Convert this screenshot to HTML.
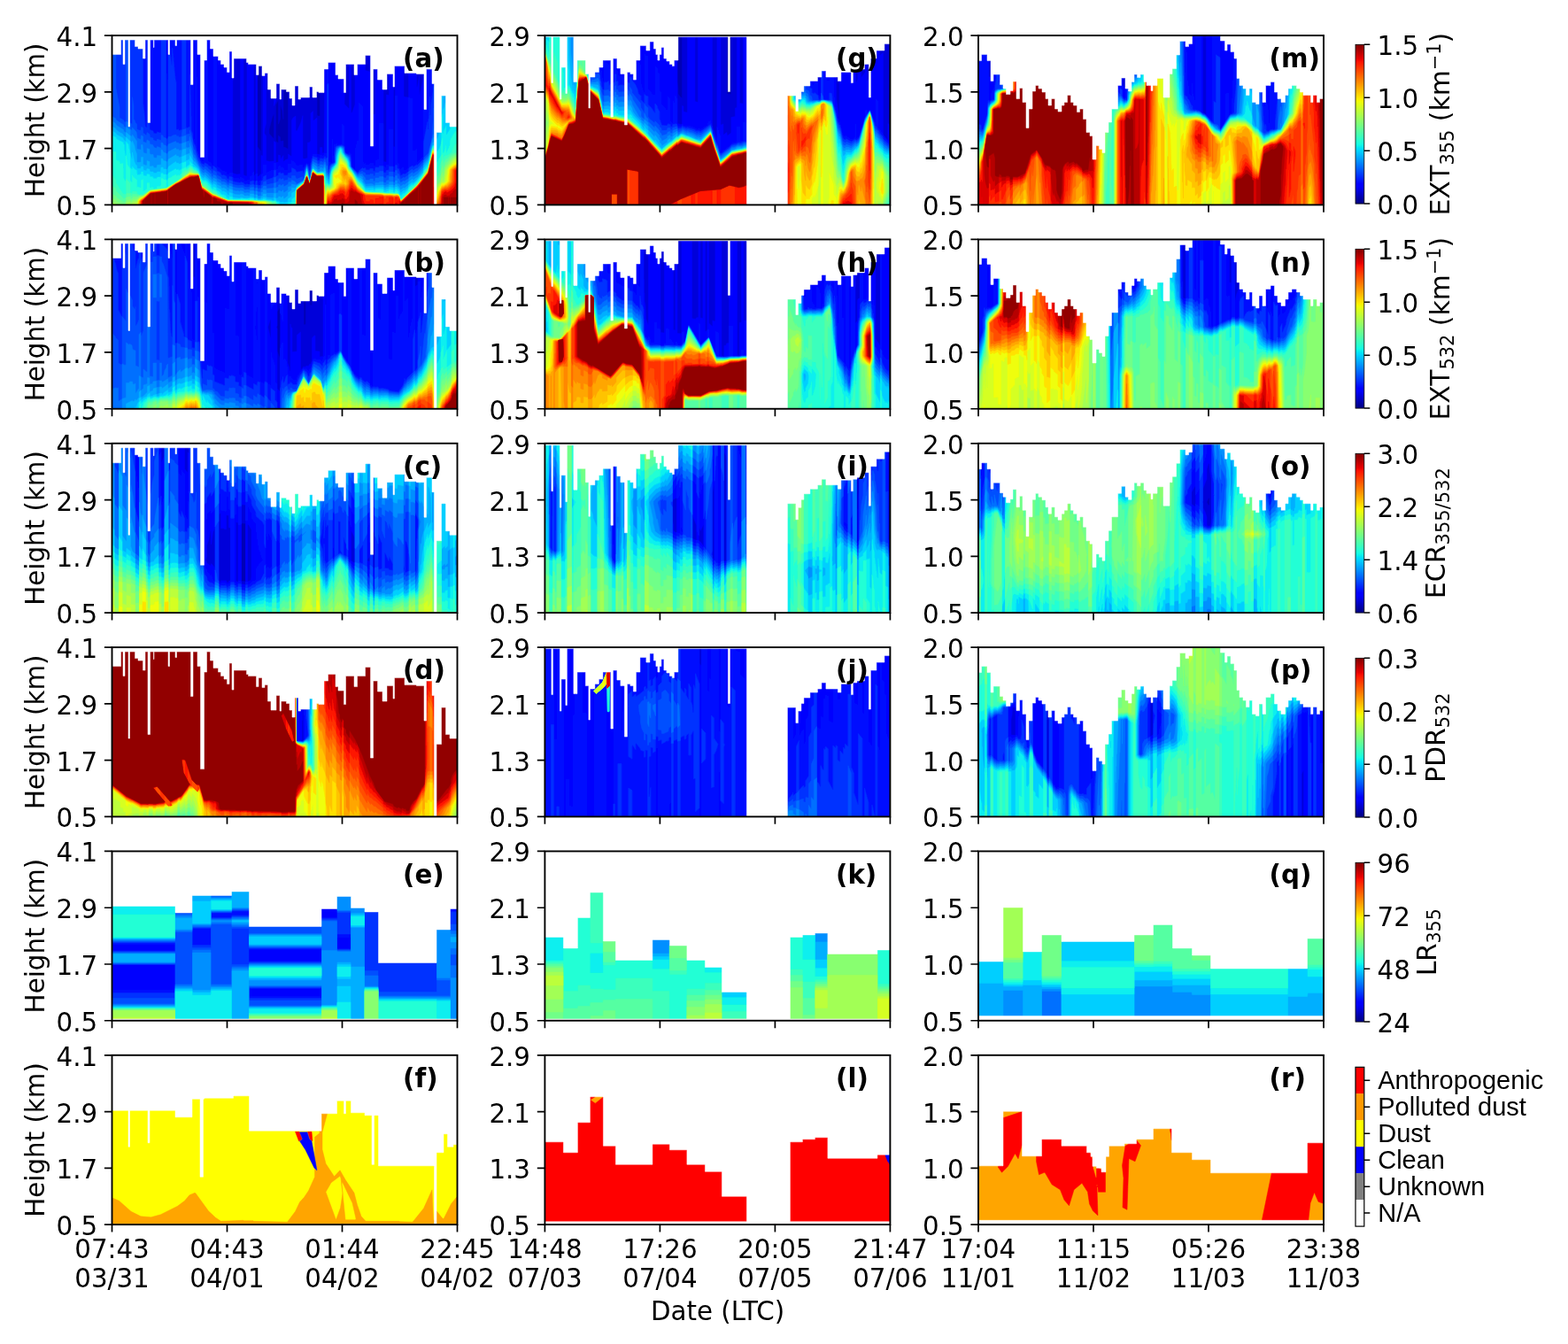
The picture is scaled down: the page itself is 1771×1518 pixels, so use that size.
<!DOCTYPE html><html><head><meta charset="utf-8"><style>
html,body{margin:0;padding:0;background:#fff;}
svg{display:block;}
text{font-family:"DejaVu Sans","Liberation Sans",sans-serif;fill:#000;}
.p path{stroke-width:1;stroke-linejoin:miter}
</style></head><body>
<svg width="1771" height="1518" viewBox="0 0 1771 1518">
<defs><filter id="bl" x="-2%" y="-2%" width="104%" height="104%"><feGaussianBlur stdDeviation="1.3"/></filter><clipPath id="cp"><rect x="0" y="0" width="780" height="382"/></clipPath>
<linearGradient id="jet" x1="0" y1="1" x2="0" y2="0"><stop offset="0.000" stop-color="#000080"/><stop offset="0.110" stop-color="#0000ff"/><stop offset="0.125" stop-color="#0000ff"/><stop offset="0.340" stop-color="#00dbff"/><stop offset="0.350" stop-color="#00e5f7"/><stop offset="0.375" stop-color="#15ffe2"/><stop offset="0.640" stop-color="#efff08"/><stop offset="0.650" stop-color="#f7f600"/><stop offset="0.660" stop-color="#ffec00"/><stop offset="0.890" stop-color="#ff1300"/><stop offset="0.910" stop-color="#e80000"/><stop offset="1.000" stop-color="#800000"/></linearGradient></defs>
<rect width="1771" height="1518" fill="#fff"/>
<g class="p">
<g transform="translate(126.50 40.10) scale(0.5)" clip-path="url(#cp)"><g filter="url(#bl)">
<path fill="#0000b6" stroke="#0000b6" d="M0 0v382h779v-382z"/>
<path fill="#0000da" stroke="#0000da" d="M365 178l1 1v53l-1 1l-10 -11v-10l7 -27zM466 113l6 8l-2 5v55l-1 1h-4l-2 -2v-64zM397 103l2 2l4 12l-5 7v131l-2 1l-2 -2l-7 -2v-14l-5 1l-2 -1v-8l-4 -4v15l-2 1l-4 -4v-81l5 -10l1 1v52l4 -11v-30l1 -1l4 12l2 19v-75zM336 52l1 1v207l-1 1l-8 -10v-183zM0 0v382h779v-382z"/>
<path fill="#0000fe" stroke="#0000fe" d="M366 137v22l4 -10v-8zM695 71l9 9v14l-9 40l-1 -1v-41l-4 24l-1 1l-1 -1v-29l3 -4zM594 66l1 1v111l-7 1l-1 -1v-104zM289 33l1 1v279l-8 1l-10 -3l1 -261zM0 0v382h779v-382h-83l-7 53l-7 11l-12 13v62l-1 1l-8 -1l-2 -2v-137h-19v251l-1 1l-4 -1l1 -165l-10 -11v59l-1 1l-5 -1v151l-1 1l-6 -1v-165l3 -3v-16l-3 -8l-3 -3v-6l7 -16l-3 -19l21 -49h-52v81l-1 1l-10 -3v-14l-21 -20v41l-2 2v68l-6 17l-2 2l-1 -1v-145l-4 -7v142l-1 1l-10 -10l1 -56l-3 -6l-4 -4v-3l-3 -6v-19l10 -60l-1 -1h-114l1 31l4 11l21 33l10 8l12 13l6 11l2 8l13 14l-1 135l-2 2l-2 -1v-12h-5v15l-1 1l-6 -1v-82l-7 6l-2 -1v-20l-5 5v62l-3 4h-4v35l-7 2l-4 -1v-97l-4 15l-9 20l-3 -1v-33l-6 4l-3 6v80l-1 1l-7 -5v11l-6 2l-4 4l-1 -1v-13l-6 9l-1 -9l-4 -1v16l-5 1l-1 -1v-44l-4 -3v45l-10 1l-8 -2v-56l-4 -6l1 -11l3 -11v-122l-4 4l-1 7l-2 2v181l-1 1l-3 -1v41l-5 6l-3 1l-1 -1v-250l9 -18l15 -50l-4 2l-23 39v271l-4 6l-1 -1v-268l-15 12v256l-2 1l-6 -3v-294l11 -21z"/>
<path fill="#0010ff" stroke="#0010ff" d="M0 0v382h779v-382h-83l-7 54l7 18l8 8v193l-15 14l-1 -1v-31l-1 4l-6 3l-2 -1v-118l-9 -2v159l-9 6l-2 -1v-7l-6 3l-2 3l-1 -1l-3 -14l-3 -1v-151h-4v159l-1 1l-4 -1v-83l-9 -1v80l-6 1l-1 5l-6 -1v-97l-1 -1h-8v82l-9 1v12l-1 1l-4 -1v-5h-7l-1 3h-9l-1 -4l-3 3l-3 -9v-122l-8 -8v88l-1 1l-2 -4l-6 24v41l-1 1l-7 -7l-1 -28l-4 -3l-1 2l-6 -1l-2 -2v-10l-2 -4v-44l-6 -7v47l-10 2l-1 -5l-1 3l-4 1l-1 3l-1 -4v32l-1 1l-2 -16l-1 -30v54l-1 1l-7 -2v-286h-78v18l1 7l2 2l58 34l14 12v193l-1 1l-4 -1l-4 7l-2 -2h-5l-1 5l-6 -1v-6l-9 -1l-5 16l-1 10l-2 1l-3 -5l-3 -1l-3 2l-4 8l-2 -1v-5l-15 1l-1 -4l-9 -8v8l-1 1l-7 -1v12l-3 3l-7 -1l-1 -6h-6l-1 -3l-4 1v5l-5 2l-1 -1v-14h-4v15l-17 7l-1 -1v-17h-6l-1 1v19l-4 4v11l-6 3l-3 -1v-18l-3 4v12l-2 2l-3 -1v-21l-3 6v3l-5 3v6l-2 2l-9 1l-3 -1l-1 -4l-7 -2v2l-2 1l-5 -2l-3 1l-7 -2l-1 -10l-7 -1v5l-2 1l-4 -3v-3l-7 -4l-3 1l-4 -6l-9 -6v-254l-7 7v245l-1 1l-2 -1l-3 -5l-6 -3v-285h-13v34l2 2l2 8v5l-3 4v218l4 4l-1 10l-4 -1l-3 -3l-2 -5l1 -1l-3 -3l-5 -15l-1 -257h-4v234l-1 1l-1 -1l-1 -118l-1 -5l-3 -3v-108h-51v42l-2 2v60l-1 1l-4 -29v-76z"/>
<path fill="#0030ff" stroke="#0030ff" d="M0 0v382h779v-295l-22 5l-18 6l-8 4l-5 5l-1 20l-4 27l-1 25l-1 1l-1 -1v-41l-2 49l-1 1v23l-1 1l-1 -1v-16l-9 46v38l-15 15l-1 -2l-8 6l-1 -4l-8 5l-1 8l-6 5l-4 2l-1 -2l-7 5l-4 -15l-4 -2v-7h-4v15l-1 1l-4 -1v-12h-9v8l-6 1l-1 5h-5l-1 -1v-14h-9l-1 3h-8l-1 9l-4 -1v-5h-7l-1 3h-9l-1 -5l-4 2l-2 -2l-8 7l-1 3l-3 1l-14 -14v-15l-2 -10l-2 -2l-1 1l-8 -4l-2 -7v-8l-5 -3l-13 2l-2 2l-2 17v18l-9 4l-3 5v5l-1 1l-1 -1v-188l-1 -5l-2 3v168l-1 1l-4 -7l-4 7l-2 -2h-5l-1 5h-5l-1 -7l-6 -1l-3 -2l-5 19v8l-2 7l-2 -3l-1 -7l-4 -6l-5 11l-1 8l-2 2l-1 -6l-14 3l-3 -6l-8 -4v9l-2 2l-6 1l-1 5h-9l-1 -5l-6 1l-1 -3l-4 2v5l-5 2l-1 -1v-13l-4 1v14l-4 3l-12 4l-2 -1v-9l-6 3l-1 8l-4 2l-1 9l-3 1l-5 -1v-10l-3 1l-1 9l-4 -1v-9l-8 2v5l-2 2l-5 -1l-3 1l-4 -1l-1 -3l-6 -2l-2 2l-16 -3l-1 -10l-7 -1l-1 6l-4 -2l-2 -5l-6 -3l-2 1l-3 -1l-2 -5l-8 -4l-1 -6l-7 -5l-1 9l-4 -4v-3l-5 -2l-3 -4l-6 -3l-2 4l-6 -3l-8 -16l-7 -27l-1 1l-4 -12v-12l-3 -9l-3 -126v118l-6 3l-3 -1v-208h-9v212l-2 2l-5 1l-1 -3l-3 1l-2 -1v-105l-2 -8l-7 -71v39l-1 1l-4 -28v-9h-2v11l-2 2v188l-4 2l-1 -1v-233h-11v219l-3 1l-6 -2l-1 4l-7 -1l-1 -5l-8 -3v-17l-2 -2v-194h-4v207l-1 1l-3 -3l-2 -28l-3 -23v-102l2 -2v-21l-9 -14v-15z"/>
<path fill="#0050ff" stroke="#0050ff" d="M0 23v359h779v-295l-30 29h-22v47l-1 1v23l-3 30v14l-3 15l-3 7l-2 13l-10 10l-1 9l-15 16l-1 -1l-7 5l-3 -3l-8 6v7l-10 7l-1 -2l-7 5l-4 -12l-4 -2v-6h-4v15l-1 1l-4 -1v-12h-9v8l-6 1l-1 5l-6 -1v-14h-9l-1 3h-8l-1 8l-4 -1v-4h-7l-1 2h-9l-1 -5l-5 -1l-1 -3l-7 3l-4 4l-15 -16l-3 -23l-12 -9l-1 -12l-4 -3h-7l-5 2l-2 3l-2 17v15l-3 3l-4 1l-4 5l-3 15l-2 -3l-2 -32v17l-1 1l-4 -15l-4 8l-2 -2h-5l-1 5h-5l-1 -7l-9 -4l-4 16l-3 24l-2 -5l-1 -11l-4 -10l-4 12l-3 19l-2 -1v-4l-13 5l-3 -2l-1 -5h-8v5l-2 1l-6 -2l-1 6h-5l-4 2l-1 -6l-6 3l-1 -3l-3 1l-1 5l-5 3l-1 -1v-11l-4 1v11l-2 2l-15 3l-1 -8l-6 2l-1 6l-4 2v6l-8 1l-1 -8h-3v5l-4 2l-1 -8l-8 1l-1 4l-7 1l-5 -1l-2 -3l-4 -1l-7 1l-12 -2l-2 -2v-6l-7 -2l-1 6l-4 -2l-1 -3l-4 -3l-7 -1l-2 -4l-8 -4l-2 -2v-5l-7 -4l-1 8l-4 -4v-3l-7 -5v-2l-7 -4l-2 4l-4 -2l-10 -15l-7 -24l-1 1l-4 -11v-12l-6 -22v8l-8 2l-1 -1v-12l-8 2l-2 16l-6 1l-1 -3l-4 1l-1 -4l-9 2l-1 2l-8 1v19l-4 3l-1 -1v-18l-6 -2l-1 -4l-4 -1v11l-1 1l-8 -3l-1 5l-6 -2l-2 -2v-3l-7 -2l-1 -7l-6 -4l-1 7l-8 -6v-11l-2 -2h-2l-1 8l-7 -2l-2 -2v-11l-3 -3l-2 -6l-2 -1v-32l-3 -19v60l-1 1l-4 -3v-197h-9v195l-1 1l-3 -1l-2 -4l-9 -5v-24l-8 -43v-87z"/>
<path fill="#0070ff" stroke="#0070ff" d="M779 87l-38 37l-4 8v78l-10 1v11l-2 3l-10 46l-11 12l-1 9l-14 16l-1 -1l-8 6l-1 -4l-9 6v8l-10 7l-1 -2l-7 5l-4 -9l-4 -1v-6h-4v14l-1 1l-4 -1v-12h-9v8l-6 1l-1 5l-6 -1v-13h-9l-1 3h-8l-1 8l-4 -1v-5h-7l-1 3h-9l-1 -5l-6 -7v-2h-8l-3 3l-6 -8l-4 -3l-6 -9l-3 -20l-10 -8l-3 -13l-4 -4l-1 1l-3 -1l-7 4l-3 18v13l-3 5l-5 2l-4 8l-3 15l-3 -3l-1 -5v-14v12l-1 1l-1 -1v-7l-3 -13l-4 8l-2 -2h-5l-1 4h-5l-1 -6l-8 -4l-1 -2l-5 26v10l-2 6l-2 -3l-1 -14l-4 -13l-3 10l-3 20l-16 10l-5 -6l-7 -3l-1 5l-6 -1l-1 5l-10 6l-1 -6l-6 4l-1 -3l-4 1v4l-5 2l-1 -1v-10l-4 1v9l-3 2l-14 1l-1 -6h-5l-2 1v4l-4 1l-1 8l-8 -1v-9l-3 1l-1 7l-4 -1v-8l-8 1l-1 5l-5 -1l-5 1l-3 -1l-1 -3l-3 -1l-7 1l-12 -2l-3 -2v-5l-7 -2v3l-3 1l-3 -2l-1 -3l-7 -3l-2 1l-3 -2v-2l-9 -4l-2 -6l-6 -2l-1 6l-4 -4v-3l-14 -12l-2 3l-3 -1l-8 -10l-10 -24l-2 -1l-2 -5l-1 -15l-5 -14l-1 -7l-1 10l-7 2l-1 -1v-13l-9 3v14l-1 1l-6 1l-1 -3l-4 1l-2 -4l-17 7v19l-4 3l-1 -1v-18l-6 -2l-1 -4l-4 -1v11l-1 1l-8 -3l-1 4l-6 -2l-3 -6l-5 -1l-2 -2v-5l-6 -3l-1 7l-8 -3v-12l-4 -2l-1 9l-8 -3l-2 -14l-9 -10l-1 7l-4 -4v-12h-2l-1 -3h-3l-3 -2v13l-1 1l-5 -3v-3l-17 -11v-3l-9 -5v199h779z"/>
<path fill="#008fff" stroke="#008fff" d="M779 87l-38 37l-4 8v79l-6 7v11l-4 1l-2 3l-10 43l-11 13v7l-13 17l-11 7l-2 -3l-7 5l-1 8l-10 8l-1 -2l-7 5l-3 -5l-5 -2v-6h-4v10l-1 1l-4 -1v-7h-9v5l-6 1l-1 2l-6 -1v-7h-9l-1 2h-8l-1 5h-3l-1 -2l-5 -1l-12 1l-7 -13v-3l-5 -3l-6 1l-14 -17l-3 -5l-1 -11l-4 -10l-8 -7l-2 -4l-1 -8l-3 -3l-4 -1l-5 4l-2 5l-2 13v12l-11 14l-5 22l-1 -3l-2 -1l-1 -8v3l-1 1l-1 -1l-3 -21l-4 9l-2 -2h-5l-1 4h-5l-1 -6l-9 -7l-2 7l-2 19l-3 10l-2 -2l-5 -26l-6 29l-18 11l-10 -2l-1 5l-7 1v7l-9 6l-2 -1v-5l-5 4l-2 -2h-4v4l-5 1l-1 -1v-10h-4v10l-1 1h-16l-1 -7h-7v5l-4 1v7l-7 1l-2 -2v-9h-3v7l-4 1l-1 -9h-8l-1 5l-5 -1l-6 1l-3 -2v-2l-7 -1l-1 2l-5 -2l-3 1l-7 -2l-2 -2v-6l-7 -2l-1 5l-4 -2l-2 -4l-6 -2l-3 1l-3 -2v-2l-9 -4l-1 -5l-7 -3l-1 5l-4 -3v-2l-8 -9l-6 -4l-2 3l-5 -3l-16 -31l-2 -1l-2 -4l-1 -11l-6 -16v-3v8l-2 2l-3 1l-4 -1v-12l-9 3v14l-1 1l-6 1l-1 -3l-4 1l-2 -4l-17 9v20l-4 3l-1 -1v-19l-6 -2l-2 -5l-3 -1v13l-1 1l-8 -1l-1 6l-7 -1l-1 -7h-5l-3 -2v-10l-6 -2v11l-1 1l-7 -2l-2 -18h-3v10l-1 1l-7 -1l-2 -2v-16l-10 -15l-1 5l-4 -4v-12l-9 -6v12l-1 1l-5 -4v-3l-15 -9l-4 -6l-7 -4v188h779z"/>
<path fill="#00afff" stroke="#00afff" d="M779 87l-38 37l-4 8v79l-6 7v21l-6 3l-10 39l-11 13v8l-15 20l-1 -1l-8 7l-1 -4l-9 7v7l-10 8l-1 -2l-7 5l-4 -7l-4 -2v-3h-4l-1 7l-4 -1v-5h-9l-1 4h-5l-1 2h-5l-1 -6l-18 1l-1 3h-3l-1 -2l-17 1l-1 -3l-6 -7v-4l-5 -5l-6 -1l-15 -20l-3 -6l-1 -10l-3 -7l-8 -8l-5 -14l-4 -3l-4 3l-4 11l-2 21l-3 5l-6 5l-5 17v6l-2 7l-3 -5l-1 -7v3l-1 1l-1 -1l-3 -20h-1l-3 9l-2 -2h-5l-1 3h-5l-1 -6l-3 -1l-6 -6l-6 30l-1 1l-2 -2l-5 -25l-2 14l-4 14l-15 10l-5 7l-8 -1v6l-8 5v7l-9 7l-2 -1v-5l-6 4l-1 -3h-4v3l-4 1l-2 -2v-9h-4l-1 10l-14 -1l-3 -2v-6h-7v5l-4 1l-1 4h-7l-1 -8h-3v6l-4 1l-1 -9h-8l-1 5l-5 -1l-6 1l-4 -4l-5 -1l-2 2l-11 -1l-6 -3v-7l-7 -2l-1 6l-4 -2l-2 -4l-7 -3l-1 2l-4 -3v-2l-9 -4l-1 -5l-7 -3l-1 5l-4 -4v-2l-14 -13l-2 3l-7 -6l-6 -15l-8 -12l-1 1l-4 -6v-8l-6 -15v8l-2 2l-6 2l-1 -1v-12l-8 2l-2 16l-6 2l-1 -4l-1 1l-4 -1v-3l-18 11v20l-4 3l-1 -1v-18l-6 -1l-1 -4l-4 -1v14l-9 1l-1 6h-7l-1 -4l-7 1l-1 -1v-10l-6 -2v10l-2 1l-7 -3v-16h-4v11l-8 1l-2 -2v-17l-4 -11l-1 -7l-5 -12l-1 5l-4 -5v-11l-9 -8v10l-1 1l-5 -4l-2 -4l-5 -2l-9 -6l-2 -4l-8 -4v176h779z"/>
<path fill="#00cfff" stroke="#00cfff" d="M779 152h-26l-2 10l-3 6l-1 -1v-49l-8 9l-2 5v79l3 3v7l-5 13l-4 -1v14l-6 1l-5 21l-2 2l-3 15l-11 14l-1 9l-17 20l-5 4l-3 -1l-8 6v5l-9 8l-2 -1l-7 6l-4 -9l-3 -1l-1 -3h-4l-1 6h-3l-1 -5l-9 -1l-1 4h-5l-1 2h-5l-1 -6l-18 1l-1 3h-3l-1 -3l-17 1l-10 -16l-10 -8l-8 -11l-9 -15v-5l-4 -11l-7 -8l-4 -7l-2 -7l-3 -3l-3 3l-5 18l-1 13l-2 4l-7 7l-3 8l-5 27l-4 -9v-4v4l-1 1l-1 -1l-3 -19l-2 3h-17l-9 -8l-6 27l-2 -2l-5 -24l-1 9l-5 18l-17 13l-2 9l-9 5v8l-8 5l-1 7l-9 2l-1 -2l-6 1l-5 -4l-1 1l-4 -1l-1 -5l-4 -1v5l-2 1l-5 -2l-10 -1l-1 -3l-6 -1l-2 3l-3 -1l-1 3h-5l-3 -2v-2l-7 2l-1 -3l-8 -1l-1 2l-13 1l-4 -2h-4l-1 2l-15 -2l-2 -2v-7l-7 -2v5l-1 1l-3 -1l-3 -5l-6 -3l-2 1l-2 -1l-2 -4l-7 -3l-3 -3l-1 -4l-6 -3l-1 5l-11 -14l-8 -6l-1 3l-4 -2l-3 -3l-6 -17l-13 -12v-7l-6 -11l-1 9l-7 3l-1 -1v-12l-9 4v13l-2 2l-5 2l-1 -3l-4 1l-2 -4l-17 12v16l-3 2l-2 -1v-12h-6l-1 -4h-4l-1 10h-8l-1 3h-7l-1 -3h-6l-2 -2v-4l-6 -1l-1 5l-7 -2l-1 -8h-4l-1 5h-8l-1 -7l-3 -3l-3 -7l-4 -20v14l-1 1l-1 -1l-3 -13v-26l-9 -9l-1 10l-5 -5l-1 -3l-15 -8l-2 -4l-8 -4v166h779z"/>
<path fill="#08efef" stroke="#08efef" d="M387 381l-1 1h-3h4zM0 226v156h380l-4 -6l-1 1l-4 -2l-1 -2l-5 1l-16 -1l-3 -3h-5l-1 2l-11 1l-1 -3l-2 -1l-2 3h-2l-2 -4h-8l-8 2l-2 -1l-29 1l-1 -5l-7 -1v4l-2 1l-4 -3l-2 -4l-6 -3l-1 1l-3 -1l-3 -5l-8 -5v-3l-2 -2l-5 -2l-1 5l-4 -5l-1 -4l-8 -9l-5 -3l-2 2l-4 -2l-3 -3l-6 -18l-7 -7h-3l-3 -3v-4l-6 -7v7l-8 6l-1 -1v-11l-9 3v14l-7 3l-1 -3l-4 2l-2 -3l-17 10v14l-2 2l-3 -1v-12h-6l-1 -3h-4l-1 9h-8l-1 3h-7l-2 -4h-6l-1 -5l-6 -1l-1 5l-7 -2l-1 -8h-4v4l-2 2l-7 1l-1 -10l-5 -3l-5 -6l-1 7l-4 -5v-31l-4 -21l-5 -6v32l-1 1l-2 -9l-1 -17l-2 -2v-3l-16 -8l-1 -4zM779 187l-3 6l-12 13v5l-8 13l-1 -1v-19l-6 12v4l-1 1l-1 -1v-43l-2 7h-8v27l7 7v25l-4 11l-5 9l-1 -2l-4 -1v-10l-5 -1l-10 42l-10 13l-1 6l-13 17l-11 10l-2 -1l-8 7v4l-10 10l-1 -1l-7 6l-3 -5l-1 -5l-3 -1l-1 -3h-4l-1 7l-4 -2v-4l-9 -1l-1 4h-5l-1 2h-5l-1 -6l-7 -1l-11 1l-1 3h-3l-1 -2l-8 1l-9 -1l-7 -11v-2l-12 -11l-19 -30l-2 -11l-3 -6l-5 -5v-2l-5 -6l-1 -5l-3 -4l-5 11l-4 23l-10 14l-3 11l-2 19l-2 2l-3 -2l-1 -7v4l-1 1l-1 -1l-3 -19l-4 -2h-13l-10 -9l-7 28l-2 -2l-5 -22l-6 25l-10 7l-7 8l-2 8v11l-9 6v5l-2 2l-6 1l-2 4h-3h386z"/>
<path fill="#21ffd5" stroke="#21ffd5" d="M0 262v120h377l-9 -8l-5 1l-1 -1l-33 -1l-1 -1l-7 1l-1 -2l-8 -1l-1 2l-20 -2l-2 1h-16l-1 -1l-9 1l-25 -15l-2 -4l-7 -4l-2 2l-13 -17l-4 -3l-3 1l-4 -2l-8 -21l-11 -7l-2 -4l-6 -4v2l-7 6l-2 -1v-2l-9 4v8l-7 7l-1 -2l-4 3l-1 -4l-9 4l-1 2l-8 3v18l-4 3l-1 -1v-17h-5l-2 -3h-4v16l-3 2h-6l-1 6l-7 1l-1 -5l-7 1l-1 -1v-10h-6v14l-8 5l-1 -1v-26l-4 2v16l-1 1l-9 -2v-16l-7 -5l-3 -6v16l-1 1l-4 -4v-27l-6 -9l-3 -21v58l-1 1l-5 -8l-1 -33l-7 1l-1 -7h-4l-4 -2v-18zM779 218l-2 2l-1 -4l-12 20v10l-8 19l-1 -1v-16l-4 14l-3 4l-1 -1v-33l-3 10v29l-4 5l-5 11l-5 -1v-34l-5 -1l-11 45l-9 11l-1 5l-14 19l-10 9l-1 -1l-9 8v4l-18 18l-3 -6v-3l-5 -5v-2h-4l-1 4h-3l-1 -3l-9 -1l-1 3h-11l-1 -3l-2 -1l-17 2l-21 -1l-8 -15l-11 -11l-12 -21l-8 -11l-2 -11l-12 -17l-4 -9l-4 9l-2 17l-2 6l-11 16l-3 15l-1 14l-3 3l-4 -3v-2l-1 3l-1 -1l-3 -15l-4 -10l-13 1l-10 -9l-7 28l-3 -5l-4 -18l-6 24l-16 13l-3 14v17l-2 2l-7 1v3l-3 1h376z"/>
<path fill="#3bffbc" stroke="#3bffbc" d="M0 313v69h372l-2 -2v-4l-3 -1l-4 1l-16 -3l-17 1l-18 -2l-1 1l-38 -1l-1 -1l-9 1l-25 -14l-2 -3l-7 -4l-1 2l-11 -10v-2l-7 -7l-2 1l-5 -3l-5 -11l-3 -11l-8 -6l-1 1l-3 -2l-1 -3l-5 -3l-9 9l-1 -3l-9 7v7l-7 9l-1 -1l-4 5l-16 9l-6 5l-38 5l-17 11h-2l-1 -2l-1 2h-3l-6 -4v-3l-10 -1v3l-4 1l-1 -1v-21l-9 -10v34l-5 1l-4 -4l-14 -22v-6zM779 244l-2 3l-1 -3l-9 20l-11 8l-2 -2l-6 8l-1 -10l-3 3v15l-5 10l-3 12l-2 2l-4 -1v-54h-3l-2 -2l-11 45l-10 13v3l-12 17l-22 20l-1 6l-17 16l-4 -14l-4 -2h-13l-1 -1l-5 1l-12 -2h-22l-19 -2l-5 -6l-2 -6l-6 -8l-5 -4l-11 -20l-9 -12l-2 -10l-3 -6l-4 -4v-2l-8 -10l-1 -4l-4 11l-2 16l-13 21l-2 11v11l-2 6l-3 3l-4 -4l-1 2l-3 -3l-5 -24h-14l-10 -8l-5 26l-2 1l-6 -21l-2 11l-4 11l-16 15l-3 17v18l-3 1h367z"/>
<path fill="#55ffa2" stroke="#55ffa2" d="M0 339v43h370v-3l-3 -2l-2 1l-8 -3l-9 -1l-75 -1l-1 -1l-8 1l-17 -8l-18 -11l-1 2l-19 -18l-1 1l-7 -7l-6 -21l-7 -4l-5 -1l-1 -3l-6 -3v2l-8 8l-1 -3l-8 8l-1 6l-35 24l-36 4l-18 12h-11l-1 1l-1 -3h-10v2l-4 2l-1 -6h-8l-1 9l-5 3l-18 -18v-5zM779 265l-6 1l-8 4l-9 10l-1 -2l-7 13l-1 -10l-3 5v16l-8 16l-5 1l-1 -1v-61h-3l-2 -2l-10 43l-11 15l-1 5l-12 17l-39 38l-5 -15l-74 -4l-7 -7l-5 -9l-8 -9l-10 -19l-9 -12l-5 -15l-4 -4v-2l-4 -4l-5 -9l-3 8l-3 18l-12 19l-3 27l-5 5l-4 -3l-1 3l-3 -3l-2 -5l-3 -22l-13 1l-10 -9l-6 27l-2 1l-6 -20l-1 7l-5 14l-16 14l-2 8l-1 28h364z"/>
<path fill="#6fff88" stroke="#6fff88" d="M0 358v24h368l-2 -3l-1 3l-5 -5l-14 -3l-10 1l-16 -2h-57l-23 -10l-5 -4l-8 -2l-18 -16l-1 1l-7 -8l-6 -22l-7 -3h-4l-2 -3l-5 -2l-9 10l-1 -2l-10 11l-34 22l-37 5l-17 12l-9 1l-3 3l-1 -2l-9 1l-1 3l-4 2l-1 -6l-9 2v8l-5 3l-9 -5l-1 -2l-6 -3l-2 -4zM779 269l-6 1l-8 5l-9 13l-1 -2l-7 18l-1 -10l-3 7v13l-7 12l-3 3h-3l-1 -1v-69h-3l-2 -3l-11 46l-10 13v3l-14 19l-38 36l-4 -13l-2 -2l-32 -1l-17 -2l-5 1l-20 -2l-17 -20l-11 -21l-10 -13l-5 -15l-4 -4v-2l-5 -5l-1 -3l-2 -1l-1 -3l-6 26l-9 12l-3 7l-1 23l-3 5l-4 3l-1 -2l-3 -1l-1 3l-3 -1l-2 -2l-3 -28h-15l-8 -8l-6 27l-1 1l-3 -4l-4 -14l-6 19l-16 14l-2 9l-1 26h364z"/>
<path fill="#88ff6f" stroke="#88ff6f" d="M0 368v14h361l-3 -4l-10 -3l-88 -3l-34 -15l-17 -14l-1 1l-4 -3l-3 -4l-6 -24l-12 -2l-1 -2l-6 -2l-4 5l-11 7l-6 6l-32 21l-36 4l-16 12l-8 2l-8 6l-8 1l-3 4l-3 -1v-3l-8 2l-1 6l-4 3l-8 -2l-10 -5l-1 -3zM779 272l-9 4l-6 6l-8 12l-1 -1l-3 6l-3 16l-1 1l-1 -1v-7l-3 6l-1 13l-9 10h-3l-1 -1v-76h-3l-2 -2l-10 44l-24 34l-39 38l-4 -14l-5 -2l-7 1l-1 -1h-18l-9 -2l-35 -1l-18 -19l-13 -25l-8 -9l-5 -15l-12 -14l-1 -4l-6 27l-9 11l-2 5l-1 19l-2 9l-6 5l-1 -2l-3 -1l-1 4h-4l-4 -33l-2 -1l-11 1l-10 -8l-6 26l-1 1l-2 -1l-5 -15l-6 17l-16 14l-2 11v23l-1 1h364z"/>
<path fill="#a2ff55" stroke="#a2ff55" d="M0 377v5h9l-1 -2zM32 379v3h325l-2 -4l-9 -3l-68 -1l-1 -1h-15l-35 -15l-18 -14l-3 -1l-5 -6l-6 -24l-11 -1l-8 -3l-23 18l-30 19l-37 5l-15 12l-9 3l-6 8l-9 2l-4 4l-2 -1v-3zM779 276l-6 2l-9 9v2l-6 6l-2 4l-1 -1l-2 5l-4 24l-1 1l-1 -1v-8l-3 6v6l-6 5l-3 7l-4 1l-1 -1v-81h-3l-2 -3l-11 46l-25 34l-37 35l-5 -15l-67 -3l-9 -2l-17 -18l-12 -24l-10 -12l-3 -11l-12 -13l-1 -3l-6 26l-8 8l-3 8v20l-2 7l-5 4h-2l-1 -2h-3v3l-5 4l-4 -38h-15l-8 -8l-6 26l-1 1l-2 -1l-5 -15l-6 17l-16 14l-2 12v23h363z"/>
<path fill="#bcff3b" stroke="#bcff3b" d="M41 381l-4 1h4zM46 381v1h308l-6 -6l-7 -1l-7 1l-14 -2h-47l-1 -1h-10l-13 -5l-14 -7l-7 -2l-24 -17l-3 -4l-6 -24l-19 -4l-21 16l-33 21h-8l-6 2l-15 1l-8 2l-13 11l-9 4l-4 4l-3 7zM779 279l-6 3l-12 13l-4 8l-2 1l-4 26l-2 2l-2 -1l-3 1v2l-7 8l-2 8l-4 1l-1 -1v-87h-3l-2 -3l-10 44l-25 34l-38 36l-4 -13l-4 -2l-7 1l-10 -2l-8 1l-9 -2l-37 -1l-19 -19l-12 -24l-8 -8l-4 -8l-1 -6l-13 -14l-5 23l-9 9l-2 6v23l-2 5l-7 5l-4 -2l-1 4l-2 1l-3 6l-1 -1l-3 -42l-2 -1l-11 1l-10 -8l-6 26l-1 1l-2 -2l-5 -15l-5 16l-17 15l-2 14v21h64l1 -5l1 5h297z"/>
<path fill="#d5ff21" stroke="#d5ff21" d="M56 382h294l-3 -5l-4 -1h-14l-11 -2h-55l-22 -9l-7 -4l-7 -2l-25 -19l-7 -26l-12 -1l-6 -2l-54 36l-37 5l-14 12l-10 5l-3 4l-1 6zM477 314h-15l-8 -7l-7 26l-3 -4l-4 -13l-6 18l-16 14l-2 14v20h64v-35l-1 -1zM779 283l-7 4l-12 13l-2 4l-1 12l-2 1l-2 14l-4 3l-2 -1l-3 2v2l-4 4l-3 6l-2 8l-4 1l-1 -1v-91h-3l-2 -3l-11 45l-23 31l-39 37l-5 -14l-33 -1l-31 -3l-1 1l-11 -2l-18 -18l-12 -24l-8 -8l-5 -13l-12 -12l-3 19l-3 6l-8 7l-1 3v28l-8 6l-3 1l-1 -2h-2l-5 11v23h297z"/>
<path fill="#effe08" stroke="#effe08" d="M58 382h290l-1 -4l-14 -1l-5 -2l-65 -1l-23 -9l-7 -4l-5 -1l-26 -19l-7 -27h-10l-6 -2h-3l-52 35l-24 4h-8l-7 2l-12 11l-7 3l-6 6zM477 315l-2 -1l-11 1l-10 -8l-7 26l-2 -1l-5 -15l-6 17l-16 14l-2 16v18h63l1 -32l-1 -1zM779 286l-15 11l-4 7l-3 26l-9 7l-1 -2l-3 2v3l-6 9l-3 11l-4 1l-1 -1v-95h-3l-2 -3l-11 45l-25 33l-37 35l-4 -13l-4 -2l-5 1l-10 -2l-4 1l-12 -2l-38 -1l-6 -3l-15 -14l-14 -25v-2l-7 -6l-5 -12l-3 -2v-2l-9 -7l-2 17l-3 6l-10 10l1 17l2 9l-3 3l-11 6l-1 -2l-3 1v5l-3 5v21h296z"/>
<path fill="#ffe100" stroke="#ffe100" d="M59 382h286l-2 -4l-6 -1l-3 1l-14 -3l-58 -1l-35 -14l-25 -19l-7 -26l-19 -2l-53 35l-37 5l-12 11l-13 9zM477 315h-15l-6 -6l-3 -1v4l-6 21l-2 -1l-5 -15l-6 17l-16 14l-2 34h63v-27l1 -2l-1 -1zM779 289l-10 6l-5 5l-2 4l-3 27l-11 8l-1 -2l-3 3v3l-6 10l-3 12l-4 1l-1 -1v-99h-3l-2 -3l-10 43l-25 33l-38 36l-5 -14l-33 -1l-9 -2h-19l-15 -2l-17 -15l-12 -22l-8 -8l-6 -14h-2l-1 -3l-6 -3l-1 3l-2 -3v8l-4 14l-3 3l-1 -1l-3 2h-3l5 6l2 -4l8 8l1 3l-9 5l-1 -1l-2 9l-4 4l-12 7l-1 -3l-2 1l-3 12v18h295z"/>
<path fill="#ffc300" stroke="#ffc300" d="M341 380v2h1l-1 -1zM525 332l1 -1l3 4l-3 1zM60 382h279l-2 -4l-1 3l-2 -3l-14 -3l-58 -1l-24 -9l-2 -2l-8 -2l-26 -19l-7 -27h-12l-1 -1h-6l-7 5h-2l-9 6l-1 2l-21 12l-12 9l-24 4h-9l-6 2l-9 9l-13 9l-2 3zM477 315h-15l-8 -7l-7 26l-3 -4l-4 -13l-5 16l-17 15l-1 34h62v-45l-1 -1zM779 292l-7 3l-8 8l-2 26l-6 7l-8 5l-1 -1l-2 1l-5 11l-5 18l-4 1l-1 -1v-103h-3l-2 -3l-11 44l-23 30l-39 37l-4 -12l-2 -2l-7 1l-7 -2h-18l-18 -2l-5 1l-1 -1h-13l-7 -2l-17 -15l-11 -20l-8 -7l-6 -14l-2 1l-1 -3h-6v3l-3 4v7l3 7v7l2 5l-3 3l-5 2l-5 6v2l-6 5l-5 2l-6 5l-2 -1v-2l-2 2l-3 27h295z"/>
<path fill="#ffa600" stroke="#ffa600" d="M61 382h271l-4 -5l-3 -1l-3 1l-6 -2l-55 -1l-34 -13l-25 -19l-7 -27h-19l-44 27l-9 7l-37 5l-24 21zM477 316h-13l-4 -2l-6 -6l-7 26l-3 -4l-4 -12l-6 17l-16 14l-1 33h62v-43l-1 -1zM779 293l-7 4l-6 6l-2 14v13l-8 9l-1 -1l-7 5l-1 -1l-3 3v3l-3 5l-3 13l-4 9l-4 -1v-105h-3l-2 -4l-11 44l-26 33l-36 34l-4 -13l-5 -2l-4 1l-25 -1l-8 -2l-13 1l-22 -3l-17 -13l-14 -23l-7 -1l-2 -11l-3 -6l-2 1l-1 -3l-6 4v9l6 13l1 -6l4 6l1 9l-3 3h-2l-1 -3l-9 1l-4 4l-1 3l-9 7l-5 2l-7 6l-1 -3l-3 4l-1 22h294z"/>
<path fill="#ff8800" stroke="#ff8800" d="M62 382h267l-1 -4l-2 -1l-2 1l-4 -2l-57 -1l-32 -13h-3l-26 -19l-7 -28l-19 1l-16 9l-6 5l-9 4l-21 15l-24 4h-8l-7 2l-12 12l-7 4l-3 4zM477 316h-15l-8 -7l-7 25l-2 -1l-5 -15l-6 17l-16 14l-1 33h61l1 -41l-1 -1zM525 305l-3 2v4l3 7l1 -6l2 4l1 -1v-8l-1 -1l-2 1zM779 295l-11 8l-2 27l-2 4l-7 7h-3l-9 5l-8 29l-3 3l-4 -1v-107h-3l-2 -4l-10 42l-25 32l-38 36l-4 -12l-4 -2l-8 1l-1 -1h-21l-5 -2l-36 -1l-16 -11l-4 -4l-10 -17l-3 -3h-4l-2 5v6l-6 8l-4 -4l-8 1l-7 8l-12 7l-6 6l-2 -1v-2l-3 6v18h293z"/>
<path fill="#ff6b00" stroke="#ff6b00" d="M64 375v7h264v-4h-7l-4 -2l-54 -1l-33 -12l-28 -20l-7 -27l-20 1l-22 14l-9 4l-21 15l-27 4h-8l-18 16l-4 2zM477 316l-13 1l-10 -8l-7 26l-2 -2l-5 -15l-6 17l-16 14l-1 33h61zM779 297l-9 6l-2 27l-2 4l-8 9l-2 1l-1 -1l-9 4l-2 3v6l-4 11l-1 7l-5 7l-4 -1v-109h-3l-2 -4l-11 43l-23 29l-39 37l-4 -11l-4 -2l-8 1l-8 -2l-14 1l-3 -2l-38 -1l-18 -12l-14 -21h-3l-2 2v7l-8 11l-3 -2v-2l-3 -1l-6 1l-7 7l-12 7l-7 7l-1 -3l-3 9v12h293z"/>
<path fill="#ff4d00" stroke="#ff4d00" d="M325 379v3h1zM65 375v7h258l-2 -4l-8 -2l-2 1l-1 -1l-48 -1l-28 -11l-6 -1l-26 -19l-7 -28l-19 1l-3 3l-6 2l-15 10l-9 4l-19 14l-37 5zM477 317h-14l-8 -7h-2l-6 25l-3 -4l-4 -12l-6 17l-16 13l-1 33h61zM779 298l-6 4l-2 3v17l-1 9l-6 10l-5 4l-9 2l-2 2l-1 -1l-3 5v8l-2 4l-1 9l-2 5l-3 3h43zM726 269l-1 -1l-11 43l-26 32l-35 33l-2 -1l-3 -9l-4 -2l-8 1l-6 -2l-16 1l-1 -2l-40 -1l-16 -10l-4 -4l-3 -6l-3 -2l-5 -9l-2 -1l-2 2l-3 11l-6 8h-2l-2 -4l-9 -1l-5 6l-14 8l-7 9l-1 -4l-2 6l-1 12h244v-73l-4 -1z"/>
<path fill="#ff3000" stroke="#ff3000" d="M66 374v8h254v-4l-5 -1l-44 -1l-1 -1l-7 1l-26 -9l-2 -2l-6 -2l-1 1l-12 -10l-14 -9l-7 -28l-19 1l-7 5l-6 2l-12 8l-9 4l-19 14l-27 4h-8l-17 16zM477 317h-15l-8 -7l-7 25l-2 -1l-5 -15l-6 17l-16 14v32h60zM779 300l-6 5v22l-3 10l-9 10l-5 2l-1 -1l-5 1l-4 3l-2 6l-1 16l-4 8h40zM726 270l-1 -2l-10 42l-25 31l-38 36l-4 -10l-4 -2h-4v3l-4 1l-1 -4l-3 -1l-7 1l-5 -1l-1 5h-5l-1 -6l-40 -1l-17 -10l-6 -8l-4 -3l-4 -8l-1 1l-1 -1l-4 9v3l-8 10l-4 -6l-8 -1l-7 7l-12 6v3l-7 8l-1 -5l-3 15h244v-38l-4 -1z"/>
<path fill="#fe1200" stroke="#fe1200" d="M626 366v11l-6 1v4h15v-15zM487 382h126v-17h-9l-1 3h-8v11l-1 1l-4 -1v-7l-7 -1l-1 4h-9l-3 -14l-15 -8l-6 -7l-1 1l-6 -8l-1 1l-1 -1l-12 24l-3 -2v-8l-4 -2l-3 1l-2 -1l-6 7l-9 2l-4 6l-1 5l-6 5l-1 -5zM66 382h254l-2 -4l-6 -1l-2 1l-1 -1l-48 -1l-32 -12l-1 1l-26 -20l-7 -28l-19 2l-30 17h-2l-20 15l-37 5l-20 18zM477 318l-2 -1l-11 1l-10 -8l-7 25l-2 -1l-5 -15l-6 17l-16 14v32h59zM779 301l-4 5v24l-2 7l-10 12l-5 2l-3 -1l-4 1l-3 3l-1 -1l-3 11v13l-2 5h37zM725 269l-10 41l-13 18l-22 23l-28 26l-3 -7l-2 3h-2l-1 -7h-4v16h90v-17l-4 -1v-93z"/>
<path fill="#da0000" stroke="#da0000" d="M626 381v1h9v-1zM604 381v1h9v-1zM640 378v4h4v-4zM571 382l-5 -12v-10l-11 -5l-6 -6l-1 2l-6 -6h-2l-4 6v7l-2 6l-5 7l-4 -2v-7l-6 -6l-1 4l-2 -3l-3 4l-11 1l-5 10v3l-7 5l-1 -6l-1 8zM314 378l-48 -1l-1 -1l-2 1l-25 -8l-8 -4l-2 1l-26 -20l-7 -29l-8 2h-8l-12 5l-22 12l-22 16l-37 5l-18 17l-1 8h249zM477 318h-15l-6 -6l-3 -1l-6 25l-2 -2l-5 -15l-6 17l-16 14v32h59zM779 303l-1 1v22l-3 14l-2 4l-6 6l-11 6l-1 -3l-4 1l-2 2v3l-1 1l-1 -2l-2 8l-1 16h35zM725 270l-10 41l-26 33l-15 12l-22 22l-2 -4l-1 8h81v-3l-4 -1z"/>
<path fill="#b60000" stroke="#b60000" d="M312 381v1zM489 378v3l-1 1h1zM125 351l-4 2h-8l-6 2l-20 2l-18 17v8h56zM566 382l-2 -4l-4 -19l-10 -6l-3 1l-5 -4l-1 1l-1 -1l-2 4l-2 20l-4 4l-6 1l-1 -8l-5 -3l-2 4l-3 -1l-5 2l-2 -1v-3l-6 2l-2 5l-3 2v3l-2 1zM779 335l-1 12l-1 1l-1 -1l-6 6v2l-6 4l-1 3l-7 1l-1 -3l-5 1l-2 4l-1 -1l-2 18h34zM127 349v33h183l-2 -4l-47 -1l-31 -11l-2 1l-5 -5l-21 -15l-7 -29l-9 2h-8l-34 17zM477 318h-15l-8 -7l-7 25l-3 -4l-4 -12l-6 17l-16 13v32h59zM725 271l-11 42l-21 28l-23 20v2l-18 16l-1 -2v5h75l-1 -1z"/>
<path fill="#920000" stroke="#920000" d="M489 382zM502 381l-1 1h7v-1zM558 380v2zM519 379v3h6v-2zM251 379v3h8v-3zM265 378v4h7v-4zM660 373l-7 6v3h7zM72 372l-2 2v8h2zM549 371v11h6l-1 -6zM765 366v16h14v-16zM761 366v16h2v-16zM750 366v16h9v-16zM88 357l-14 13v12h14zM96 356l-6 1v25h6zM125 351l-8 3l-19 2v26h27zM691 344l-6 7l-11 8l-12 12v11h29zM696 337l-3 4v41h3zM247 382l-2 -6l-8 -1l-1 -6l-7 -2v13l-4 1l-1 -1v-13l-3 -5l-12 -9v12l-1 1l-1 -1l-2 -15l-3 -2l-7 -30l-12 3l-1 -1l-6 1l-33 17l-16 11v33zM477 318h-15l-8 -7l-7 25l-2 -1l-5 -15l-6 17l-16 14v31h59zM724 275l-9 37l-17 23v47h26z"/>
<path fill="#ffffff" stroke="#ffffff" d="M0 0v43h20v-32l1 -1h3l1 1v54h4v-54l1 -1h6l1 1v195h3v-195l1 -1h10l1 1v14h6l1 1v4h10l1 1v21h5v-41l1 -1h4l1 1v186h5v-186l1 -1h6l1 1v16h1v-16l1 -1h30l1 1v32h3v-32l1 -1h11l1 1v12h3v-12l1 -1h30l1 1v100h5v-100l1 -1h8l1 1v32h6l1 1v231h8v-218l1 -1h5v-45l1 -1h6l1 1v19h6l1 1v16h10l1 1v8h5l1 1v8h6l1 1v6h6l1 1v10h5v-46l1 -1h4l1 1v59h4v-43l1 -1h27l1 1v8h3l1 1v3h17l1 1v23h5v-19l1 -1h6l1 1v21h6v-5l1 -1h5l1 1v36h6l1 1v19h12v-32l1 -1h6l1 1v34h3v-21l1 -1h10l1 1v4h6l1 1v14h5l1 1v15h6v-43l1 -1h6l1 1v29h5v-3l1 -1h19v-23l1 -1h5l1 1v23h9v-12l1 -1h3l1 2h12v-52l1 -1h8v-14l1 -1h15l1 1v27h5l1 1v8h12l1 1v30h4v-63l1 -1h17l1 1v23h7v-23l1 -1h17v-19l1 -1h10l1 1v204h6v-173l1 -1h8l1 1v23h10l1 1v21h10v-34l1 -1h12l1 1v28h3v-46l1 -1h21l1 1v15h26l1 2h16l1 1v79h5v-90l1 -1h11l1 1v32h4l1 1v272h5v-162l1 -1h10v-82l1 -1h8l1 1v60h8l1 1v8h16v-206z"/>
</g></g>
<g transform="translate(126.50 270.44) scale(0.5)" clip-path="url(#cp)"><g filter="url(#bl)">
<path fill="#0000b6" stroke="#0000b6" d="M0 0v382h779v-382z"/>
<path fill="#0000da" stroke="#0000da" d="M379 154l1 1v112l-1 1l-6 -16v-89zM434 126l4 4v61l-3 2l-2 -1v-65zM448 83l4 4v61l-1 1l-4 -1v-64zM0 0v382h779v-382z"/>
<path fill="#0000fe" stroke="#0000fe" d="M358 180l1 1v40l-1 1l-6 -24zM483 69l1 1v77l-1 1l-1 -1v-77zM688 51l8 19l-5 13v19l-6 4l-1 -1v-48zM413 35l24 39l10 8l12 13l6 11l2 8l10 11v139l-7 1l-1 -1v-11l-10 -1v-35l-3 1l-4 5v52l-4 8l-1 -2l-3 5h-6l-1 3l-4 -2l-6 8l-1 -1v-85l-8 7v37l-10 1l-1 -1v-53l-3 -1l-1 -8v105l-1 1l-1 -1l-1 -7l-4 -11v-154l5 -7v-4l-4 -9l-16 17l-1 221l-1 1l-6 -6v-135l-2 -4l2 -4v-107l31 -35l7 -16zM0 0v382h779v-382h-591v84l-1 1l-7 -1v-84z"/>
<path fill="#0010ff" stroke="#0010ff" d="M204 270l1 1l-1 9l-1 -1zM328 147l1 1v84l-1 1l-5 -32l2 -36zM366 137l-7 6v14l7 -13zM386 116l-5 5v22l-1 1v23l2 2l4 17zM607 93l1 1v86l-2 1l-5 -3v-79zM328 87l1 1v10l-1 1l-1 -1v-10zM688 51l8 20l9 9l3 5v12l-4 1l-6 39l-1 -1v-47v4l-2 2h-4v101l-6 21l-1 -1v-126h-4v84l-5 19l-5 36l-1 -1v-94l-7 6l-1 -1v-55l19 -20zM319 48l1 1v263l-2 1l-15 -7v-245l7 -7l5 -2zM203 32l4 6l1 11l7 6v88l-1 1l-4 -3h-5v90l-6 1l-1 -1v-26l-1 -1v-73l-4 -1v-88zM292 28l1 1v277l-3 1l-4 -2v-86l-8 -3v-172zM145 20l2 2v104l-1 1l-4 -11v-93zM248 11l3 1l-3 19l4 8l4 16l3 5v4l4 6v9l2 2v76l-2 1l-8 -3v145l-1 1l-13 -5l-10 -6v-77l-4 -3v-186l8 -7zM250 11l1 -1l1 1l-1 1zM533 15v261l-1 1l-13 -20v-168l-6 7v156l-8 5l-2 -1v-135l-9 4v135l-7 3v5l-4 5l-1 -1v-124l-1 115l-4 5l-1 8l-8 -5h-7l-2 -2h-3l-4 8l-1 9l-3 6l-1 -1l-1 5l-2 2l-3 -4l-3 -2l-1 2l-4 -4l-6 10l-1 -1l-8 13v3l-2 2h-8l-1 -3l-3 -1l-1 -5l-1 4l-6 -9l-1 -26l-4 -7l-4 2l-1 -1v-37l-2 -1l-4 14v135h399v-382h-121v160l-7 13l-3 8l-1 -1v-51l-5 -2v84l-1 1l-7 -2v62l-1 1l-9 -3v-198l-7 -7l-2 -16l-10 6l-16 16l-1 2v174l2 2v81l-1 1l-4 -1l-3 -3v-327h-8v210l-1 6l-1 1l-7 -1v-159l-5 -5v259l-1 1l-8 -4l-11 -17v-263zM0 0v382h375l-2 -4v-52l-5 -4v-37l-7 -20l-2 -10v74l-1 1l-7 -5v-202l10 -10v-8l5 -11l38 -42l8 -17l-1 -13l-1 -1l-51 44l-16 17v6l2 2v235l-2 1l-9 -5v-261l-6 10l-4 -1v-29l24 -40h-160v226l-1 1h-4l-3 -2v-105l-2 -5v-4l2 -3l-4 -1l-6 -21v-86h-5v32l-1 1l-9 -23v-10h-18v43l-1 1l-5 -19l-3 -1v-24z"/>
<path fill="#0030ff" stroke="#0030ff" d="M779 0h-66v124l-1 5l-4 1v32l-4 1l-5 47l-1 1l-1 -1v-45v6l-6 15v103l-6 8l-1 -1v-92l-4 21v75l-12 12l-6 10l-1 -8v5l-3 10l-11 16l-20 -3l-3 -3l-13 -3l-7 1l-4 -4l-4 1l-6 -1l-1 2h-3l-4 -3v-6l-7 -6l-2 3l-8 -5l-1 -5l-4 -1v3l-2 1l-9 -7l-9 -16v-3l-11 -15l-10 -17v-87l-3 -3l-3 1v85l-8 7l-2 -2l-9 6v2l-7 6v6l-4 5l-1 -1v-11l-3 6l-2 1l-1 8l-8 -8h-3l-9 -4l-4 9v7l-3 10l-2 1l-1 6l-2 2l-5 -11l-1 -1l-1 1l-4 -5l-5 10l-2 1l-8 17v4l-2 2h-8l-1 -3h-2l-2 -3l-1 5l-2 -1l-3 2l-1 -1v-20l-2 1l-4 13l-3 3l-1 -1v-13v5l-3 6l-1 11l-2 6v44h399zM0 22v360h373v-14l-5 -6v-19l-9 -7v28l-1 1l-7 -6v-35l-6 -3v36l-1 1l-10 -8v-27l-5 -2l-1 9l-8 -4v12l-1 1l-16 -9v-28l-5 -2v11l-1 1l-4 -1v21l-1 1l-6 -3v-7l-6 -1l-2 -2v-10l-8 -3l-1 2l-4 -1l-1 7l-9 -2v16l-1 1l-23 -9v-14l-4 -2v-17l-6 -3l-1 2l-5 -4v13l-2 1l-8 -4v20l-1 1l-1 -1l-3 -39l4 -4v-15l-6 -1l-1 -22l-4 -1v-92h-5v106l-3 1l-5 -2v-14l-10 -4v-174l-5 -15v182l-1 1l-2 -2v-4l-8 -28v-40l-7 -23v111l-2 1l-3 -2v-210l2 -2v-21h-7v220l-1 1l-2 -3l-2 -15l-2 -44l-1 -1l-1 -71l-2 -6v-38l2 -2v-14l-3 -1l-1 -4l-11 -12v-10h-5v36l-1 1l-7 -1v-36h-7v10l-1 1h-8l-1 -1v-10h-3v10l-4 3h-12l2 6l7 9v11l-4 1l-3 6l-1 -1v-23l-4 6v13l-3 7l-4 17l-1 -1v-39l-1 3l-2 -1l-4 -12v-15h-14v34l-1 1l-1 -5l-3 -1v-29h-4v174l-1 1l-8 -16v-82l-4 -10l-2 -12l-4 -11v-18z"/>
<path fill="#0050ff" stroke="#0050ff" d="M359 369v13h9l-1 -4zM101 139l7 1v132l-1 1l-7 -1v-132zM80 23v32l-9 20v131l-4 10l-1 1l-1 -1v-169l-4 12v122l-4 10l-3 4l-1 -1v-42v4l-2 2l-5 -8v-13l-5 -10l-3 -1v-5l-3 -1l-3 -8v71l-1 1l-8 -10v108l-2 1l-7 -4v-52l-6 -5v-2l-8 -9v171h351v-25l-6 -5v27l-1 1l-10 -8v-20l-5 -4l-1 10l-8 -6v10l-1 1l-8 -4l-2 -3l-6 -2v-24l-5 -1v7l-1 1l-4 -1v21l-1 1l-6 -2v-7l-8 -2v-11l-4 -1l-5 1l-4 -1l-1 8l-9 -1v12l-1 1l-8 -1l-8 -10l-6 -2l-1 -4l-4 -2v-17l-5 -2l-4 1l-3 -2v13l-1 1l-9 -4v13l-1 1l-2 -8v-15l-5 -51v-12l-4 -3v-18l-1 -1h-4v32l-1 1l-7 -2v-14l-10 -1v-25l-5 -2v22l-1 1l-9 -1l-1 -6l-7 -3v34l-3 2l-2 -1v-125l-3 -7l-2 -33v160l-9 4l-2 -1l-1 -182l-9 -29l-4 -7v-10h-4v37l-7 1l-1 -1v-37h-7v11l-1 1h-8l-1 -1v-27zM779 0h-62v105l-4 14v59l-2 7l-3 28l-1 1l-1 -2l-7 70l-1 1l-1 -1v-41v8l-6 27v19l-6 7l-1 -5l-4 5l-1 5l-9 10l-1 -1l-7 11l-1 -1l-4 9l-9 12l-22 -2l-2 -3l-9 -2l-1 1l-6 -2l-2 2l-4 -1l-1 -3l-5 1l-6 -1l-1 2h-4l-3 -3v-5l-8 -5v2l-2 1l-7 -6l-1 -5l-4 -2l-1 5l-10 -9l-9 -16l-1 -5l-6 -10l-3 -2l-10 -17l-2 -7l-3 -3l-2 2v3l-9 8l-1 -1l-9 9v2l-7 8v6l-4 7l-1 -1v-11l-3 6l-2 1l-1 7l-8 -11l-12 -6l-4 10v7l-7 23l-2 -1l-3 -12l-2 -4l-1 1l-4 -8l-9 18l-6 17v4l-2 3h-8l-1 -3l-4 -1l-1 5l-5 -1l-1 -7h-3l-3 3l-3 8l-1 -7l-3 16l-2 30h398z"/>
<path fill="#0070ff" stroke="#0070ff" d="M345 377v5h5zM779 86l-22 5l-18 6l-8 4l-6 6l-2 25l-2 1l-8 39v60l-4 25v8l-11 24l-1 -2l-6 8v6l-6 7l-1 -5l-4 4v4l-10 11l-1 -1l-21 29l-23 -2l-1 -3l-16 -2l-1 2l-5 -1l-1 -3l-5 1l-6 -1v2l-2 1l-6 -3v-5l-8 -4l-1 4l-8 -7v-5l-5 -3l-1 4l-8 -7l-9 -15l-4 -11l-4 -7l-3 -2l-12 -21v-4l-3 -5l-8 12l-4 4l-1 -1l-8 10l-8 16v6l-4 7l-1 -1v-11l-2 5l-3 2l-1 7l-5 -11l-15 -10l-4 11l-2 16l-4 9l-2 1l-3 -4l-3 -12l-1 1l-4 -9l-5 14l-2 1l-8 26l-2 2h-10l-1 1l-2 -1l-1 2l-4 1l-2 -1v-5l-3 2l-4 10l-1 12l-1 1l-1 -1v-7l-2 24h395zM108 79v51h4v-51zM93 79v52h7v-52zM80 67v231l-2 1l-7 -6v18l-1 1l-5 -2v-100l-4 5v72l-1 1l-7 -3v-34l-4 -1l-3 -3l-1 -8l-5 -3l-1 2l-7 -5v50l-3 1l-6 -3v79l-7 5l-2 -1v-29l-2 1l-4 -1l-8 3v44h334v-8l-5 -3l-1 5l-8 -5l-1 7l-12 -7h-3l-1 -1v-16h-5v5l-5 1v9l-5 1l-3 -5h-4l-3 -2v-4l-6 -1l-3 1l-4 -1l-1 3l-9 -2l-1 6l-7 -1l-16 -16v-3h-2l-2 -4l-12 -1l-11 2l-4 -16l-3 -51l-4 -3v-19l-5 -2v32l-1 1l-3 -2l-3 1l-1 -1v-13l-9 2l-1 -1v-25h-5v23l-8 3l-3 -1v-4l-7 2v34l-4 5l-1 -1v-66l-5 -2v69l-9 5l-2 -1v-30l-3 4v4l-4 7l-2 9l-4 4l-1 -1v-29h-4v39l-7 1l-1 -1v-39h-7v30l-1 1l-7 -1v-113l-2 -2v-127z"/>
<path fill="#008fff" stroke="#008fff" d="M303 370l-5 -1l-1 4l-4 -1v10h10zM291 382l-4 -1l-1 -4l-6 -1l-2 -2v-4l-13 -2l-1 3l-9 -2l-1 6l-6 -1l-4 -2l-13 -14v-6l-4 -3l-1 -3l-7 -2l-5 1l-9 -1l-1 1l-2 -4l-4 -22l-1 -23l-4 -4v-19l-5 -3v32l-1 1l-3 -3l-3 2l-1 -1v-13l-8 4l-2 -1v-24l-5 2v23l-10 8l-1 -6l-7 7v15l-4 3l-1 -1v-41l-5 4v38l-10 5l-1 -9l-13 8l-1 -4h-4v13l-3 2h-4l-1 -1v-13l-7 1l-1 5l-6 1l-1 -1v-13l-5 -1v13l-2 2l-7 2v7l-5 5l-1 -1v-30l-4 -2v28l-7 11l-1 -1v-21l-2 2h-4l-1 -6h-6l-1 3h-7v33l-9 3v22zM779 86l-35 34h-17v17l-1 1l-3 36l-2 2l-8 49v37l-15 32l-1 -2l-1 3l-5 5v6l-6 7l-1 -5l-2 2l-4 9l-8 9l-1 -1l-7 9l-1 -1l-5 9l-8 8h-13l-1 -1l-3 1l-6 -1l-1 -3l-8 -1l-14 1l-1 -3l-5 1l-6 -1l-1 3h-3l-4 -2v-5l-8 -3v3l-2 1l-7 -8v-4l-5 -5l-1 4l-10 -10l-9 -17v-4l-17 -27l-7 -16l-3 3v3l-8 12l-4 2l-5 8l-13 33l-1 -9l-3 6l-2 1l-1 5l-5 -13l-15 -12l-4 12v6l-6 13l-2 1l-8 -13l-3 -9l-5 16l-2 2l-1 5l-7 15l-2 2l-9 1l-1 3l-3 1v2l-6 4l-1 -5l-2 2l-3 10l-2 20h390z"/>
<path fill="#00afff" stroke="#00afff" d="M298 382h1zM255 379v3h23l-8 -3l-1 1l-4 -1l-1 3zM245 382l-14 -12v-6l-4 -5l-1 -8l-11 -4l-1 2l-9 -3l-1 2l-1 -1l-5 -20l-1 -14l-4 -3v-17l-5 -4v26l-1 1l-7 -1v-8l-8 4l-2 -1v-20l-5 2v19l-10 5l-1 -2l-6 2l-2 13l-3 1l-1 -1v-19l-5 2v18l-10 7l-1 -10l-13 10l-1 -4h-3l-1 1v13l-7 3l-1 -1v-14l-7 2v4l-7 3l-1 -1v-13l-5 2v13l-10 10l-3 1l-2 -1v-14l-4 4v12l-7 8l-1 -4l-2 4l-4 1l-1 -2l-14 7v11zM779 86l-38 37l-4 8v60l-10 1l-1 12l-3 12l-2 3l-4 33l-4 8v8l-7 13l-3 9l-5 9l-1 -1l-5 6l-1 8l-6 7l-1 -1v-4l-4 4v4l-10 11l-1 -1l-7 9l-1 -1l-3 3v2l-10 10h-12l-1 -1l-5 1l-5 -1l-1 -2l-3 -1l-19 1l-1 -3l-11 1l-1 2h-6l-1 -6l-8 -1l-1 4l-7 -8l-1 -6l-5 -5l-1 4l-10 -12l-9 -17v-4l-21 -36v-4l-3 -5l-3 4l-1 5l-8 13l-1 -1l-9 17v3l-7 13l-1 7l-3 4l-1 -3l-4 8l-1 -1v4l-1 1l-7 -18l-13 -12l-4 13l-7 14l-2 -1l-10 -18l-2 7l-13 28l-11 4l-1 5l-3 2v2l-4 4l-2 6l-1 -8l-4 24h387z"/>
<path fill="#00cfff" stroke="#00cfff" d="M396 374l-1 8h1zM232 382l-1 -6l-4 -4v-7l-9 -13l-2 -1l-3 1l-7 -3l-2 2l-6 -16l-1 -11l-4 -3v-10l-5 -3v18l-1 1l-7 -1v-7l-9 3l-1 -1v-11l-5 2v10l-2 2l-8 3l-2 -2l-6 3v11l-4 2l-1 -1v-19l-5 2v18l-3 3l-7 2l-1 -6l-10 7l-3 4l-1 -4l-4 1l-1 6l-6 1l-1 -5l-7 2l-2 2h-5l-1 -7l-5 4l-1 4l-8 3l-5 5l-1 -6l-4 2v7l-3 4l-4 12l-1 -1v-3l-1 4zM779 139h-29l-1 1l-1 -1v-23l-9 10l-2 5v80l4 4v6l-6 17l-4 1l-1 4h-5l-3 2l-9 21v8l-8 15l-7 16l-1 -2l-6 8v6l-6 7l-1 -5l-4 5v3l-10 12l-1 -1l-7 7l-1 -1l-3 3v2l-10 9l-16 1l-7 -1l-1 -3l-7 -1l-3 1l-6 -1l-1 2h-5l-1 -3l-11 1l-1 2h-6l-1 -5h-8l-1 3l-8 -9v-5l-5 -6l-1 4l-7 -8l-6 -10l-11 -26l-6 -8l-10 -19v-4l-3 -6l-3 5v5l-8 17l-1 1l-1 -2l-9 18v3l-7 13l-1 6l-3 2l-1 -3l-3 14l-1 1l-3 -4l-4 -15l-15 -14l-12 24l-11 -18l-15 33l-2 2l-6 1l-3 3l-1 8l-3 3l-2 5l-3 17h381z"/>
<path fill="#08efef" stroke="#08efef" d="M227 377l-8 -7l-4 -7v5l-1 1l-9 -17v10l-1 1l-1 -1v-7l-6 -15v-5l-4 -3v-10l-5 -3v18l-1 1l-7 -1v-7l-9 3l-1 -1v-11l-5 2v10l-10 5l-1 -2l-6 2l-2 8l-3 1l-1 -1v-14l-5 3v12l-10 6l-1 -5l-6 5l-12 1l-1 3h-6l-1 -2h-6l-2 2l-6 1l-1 -3l-5 1l-2 4l-5 2l-7 8l-1 -6l-4 4l-1 14h167zM779 187l-3 6l-9 10v33l-10 13l-1 -1v-52l-3 3l-4 16l-1 -1v-44l-3 9h-8v32l6 6v45l-4 10l-5 9l-4 -1v-27h-3l-4 -3l-10 22v8l-15 30l-1 -1l-6 7v6l-6 7l-1 -5l-4 5v4l-8 9l-13 8l-11 12l-18 1l-5 -1l-1 -3l-9 -1l-1 1l-6 -1l-1 2h-5l-1 -3l-11 1l-1 2h-6l-1 -5h-8v2l-2 1l-7 -9v-4l-5 -6l-1 4l-12 -16l-7 -13v-7l-7 -13l-1 3l-7 -13l-2 -1l-4 -7v-11l-3 -6l-3 5v12l-9 17l-1 -3l-9 18v3l-7 12v5l-3 3l-2 -2v-3l-4 12l-2 -1l-5 -18l-15 -14l-11 23l-3 -2l-9 -15l-15 32l-8 4l-3 5l-1 9l-3 4v9l-2 4v4h378z"/>
<path fill="#21ffd5" stroke="#21ffd5" d="M215 379v3h4zM213 382l-8 -9v7l-1 1l-1 -1v-12l-2 -13l-4 -11l-4 -1v-10l-5 -3v14l-1 1l-2 -1l-4 1l-1 -4l-9 3l-1 -1v-11l-5 2l-1 10l-16 1l-1 4l-4 2l-1 -8l-5 2v7l-9 4l-2 -2h-3l-10 3l-4 -1l-2 3l-6 1l-1 -2h-5l-6 3h-3l-1 -3l-5 2l-1 4l-8 5v4l-5 9l-1 -1v-10l-4 11zM773 196l-6 7v77l-10 8l-1 -1v-35l-7 18l-1 -1v-29l-5 15v39l-6 11l-2 11l-4 1l-1 -1v-53h-3l-4 -6l-10 21l-1 10l-14 27l-1 -1l-4 5l-3 8l-5 5l-1 -3l-4 5v2l-10 10l-3 1l-5 5l-1 -1l-13 15l-20 1l-3 -1l-1 -3l-22 1l-1 -3l-11 1l-1 3l-6 -1l-1 -4h-8l-2 2l-7 -9v-4l-5 -6l-1 4l-10 -12l-9 -15v-7l-7 -12l-1 3l-7 -12l-4 -4l-2 -4v-15l-3 -5l-3 6v15l-9 16l-1 -3l-8 15l-1 5l-7 12l-1 7l-1 1l-2 -1l-1 -7l-3 6v3l-1 1l-2 -2l-5 -18l-15 -14h-1l-10 23l-2 -1l-10 -16l-15 32l-2 2l-5 1l-3 5l-5 30h376v-147l-5 4l-1 -1z"/>
<path fill="#3bffbc" stroke="#3bffbc" d="M201 361l-4 -14h-3l-1 -3l-5 -3l-1 6h-6l-1 -2l-9 1l-1 -3l-5 1l-1 3l-16 2l-1 4l-3 2l-2 -1v-6l-5 1v7l-10 3l-1 -2l-11 2l-3 -1l-4 1l-1 3l-6 1l-1 -2h-4l-9 4l-3 -3l-4 2v3l-4 3l-5 9v3h132zM773 246l-6 8v34l-10 10l-1 -9l-7 6l-1 -7l-5 4v20l-6 19l-1 12l-2 6l-4 -1v-75l-4 -1l-3 -8l-10 20v7l-15 28l-1 -1l-6 7v4l-6 6l-1 -3l-4 6l-10 10l-9 6l-13 17l-6 -1l-9 2l-8 -1l-1 -4h-16l-1 2h-4l-2 -4h-4l-1 2l-6 -1v3l-2 1l-5 -1l-1 -5h-8l-2 2l-7 -8v-4l-5 -7l-1 5l-8 -11l-1 1l-10 -15v-7l-7 -12l-1 3l-7 -11l-1 2l-5 -7v-17l-3 -5l-3 6v16l-9 17l-1 -1v-5l-9 18v4l-7 10v6l-2 2l-2 -1l-1 -11l-4 7l-2 -2l-5 -19l-15 -14l-12 24l-11 -17l-15 31l-6 3l-3 5l-4 30h374v-108l-4 3l-2 -1z"/>
<path fill="#55ffa2" stroke="#55ffa2" d="M202 376l-5 -26h-2l-2 -4l-5 -1l-1 5l-7 -2l-9 1l-1 -3l-5 1l-1 3l-16 3l-1 4l-4 3l-1 -8l-5 2l-1 7l-9 1l-1 -2l-17 1l-2 3l-5 2l-2 -1v-2l-12 5l-4 -2l-4 3v5l-5 8h127zM779 280l-5 4l-1 -5l-6 4v13l-10 12l-1 -9l-7 8l-1 -6l-5 8v21l-9 32l-4 -1v-77l-4 -1l-3 -13l-10 20v7l-13 23l-9 8v4l-6 6l-1 -3l-10 12l-16 13l-10 16l-7 1h-16l-1 -4l-3 -1h-13l-1 2h-5l-1 -4h-4l-1 2h-6l-1 3h-3l-4 -3v-4l-8 -1l-1 2l-8 -8v-3l-5 -6l-1 5l-19 -20v-10l-7 -11l-1 8l-7 -9l-1 2l-5 -6v-24l-3 -5l-3 6v23l-7 13l-2 2l-1 -1v-5l-9 15l-1 5l-6 7v5l-2 2l-2 -2l-1 -15l-2 1l-2 4l-2 -2l-5 -19l-15 -14l-11 23l-3 -2l-9 -14l-15 31l-6 3l-2 4l-4 30h373z"/>
<path fill="#6fff88" stroke="#6fff88" d="M201 374l-4 -21h-2l-2 -4l-5 -1l-1 4l-2 -1l-4 1l-1 -2l-9 2l-1 -3h-4l-2 4l-16 4l-1 4l-4 3l-1 -8l-5 2l-1 7h-9l-1 -2h-12l-1 1l-2 -1l-3 1v3l-7 5l-1 -1v-5l-7 2v3l-6 4l-2 -1v-5l-5 7v6h121zM779 286l-5 5l-1 -5l-6 5v13l-10 14l-1 -9l-7 11l-1 -6l-5 12v18l-6 14l-3 15l-4 -1v-76l-4 -1l-1 -10l-2 -7h-1l-9 18v6l-15 24l-1 -1l-6 7v3l-5 5l-2 -2l-14 15l-1 -1l-11 10v2l-5 6l-5 10l-23 1l-1 -3l-16 -1l-1 2h-5l-1 -3l-11 1l-1 4l-4 -1l-3 -3v-5l-7 -2l-2 2l-8 -7v-3l-5 -5l-1 5l-8 -6l-1 1l-10 -10v-10l-7 -8l-1 8l-7 -8l-1 3l-5 -5v-27l-3 -4l-3 6v26l-9 12l-1 -7l-9 13v2l-7 7v3l-2 2l-2 -1l-1 -17l-1 -2l-3 4l-1 -1l-6 -21l-15 -14h-1l-10 23l-2 -1l-10 -15l-15 30l-7 7l-3 30h371z"/>
<path fill="#88ff6f" stroke="#88ff6f" d="M608 382h16l-8 -1zM597 381v1h4v-1zM85 377l-3 5h3zM197 357l-4 -3v-2l-5 -2l-1 4l-3 -1l-3 1l-1 -2l-9 2l-1 -3l-4 1l-2 4l-9 3l-1 -1l-7 3v4l-4 4l-1 -8l-5 1l-1 9l-9 1l-1 -6l-13 1l-1 -2l-4 3v9l-3 3l-4 2l-1 -1v-8l-7 4v3l-4 2h112zM409 382h174l-1 -5l-2 -2l-5 -2l-2 2l-8 -6v-3l-5 -4v4l-2 1l-7 -5l-2 1l-8 -6l-1 -9l-7 -7l-1 7l-7 -5l-1 2l-5 -4v-24l-3 -4l-3 6v22l-9 10l-1 -6l-9 9v2l-7 6v3l-2 2l-2 -2l-1 -5v-13l-1 -3l-2 -1l-1 2l-3 -5l-4 -17l-15 -14l-12 23l-11 -16l-15 30l-6 5zM779 291l-5 6l-1 -5l-6 7v13l-10 15l-1 -1v-7l-7 14l-1 -1v-5l-5 16v7l-5 11l-4 18l-4 -1v-71l-4 -1l-1 -12l-2 -9h-1l-9 16l-1 8l-14 21l-1 -1l-6 6v3l-5 5l-2 -2l-9 10l-17 14v2l-9 15h130z"/>
<path fill="#a2ff55" stroke="#a2ff55" d="M197 360l-4 -3l-1 -3l-4 -1l-1 4l-7 -2l-9 2l-1 -3l-4 1l-2 4l-17 6v6l-4 3l-1 -9l-2 2h-3l-1 10l-9 2l-1 -6l-13 5l-1 -3l-4 3v4h92zM410 382h172l-2 -3l-5 -3l-3 1l-5 -2l-2 -2v-3l-5 -3v4l-2 1l-7 -4l-1 2l-8 -4l-2 -2v-7l-7 -5l-1 6l-6 -3l-2 2l-5 -3v-21l-3 -3l-3 4v20l-9 7l-1 -5l-9 6v2l-3 3l-4 2l-1 4h-2l-2 -6l-1 -19l-2 -3l-1 1l-2 -2l-5 -20l-13 -12h-3l-3 4v3l-7 13l-3 -2l-9 -13l-15 29l-5 5zM779 297l-5 7l-1 -5l-6 8v13l-10 17l-1 -1v-7l-7 15l-1 -1v-3v2l-4 5l-1 8l-3 6l-5 21h44zM722 292l-9 15v6l-15 20l-1 -1l-6 6v3l-6 5l-1 -2l-3 2l-3 5l-17 13l-10 18h79v-64l-4 -1l-1 -14z"/>
<path fill="#bcff3b" stroke="#bcff3b" d="M126 381l-3 1h3zM197 363l-4 -3l-1 -3l-4 -2l-1 4l-3 -1l-3 1l-1 -2l-9 3l-1 -3l-5 1l-1 4l-9 4l-1 -1l-7 6v5l-4 3l-1 -1v-7l-5 2v9h62zM411 382h168l-4 -3l-3 1l-6 -2l-1 -4l-5 -2l-1 5l-8 -3l-1 2l-8 -2l-2 -2v-7l-7 -3l-1 7l-7 -3l-1 3l-5 -2v-21l-3 -2l-3 3v20l-9 5l-1 -6l-8 4l-2 4l-5 1l-1 4l-2 1l-3 -6v-13l-2 -12l-4 -4l-5 -20l-5 -5l-9 -5l-4 3l-2 6l-4 4l-2 5l-3 -2l-4 -7l-1 2l-4 -5l-5 9l-2 1l-8 16l-4 4zM779 303l-5 7l-1 -4l-5 7l-1 14l-10 14l-1 -2l-1 3l-6 5l-1 -1l-3 4l-9 32h43zM723 300h-2l-8 12v6l-14 18l-8 5v3l-6 5l-1 -2l-2 1l-6 7l-7 4l-9 9l-7 14h77v-53l-4 -1v-9z"/>
<path fill="#d5ff21" stroke="#d5ff21" d="M574 382h1zM142 376l-5 3v3h5zM489 382h82h-5l-1 -4l-5 -2l-1 6l-7 -2l-2 2h-9l-1 -8l-7 -2l-1 7l-7 -1l-1 3h-4l-1 -1v-21l-2 -1l-4 2v19l-2 2l-7 1l-1 -6l-9 3l-1 3zM197 366l-4 -3v-3l-4 -2l-2 4l-3 -2l-1 1l-5 -1l-5 2l-5 -2l-3 1l-1 4l-13 7l-4 4l-1 6h53zM471 326l-13 -7h-3l-3 4v3l-7 8l-6 -5l-3 1l-3 -4l-4 6l-3 2l-11 17l-3 31h70l-2 -29l-5 -9zM779 309l-5 8l-1 -4l-6 10v6l-10 15l-1 -1l-11 11l-2 4v7l-3 7l-2 10h41zM722 307l-8 9l-1 7l-15 17l-1 -1l-6 5v3l-6 5l-2 -2l-5 6l-7 5h-2l-10 11l-4 10h75v-43l-4 -1l-1 -18z"/>
<path fill="#effe08" stroke="#effe08" d="M533 382h7zM560 381v1h5zM142 381l-1 1h1zM513 373v9h6v-10zM197 372l-4 -5v-4l-5 -3l-1 4l-2 -1l-4 1l-1 -2l-8 3l-2 -1v-2l-5 2v4l-8 6l-5 2l-5 6h51zM471 330l-16 -8l-4 9l-7 7l-6 -5l-1 2l-2 -1l-2 -3l-6 7l-1 -1l-11 16l-1 29h68l-3 -19v-9l-4 -8zM722 314l-9 9v5l-15 16l-1 -1l-6 4v3l-6 5l-1 -3l-7 7l-7 4l-10 10l-4 9h74v-32l-4 -1l-1 -20zM779 311l-5 8l-1 -1l-6 9v4l-10 15l-1 -1l-2 4l-7 6l-4 8v7l-4 12h40z"/>
<path fill="#ffe100" stroke="#ffe100" d="M197 377l-4 -6v-5l-5 -3l-1 5l-3 -3l-3 1l-1 -2l-9 5l-1 -4l-4 2l-1 5l-14 10h46zM471 333l-15 -8l-4 5v7l-2 2l-3 -1l-2 3h-2l-5 -3l-1 9l-4 -1v-9l-7 4l-10 11l-1 30h66l-2 -8l-2 -24v3l-1 1l-1 -1v-5zM722 320l-9 8v6l-15 13l-1 -1l-6 4v3l-5 4l-2 -2l-2 1l-3 4l-10 6l-9 10l-2 6h72v-17l-4 -1v-16zM779 313l-5 8l-1 -1l-6 9v5l-10 15l-1 -1l-7 10l-1 -1l-5 11l-2 14h38z"/>
<path fill="#ffc300" stroke="#ffc300" d="M193 376v-5l-5 -6l-1 7l-3 -4l-3 2l-2 -2l-8 5l-1 -4l-5 3v4l-7 6h38zM477 364v12l-1 1l-1 -1l-6 -26h-7l-3 -2v-3h-4l-3 2v15l-4 4l-1 -9l-2 1l-7 -1v10l-2 1l-3 -3v-9l-6 3l-1 -8l-8 2l-2 29h63zM722 327l-9 7l-1 6l-6 3l-8 7l-1 -1l-5 3l-1 4l-6 4l-2 -2l-5 5l-9 5l-8 10l-1 4h70v-3l-4 -1l-1 -32zM779 315l-4 7l-3 2l-4 6l-1 6l-10 16l-1 -1l-6 9l-3 2l-4 10l-1 10h37z"/>
<path fill="#ffa600" stroke="#ffa600" d="M438 379v3h2zM433 375l-6 4l-1 -8l-8 6l-1 5h16zM194 382l-1 -6l-5 -6l-1 5l-3 -3l-3 2l-1 -3l-9 6l-1 -4l-5 4v4l-2 1zM456 367l-4 4v11h15l-8 -9v-4zM722 334h-2l-7 5v5l-2 2l-6 2l-6 5l-2 -1l-6 4l-1 4l-5 3l-1 -3l-5 5l-10 5l-3 3l-3 8l-2 1h65l-1 -25zM779 317l-4 7l-3 2l-4 6l-1 6l-10 16l-1 -1l-5 9l-3 2l-5 12v6h36z"/>
<path fill="#ff8800" stroke="#ff8800" d="M188 374l-1 5l-3 -3l-3 2l-1 -3l-8 6l-2 -1v-3l-5 5h28zM722 341h-3l-6 3v5l-2 2l-5 1l-8 5l-1 -2l-5 3l-4 6l-3 1l-2 -2l-5 5l-9 4l-5 10h61l-1 -30zM779 319l-12 17v5l-10 16l-1 -1l-6 11l-2 1l-4 8l-1 6h36z"/>
<path fill="#ff6b00" stroke="#ff6b00" d="M170 381l-1 1h1zM175 382h11l-2 -3l-2 2l-2 -2zM188 378v4h3zM722 348l-2 -1l-6 2l-1 5l-2 2l-4 1l-1 -1l-8 4l-1 -2l-4 2l-2 4l-6 4l-1 -3l-2 1l-3 4l-10 4l-3 8h58zM779 321l-12 18v4l-9 16l-3 1l-5 10l-2 1l-4 11h35z"/>
<path fill="#ff4d00" stroke="#ff4d00" d="M188 382zM721 355l-1 -1l-7 1v11l-1 1l-4 -2l-2 -4l-7 2l-2 -2l-6 3v4l-5 5l-2 -1v-4l-4 2v2l-4 4l-7 3l-1 3h55v-16zM779 323l-11 16l-1 6l-10 17l-1 -1l-6 12l-2 1l-2 4v4h33z"/>
<path fill="#ff3000" stroke="#ff3000" d="M713 367v15h9l-1 -8zM711 382l-5 -5v-2l-9 -5v-6l-6 4v10l-5 4l-2 -1v-8l-4 3v4l-4 2zM779 325l-12 18l-1 7l-9 15l-1 -1l-8 13l-1 5h32z"/>
<path fill="#fe1200" stroke="#fe1200" d="M684 381l-1 1h-1h2zM697 374l-6 4v4h6zM779 327l-3 6l-3 2l-6 11v5l-10 17l-1 -1l-4 6l-3 9h30z"/>
<path fill="#da0000" stroke="#da0000" d="M779 329l-5 10l-1 -2l-6 11v8l-10 14l-1 -1l-5 9v4h28z"/>
<path fill="#b60000" stroke="#b60000" d="M779 337l-5 8l-1 -3l-6 10v8l-8 11l-4 2l-3 5v4h27z"/>
<path fill="#920000" stroke="#920000" d="M779 344l-5 7l-1 -4l-4 6l-3 10l-12 14v5h25z"/>
<path fill="#ffffff" stroke="#ffffff" d="M0 0v42h20v-32l1 -1h3l1 1v54h4v-54l1 -1h6l1 1v196h3v-196l1 -1h10l1 1v15h6l1 1v3h10l1 1v21h5v-41l1 -1h4l1 1v187h5v-187l1 -1h6l1 1v17h1v-17l1 -1h30l1 1v32h3v-32l1 -1h11l1 1v12h3v-12l1 -1h30l1 1v101h5v-101l1 -1h8l1 1v32h6l1 1v231h8v-218l1 -1h5v-45l1 -1h6l1 1v19h6l1 1v17h10l1 1v7h5l1 1v8h6l1 1v6h6l1 1v10h5v-45l1 -1h4l1 1v58h4v-43l1 -1h27l1 1v8h3l1 1v3h17l1 1v24h5v-19l1 -1h6l1 1v21h6v-6l1 -1h5l1 1v37h6l1 1v19h12v-33l1 -1h6l1 1v35h3v-21l1 -1h10l1 1v3h6l1 1v15h5l1 1v14h6v-43l1 -1h6l1 1v30h5v-4l1 -1h19v-23l1 -1h5l1 1v23h9v-12l1 -1h3l1 2h12v-52l1 -1h8v-14l1 -1h15l1 1v28h5l1 1v7h12l1 1v30h4v-63l1 -1h17l1 1v24h7v-24l1 -1h17v-19l1 -1h10l1 1v205h6v-174l1 -1h8l1 1v24h10l1 1v21h10v-35l1 -1h12l1 1v28h3v-45l1 -1h21l1 1v14h26l1 2h16l1 1v79h5v-90l1 -1h11l1 1v32h4l1 1v273h5v-162l1 -1h10v-83l1 -1h8l1 1v61h8l1 1v8h16v-206z"/>
</g></g>
<g transform="translate(126.50 500.78) scale(0.5)" clip-path="url(#cp)"><g filter="url(#bl)">
<path fill="#0000b6" stroke="#0000b6" d="M0 0v382h779v-382z"/>
<path fill="#0000da" stroke="#0000da" d="M293 180l9 1v130l-1 1l-9 -1v-130zM0 0v382h779v-382z"/>
<path fill="#0000fe" stroke="#0000fe" d="M582 255l1 1v10l-3 1l-3 -2v-2zM541 198l8 16v56l-1 1l-8 -6v-66zM593 196l1 1v86l-1 1l-4 -4v-30l-2 -2v-45l4 -1zM232 192l1 1v87l-1 1l-7 -9h-1l-1 5l-9 -7l-1 -4l-3 -1l4 -9v-25l5 -15l3 -18l1 -1l1 1v30l4 -28zM307 183l2 1l6 11v106l-1 8l-6 3l-2 -1v-127zM281 178l4 1v133l-1 1l-4 -2v-132zM245 157l1 1v34h7l1 2h4v-31l1 -1l5 1v27l4 1v119l-4 1l-1 4l-4 -1l-1 -4h-12l-1 5l-4 -3v-150zM293 138l9 1v179l-1 1l-9 -1v-179zM0 0v382h779v-382h-604v22l-1 1l-3 -3v44l-1 1l-6 -7v-58h-45v27l-7 16l-1 -1v-42z"/>
<path fill="#0010ff" stroke="#0010ff" d="M499 231l4 12v11l-3 3l-2 -1v-24zM372 214l8 12v47l-7 7l-2 -1v-64zM354 201l8 21v55l-8 7l-1 -6l-5 5l-1 -1v-77l1 -1l1 1l4 15v-18zM582 178l1 1v106l-1 1l-6 -5v-89zM593 161l1 1v146l-1 1l-4 -6v-53l-2 -2v-85zM541 152l8 12v115l-1 1l-8 -8v-6l-7 -5v-87l1 -1l3 4l3 12v-36zM232 149l1 1v161l-1 1l-4 -3l-4 -12v4l-1 1l-3 -6l-6 -7v-5l-4 -3l-1 -5l-5 -5v-94l5 -1l5 -6v-9l9 -11l1 1v8zM245 111l1 1v39h7l1 2h4v-32l1 -1h3l2 2v27l4 1v166l-1 1l-3 -1l-1 4h-4l-1 -4h-12l-1 4l-4 -2v-200zM293 109l7 1l2 2v62h4v-32l1 -1l3 5l1 5l4 7v10l10 14v15l2 5l3 26l3 15l2 1l2 10l4 10l-9 9l-6 11l-1 25l-9 4l-3 4l-5 2l-2 -1v-5h-4v12l-1 1h-7l-2 -2v-12h-7l-1 7h-3l-1 -4l-4 -1v-152l4 -1v-23l1 -1l4 1v45h7v-73zM64 16l3 5l-5 7v81l-1 1l-9 -56v-28l10 -10zM0 0v382h779v-382h-604v135l-1 1l-3 -6v42l-1 1l-6 -13v-91l-7 -8v11l-1 1l-7 -8v-65h-30v116l-7 25l-1 -1v-121l-5 13l-1 -1v-31z"/>
<path fill="#0030ff" stroke="#0030ff" d="M659 277l2 5l-1 6l-2 -1zM617 247l8 18l1 -10l9 18v13l-1 1l-8 -1l-1 -3l-9 -1v-34zM566 230l1 1v40l-2 1l-7 -3v-27zM404 221l1 -1l1 2l-1 1zM663 219l3 5l5 19v45l-7 4l-2 -1v-71zM524 213l3 11l3 5v25l-1 1l-6 -3v-38zM602 206l8 20v56l-2 2l-5 1l-2 -1v-77zM86 197l1 1l-1 3l-1 -1zM512 176l4 1v62l1 5l3 4l-1 2l-3 -2l-4 2l-1 -1v-72zM478 173l1 1v40l3 -40l1 -1l1 1v15l1 -5l4 2v81l-6 5l-3 -9l-1 -36v37l-1 1l-3 -27l-6 -17l4 -15l3 -27zM372 172l5 5l3 11v102l-8 7l-1 -1v-123zM685 157l8 17v9l-3 19v13l-1 1l-2 71l-2 3l-1 -1v-131zM581 155l2 1v148l-1 1l-6 -7v-139zM502 155l1 1v103l-4 4l-1 -1v-105zM588 143l6 1v186l-1 1l-4 -5v-76l-2 -2v-104zM541 117l8 13v157l-1 1l-8 -10v-6l-7 -6v-127l1 -1l6 9v-29zM232 105l1 1v212l-2 1l-7 -5l-1 2l-8 -7l-1 -7l-5 -7l-2 -8v-13l-3 -3v-135l1 -1l6 1l2 -2l1 -11l9 -13l1 1v8zM252 46l2 2l2 9l-10 10v35l6 3l2 3l4 1v-32l1 -1l4 1l1 31l4 2v59h8v-46l4 -1v-18l1 -1l4 2v37h7v-60l2 -1l8 5v46h4v-17l1 -1l2 2l6 12l1 11l9 16l1 10l14 12l4 8v41l3 10v-66l2 -1l4 3v-2l2 -1l7 5v124l-8 10l-1 -5l-5 7l-1 -1v-35l-3 3v16l-8 16l-10 5l-2 4l-7 2l-4 4l-5 2l-2 -1v-5h-4v12l-1 1l-9 -2v-13h-7v6l-4 1l-1 -4l-4 -1v-6h-8v8l-1 1l-3 -1l-1 4h-4l-1 -4l-2 -1l-3 1l-7 -1l-1 5l-4 -2v-259l3 -6v-6zM64 16l3 5l-5 7v149l-1 1l-2 -4l-7 -30v-118l10 -10zM0 0v382h779v-382h-604v192l-1 1l-3 -2l-1 10l-6 -3v-28l-7 -16v11l-1 1l-7 -13v-153h-17v57l-4 8l-1 -1l1 -64h-9v186l-7 11l-1 -1v-77l-4 21l-1 1l-1 -1v-140z"/>
<path fill="#0050ff" stroke="#0050ff" d="M405 207l8 5v47l-3 9l-5 9l-1 -1v-68zM84 195l3 3v30l-1 1l-6 -13v-17zM669 154l2 2v142l-8 4l-1 -5l-3 2l-1 -1v-127l4 -1v-15zM685 127l8 10v126l-1 1l-1 23l-6 13l-1 -1v-171zM588 124l6 1v85l1 -1l6 18v-63l1 -1l8 5v29l6 17v-39l1 -1l4 5l4 13v-10l1 -1l9 22v96l-1 1h-8l-1 -2l-8 1l-1 -10l-6 1v12l-8 5l-1 -1v-27l-6 2l-1 -1v55l-1 1l-4 -3v-53l-6 -5v48l-1 1l-6 -10v-35l-9 -5v10l-1 1l-8 -5v-98l3 -6l4 -4l2 1v49l9 -18v-69l4 -2l3 1v89h4v-98zM541 82l8 13v201l-1 1l-8 -12l-1 -8l-6 -6v-14l-3 -1l-1 4l-6 -6l-7 -4l-7 3l-6 5v6l-4 4l-1 -8l-9 8v8l-6 8l-4 -14v6l-1 1l-2 -4l-5 -30l-2 -4v-52l8 -36l1 -1l1 1v16l4 -15l1 5l4 -2l1 1v17h9v-43l4 -3l1 1v31l8 -3v-13l4 -3l5 7v5l3 5l1 -9l6 9v79l3 5v-137l1 -1l6 9v-29zM6 29l10 10v30l-1 1l-10 -21v-19zM0 0v382h779v-382h-575v34l-8 8l3 51l10 1l2 5l3 -5v-10l9 -16l1 1v7l8 -17l1 1v128l8 -13v-119l11 -10l2 2l6 19l8 4v57h8v-39l1 -1l3 1v-17l1 -1l4 4v34l7 2v-83l1 -1l1 1v26l8 7v46l4 1v-17l1 -1l4 5l4 8l1 11l9 17v8l8 13l11 11v9l3 2v-20l1 -1l5 5l1 -4l8 7v38l9 22v-59l1 -1l2 1l6 7v136l-8 9l-1 -1v-35l-9 7v30l-8 5l-1 -2l-5 2l-1 -1v-17l-3 5l-1 8l-18 7l-1 3l-9 3l-1 3l-6 2l-2 -1v-5h-4v11l-1 1l-9 -1v-13l-7 -1v7l-1 1l-3 -1l-1 -3l-4 -2v-6h-8v8l-1 1l-3 -1l-1 4h-4l-1 -5h-12v3l-4 1l-1 -1v-19l-3 -2l-2 -14l-3 -9v39l-4 1l-3 -2l-3 1l-4 -1l-5 -4v-3l-4 -4l-3 -11v-28l-3 -3v-34l-6 -1v-10l-4 -27l-4 -9v-80l-1 17l-2 5l-3 2l-2 -11l-7 -14v107l-1 1l-3 -1v9l-4 1l-3 -2v-23l-6 -3l-3 3l-6 -4v-147l-8 -7v-3l-9 -6v97l-4 11l-1 -1l1 -141h-9v218l-7 10l-1 -1v-37l-5 7l-1 -1v-184l-9 27v30l-5 20l-3 24l-4 1v22l-4 1l-4 -32v-105h-12v16l3 5l-5 7v194l-1 1l-9 -26v-133l-6 -34l-4 -15v-15z"/>
<path fill="#0070ff" stroke="#0070ff" d="M202 273l1 1l-1 9l-2 -4v-4zM405 195l8 6v18l8 -6v-3l8 -7l1 1v14l-8 7l-1 -7l-8 7v64l-8 5l-1 -1v-97zM84 195l3 3v58l-1 1l-6 -10v-48zM453 194l9 6v26l-1 1l-9 -5v-27zM210 53l1 8l1 -6zM541 31l10 14v42l-2 2v147l1 2l8 -12v-76l8 -6l1 1v23l9 -7v-49l1 -1l6 1v55h4v-61l1 -1l6 1v58l7 4v-24l1 -1l8 3v14l6 4v-13l1 -1l8 5l1 -5l9 7v61l4 9l5 6v-20l1 -1l8 7l5 9v-88l4 -1v-14l6 -1l3 2v121l3 15v9v-109l4 -1l5 1l1 2v-66l2 -1l7 4v192l-8 16l-1 -1v-18l-1 2l-8 3l-1 -7l-3 1v19l-8 5l-1 -5l-2 1l-2 -1v-16l-12 6l-2 -1v-2l-5 3l-4 -1v15l-9 3l-1 -2h-2l-6 3l-1 -10l-6 3v12l-8 8l-1 -1v-26h-1l-5 5l-1 -1v34l-1 1l-4 -3v-36l-6 -7v35l-1 1l-6 -6v-30l-9 -8v10l-1 1l-8 -7v-19l-9 -3v35l-1 1l-8 -14v-6l-7 -9v-14l-3 -2l-1 4l-9 -9l-5 -3l-12 11v5l-4 6l-1 -8l-9 11v9l-6 9l-4 -13v6l-1 1l-1 -1l-8 -32v-97l7 -25v-6l1 -1l2 2v16l4 -14l1 6l4 -4l1 1v17l9 -4v-43l4 -5l1 1v31l8 -8v-14l4 -5l5 8v5l3 5h3l1 -2l3 1v38l3 5v-96l1 -1l6 11v-46zM247 32l-14 13v100l8 -10v-79l11 -10l-1 -6zM6 29l10 10v110l-1 1l-10 -14v-106zM0 0v382h779v-382h-511v89l5 1l1 4h2v-39l1 -1l3 3v-14l4 -4l1 1v38l7 5v-55l9 -15l1 1v68l4 2v-17l1 -1l7 9l1 10l10 20v12l4 9l15 20v9l3 3v-19l1 -1l5 5l1 -3l8 8v21l9 5v-23l1 -1l2 1l6 8v46l4 5v6l6 3v-6l1 -1l3 2l1 -4l6 4v52l-6 9l-1 -5l-3 5l-1 -1v-7l-6 8v4l-4 4v36l-6 5l-3 -1v-27l-9 9v19l-8 4l-1 -2l-5 2l-1 -1v-10l-3 2l-1 4l-17 6l-3 4l-8 2l-1 3l-7 1l-1 -5h-4v11l-1 1h-5l-4 -2v-13h-7v6l-4 1l-1 -4l-4 -1v-7h-8v8l-1 1l-3 -1l-1 4h-4l-1 -5l-12 -1v4l-3 1l-2 -2v-18l-8 -4v19l-1 1l-6 -1l-9 1l-7 -5l-3 -11v-33l-3 -8v-4l-5 1l-4 -9l-1 -21l-4 -19v-18l-6 -14l-9 -5v54l-1 1l-3 -1v10l-2 1l-5 -2v-22l-7 -2l-1 3l-7 -2v-90l-8 -12v-5l-9 -12v82l-4 5l-1 -1l1 -194h-9v251l-7 8l-1 -1v-37l-5 7l-1 -1v-104l-8 44l-1 15l-9 12h-7l-4 -9v-185h-12v16l5 7v46l-1 1l-1 -1l-5 -41v227l-1 1l-9 -8v-99l-2 -6l-3 -26l-5 -26v-57l-1 -2l-3 -1v-9h-2l-3 -5v-17v75l-1 1l-5 -9v-7l-4 -1v-59z"/>
<path fill="#008fff" stroke="#008fff" d="M405 182l8 8v19l8 -8v-3l8 -9l1 1v16l8 -7l1 1l-9 9v40l-8 11l-1 -7l-8 15v31l-8 5l-1 -1v-120zM698 174l1 1l-1 5l-1 -1zM453 171l9 3v68l-1 1l-9 -2v-22l-4 -3v-20l1 -1l3 2v-25zM247 32l-14 13v56l8 -18v-27l11 -10l-1 -6zM6 29l10 10v179l-1 1l-10 -14v-175zM534 18l5 10l12 17v42l-2 2v90l1 3l8 -11v-52l6 -2l3 1v23l9 -3v-49l1 -1l6 2v56h4v-71l6 -7l1 1v77l7 2v-24l1 -1l8 1v13l6 2v-13l1 -1l8 2v-3l3 -1l7 3v37l4 4h5l1 -9h13v-49l1 -1l3 1v-15l2 -1l7 3v59h3v-22l3 -1l5 1l2 2v-75l4 -6l2 2l6 16l-3 8v86l4 11l-4 19v106l-8 17l-1 -1v-19l-2 3l-7 3l-1 -7l-3 1v19l-5 4l-3 1l-1 -5l-2 2l-2 -1v-16l-13 7l-2 -3l-4 3h-4v14l-8 5l-2 -2l-8 6l-1 -10l-6 5l-1 9l-8 -1v-12l-6 8l-1 -1v14l-1 1l-4 -3v-19l-6 -10v22l-1 1l-6 -5v-21l-9 -11v10l-1 1l-8 -9v-19l-6 -3l-3 -3v38l-1 1l-8 -17v-8l-7 -10v-14l-3 -3l-1 4l-14 -14l-12 13v6l-4 6l-1 -1v-7l-9 15v9l-3 8l-2 2l-2 -1l-3 -12v3l-1 1l-5 -9l-4 -16v-138l1 -7l2 -3l-4 -6l1 -1h11l3 -7l1 7l4 -5l1 1v16l9 -7v-44l4 -6l1 1v30l7 -10l9 -1l-1 -5l1 -1h10l1 1v38l3 5v-110zM0 0v382h779v-382h-511v51l2 2h3l1 6h2v-12l14 -15l1 1v21l1 1v-27l9 -15l1 1v43l5 1l13 -9l1 1v17l4 6v12l4 1l-1 5l7 17l4 16l5 6v9l3 3v-18l1 -1l5 6l1 -2l4 4h7l1 6l-4 4v15l9 6v-19l-3 -3l4 -1l8 6v30l4 7v8l6 9l1 -6l3 4l1 -3l6 6v89l-6 4l-1 -2l-3 2l-1 -5l-6 4v3l-4 4v29l-7 5l-2 -1v-19h-1l-5 5l-3 1v13l-8 4l-1 -2l-5 1l-1 -10l-3 1l-1 5l-17 5l-3 4l-8 2l-1 3l-7 1l-1 -5l-4 -1v12l-1 1l-9 -2v-13l-7 -1v6l-4 1l-1 -4l-4 -1v-7h-8v8l-1 1l-3 -1l-1 4h-4l-1 -5l-4 -1l-1 1l-7 -1v3l-4 1l-1 -1v-18l-8 -3v17l-1 1l-6 -1l-7 1l-10 -4l-2 -4v-31l-4 -15v11l-1 1l-1 -1l-1 -6l-9 -24l-1 -27l-4 -17l-3 -7l-8 -3v54l-4 1l-1 4l-6 -1v-15l-7 -1l-1 4l-7 -1v-63l-17 -13v44l-4 5l-1 -1v-165l-8 22v185l-5 3l-3 -1v-20l-5 6l-1 -1v-64l-9 12v6l-9 11v48l-2 1l-5 -5v-41l-4 -8v-107l-7 -55l3 -7h-3v119l-1 1l-4 -12l-2 -23v132l-2 1l-8 -7v-56l-2 -4l-8 -35v-54l-4 -2v-8l-3 -1l-2 -5v57l-1 1l-9 -13v-139z"/>
<path fill="#00afff" stroke="#00afff" d="M763 239l1 1v57l-5 1l-1 -1v-18l-5 1l-1 5h-7l-1 -6l8 -8l1 5l5 -5v-27zM365 138l-2 2v4l8 7v-8zM724 109l1 1v67l-2 4l-1 -1v-69zM347 79l-4 5l1 39l3 4zM684 62l-13 15v48l3 1v-22l2 -1l8 3zM233 45v6zM779 0h-83l-7 55l7 17l-3 8v48l4 7l1 -7l5 9l1 5l4 1v22l-3 3v28l-5 19l-1 12l-1 1l-1 -2l-3 41l-1 1v45l-8 15l-1 -1v-19l-2 3l-6 3l-2 -1v-6l-3 2v19l-8 6l-1 -5l-3 2l-1 -1v-16l-12 7l-3 -2l-4 3h-3l-1 1v14l-7 5l-3 -1l-8 1l-1 -3h-6l-1 3h-7l-1 -6h-7v13l-1 1l-4 -2v-15l-6 -5v14l-1 1l-6 -5v-14l-5 -4l-4 -6l-1 7l-8 -8v-19l-9 -8v41l-1 1l-8 -15v-14l-7 -13v-14l-3 -3l-1 3l-13 -15l-5 3l-8 11v6l-4 7l-1 -1v-6l-9 18v9l-2 6l-4 4l-4 -14v3l-1 1l-2 -6l-7 -13v-57l-6 -8h-1v38l-9 4l-1 -1v-22l-4 -2v-10l-8 -1l-1 4l-9 10v40l-5 8l-3 1l-2 -1l-7 4v16l-8 6l-1 -1v-49l-3 6v30l-6 5l-1 -2l-3 2l-1 -4l-6 5v3l-4 4v23l-6 5l-3 -1v-16l-9 3v13l-6 3l-3 -1l-5 1l-1 -10l-3 1v3l-2 2l-17 5l-1 3l-9 2l-1 3l-7 1l-1 -5l-4 -1v10l-1 1l-9 -1v-13h-7v6l-1 1l-3 -1l-1 -4l-4 -1l-1 -7h-7v8l-1 1l-3 -1l-1 4h-4l-1 -5l-11 -2h-1v5l-1 1l-4 -2v-18l-8 -2v15l-1 1l-17 -1l-4 -2l-4 -5l-1 -26l-3 -11v11l-1 1l-1 -1l-7 -27l-4 -9v-6l-7 -30l-8 -1v38l-4 1l-1 4h-5l-1 -8h-7l-7 2l-1 -1v-50l-7 -2l-2 -3l-8 -3v44l-4 5l-1 -1v-121l-8 31v109l-7 2l-1 -1v-11l-5 2l-1 -1v-49l-9 11v6l-9 10v30l-1 1l-6 -5v-19l-4 -7v-64l-6 -17l-1 -7v44l-1 1l-1 -1l-5 -18v88l-1 1l-9 -7v-20l-6 -6l-4 -12v-51l-4 -2v-7h-2l-3 -4v52l-1 1l-9 -13v-133l-7 -14v178l-2 1l-9 -6v-109l-5 -10v267h779v-106l-5 -1v-18l5 -5zM583 0v124h4v-49l6 -7l1 1v58l7 1v-25l6 -1v-8l2 -2l1 1v22h6v-13l-1 -1l1 -1h9l1 -5h10l1 1v19l-2 2v15l3 2l6 1l1 -9l13 1v-127zM503 0v74l1 -2h12v-9l12 -56l2 2v80l3 5v-75l1 -1l5 10l12 17v42l-2 2v55l3 1l6 -4v-52l2 -1l7 3v23h9v-114zM353 0l-15 51l-2 3v18l2 5h10l15 -14l48 -39l1 1l1 9l-10 22l-36 40l-5 11v7l3 5l1 8h6l4 4l5 2l-1 31l4 4v3l5 5l1 3l1 -4l3 4l1 -2l6 8v26l3 1v-40l1 -1l8 9v18l8 -8l1 -5l7 -9l1 1v15l6 -8l4 -3l8 3v-9l1 -1l3 1v-25l2 -2l7 -1l1 1v64l4 4l3 -9v-80l3 -4l-6 -8l-2 -8l-4 -8l-8 -9l1 -1h27l3 -2l1 8l4 -6l1 1v16l9 -11v-95z"/>
<path fill="#00cfff" stroke="#00cfff" d="M775 88l1 1l-35 35l-4 8v63l-10 1l-4 3l-1 -1v-87l9 -9l8 -4l18 -6zM674 74l-3 3v18l3 1zM412 35l-9 20l-5 49l-17 18l-1 31l4 4v3l6 7l1 -3l3 3l1 -1l6 7v24l3 3v-39l1 -1l8 9v19h1l6 -8l1 -5l8 -13l1 1v15l10 -15h8v-9l4 -1v-11l6 -6l4 4v47l4 1l3 -12v-49l3 -4l-6 -8l-2 -8l-6 -11l-11 -12l-11 -9zM779 0h-83l-7 55l7 17l-3 8v10l4 1v-15l1 -1l10 12v60l4 1l1 12v-62l1 -1l3 4l4 22l1 54l-8 14l-1 -1v-10l-8 21v29l-4 20l-2 23l-2 2l-1 13l-3 6v30l-3 6l-5 5l-1 -1v-16l-9 6l-1 -7l-3 2v17l-8 5l-1 -2l-2 1l-2 -1v-14l-13 8l-1 -3l-9 5v11l-1 1l-9 -1l-8 1l-1 -3h-6l-1 3h-7l-1 -6h-7v15l-1 1l-4 -3v-16l-6 -4v13l-1 1l-4 -1l-2 -2v-14l-9 -8l-1 7l-8 -8v-17l-9 -10v44l-1 1l-8 -13v-14l-7 -15v-21l-3 -4l-1 3l-6 -7v-2l-8 -8l-4 4l-8 13v6l-2 3l-1 6l-1 1l-1 -1v-8l-9 21v9l-3 7l-3 2l-4 -14v3l-1 1l-1 -1l-2 -9l-6 -11v-47l-2 -6l-5 -3v39l-9 7l-1 -1v-21l-2 1l-2 -1v-9l-6 2l-3 3v3l-9 13v20l-7 5l-2 -1l-8 6v16l-8 7l-1 -1v-33l-3 2v19l-6 5l-1 -2l-3 3l-1 -4l-6 6v2l-4 3v22l-8 4l-1 -1v-17l-9 3v13l-2 2l-6 1l-1 -2l-5 2l-1 -10h-2l-2 5l-18 5l-1 3l-9 2l-1 2l-7 1l-1 -5h-4l-1 10h-6l-3 -2v-11l-7 -1v6l-3 1l-2 -4l-4 -2v-6l-8 -1v8l-1 1l-3 -1l-1 5l-5 -2v-4l-12 -1l-1 6l-4 -3v-18l-1 -1h-7v14l-1 1l-7 -2l-2 1l-7 -1l-7 -4l-2 -4v-11l-4 -16v10l-1 1l-1 -1l-7 -28l-4 -10v-7l-6 -12l-1 -5h-8v24l-4 1l-1 4l-6 -1v-7h-7l-4 2l-4 -1v-30l-2 -1h-5l-1 -2l-9 -1v25l-2 2l-3 -1v-79l-8 12v84l-7 2l-1 -1v-11l-2 1l-4 -1v-28l-9 10l-1 4l-8 2v20l-1 1l-6 -5v-15l-4 -4v-47l-4 -8l-3 -11v45l-1 1l-6 -14v54l-1 1l-9 -6v-20l-10 -9v-8l-9 -7l-1 10l-9 -6v-88l-7 -11v110l-2 1l-9 -6v-51l-5 -8v194h779v-79l-5 -1v-81l5 -5v-28l-3 6l-12 13v32l6 -5l1 1v61l-7 1v27l-1 1l-5 -1v-18h-5l-1 5l-8 -1v-71l8 -8l1 6l5 -5v-38l9 -9l12 -6zM583 0v103h4v-28l6 -7l1 1v40l7 -1v-8l9 -9l1 -10l7 -13l19 19v14l7 1l1 -9l13 3v-96zM527 0l1 6l11 22l12 17v42l-2 2v20l1 2l8 -1v-57l1 -1l8 8v28l9 2v-90zM410 0l2 29l63 35l14 13v7l8 -13v-71z"/>
<path fill="#08efef" stroke="#08efef" d="M774 196l-3 4v37l3 -3zM779 334l-5 -2v-39l-3 1v29l-7 1v25l-4 1l-2 -2v-16l-5 1l-1 4l-6 1l-2 -1v-117l-8 -7l-4 4l-1 6l-1 1l-4 -1l-4 -6v-22l-8 20l-1 -1v-9l-6 19l-2 10v31l-2 6l-1 12l-3 10l-2 1l-4 10v29l-8 6l-1 -1v-11l-1 2l-8 5l-1 -7l-3 2v12l-8 5l-1 -2l-3 1l-1 -10l-13 9l-2 -2l-4 3h-3l-1 6l-6 2l-12 -1l-1 -3h-6l-1 3h-7l-1 -6l-7 -1v21l-1 1l-4 -3v-21l-6 -3v16l-1 1l-6 -4v-15l-9 -7l-1 7l-8 -6v-17l-9 -11v47l-1 1l-8 -12v-13l-7 -13v-32l-3 -5l-1 3l-7 -11l-7 -8l-12 19v14l-4 10l-1 -1v-14l-9 24v8l-6 9l-4 -13v4l-1 1l-1 -1l-2 -12l-6 -13v-36l-2 -8l-5 -1v36l-2 2l-7 2l-1 -1v-12l-3 4l-1 -1v-9l-8 9l-1 5l-2 2l-7 2v8l-8 6l-1 -1l-8 8v16l-6 4l-2 3l-1 -1v-33l-3 2v19l-6 5l-1 -2l-2 2l-3 -2l-9 9v23l-7 5l-2 -1v-20l-9 4v13l-2 2l-6 2l-1 -3l-5 1l-1 -1v-10l-3 1l-1 5l-18 4l-2 3l-8 1l-1 2h-7l-1 -4l-4 -1v10l-5 1l-5 -2v-11l-7 -1v6l-3 1l-2 -4l-4 -2v-6l-8 -1v8l-4 1l-1 4h-4l-1 -5l-3 -1h-9v4l-4 1l-1 -1v-21l-8 -1v15l-1 1l-8 -3l-4 1l-8 -3l-5 -6v-11l-4 -8v4l-1 1l-5 -10l-3 -15l-4 -10v-7l-7 -16l-8 1v20l-4 1v3l-4 2l-3 -1v-8l-7 1l-3 2l-5 -1v-21l-8 -1l-9 1v13l-4 2l-1 -1v-56l-8 11v61l-3 2l-5 -1v-11l-2 1l-4 -1v-20l-7 2l-5 4l-6 1v20l-1 1l-6 -4v-16l-4 -3v-23l-7 -15v24l-1 1l-6 -5v38l-2 1l-8 -6v-19l-10 -8v-8l-9 -6l-1 9l-9 -6v-31l-7 -11v54l-1 1l-10 -6v-28l-5 -3v153h779zM466 114l-8 11v11l4 4v21h4l3 -11v-23l3 -4zM614 51l-9 6l-11 11v22l16 -1l1 -8l6 -12zM551 46v32l7 1v-27zM412 35l-9 20l-5 49l-17 18v21l3 1v3l6 9l1 -3l3 4l1 -2l6 7v21l3 4v-47l3 -3l3 3l1 4v11l2 2v20l2 -1l6 -9v-4l8 -14l1 1v14l9 -18l2 -2l7 -1v-58l-12 -10z"/>
<path fill="#21ffd5" stroke="#21ffd5" d="M731 278l4 1l-1 10l-4 -1zM779 367l-5 -4v-42h-3v31l-1 1l-6 -3v25l-1 1l-5 -4v-16l-5 -1l-1 3l-8 -1v-62l-1 1l-8 -1v-22l9 -9v-44l-7 -7l-6 6v39l-1 1l-4 -1l-1 -13l-3 -9v-22l-8 24l-1 -1v-8l-8 37v22l-12 27v24l-8 5l-1 -10l-9 5l-1 -4l-3 2v9l-8 5l-1 -2l-3 1l-1 -8l-12 7l-2 -1l-5 3h-4l-1 7l-17 -1l-1 -3h-6l-1 3h-7l-1 -7h-7v25l-1 1l-4 -2v-26l-6 -3v21l-2 1l-5 -3v-19l-9 -6l-1 7l-8 -5v-16l-7 -7l-2 -4v50l-1 1l-8 -9v-15l-7 -12v-43l-3 -4v7l-1 1l-6 -16l-8 -11l-8 13l-4 13v19l-4 9l-1 -1v-17l-2 8l-7 15v8l-4 6l-2 1l-4 -11l-1 6l-2 -4l-3 -19l-4 -8v-26l-2 -9l-3 -1l-2 1v26l-9 3l-1 -5l-3 1l-1 -2h-2l-16 7v8l-8 8l-1 -1l-8 9v20l-8 7l-1 -1v-35l-3 2v17l-6 5l-1 -2l-3 3l-1 -4l-10 10v28l-6 4l-3 -1v-24l-9 3v16l-1 1l-7 1l-1 -3l-5 1l-1 -1v-11l-3 1l-1 5l-9 2l-1 -1l-7 1l-2 3h-6l-5 3h-6l-1 -5h-4v11l-6 1l-4 -2v-12l-7 -1v6l-4 1l-1 -4l-4 -1v-7l-8 -1v9l-1 1l-3 -1l-1 5l-5 -2v-4h-12v4l-3 1l-2 -2v-22l-8 -1v18l-1 1l-7 -3l-2 2l-7 -3l-8 -8l-1 -13l-4 -7v3l-1 1l-6 -11l-6 -18v-8l-6 -16h-9v20l-4 2l-1 4l-6 -1v-7h-4l-6 3l-5 -1v-21l-17 1v14l-4 1l-1 -1v-33l-3 3l-5 1v41l-7 3l-1 -10l-3 1l-3 -1v-20l-9 2l-2 3l-7 2v19l-2 1l-5 -4v-15l-4 -3v-19l-7 -5v10l-2 1l-5 -4v36l-1 1l-9 -6v-17l-10 -8v-8l-9 -5l-1 9l-9 -6v-21l-7 -5v38l-1 1l-4 -1l-6 -4v-27l-5 -3v139h779zM466 114l-8 11v9h7l7 -11zM412 35l-9 20l-5 49l-17 18v7l3 1v2l6 7l1 -6l3 4l1 -4l6 11v27l3 3v-34l3 -3l3 3l1 4v11l2 2v10l8 -12l1 -11l2 -6l5 -5l1 1v17l1 -2l3 -53l2 -14v-8z"/>
<path fill="#3bffbc" stroke="#3bffbc" d="M371 359l-9 3v18l-1 1h-7l-1 -3h-5l-1 -1v-12h-3l-1 5l-18 1l-1 3l-9 1l-1 2l-5 1l-3 -2v-5h-4v11h69zM771 350v31l-1 1l-6 -6v6h10v-30zM589 355l-6 -4v26l-1 1l-6 -3v-23l-9 -5v9l-1 1l-8 -6v-17l-9 -9v52l-2 1l-7 -7v-14l-7 -11v-46l-3 -8v14l-1 1l-6 -13v-8l-5 -10l-3 -10l-2 12l-1 1l-1 -3l-3 14l-5 14l-1 20l-3 5l-1 -1v-17l-3 9l-6 11v7l-6 7l-4 -9l-1 6l-3 -7l-4 -18v-6l-2 -4v-19l-2 -8l-2 -1l-3 3v15l-9 3l-1 -5l-3 1l-1 -2h-3l-6 2l-9 7v7l-8 9l-1 -1l-8 11v27l-8 6l-1 -1v-41l-3 3v19l-6 5l-1 -2l-3 2l-1 -4l-10 8v31h209zM0 256v126h292v-13l-7 -1v7l-1 1l-3 -1l-1 -4l-4 -1v-7h-8v8l-4 1l-1 4l-4 -1l-2 -5h-11v3l-4 1l-1 -1v-21l-5 -2h-3v19l-1 1l-8 -2l-2 2l-7 -2l-1 -3l-5 -3l-2 -5v-14l-4 -7l-1 4l-2 -2l-10 -22v-7l-6 -18h-9v20l-4 1l-1 3h-5l-1 -6l-8 1l-7 -1v-18l-17 2v11l-4 1l-1 -1v-29l-8 3v37l-7 2l-1 -8l-3 1l-3 -1v-18h-3l-6 2l-1 2l-8 2v18l-1 1l-6 -4v-14l-4 -3v-18l-7 -5v10l-2 1l-5 -4v34l-2 1l-8 -5v-16l-10 -6l-1 -9l-8 -4l-1 9l-9 -5v-22l-7 -4v37l-2 1l-7 -3l-2 -2v-26zM722 232l-7 25v4l-1 1l-1 -1v-8l-1 9l-7 27v10l-5 14l-7 13v19l-8 4l-1 -10l-8 4l-2 -1v-2l-3 2v9l-8 5l-2 -2l-2 2l-1 -8l-13 7l-2 -1l-5 3h-3l-1 6l-8 1l-1 -2l-8 1l-1 -4h-6l-1 6l-7 1l-1 -1v-10l-7 1v26h164v-3l-5 -3l-1 3l-8 -5v-52h-8l-1 -1v-11l-1 3l-4 -1v-26l-4 -1v-9l-4 -21zM737 213l-2 1v22v-5l9 -8v-3zM404 141l-3 3v16l3 4zM412 35l-9 20l-5 51l4 10l5 7l1 15l3 6v11l3 1l2 -3v-111z"/>
<path fill="#55ffa2" stroke="#55ffa2" d="M771 379v3h2v-1zM302 379v3h4v-3zM347 374h-3l-1 6h-18v2h22zM371 372l-9 1v9h9zM583 362v20h6v-17zM549 337v45h27v-19l-9 -5v9l-1 1l-8 -5v-19zM530 309v14l-1 1l-6 -12l-1 -10l-2 -5l-2 -1l-3 -9l-2 10l-1 1l-1 -1v-3l-1 6l-7 18v17l-4 8l-1 -1v-19l-5 11l-4 5v11l-6 8l-4 -13v10l-1 1l-1 -1l-6 -23l-2 -12v-27l-3 -4l-4 1v11l-2 2l-7 2l-1 -6l-3 1l-1 -2l-9 3l-9 8v8l-8 10l-1 -1l-2 3l-1 5l-5 10v28l-8 6l-1 -1v-47l-3 2v23l-6 5l-1 -3l-3 2l-1 -1v-4l-6 4v3l-4 3v18h160v-9l-7 -8v-49zM0 270v112h292v-7h-7v6l-4 1l-1 -4l-4 -2v-6l-2 -1h-6v8l-4 1l-1 4l-5 -2v-4l-12 -1v4l-4 1l-1 -1v-20l-8 -3v20l-1 1l-3 -1l-13 1l-2 -3l-4 -1l-3 -5v-20l-4 -7l-1 5l-4 -6l-8 -17v-5l-7 -18l-8 1v18l-4 1l-1 3h-5l-1 -7l-8 1l-7 -1v-15l-1 1h-16v8l-4 2l-1 -1v-25l-8 2v34l-1 1l-6 1l-1 -8l-3 1l-3 -1v-16l-9 2l-2 3l-7 1v16l-2 1l-5 -3v-13l-4 -2v-18l-7 -5v10l-2 1l-5 -4v33l-1 1l-9 -5v-16l-10 -6l-1 -7l-8 -4l-1 8l-9 -4v-20l-7 -4v36l-2 1l-9 -4v-26zM722 251l-7 28l-1 1l-1 -1v-5l-2 13l-6 13v12l-6 17l-1 1l-1 -1v2l-4 4v15l-8 5l-1 -1v-11l-8 5l-3 -3l-2 1v10l-8 6l-1 -3l-3 2l-1 -1v-7l-12 7l-2 -1l-4 3h-5l-1 8l-3 1l-8 -1l-6 2l-1 -5l-6 1l-1 6l-7 2l-1 -1v-11l-6 2l-1 -1v17h150v-35l-2 1l-7 -1v-11l-1 5l-4 -1v-38l-4 -1l-2 -22l-2 -7zM404 141l-1 1l1 9z"/>
<path fill="#6fff88" stroke="#6fff88" d="M285 382h6zM246 381v1h12zM268 375v7h8v-6zM601 373l-7 2v7h7zM583 372v10h6v-7zM233 364v18h8v-16zM549 349v33h27v-8l-5 -3l-4 -1l-1 9l-8 -4v-20zM404 342l-3 3v26l-6 4l-1 -3l-3 2l-1 -1v-4l-6 3v3l-4 3v4h24zM430 315v9l-8 21l-1 -2l-6 15l-2 2v22h120v-51l-3 -6v16l-1 1l-6 -12v-7l-8 -16l-3 9l-1 -1v-3l-1 5l-7 15v23l-4 7l-1 -1v-26l-9 17l-1 13l-4 3l-1 3l-4 -11v11l-1 1l-4 -11l-5 -22v-41l-2 -4l-5 1v11l-9 3l-1 -5l-3 1l-2 -2l-8 3zM0 282v100h210l-3 -3v-23l-4 -9v9l-1 1l-1 -1l-2 -9l-9 -17v-5l-7 -16l-8 1v17l-1 1l-3 -1v3l-2 1l-5 -2v-5l-5 -1l-9 1l-1 -1v-14h-17v8l-4 1l-1 -1v-20h-3l-5 2v29l-2 2l-5 1l-1 -8l-4 1l-2 -1v-14h-3l-8 4l-7 1v16l-1 1l-6 -4v-12l-4 -3v-16l-7 -4v10l-1 1l-6 -4v35l-9 1l-1 -1v-23l-10 -5v-7l-9 -3l-1 8l-9 -4v-19l-7 -4v36l-1 1l-7 -2l-3 -2v-26zM722 269l-7 25l-1 1l-1 -1v-3l-7 18l-1 19l-2 4l-10 9v21l-8 5l-1 -1v-18l-9 5l-2 -3l-2 1v15l-8 6l-1 -4l-3 2l-1 -1v-11l-13 8l-2 -1l-3 3l-5 1v7l-2 2l-5 1l-4 -1l-7 2l-1 -5l-6 2v5h134v-18h-8l-1 -5l-1 3l-4 -1v-30l-4 -1v-19l-4 -25z"/>
<path fill="#88ff6f" stroke="#88ff6f" d="M583 382zM567 381v1h3zM268 381v1h8zM479 375v7h3zM233 371v11h8v-10zM549 361v21h9v-15l-8 -4zM404 356l-3 2v24h3zM515 328l-3 9l-1 -7l-8 21v25l-4 5l-1 -1v-28l-9 14v11l-5 5h49v-33l-3 -6v20l-1 1l-6 -10l-1 -12zM466 298l-4 2v12l-9 4l-1 -7l-2 1l-2 -2l-8 2l-10 11v25l-8 18l-1 -3l-4 10l-4 5v6h63l-2 -3l-5 -18v-58zM0 295v87h207v-15l-4 -10v12l-1 1l-2 -3l-5 -14l-2 -12l-3 -4v-5l-6 -14h-9v17l-4 1v12l-1 1l-6 -1v-17l-8 1l-7 -2v-14l-17 -1v8l-4 2l-1 -1v-19l-8 2v31l-1 1l-6 1l-1 -10l-4 1l-2 -1v-14l-7 1l-3 3l-8 1v16l-2 1l-5 -3v-12l-4 -3v-14l-7 -5v9l-1 1l-6 -3v52l-9 1l-1 -1v-40l-10 -5v-6l-9 -3l-1 8l-7 -1l-2 -2v-19l-7 -3v49l-1 1l-10 -6v-36zM722 283l-8 24l-1 -1v-3l-8 26v9l-6 6l-6 3v29l-2 2l-6 2l-1 -1v-26l-9 7l-1 -6l-3 2v20l-8 6l-1 -5l-2 2l-2 -1v-13l-13 9l-1 -2l-4 3l-5 1v6h109l-7 -3l-2 -2v-4l-1 4l-4 -1v-12l-4 -1z"/>
<path fill="#a2ff55" stroke="#a2ff55" d="M421 380v1l-1 1h1zM233 377v5h8v-4zM658 374l-12 7l-3 -1l-5 2h20zM549 374v8h9v-3zM404 372l-3 2v8h3zM498 370l-9 10v2h9zM203 370v12h4v-4zM530 364v18h3v-14zM674 363l-3 3v16h13v-18l-9 7zM511 357l-8 15v10h23l-3 -3v-9l-3 -5l-1 1l-4 -8l-3 8l-1 -1zM62 316v66h139l-7 -15l-4 -15v-13l-6 -13h-9v40l-4 1v12l-6 1l-1 -1v-27h-7l-1 4l-7 -1v-32l-17 -1v7l-4 2l-1 -1v-18l-8 2v54l-7 2l-1 -1v-33l-4 2l-2 -1v-14l-9 2l-1 2l-8 2v18l-6 1l-1 -1v-17l-4 -2v-15l-7 -3l-1 9zM466 303l-4 1v37l-6 2l-4 -1v-28l-3 1l-1 -2l-8 2l-4 5l-6 18v29l-7 15h46v-74zM0 308v74h52v-43l-10 -1v-18l-3 -2l-6 -1v18l-1 1l-9 -5v-28l-7 -2v71l-1 1l-8 -1l-2 -2v-61zM722 297l-4 12l-3 20l-1 1l-1 -1v-8l-2 10l-6 9v7l-12 6v29h33l-2 -16v-15l-1 -1z"/>
<path fill="#bcff3b" stroke="#bcff3b" d="M671 376v6h13v-6l-8 6l-2 -1v-7zM175 333v49h18l-3 -8v-13l-3 -9l-2 -15l-2 -3zM0 325v57h5v-54zM119 320v62h30v-52l-17 -2v30l-4 1l-1 -1v-40zM69 318l-1 9l-6 -3v58h49v-20l-2 1l-4 -1v-32l-9 2l-1 2l-8 2v36l-6 1l-1 -1v-34l-4 -3v-14zM722 312l-1 15l-3 12l-4 7l-1 -6l-8 9v10l-6 6l-2 -2l-4 3v16h30zM16 312v70h36v-17l-10 -1v-18l-9 -3v21l-2 1l-8 -3v-48zM467 308l-5 1v60l-6 2l-4 -1v-32l-1 1l-3 -1v-12l-8 2l-1 8l-9 24v22h39v-59z"/>
<path fill="#d5ff21" stroke="#d5ff21" d="M33 371v11h9v-10zM0 365v17h5v-16zM175 359v23h14l-5 -17v-4l-2 -2zM722 354l-4 10l-4 5l-1 -1v-13l-8 8v16l-7 3l-1 -3l-3 1l-1 2h29zM448 353l-8 1l-2 10l-8 18h22v-16l-4 -1zM132 348v34h17v-32h-7l-1 -2zM105 337l-9 2l-3 3l-6 1v39h18zM16 335v47h7v-44zM463 326l-1 1v55h7v-38l-3 -18zM69 326v12l-7 1v43h18v-26l-4 -1v-26zM127 325l-8 2v55h8z"/>
<path fill="#effe08" stroke="#effe08" d="M713 382zM709 382zM132 381v1h10l-1 -1zM439 382h9v-2h-8zM16 368v14h7v-12zM105 357l-9 2v4l-2 2l-7 1v16h18zM462 355v27h7v-14l-3 -13zM69 334v30l-7 1v17h18l-4 -2v-43zM127 331l-8 3v48h8z"/>
<path fill="#ffe100" stroke="#ffe100" d="M127 358l-8 1v23h8zM69 358v24h7v-23z"/>
<path fill="#ffffff" stroke="#ffffff" d="M0 0v44h20v-33l1 -1h3l1 1v55h4v-55l1 -1h6l1 1v196h3v-196l1 -1h10l1 1v15h6l1 1v3h10l1 1v21h5v-41l1 -1h4l1 1v187h5v-187l1 -1h6l1 1v17h1v-17l1 -1h30l1 1v33h3v-33l1 -1h11l1 1v13h3v-13l1 -1h30l1 1v101h5v-101l1 -1h8l1 1v33h6l1 1v230h8v-217l1 -1h5v-46l1 -1h6l1 1v19h6l1 1v17h10l1 1v8h5l1 1v8h6l1 1v5h6l1 1v10h5v-45l1 -1h4l1 1v59h4v-44l1 -1h27l1 1v8h3l1 1v4h17l1 1v23h5v-19l1 -1h6l1 1v21h6v-5l1 -1h5l1 1v36h6l1 1v19h12v-32l1 -1h6l1 1v34h3v-21l1 -1h10l1 1v3h6l1 1v15h5l1 1v14h6v-43l1 -1h6l1 1v30h5v-3l1 -1h19v-24l1 -1h5l1 1v24h9v-13l1 -1h3l1 1v2h12v-52l1 -1h8v-15l1 -1h15l1 1v28h5l1 1v8h12l1 1v30h4v-63l1 -1h17l1 1v23h7v-23l1 -1h17v-19l1 -1h10l1 1v204h6v-173l1 -1h8l1 1v23h10l1 1v21h10v-34l1 -1h12l1 1v27h3v-45l1 -1h21l1 1v15h26l1 2h16l1 1v78h5v-89l1 -1h11l1 1v32h4l1 1v271h5v-161l1 -1h10v-83l1 -1h8l1 1v61h8l1 1v8h16v-207z"/>
</g></g>
<g transform="translate(126.50 731.12) scale(0.5)" clip-path="url(#cp)"><g filter="url(#bl)">
<path fill="#0000da" stroke="#0000da" d="M0 0v382h779v-382z"/>
<path fill="#0000fe" stroke="#0000fe" d="M431 130l1 1l1 79l-4 2l-1 -1l1 -2v-43l1 -1v-34zM0 0v382h779v-382z"/>
<path fill="#0010ff" stroke="#0010ff" d="M433 128l1 1l2 78l-4 5h-13l-1 -1v-36l3 -19v-12l2 -2l1 -5zM0 0v382h779v-382z"/>
<path fill="#0030ff" stroke="#0030ff" d="M419 47l18 27l-2 35l-1 1v17l5 5v24l4 32v12l-12 13l-14 -2l1 -163zM0 0v382h779v-382z"/>
<path fill="#0050ff" stroke="#0050ff" d="M418 45l19 29l-2 35l-1 1v17l9 9v50l2 12l-2 5l-12 11l-12 -1l-3 -2v-87l1 -1v-77zM0 0v382h779v-382z"/>
<path fill="#0070ff" stroke="#0070ff" d="M417 43l20 31l-2 35l-1 1v17l10 10l2 63l-3 5l-11 9l-14 -1l-2 -2v-167zM0 0v382h779v-382z"/>
<path fill="#008fff" stroke="#008fff" d="M417 43l20 31l-2 35l-1 1v17l12 12l1 61l-1 5l-4 4l-1 -1l-4 2l-6 5l-10 -1l-5 -2v-168zM0 0v382h779v-382z"/>
<path fill="#00afff" stroke="#00afff" d="M417 43l20 31l-2 35l-1 1v17l13 13v45l1 1l-1 20l-2 5l-6 -1l-8 6l-12 -2l-3 -2v-168zM0 0v382h779v-382z"/>
<path fill="#00cfff" stroke="#00cfff" d="M417 43l20 32l13 11v65l-1 1l-1 -1v36l1 -3l1 1v21l-1 1l-1 -1v-4v6l-3 8l-2 -4l-1 1l-5 -1l-5 4l-10 -1l-6 -3v-168zM0 0v382h779v-382z"/>
<path fill="#08efef" stroke="#08efef" d="M417 43l20 32l15 13v40l-1 1v25l-1 1l1 56l-1 8l-1 1l-1 -1v-7l-3 12l-2 -9l-1 1l-3 -3l-8 4l-12 -2l-3 -2v-169zM0 0v382h779v-382z"/>
<path fill="#21ffd5" stroke="#21ffd5" d="M417 43l20 32l10 8l12 13l7 14v4l-8 11v8l-6 1v21l-1 1l1 89l-1 1v16l-2 3l-1 -1v-40l-1 21l-2 8l-2 -18v-17l-3 -3h-5l-2 2h-6l-11 -4v-169zM0 0v382h779v-382z"/>
<path fill="#3bffbc" stroke="#3bffbc" d="M417 43l20 32l10 8l12 13l7 14v4l-8 11v11l-5 5l-1 48l1 1v18l2 10v59l-1 1l-2 -10l-9 -5v-42l-4 -5h-5l-2 2l-12 -2l-4 -3v-169zM0 0v382h779v-382z"/>
<path fill="#55ffa2" stroke="#55ffa2" d="M416 42l21 33l10 8l12 13l7 14v4l-8 11v11l-4 4v16l-1 1v33l2 14v75l-1 1l-2 -3v-4l-2 -4l-2 -1v-2l-4 1l-1 -1l-2 -46l-3 -3h-4l-4 2l-11 -3l-3 -2l-1 -3v-168zM0 0v382h147l1 -2l5 -1l1 3h16l3 -2l3 2h603v-382z"/>
<path fill="#6fff88" stroke="#6fff88" d="M416 42l21 33l10 8l12 13l7 14v4l-8 11v11l-3 3v18l-2 19l1 1l1 32l1 1l1 65l-3 6l-3 -4v-3l-3 -6l-3 -1l-2 2l-1 -1l-1 -46l-3 -4l-10 1l-10 -3l-3 -4v-169zM0 0v382h118l1 -2h4l1 2h23v-7l6 -3l1 8l11 -5l1 7l4 -2v-7l4 -3l6 12l1 -5l2 5h596v-382z"/>
<path fill="#88ff6f" stroke="#88ff6f" d="M416 42l21 33l10 8l12 13l7 14v4l-8 11v11l-2 2l-1 7v29l-1 2l1 1v18l3 20v60l-4 8l-7 -14l-2 -1l-3 4l-1 -1l-1 -49l-3 -3l-7 1l-11 -3l-3 -2l-1 -3v-169zM0 0v382h82l6 -3h4l1 3h5l1 -2h10l1 2h8v-6l4 -2l2 1v4l6 -1l1 4h8l1 -2l7 -2l1 -10l5 -2l1 8l11 -7l1 7l4 -3v-7l4 -3l3 3l3 9v-6l1 -1l6 16h591l1 -2v-380z"/>
<path fill="#a2ff55" stroke="#a2ff55" d="M416 42l21 33l10 8l12 13l7 14v4l-8 11v11l-2 9l-1 36l4 29v65l-5 10l-7 -15l-2 -1l-4 5l-1 -1l-1 -51l-2 -2l-6 1l-14 -5l-2 -3v-170zM0 0v382h70l7 -3l2 1v2h3v-6l3 -2h7l1 7l5 -1l1 -5l4 1l6 -1l1 4l8 -1v-7l3 -2l3 1v4l6 -1l1 5l16 -6v-9l2 -2l3 -1l2 1v7l11 -9l1 6l4 -3v-7l4 -4l6 10v-6l1 -1l5 9l5 19h584l4 -11v-371z"/>
<path fill="#bcff3b" stroke="#bcff3b" d="M462 240l1 1v33l-1 1l-1 -1v-33zM416 42l21 33l10 8l12 13l7 14v4l-8 11l-2 50l4 30l1 67l-2 8l-5 7l-8 -16h-2l-2 4l-2 -1l-1 -51l-2 -2h-8l-9 -3l-5 -5v-170zM0 0v382h44l1 -4l9 -3h7l1 5l7 -1l1 -4l3 -2h5l1 5l3 -1l1 -8l8 -1l2 1v7l5 -1v-3l4 -2l1 1l6 -1l1 4l8 -1v-7l3 -2l3 1v4l6 -1l1 4h4l4 -2l1 -2l7 -2v-9l6 -4l1 8l3 -1l8 -9l1 6l4 -4v-7l4 -4l5 5l1 3l1 -8l5 7l7 21l1 12h577l8 -21v-361z"/>
<path fill="#d5ff21" stroke="#d5ff21" d="M416 42l21 33l10 8l12 13l7 14v4l-8 11l1 19l-1 1v24l-1 1l4 30v23v-25l1 -1l1 1v23l1 1v61l-2 7l-1 -1v-13l-2 9l-5 3l-8 -16h-2l-3 5l-2 -1l-1 -53l-4 -2l-4 1l-11 -4l-4 -4v-171zM0 0v340l7 4l2 -1l10 7v11l7 3v7l5 2v9h5v-4l8 -4v-13l1 -1l15 5l3 6h7l1 -4l7 -1l1 6l3 -1l1 -6h9l1 6l5 -1l1 -4l8 -1l3 1v3l8 -1v-6l4 -2l2 1v2l6 -1l1 5l5 -1l5 -4l6 -2l1 -9l5 -2l1 6l4 -3l7 -9l1 6l4 -4v-8l4 -5l6 6l1 -8l7 8l6 14v23l2 7h230l1 -3h4l2 3h28l1 -8l5 1v7h301l3 -12l8 -19v-351z"/>
<path fill="#effe08" stroke="#effe08" d="M0 0v321l31 25v11l5 2l1 -6l6 3l2 -3l21 12l5 -1l11 1l1 -2h9l1 3h5l1 -2l10 -2l1 2l8 -1l2 -4l4 1l6 -1l1 3l16 -8v-3l6 -4l1 2l2 -1l9 -13l1 6l4 -5v-8l4 -5l6 4v-4l4 -1l6 2l4 5v21l4 15l1 17h217l2 -6v-13l8 -7v-7l5 -6l3 6v20l8 13h6v-10l3 -5l3 -12l1 1v26h6v-96l-2 4h-5l-3 -4l-3 -10l-3 -3l-5 6l-2 -2v-52l-3 -3l-4 1l-14 -6l-2 -3v-171l1 -1l21 33l10 8l12 13l7 14v4l-8 11v10l2 2l-1 37l2 20v-12l1 -1l1 1l1 23l1 1l2 162l3 14h2l1 -3l1 3h291l7 -25l7 -12v-345z"/>
<path fill="#ffe100" stroke="#ffe100" d="M455 292v36l6 5v-36zM0 0v320l33 27l10 5h3l19 11l17 1l1 -2h9l1 2h5l3 -2l6 -1l6 1l5 -1l1 -3l4 -1l1 1h10l12 -6l2 -4l4 -2l3 1l8 -11l3 -2l4 -8l5 -6l3 1l5 -1l5 1l5 5l1 -1l4 5l2 26v-14l1 -1l1 1l3 40h211v-19l2 -18l11 -18l4 -4l1 1v12l9 19v24l1 2h4v-50l2 -8v-8l2 -5l1 -19l-3 -5l-2 -8l-3 -4l-5 7l-2 -1l-1 -55l-2 -2h-6l-7 -3l-7 -5v-172l1 -1l21 33l10 8l12 13l7 14v4l-8 11v10l3 3l-1 31l1 10v-13l1 -1l1 1l2 32l1 1l1 98l5 13v4v-12l1 -1l4 9l6 38v34h234v-33l1 -1l6 1v33h40l1 -14l3 -9l11 -21v-338z"/>
<path fill="#ffc300" stroke="#ffc300" d="M461 161v2zM0 0v319l18 13l2 3l15 12l9 4l1 -1l20 12l6 -1l11 1l1 -2h9l1 3h5l1 -2l17 -1l5 -4l10 2l16 -8l1 -3l4 -2l2 1l2 -1l6 -9l6 -6l4 -8l3 -3l7 -1l4 1l7 7l2 -3l3 1l10 37v21h207l1 -2v-32l10 -18l7 -9l1 1l5 -3l4 8v25l2 2l3 -10v-34l3 -11v-9l-4 -13l-3 -2l-4 8l-3 -1l-1 -57l-6 -1l-13 -6l-3 -7v-170l1 -1l22 35l10 8l12 13l7 14v4l-8 11v10l5 5v17l4 36v57l5 20v-9l1 -1l1 1l2 9l7 17v65l2 8l2 22h4v-24l1 -1l5 14v-69l1 -1l9 7v74h12v-58l1 -1l4 18v41h168l5 -7l4 -10l1 1v16h4v-31l1 -1l5 1v-6l5 -1v-38l1 -1l6 1v36l2 5l1 35h33l5 -15v-9l5 -7l9 -19v-332z"/>
<path fill="#ffa600" stroke="#ffa600" d="M0 0v317l29 23l2 3l30 14l1 2l4 2l5 -1l11 1l1 -2h9l1 2h5l4 -2l1 1l6 -2l1 1l8 -1l1 -3h4l4 3l8 -1l1 -3l10 -5l3 -4l4 -2l1 2l2 -1l8 -12l3 -2l8 -13l3 1l6 -1l9 9l3 -6l2 2l9 31l1 9l5 10l1 10h1v-13l1 -1l6 7v7h193l1 -36l17 -27l9 -5l1 1v10l1 2l1 -1l1 -10l2 -3v-13l2 -7l-2 -13l-3 -4l-3 6l-3 3l-2 -1l-1 -58l-18 -7l-3 -3l-1 -4v-171l1 -1l22 35l10 8l12 13l7 14v4l-2 2v23l1 1v24l2 12v23l5 30v-8l1 -1l1 1l1 8l8 21v38l8 18v-17l1 -1l5 5v-22l1 -1l9 11v32l8 19v44l3 6h1v-91l1 -1l4 7v85h12v-14l1 -1l9 11v-10l1 -1l5 7v-16l1 -1l6 10v15h125l8 -14v-6l2 -6l7 -11l1 1v29l2 -9l2 -1v-34l5 -15l2 -11l4 -1l1 -7l6 1v6l2 3l1 38l4 1v36h22l5 -9l1 1l4 -15l2 -2v-4l14 -26v-327z"/>
<path fill="#ff8800" stroke="#ff8800" d="M0 0v316l15 11l18 16l10 5h3l14 7l5 4l17 1l1 -2h9l1 2h5l1 -2l18 -1l2 -3l3 -1l5 5l8 -1l-1 -2l1 -2l12 -6l1 -3l4 -2l3 1l20 -27l7 -1l11 11l4 -8l8 24l3 16l7 9v-4l1 -1l6 7v3l6 10h2l1 -6l5 6h178l2 -12v-26l15 -25l11 -10l1 4l3 -3l2 -5v-24l-4 -4l-3 8l-3 3l-2 -2l-1 -60l-16 -6l-4 -4l-1 -3v-172l1 -1l22 35l16 14l6 7l7 14l-1 23l1 1l1 46l5 10v-3l1 -1l1 1l5 22l4 10v32l8 20v-16l1 -1l5 8v-22l1 -1l9 16v28l8 7v8l4 3v-31l1 -1l4 8v42l5 20v21l7 13v-51l1 -1l9 24l1 -9l5 10v-14l1 -1l6 9v29l8 13h111l1 -2l1 1l6 -15l5 -7l8 -17l2 -2l1 5l3 -6l1 -14l7 -28l4 -1l1 -8h5l1 8l2 2l1 20l4 1v63h15l4 -5l8 -17l1 1l5 -7l1 -6l9 -18l5 -7v-323z"/>
<path fill="#ff6b00" stroke="#ff6b00" d="M196 316l1 -1l1 1l-1 1zM718 129l6 11v43l-1 1l-6 -7v-47zM0 0v314l30 24l2 3l12 6l1 -1l21 12l5 -1l27 1l7 -2l5 1l8 -2l1 -2l3 -1l5 6l8 -1l-2 -4l14 -7l1 -3l4 -2l2 1l2 -1l8 -12l6 -6l2 -5l4 -4l2 1l3 -1l12 12l4 -8l2 1l1 7l2 2l4 14l2 12l7 7l1 -4l6 7l1 5l7 3l1 -2l4 1l1 7l5 4h12l1 -5h4l1 4l7 1h25l7 -1l1 -2h5l1 3h109l2 -39l16 -27l10 -11l1 3l2 -2l3 -9v-13l-3 -6h-1l-3 9l-4 4l-2 -4l-1 -61h-3l-11 -5l-5 -4l-1 -3v-173l1 -1l22 35l16 14l6 7l6 11l1 23l1 1v32l5 8v-3l1 -1l9 20l1 33l6 10l2 7v-17l1 -1l5 12v-15l1 -1l9 14v28l8 10v9l4 4v-30l1 -1l4 7v36l5 9v7l6 11l1 6v-24l1 -1l9 18l1 -5l5 9v-10l1 -1l6 10v22l17 29v-10l1 -1l7 11l1 -4l7 6l3 -2l6 4l10 2l2 4h60l16 -24l12 -24l1 1v4l3 -5l1 -15l5 -18l1 -9l2 -4h3l1 -8l6 1v6l2 3l1 20l4 1v71h7l7 -7l5 -10l9 -8l5 -7l1 -6l5 -11l9 -15v-318z"/>
<path fill="#ff4d00" stroke="#ff4d00" d="M194 314l3 -1l1 3l-1 1zM0 0v313l31 26l18 8l17 10l5 -1l27 1l7 -2l13 -1l1 -2h3l5 6l8 -1l-2 -4l2 -3l11 -5l2 -3l4 -2l2 1l2 -1l8 -12l5 -5l4 -8l2 -2h5l13 13l5 -10l5 14l5 21l7 5l1 -4l6 6v5l3 4l4 2l2 -1l4 1l1 2h2l9 7h6v-5l5 -1l1 3l7 1v5h5l1 -4l6 1l1 -2h8l1 4h3l1 -5h6l1 -2h5l1 6h3l1 -2h6l1 5h5l1 -3h5l1 3h9l1 -3h7l1 2h4l1 -3h6l13 3h8l1 -2h3l1 3h14l1 -4h3l1 4l11 -1l2 -8l1 -32l26 -41l1 3l4 -9v-12l-2 -3h-1l-5 13l-2 2l-2 -2l-1 -65h-3l-13 -7l-4 -5v-174l1 -1l22 35l10 8l14 16l4 8l1 6l6 8l-1 4l-4 5v11l5 12v-4l1 -1l10 19v26l2 6l6 11l1 -10l5 9v-12l1 -1l9 15v20l8 13v9l4 6v-28l1 -1l4 7v35l5 9v7l7 14v-21l1 -1l9 18l1 -5l5 10v-10l1 -1l6 9v22l17 29l1 -8l7 11l1 -3l8 8l1 -2l6 6l10 6l3 3v3l5 1l2 3l7 2h45l2 -6l7 -8l9 -16l11 -23l1 1v4l4 -10v-11l7 -33l4 -1v-98l-4 -4l-1 -37l1 -1v-18l1 -1l3 6v-10l1 -1l6 11v14l2 6l1 30l-1 1v10l-2 2v90l2 2l1 20l4 1v80h3v-2l8 -11l20 -20l3 -5v-5l5 -12l9 -13v-314z"/>
<path fill="#ff3000" stroke="#ff3000" d="M100 314h2l8 9v13l-1 1l-11 -13v-8zM194 314v10l3 -6zM0 0v313l34 27l32 16l5 -1l27 1l20 -3l2 -2l-2 -3v-14l1 -1l12 14v11l4 -1l-3 -6l14 -7l7 -5l1 1l2 -1l19 -27l5 1v-13l1 -1l11 12l6 2l10 36l7 3l1 -2l4 1l7 14l3 2l1 -1l4 1l3 3l9 2h6l1 -2l11 1l1 4h5l1 -3h15l1 2h3l1 -2h12l1 2l10 -1l1 5h5l1 -4h5l1 3l9 1l1 -3l8 1l18 -1l12 2l6 -1l1 6h9l1 -2h4l1 -5h3l1 4h3l1 -2h7l2 -6l1 -32l14 -22l8 -16l4 -5l1 2l3 -7v-10l-2 -1l-2 8l-6 11l-2 -3l-1 -68l-16 -8l-3 -4v-175l1 -1l22 35l10 8l12 13l6 11l2 8l11 12v5l5 13v23l8 22l1 -10l5 9v-13l1 -1l9 17v20l8 13v7l4 7v-25l1 -1l4 6v32l5 9v7l7 14v-21l1 -1l9 19l1 -7l5 10v-13l1 -1l6 13v24l17 31l1 -7l5 10l2 2l1 -1l8 8l1 -1l19 17v5l6 3l2 4l5 1l2 2l7 1l1 3h18l1 -1l6 1l3 -2l2 2l5 -2l10 -15l20 -41l1 1v4l3 -6l1 -16l6 -30v-24l1 -1v-37l-1 -1v-31l-1 -1l1 -61l1 -1v-13l1 -1l3 6v-10l1 -1l6 11v14l2 5l1 47l10 1v29l-10 1v11l-1 1l1 72l4 1v83h3v-3l5 -7l21 -19l5 -9v-7l5 -11l9 -12v-309z"/>
<path fill="#fe1200" stroke="#fe1200" d="M437 301zM445 281l-7 18l4 -8l1 2l1 -1zM158 253l8 2v34l-1 1l-4 -7l-4 -26zM398 170l4 7v24l-1 1l-4 -8v-23zM779 87l-22 5l-18 6l-8 4l-7 7l2 8l1 39l10 1v54l-6 7v151h3v-3l7 -7l4 -2l15 -13l5 -12v-7l7 -13l7 -7zM0 0v312l15 11l17 15l24 11l9 6h17l1 -1l17 1l18 -3l1 -3l-27 -32l10 -3l30 35h3l12 -6l2 -3l7 -2l13 -17l3 -6l5 -4l-4 -4l-3 -6v-29l1 -1l10 28l11 12l6 1l10 36l7 2l1 -2l5 1l6 7l3 6l1 -5l5 10l8 3l14 -1l7 1l2 2l37 -1l1 1h10l1 2l6 -1l6 1l29 -1l13 2l12 -1l1 3h9l5 -1l1 -2h3l1 2l11 -1l2 -34l3 -8l4 -5l9 -17l2 -9l-1 -74l-12 -6l-6 -5v-176l1 -1l22 35l16 14l6 7l4 8h17l3 7v34l4 8l4 14v-11l1 -1l5 13v-16l1 -1l4 11l5 10v22l8 14v7l4 6v-24l1 -1l4 5v31l5 9v6l7 14v-23l1 -1l9 16l1 -8l5 10v-10l1 -1l6 15v24l17 38v-4l1 -1l7 14l1 -2l8 10l1 -1l19 19v3l7 5v3l6 2l4 4l5 1l2 4l17 2l1 -2l4 1l5 -1l1 2l3 -2h3l10 -16l20 -41l1 2l3 -6l6 -59l-1 -92l-3 -3v-14l4 -1v-27l1 -1l1 -26l1 -1l3 6v-99z"/>
<path fill="#da0000" stroke="#da0000" d="M445 282l-2 3v4zM393 160l14 28l5 23l-4 3l-2 -1l-14 -30v-22zM779 87l-22 5l-18 6l-8 4l-4 4v28l10 1v76l-6 7v143h3v-2l4 -4l21 -15l3 -11l3 -5v-7l9 -12l5 -10zM0 0v311l32 26l18 8l15 9l17 1l1 -2h9l1 2h5l4 -2l14 -1l3 -2l-27 -33l10 -3l30 35l15 -7l2 -3l4 -2l2 1l3 -3l14 -21l3 -3h2l-4 -4l-12 -24l-4 -29l4 -1l4 1l2 3l14 42l10 11l7 1l9 29l1 7l2 1l11 -1l2 3h3l4 3l1 -3l2 1l3 4v10l10 4l8 -1l12 2l16 -1l9 2l1 -2l2 1l10 -1l1 2l4 -1l7 2l11 -1l4 2l27 -1l1 1h23l1 2h14l1 -2l15 1l2 -36l3 -5v-4l8 -13v-2l5 -6l1 -4v-70l-1 -6l-11 -6l-1 2l-1 -3l-4 -3l-1 -60l-3 -3v-12l-3 -6l-1 -14l-5 -8l-4 -11l6 -49l9 -19l-1 -5l1 -6l60 36l11 9v43l2 4l3 15l3 8v-14l1 -1l1 1l4 17v-26l1 -1l1 1l3 21l5 13v23l8 16v7l4 7v-24l1 -1l4 5v30l5 8v6l7 11v-20l1 -1l9 13v-3l1 -1l5 9v-6l1 -1l6 14v20l17 45v-4l1 -1l7 16l1 -2l6 9l4 2l7 10l11 11v4l6 4l1 3l6 2l2 3l7 3l2 5l6 2h5l5 2l2 -3l10 3l6 -1l5 -8l2 -7l8 -12l15 -30l1 1l3 -6l3 -41l1 -1v-50l-1 -1l1 -56l-2 -2v-54l4 -1v-15l1 -1v-92z"/>
<path fill="#b60000" stroke="#b60000" d="M387 148l20 40l5 23l-4 3l-2 -1l-13 -27l-11 -31zM779 87l-38 37l-4 8v79l-6 7v135h3l24 -24l1 1l1 -5l5 -9v-6l3 -4l3 -14l8 -11zM499 0v68l2 4l3 15l3 1l-2 2l2 8v56l8 17v8l4 8v-25l1 -1l4 6v30l5 7v5l7 10v-15l1 -1l9 14v-3l1 -1l5 9v-5l1 -1l6 13v17l6 14l11 35v-8l1 -1l7 20v-4l1 -1l8 18v-3l1 -1l3 8l16 21v3l4 4h2l1 3l15 7l1 5l9 5l2 -1l7 3l1 -6l6 4h3l1 4h6l2 -3l1 -9l4 -8l3 -2l1 -3l6 -7l13 -27l1 1l3 -6l2 -35l1 -1l-1 -7v-182l-3 -5l-9 -9l-7 -18l7 -54zM0 0v310l12 9l21 18l32 16h13l1 1l4 -1l15 1l11 -3l1 1l7 -1l2 -2l-27 -32l10 -3l26 30l5 4l14 -7l1 -2l7 -2l15 -19l3 -6l3 -2l-3 -3l-12 -24l-4 -29l4 -1l4 1l2 3l14 42l9 10l8 2l10 34l7 2l1 -2h5l1 2l7 2l2 -2l4 1l6 18l7 2l17 -1l1 2l38 -1l3 2l8 -1l1 2l6 -1l15 1l1 -1l1 1l43 1l1 2h9l5 -1l1 -2h3l1 2l11 -1l1 -2v-30l2 -5v-5l2 -3v-5l8 -12l5 -5l1 -6l-1 -70l-4 12l-1 -1v-4l-7 16l-1 -1v-14l-2 -1v-16l-3 -5v-57l-3 -3v-12l-3 -6l-1 -14l-5 -8l-4 -11l6 -49l9 -19l-1 -5l1 -6l60 36l12 10v8l3 7l4 17v-19l1 -1l3 7l2 11v-101z"/>
<path fill="#920000" stroke="#920000" d="M387 148l20 40l5 23l-4 3l-2 -1l-13 -27l-11 -31zM779 87l-38 37l-4 8v79l-6 7v128h3l1 2l23 -30l1 1l6 -11v-8l3 -10l4 -7l7 -7zM503 0v66l1 3h12l1 1v9l-10 9v19l3 13l3 29l2 3v8l4 9l1 -9l4 6v14l5 7v6l7 11v-15l1 -1l13 21l16 36l17 46l8 15l5 15l20 27l19 6l2 5l8 4l2 -2l7 4l1 -3l5 3h4l1 4h6l3 -11l6 -9l7 -7l14 -28l1 1l3 -6l1 -9l1 -214l-3 -5l-9 -9l-7 -18l7 -54zM0 0v310l33 26l33 17h34l19 -4l-27 -32l10 -3l29 33h3l23 -12l18 -26l-14 -26l-4 -29l4 -1l4 1l2 3l14 42l9 10l8 1l10 34l1 1h17l13 4l3 3l1 11l2 3l34 1l1 1h29l8 2l5 -1l48 1l13 2l30 -1v-28l3 -21l4 -10l11 -10v-44l-6 14l-6 8l-1 -1v-14l-1 1l-1 -1v-17l-1 -1v-27l-2 -2v-60l-3 -3v-12l-3 -6l-1 -14l-5 -8l-4 -11l6 -49l9 -19l-2 -18v-18z"/>
<path fill="#ffffff" stroke="#ffffff" d="M0 0v43h20v-32l1 -1h3l1 1v54h4v-54l1 -1h6l1 1v195h3v-195l1 -1h10l1 1v14h6l1 1v4h10l1 1v21h5v-41l1 -1h4l1 1v186h5v-186l1 -1h6l1 1v16h1v-16l1 -1h30l1 1v32h3v-32l1 -1h11l1 1v12h3v-12l1 -1h30l1 1v100h5v-100l1 -1h8l1 1v32h6l1 1v231h8v-218l1 -1h5v-45l1 -1h6l1 1v19h6l1 1v16h10l1 1v8h5l1 1v8h6l1 1v6h6l1 1v10h5v-46l1 -1h4l1 1v59h4v-43l1 -1h27l1 1v8h3l1 1v3h17l1 1v23h5v-19l1 -1h6l1 1v21h6v-5l1 -1h5l1 1v36h6l1 1v19h12v-32l1 -1h6l1 1v34h3v-21l1 -1h10l1 1v4h6l1 1v14h5l1 1v15h6v-43l1 -1h6l1 1v29h5v-3l1 -1h19v-23l1 -1h5l1 1v23h9v-12l1 -1h3l1 2h12v-52l1 -1h8v-14l1 -1h15l1 1v27h5l1 1v8h12l1 1v30h4v-63l1 -1h17l1 1v23h7v-23l1 -1h17v-19l1 -1h10l1 1v204h6v-173l1 -1h8l1 1v23h10l1 1v21h10v-34l1 -1h12l1 1v28h3v-46l1 -1h21l1 1v15h26l1 2h16l1 1v78h5v-89l1 -1h11l1 1v32h4l1 1v272h5v-162l1 -1h10v-82l1 -1h8l1 1v60h8l1 1v8h16v-206z"/>
</g></g>
<g transform="translate(126.50 961.46) scale(0.5)" clip-path="url(#cp)"><g filter="url(#bl)">
<path fill="#0000fe" stroke="#0000fe" d="M0 0v382h779v-382z"/>
<path fill="#0010ff" stroke="#0010ff" d="M309 312l1 -1h163l1 1v14l-1 1h-163l-1 -1zM309 223l1 -1h163l1 1v24l-1 1h-163l-1 -1zM508 196l1 -1h30l1 1v23l-1 1h-30l-1 -1zM413 20l5 4l56 71l35 35v19l-1 1h-55l-28 -28l-7 -9l-20 -33zM0 0v210h142l1 1v12l-1 1h-142v33h142l1 1v55l-1 1h-142v68h779v-382z"/>
<path fill="#0030ff" stroke="#0030ff" d="M309 310l1 -1h163l1 1v21l-1 1h-163l-1 -1zM309 221l1 -1h163l1 1v28l-1 1h-163l-1 -1zM509 187h30l1 1v33l-1 1h-30l-1 -1v-33zM181 175l1 -1h41l1 1v36l-1 1h-41l-1 -1zM223 149l1 -10h46l1 -4h73l1 1l-9 9h-65l-1 5h-46zM413 20l5 4l56 71l35 35v21l-1 1h-53l-30 -30l-7 -9l-20 -33zM0 0v207h142l1 1v17l-1 1h-142v30h142l1 1v62l-1 1h-142v62h779v-245h-57l-41 -28l-4 -109z"/>
<path fill="#0050ff" stroke="#0050ff" d="M309 308l1 -1h163l1 1v28l-1 1h-163l-1 -1zM270 175l1 -1h38l1 1v43h163l1 1v32l-1 1h-163l-1 4h-38l-1 -1zM182 172h41l1 1v44l-1 1h-41l-1 -1v-44zM223 151v-12l1 -1h46l1 -5h75l1 1l-14 14h-62l-1 4h-46zM413 20l5 4l56 71l35 35v8h30l1 1v83l-1 1h-30l-1 -1v-67h-50l-33 -33l-17 -24l-10 -18zM0 0v205h142l1 1v20l-1 1h-142v28h142l1 1v75l-1 1h-142v50h779v-217h-27l-31 -29l-39 -26l-12 43l-2 14v19l66 66v65l-1 1h-131l-1 -1v-47h-30l-1 -1v-131l13 -14l8 -15l10 -29l8 -30l29 -50z"/>
<path fill="#0070ff" stroke="#0070ff" d="M309 306l1 -1h163l1 1v42l-1 1h-163l-1 -1zM0 229v24h142v-24zM142 140l20 -21l20 20v3l-1 1h-38zM0 0v203h142v-20l1 -1h38v-11l1 -1h41l1 -6h46l1 6h39l20 -20h-59l-1 4h-46l-1 -1v-16l1 -1h46l1 -5h78l49 -50l15 -61l5 4l56 71l35 35v5h30l1 1v88l-1 1h-30l-1 -1v-66h-46l12 12v15l-1 1h-163v30h163l1 1v36l-1 1h-163l-1 7h-38v39l-1 1h-46l-1 -1v-77h-41v77l-1 1h-38v43l-1 1h-142v37h779v-124h-14l-1 -1v-23l1 -1h14v-53h-14l-1 -3l-38 -37l-44 -30l-12 43l-2 14v19l66 66v39h30l1 1v34l-1 1h-162l-1 -1v-45h-30l-1 -1v-142l13 -14l8 -15l10 -29l8 -30l29 -50h-408l7 32l11 35l10 20l13 13l-1 2h-46l-1 -1v-101z"/>
<path fill="#008fff" stroke="#008fff" d="M309 304l1 -1h163l1 1v46l-1 1h-163l-1 -1zM0 231v21h142v-21zM310 188v26h163v-26zM142 140l20 -21l20 20v7l-1 1h-38zM0 0v201h142v-21l1 -1h38v-11l1 -1h41l1 -7h46l1 6h43l13 -13h-56l-1 3h-46l-1 -1v-19l1 -1h46l1 -6h80l47 -48l15 -61l5 4l56 71l35 35v3h30l1 1v92l-1 1h-30l-1 -3h-34v31l-1 1h-163l-1 9h-38v39l-1 1h-46l-1 -1v-75h-41v75l-1 1h-38v41l-1 1h-142v35h779v-96h-14l-1 -1v-65l1 -1h14v-32h-14l-1 -10l-30 -30l-13 -11l-39 -26l-12 43l-2 14v19l66 66v34h30l1 1v42l-1 1l-162 -1l-1 -1v-23h-30l-1 -1v-166l13 -14l8 -15l10 -29l8 -30l29 -50h-408l7 32l11 35l10 20l13 13l-1 5h-46l-1 -1v-104z"/>
<path fill="#00afff" stroke="#00afff" d="M764 333l-162 -1l-1 -1v-24h-30l-1 -1v-45h-30l-1 -10h-30v96l-1 1h-34l-1 4h-163l-1 -1v-59l1 -1h163v-33h-163v11l-1 1h-38v37l-1 1h-46l-1 6h-41l-1 -5h-38v39l-1 1h-142v33h764zM0 232v18h142v-18zM765 194v11h14v-11zM310 190v22h163v-22zM271 155v7h47l7 -7zM540 140v32h30v-32zM142 140l20 -21l20 20v11l-1 1h-38l-1 -1zM0 199h142v-22l1 -1h38v-10l1 -1h41v-30l1 -1h46l1 -7h82l35 -35l11 -13l14 -59l1 -20h-184l7 32l11 35l10 20l13 13l-1 7h-46l-1 -1v-106h-223z"/>
<path fill="#00cfff" stroke="#00cfff" d="M270 312h-46l-1 7h-41l-1 -7h-38v38l-1 1h-142v31h270zM571 308v74h193v-46h-30l-1 -2h-131l-1 -1v-25zM539 305h-30v43l-1 1h-34l-1 5h-163v28h229zM310 260v27h163v-27zM509 256v32h30v-32zM310 193v17h163v-17zM271 157v1h51l1 -1zM540 144v26h30v-26zM0 0v197h142v-57l20 -21l20 20v24h41v-30l1 -1h46v-22h-46l-1 3h-63l-3 -8l-18 -29l-12 -24l-12 -30l-7 -22z"/>
<path fill="#08efef" stroke="#08efef" d="M539 341h-30l-1 10h-34l-1 5h-163v26h229zM270 315h-46l-1 10h-41l-1 -9h-38v36l-1 1h-142v29h270zM571 309v73h193v-44h-30l-1 -2h-131l-1 -1v-26zM310 262v22h163v-22zM509 261v22h30v-22zM540 147v20h30v-20zM224 112v19h46v-19zM0 0v196h142v-56l19 -20v-3l-4 -12l-18 -29l-12 -24l-12 -30l-7 -22z"/>
<path fill="#21ffd5" stroke="#21ffd5" d="M0 354v28h142v-28zM539 377h-30l-1 -1v-24h-34v13l-1 1h-163v16h229zM571 311v71h162v-43h-131l-1 -1v-27zM310 264v17h163v-17zM0 143v51h142v-51z"/>
<path fill="#3bffbc" stroke="#3bffbc" d="M0 355v27h142v-27zM508 354h-34v13l-1 1h-163v14h198zM571 312v70h30v-70z"/>
<path fill="#55ffa2" stroke="#55ffa2" d="M0 356v26h142v-26zM508 355h-34v14l-1 1h-163v12h198zM571 314v68h30v-68z"/>
<path fill="#6fff88" stroke="#6fff88" d="M0 358v24h142v-24zM508 357h-34v14l-1 1h-163v10h198zM571 315v67h30v-67z"/>
<path fill="#88ff6f" stroke="#88ff6f" d="M508 359h-34v14l-1 1h-163v8h198zM0 359v23h142v-23zM571 317v65h30v-65z"/>
<path fill="#a2ff55" stroke="#a2ff55" d="M474 360v22h34v-22zM0 360v22h142v-22z"/>
<path fill="#bcff3b" stroke="#bcff3b" d="M474 375v7h34v-7zM0 375v7h142v-7z"/>
<path fill="#ffffff" stroke="#ffffff" d="M0 379v3h779v-3zM0 0v124h142l1 1v14h38v-38l1 -1h88v-8l1 -1h38l1 1v78h163v-39l1 -1h34v-27l1 -1h30l1 1v25h30l1 1v8h30l1 1v114h131v-74l1 -1h30v-46l1 -1h14v-130z"/>
</g></g>
<g transform="translate(126.50 1191.80) scale(0.5)" clip-path="url(#cp)"><g filter="url(#bl)">
<path fill="#ffff00" stroke="#ffff00" d="M0 0v382h779v-382z"/>
<path fill="#ffa500" stroke="#ffa500" d="M520 286l23 48l8 35l-1 3h-22l-1 -1l-8 -79zM515 273l2 5l4 34l-5 33l-10 27l-23 -63l12 -21zM779 320l-13 16l-17 34l-3 -2l-12 -15h-3v19l-1 1l-4 -1l-3 -68l-19 42l-25 31l-29 -1l-1 -1h-76l-10 -11l-9 -26l-7 -27l-20 -30l-12 -21l-13 14l-19 -29l-8 -32v-39l11 -41v-23l-14 -14l-59 -71l-13 57l12 21l15 21l42 42v10l-11 9v45l6 30l-1 1l-5 -4v18l-14 31l-10 15l-10 11l-10 21l-18 24l-76 -2l-1 -1h-21l-1 -1l-51 2l-12 -8l-16 -15l-29 -40l-2 -1l-12 5l-11 13l-16 12l-38 19l-22 6l-23 -2l-22 -11l-27 -24l-16 -7v60h779z"/>
<path fill="#ff0000" stroke="#ff0000" d="M442 173l5 17l6 4l-2 -21zM414 173l8 21l6 -3l1 -2l-6 -16z"/>
<path fill="#0000ff" stroke="#0000ff" d="M424 174l6 15l-2 3l-4 2l13 20l20 41l6 5l-12 -66l-5 -4l-5 -16z"/>
<path fill="#ffffff" stroke="#ffffff" d="M0 0v125h36l1 1v81h3v-81l1 -1h39l1 1v72h4v-72l1 -1h56l1 1v14h38v-40l1 -1h16l1 1v175h7v-175l2 -1l1 -2h65v-4l1 -1h34l1 1v78h163v-38l1 -1h34v-28l1 -1h14l1 1v28h4v-28l1 -1h10l1 1v26h30l1 1v5h15l1 1v110h5v-110l1 -1h8l1 1v113h125l1 1v131h5v-161l1 -1h15v-41l1 -1h7l1 1v28h13v-4l1 -1h7v-202z"/>
</g></g>
<g transform="translate(615.40 40.10) scale(0.5)" clip-path="url(#cp)"><g filter="url(#bl)">
<path fill="#0000b6" stroke="#0000b6" d="M0 0v382h779v-382z"/>
<path fill="#0000da" stroke="#0000da" d="M0 0v382h779v-382h-358v132l-1 1l-9 -1v-132h-101v140l-1 1l-3 -2l-5 -7v-13l-2 -15v-50l-14 -12l-1 -22l-5 -12l-6 -8z"/>
<path fill="#0000fe" stroke="#0000fe" d="M618 86l6 6v8l-4 2l-3 -1v-14zM659 83l7 9v99l-1 1l-2 -5v-10l-5 -35v-58zM728 56l4 4l3 6v32l-4 1l-3 4l-1 -1v-45zM0 0v382h779v-180l-4 -3v36l-1 1l-10 -12v-185l-7 6l-1 -1v-21l-10 -10l-10 -13h-61l49 52v31l-9 12l-1 -1v-26l-7 -8v39l-4 8l-1 -1v-29l-3 -3l-21 -46l-3 -16l-4 -12h-223v153l-1 1l-7 -1v-153h-6v163l-4 1v19l-9 2v35l-9 7l-1 -8l-7 5l-1 -1v-23l-4 2l-2 -1v-201h-8v232l-1 1l-10 -28v-205h-32v150l-1 1l-6 -2v-149h-17v173l-2 1l-7 -2v-12l-3 -1v41l-1 1l-10 -2v-145l-14 -12l-1 -22l-5 -12l-6 -8z"/>
<path fill="#0010ff" stroke="#0010ff" d="M594 70l18 11l12 11v48l-1 1l-6 -8v-28l-8 2v3l-3 2l-3 -1v-22l-10 -17zM592 70l1 -1l1 1l-1 1zM0 0v382h779v-138l-15 -15v-5l-12 -17v-60l-5 -3v54l-1 1l-12 -31l-6 10l-1 -10l-3 4v13l-14 44l-3 1l-2 3l-3 -1v-32l-1 29l-3 4l-6 2l-12 -8l-1 3l-6 -5l-7 -29l-1 2l-1 -1l-6 -21v-5l-2 -4l-2 -26l-2 -8v-56l-9 10v15l-1 1l-6 -1v-8l-7 1l-1 -1v-94h-68l-8 21l-9 16l-10 23l-16 24l-11 26l-3 14v71l-1 1l-54 1v40l-6 2l-2 -1v-32l-6 1v33l-5 3h-6l-5 6l-20 15l-1 -1v-36l-2 -1l-6 -20v36l-1 1l-10 -28v-10l-4 -12l-5 3l-1 7l-16 9l-6 -2l-2 2l-11 -5l-10 -3l-2 1l-6 -1l-5 -3l-1 3l-6 1l-4 -1v-61l-5 -7v16l-1 1l-4 -6v51l-1 1l-5 -6v-49l-6 -7v32l-1 1l-13 -15v-25l-4 -5v-38l-5 -4v-10l-5 -2v63l-2 1l-7 -3v-4l-7 -7v-74h-5l-3 -7v-29v119l-1 1l-7 -22v-41l-4 -8l-6 5h-18l3 3v18l-5 4h-3l-1 5h-7l-2 -3h-5l-4 -2v-10l-4 -2v-78h-3v77l-1 1l-12 -2l-1 -1v-10l-7 -3v-47l-3 -15v102l-2 2l-2 -1v-6l-2 -6v-11l-4 -4v-11l-13 -9v-42l10 -14z"/>
<path fill="#0030ff" stroke="#0030ff" d="M0 0v382h779v-134l-15 -14v-5l-8 -9l-1 -4l-3 -3l-4 -8l-3 -1l-1 -7l-10 -28l-10 16l-14 47l-6 5l-3 -2l-9 5l-11 -6l-3 2l-5 -4l-7 -30l-1 2l-2 -4l-5 -18v-6l-8 -24l-2 -21l-5 -1v15l-1 1h-12l-2 -2v-144h-68l-9 22l43 48l18 11l12 11v53l-6 1l-1 -10l-8 -7v2l-2 1l-4 -3v-9l-5 -1l-1 -7l-4 -4v7l-1 1l-1 -1v-9l-8 -8l-36 -47l-7 -7l-9 20l-11 15l-9 17l-7 22l-1 6v115l-1 1h-53l-6 3l-6 -1l-5 3l-10 2l-5 6l-18 14l-4 -2l-6 -20l-1 1l-10 -28v-5l-4 -12l-22 16l-5 -2l-4 1l-3 -1l-1 -2l-17 -5l-3 1l-9 -4l-1 3l-9 2l-1 -9l-2 -1l-8 1l-1 5h-4l-1 -5l-5 -1l-2 4l-12 -1l-5 -15v-16l-5 -8v-4l-5 -6v20l-1 1l-8 -12l-7 -7v-18l-5 -2l-3 -3v19l-1 1l-7 -8v-8l-6 -6l-2 -10l-5 -11l-7 -8l-1 -7h-4v12l-1 1l-3 -2h-4l-1 7l-12 -1l-5 2l-1 -1v-10l-3 1l-1 -1v-15h-3v17l-3 2h-3l-1 3h-3l-3 3l-1 -10l-6 4l-1 -2l-3 3v13l-2 2l-2 -2l-2 -7v-6l-4 -12v-22h-12l-5 -5l1 -7l3 -5v-43l10 -14z"/>
<path fill="#0050ff" stroke="#0050ff" d="M103 90l1 7l-3 1l-1 -5zM0 0v382h779v-130l-4 -4l-1 1l-10 -10v-4l-12 -16v-3l-7 -7l-2 -12l-9 -27l-10 16l-14 49l-7 6l-1 -3l-10 7l-11 -5l-2 3l-6 -4l-7 -30l-1 2l-1 -1l-1 -7l-4 -11l-2 -15l-9 -30l-19 -1l-1 -9l-4 -7v16l-1 1l-19 -1l-1 -8l-5 -4v-5l-2 -4l-7 -3v-18l-6 -6l-42 -54l-10 20l-14 20l-8 17l-6 23v117l-1 1h-48l-6 1l-1 2l-5 1l-6 -1l-4 3l-10 2l-5 6l-19 14l-3 -2l-6 -20l-1 1l-10 -28v-5l-4 -12l-21 17l-7 -2l-1 2l-13 -6l-10 -3l-1 2l-11 -5l-1 3h-3l-6 3l-1 -9h-5l-1 2h-4l-1 5l-4 1l-1 -5h-6l-1 5l-12 1l-1 -5l-4 -4v-3l-10 -10l-1 5l-12 -10l-3 -5v-19l-6 -6l-2 -4v19l-1 1l-7 -11l-1 -10l-19 -24v-5l-5 -8v10l-1 1l-4 -5h-3l-1 5l-17 1l-1 -6l-1 1l-3 -1v-9l-3 1l-1 10h-5l-1 2h-6l-1 -3l-10 1v11l-3 1l-3 -10v-6l-4 -11v-18l-3 -5l-6 3h-7l-3 -3l-2 -9l4 -8l1 -7l3 -5v-43l10 -14z"/>
<path fill="#0070ff" stroke="#0070ff" d="M0 0v382h779v-126l-15 -11v-5l-8 -9v-2l-7 -11l-4 -3l-1 -10l-10 -34l-10 17l-14 50l-6 6l-2 -2l-10 8l-11 -4l-2 3l-4 -1l-2 -2l-7 -31l-1 2l-3 -8l-4 -16v-7l-10 -37l-5 -2l-3 1l-10 -2h-6l-2 2l-5 -1l-13 1l-2 -2h-3l-5 -14l-5 -3v-4l-3 2l-2 -1v2l-4 4h-8l-12 -21l-10 -13l-19 -33l-2 1l-9 13l-9 17l-5 14l-3 14v120l-1 1h-50l-4 1l-1 2l-6 1l-5 -1l-7 4l-7 1l-5 6l-19 14l-3 -2l-6 -20l-1 1l-10 -28v-5l-4 -12l-9 9l-13 10l-5 -2l-4 1l-9 -5l-6 -1l-6 -3l-1 2l-10 -5l-2 3l-9 4l-1 -9l-10 4v4l-3 2l-3 -1v-3l-5 1l-2 5l-12 4l-1 -5l-4 -4v-3l-10 -11l-1 5l-15 -15v-6l-4 -3l-4 -9v12l-1 1l-5 -4l-2 -3v-9l-19 -29l-1 -5l-5 -7l-1 7l-4 -5h-3l-1 5l-8 -1l-9 2l-1 -5l-4 -1v-6h-3l-1 9h-5l-1 2h-6l-1 -3l-10 1v12l-2 1l-2 -2l-3 -20l-3 -8v-15l-4 -9l-10 5l-2 -1l-5 5l-3 -1v-11l5 -5v-6l-2 -6l4 -7l1 -7l3 -5v-43l10 -14z"/>
<path fill="#008fff" stroke="#008fff" d="M0 0v382h779v-123l-4 -3l-2 1l-9 -7v-5l-8 -9v-2l-4 -4l-2 -5l-5 -4l-3 -22l-8 -28l-10 19l-14 51l-7 7l-1 -2l-10 9l-8 -3l-1 1l-3 -1l-1 3h-4l-3 -6l-6 -27l-1 1l-3 -8l-4 -17l-1 -12l-9 -36l-20 -4l-8 3l-3 -1l-18 1l-3 -2l-3 -8l-4 -4v-4h-3l-6 4h-7l-13 -24l-10 -13l-19 -33l-2 1l-9 13l-9 17l-5 14l-3 14v123l-1 1h-51l-5 3h-11l-6 4l-7 1l-6 7l-18 14l-3 -3l-6 -20l-1 1l-1 -1l-13 -43l-21 19h-4l-3 -2l-1 2l-9 -5l-14 -5l-1 2l-10 -5l-2 3l-1 -1l-8 6l-1 -9l-10 6v4l-2 2l-3 1l-1 -4l-6 3v3l-2 2l-11 6l-1 -5l-4 -5v-3l-10 -11l-1 4l-15 -16v-6l-8 -7l-1 6l-7 -6v-3l-4 -3l-16 -28l-1 -6l-4 -5l-1 6l-4 -6h-3l-1 5l-6 1l-4 -1l-7 2l-1 -5l-4 -1v-6h-3l-1 9l-5 1l-1 2h-6l-1 -3l-10 2v7l-2 1l-2 -2l-6 -27v-15l-4 -11l-6 2h-7l-4 2l-3 -1v-14l5 -5v-6l-2 -6l4 -7l1 -7l3 -5v-43l10 -14z"/>
<path fill="#00afff" stroke="#00afff" d="M69 101l1 1v10l-1 1l-1 -1v-10zM0 0v382h779v-119l-4 -3l-1 2l-10 -7v-5l-8 -8l-5 -10l-6 -6v-7l-4 -22l-7 -25l-10 19l-14 53l-3 2v2l-4 4l-1 -2l-10 10l-6 -2l-3 1l-3 -1l-1 3h-4l-2 -2l-7 -31l-1 1l-1 -1l-5 -19l-1 -13l-10 -44l-3 -2l-14 -3h-7l-1 2l-4 1l-5 -1l-7 2l-13 -1l-5 -9l-1 -5l-6 1l-2 2h-5l1 6l-2 2h-4l-1 -4l4 -5l-1 -6l-12 -21l-10 -13l-19 -33l-2 1l-9 13l-9 17l-5 14l-3 14v125l-1 1h-47l-6 1l-4 3l-5 -1l-5 1l-6 4l-7 1l-6 7l-18 14l-1 -2l-1 1l-7 -21l-2 -1l-13 -43l-22 21l-5 -2l-2 1l-4 -1l-6 -4l-11 -4l-3 1l-10 -5l-4 1l-7 6l-1 -7l-10 8v4l-5 4l-1 -4l-6 4v4l-13 9l-1 -4l-4 -5v-3l-10 -13l-1 5l-15 -17v-7l-8 -8l-1 6l-7 -8v-3l-11 -11l-8 -11l-1 -6l-5 -8l-1 6l-4 -7h-3l-1 5l-17 1l-1 -4l-2 1l-2 -1v-6l-3 1l-1 7l-12 1l-1 -2l-10 1v5l-2 1l-2 -2l-2 -15l-4 -12v-12l-4 -13l-20 -2v-17l5 -5v-6l-2 -6l4 -7l1 -7l3 -5v-42l-12 8l-28 28l-1 2v34l-6 1l-6 -54v-34z"/>
<path fill="#00cfff" stroke="#00cfff" d="M0 0v382h779v-115l-3 -2l-2 1l-10 -6v-5l-4 -3l-8 -11v-2l-7 -7l-2 -22l-9 -37l-11 23l-13 51l-18 18l-12 -1v3l-6 7l-4 -18v-7l-2 -4l-2 -11l-1 2l-1 -1l-5 -20l-2 -20l-9 -41l-4 -3l-16 -4l-4 1l-1 2l-5 1l-4 -1l-9 3l-2 -1l-7 1l-5 -2l-2 -3v-5l-2 -2l-9 1l2 4l-7 4h-3l-1 -4h-3l-2 -3v-24l-4 -8l-10 -13l-19 -33l-2 1l-9 13l-9 17l-5 14l-3 14v128l-1 1h-49l-5 1l-2 2l-12 1l-2 2l-10 2l-18 16l-8 5l-9 -24l-13 -42l-22 22l-11 -3l-29 -12h-5l-7 6l-2 -2l-13 13h-2l-19 16l-5 -5v-2l-10 -13l-1 4l-15 -18v-7l-6 -6l-2 -4v6l-1 1l-6 -8l-1 -5l-17 -18l-8 -13l-1 4l-4 -6h-3l-1 5l-8 -1l-9 1l-1 -4l-4 -1v-4h-3l-1 6l-12 1l-1 -2h-10v5l-2 1l-2 -2l-2 -17l-8 -33l-5 -3l-5 -1l-1 -2l-9 -2v-20l5 -5v-6l-2 -6l4 -7l1 -7l3 -5v-42l-12 8l-29 30l1 65l-2 14l-2 -5l-2 -15v11l-1 1l-1 -1l-4 -28l-5 -51l-1 -44z"/>
<path fill="#08efef" stroke="#08efef" d="M0 7v375h779v-111l-3 -2l-3 1l-8 -4l-1 -6l-8 -7l-4 -8l-7 -7l-3 -31l-8 -33l-7 13l-4 11l-13 52l-7 9l-1 -2l-10 13l-8 -1l-4 3v4l-3 6l-3 13l-4 -20v-11l-4 -21v7l-1 1l-1 -1l-4 -20l-2 -24l-10 -51l-4 -3l-13 -4h-6l-3 3h-7l-11 4l-2 -1l-3 2l-9 -2l-2 -7l-3 -2h-5l-1 5l-9 2l-1 -4h-3l-3 -6v-25l-3 -6l-10 -13l-19 -33l-2 1l-9 13l-9 17l-5 14l-3 14v129l-1 1h-48l-9 3l-22 4l-24 21l-3 1l-9 -24l-13 -42l-22 22l-9 -2l-18 -8l-17 -5l-7 6l-3 -1l-10 10l-7 4l-17 15l-31 -32v-2l-8 -11l-1 4l-7 -8v-4l-20 -21v-2l-5 -5l-1 4l-4 -4h-3l-1 4l-17 -1l-1 -4l-4 -1v-4h-3l-1 5l-12 1l-1 -3h-10v2l-2 1l-2 -2l-2 -17l-4 -16v-6l-4 -12l-11 -6l-9 -3v-21l-3 -1v-11l6 -5l4 -8l1 -7l3 -5v-42l-12 8l-29 30v48l2 2v11l-3 31l-4 -14l-1 2l-10 -24v-30l-3 -13v-6l-9 -1v-59h-32v12l-1 1l-4 -4z"/>
<path fill="#21ffd5" stroke="#21ffd5" d="M0 16v366h779v-102l-4 -4l-1 4l-10 -9v-5l-12 -13v-2l-7 -6v-12l-3 -23l-8 -36l-10 22l-14 57l-7 10l-1 -2l-10 13h-7l-4 4l-7 37l-4 -21v-12l-4 -23v7l-1 1l-1 -1l-5 -28l-1 -27l-10 -54l-3 -3l-13 -5h-8l-3 3h-6l-16 6l-9 -1l-1 -3l-5 -5h-4l-1 4l-9 2l-1 -5h-3l-5 -5v-32l-11 -15l-19 -33l-2 1l-9 13l-9 17l-5 14l-3 14v130l-1 1h-49l-31 7l-17 16l-9 6l-9 -24l-13 -42l-22 23l-30 -12l-1 1l-11 -5l-3 1l-7 6l-1 -2l-13 12l-7 4l-15 13l-24 -24l-7 -9l-25 -25l-11 -9v-2l-5 -5l-1 4l-8 -4l-21 -3l-1 -3h-3l-1 2h-5l-17 -4l-3 1l-2 -2l-9 -49l-1 -2l-20 -9v-18l-3 -1l-1 -14l7 -6l4 -8l1 -7l3 -5v-42l-12 8l-29 30v48l3 3l-2 23v18l-2 11l-2 -4l-2 -11l-1 1l-10 -28l-5 1v2l-4 2l-2 -2l-1 -32l-2 -8v-11l2 -2v-64h-32v40l-1 1l-5 -18z"/>
<path fill="#3bffbc" stroke="#3bffbc" d="M0 26v356h777l2 -7v-82l-4 -7l-1 3l-9 -11l-1 -7l-12 -11l-1 -3l-6 -2v-16l-2 -19l-9 -45l-10 23l-14 58l-3 6l-4 4l-1 -1l-10 12h-4l-4 3l-4 8v7l-4 20v11l-2 5l-2 -5l-2 -14v-12l-4 -25v7l-1 1l-1 -1l-5 -30l-4 -56l-8 -39l-16 -8h-5l-3 3l-8 1l-10 5h-3l-2 2h-8l-12 -8l-1 5l-1 -1l-8 1l-1 -5h-3l-6 -7v-34l-10 -13l-19 -33l-2 1l-9 13l-9 17l-5 14l-3 14v131l-1 1h-51l-4 2l-23 4l-25 22l-3 1l-13 -36l-9 -31l-22 24l-28 -11h-3l-9 -4h-4l-8 6l-1 -2l-15 14h-2l-17 15h-2l-38 -41l-36 -31l-11 -3l-12 -1l-8 -3l-6 1l-1 -2h-8l-7 -2l-4 1l-2 -2l-9 -48l-2 -3l-14 -7l-5 -1v-18l-3 -1l-2 -10v-5l8 -7l4 -8l1 -7l3 -5v-42l-12 8l-23 23l-1 41l-5 1v13l3 3v14l-1 1l-1 33l-2 11l-4 -13l-2 -1l-9 -29l-5 1l-1 3l-4 1l-9 -3v-12l-3 -1l-3 -7v-40l-9 -24v12l-1 1l-3 -1v-19l-3 -1v-5l-3 -9v39l-1 1l-3 -6l-1 -8z"/>
<path fill="#55ffa2" stroke="#55ffa2" d="M0 35v347h772l2 -6l1 2l4 -19v-53l-4 -10l-1 2l-6 -11l-3 -3l-1 -7l-8 -8l-3 -1l-1 -3l-7 -1l-2 -41l-9 -47l-10 23l-14 62l-7 9l-1 -2l-10 11l-3 1l-5 5l-4 11l-3 32l-3 5l-5 -16l-3 -26v6l-1 1l-1 -1l-1 -12l-4 -19l-1 -24l-4 -30l-2 -32l-4 -20l-5 -5l-11 -5h-7l-3 3l-9 2l-13 7h-10l-2 -3l-6 -3h-2l-1 4l-9 -1l-1 -5h-3l-6 -7v-36l-10 -13l-19 -33l-2 1l-9 13l-9 17l-5 14l-3 14v131l-1 1h-47l-32 7l-23 21l-4 2l-11 -30l-11 -37l-22 24l-26 -10l-18 -5l-8 7l-1 -2l-12 11l-7 4l-16 14l-31 -32l-8 -10l-1 1l-14 -15l-21 -17l-5 -1l-1 -2h-9l-11 -2l-4 -2l-3 1l-5 -2l-20 -2l-6 -24l-5 -27l-20 -9v-17l-3 -1l-2 -9v-8l8 -7l4 -8l1 -7l3 -5v-42l-12 8l-22 22l-2 52l-5 1v3l4 4v5l-1 1v15l-2 17v16l-2 11l-4 -15l-2 -1l-9 -27h-5l-1 3l-5 1l-1 -2l-3 1l-4 -2v-12h-2l-2 -3l-3 -12l-8 -19l-4 -2v-13l-3 -1l-2 -6l-1 -12v10l-1 1z"/>
<path fill="#6fff88" stroke="#6fff88" d="M0 38v344h768l2 -4l3 -12l1 -1l1 1l4 -25v-22l-4 -13l-1 2l-3 -8l-7 -12v-6l-9 -7h-2l-1 -3l-6 2l-1 -1l-2 -47l-4 -27l-5 -22l-10 24l-13 62l-8 10l-1 -2l-17 17l-5 17l-2 23l-4 8l-3 -7l-5 -23l-1 2l-1 -1l-5 -27l-1 -23l-6 -48v-22l-5 -27l-8 -6l-8 -4h-4l-8 5l-8 2l-12 8l-1 -1l-7 1l-2 -3l-6 -1l-3 -2l-1 4l-9 -1l-1 -6h-3l-7 -9v-37l-9 -12l-19 -33l-2 1l-9 13l-9 17l-5 14l-3 14v132l-1 1h-49l-9 3h-6l-17 5l-13 13l-12 9l-7 -19v-3l-2 -2l-13 -43l-22 24l-42 -15l-3 1l-7 6l-1 -2l-14 13h-2l-19 16l-54 -56l-22 -18h-4l-1 -2l-15 -1l-8 -3l-3 1l-5 -2l-20 -2l-3 -6l-8 -42l-2 -3l-19 -10v-16l-3 -1l-3 -12v-5l2 -2h-5l-5 -6v-41v35l-1 1l-7 -8v-4l-3 42l-3 1l2 2v12l-1 1v15l-2 17v16l-2 10l-4 -15l-2 -2l-1 -5l-5 -10l-3 -11h-3l-1 3h-7l-8 -3v-11l-3 -1l-3 -7l-1 -7l-8 -19l-4 -2v-13l-3 -1l-3 -13l-1 3z"/>
<path fill="#88ff6f" stroke="#88ff6f" d="M0 39v343h764l4 -7l5 -20l2 -1l2 -31l-2 -7l-1 1l-5 -14l-5 -9v-7l-4 -3h-3l-1 -2h-3l-1 -2l-4 1l-2 3l-1 -1l-3 -62l-8 -44l-9 22l-8 46l-3 7l-3 16l-7 8l-2 -1l-15 14l-6 18l-1 16l-2 8l-4 7l-4 -9l-4 -16v3l-1 1l-1 -1l-5 -18l-1 -26l-6 -42v-21l-3 -26v-14l-2 -8l-15 -10h-6l-3 3l-13 5l-11 8h-9l-1 -2l-9 -3l-1 4l-4 -2h-5l-1 -6l-5 -1v-2l-3 -2l-3 -7v-37l-8 -11l-19 -33l-2 1l-9 13l-9 17l-5 14l-3 14v133l-1 1h-51l-4 2l-23 4l-23 21l-5 3l-15 -43l-7 -25l-22 25l-44 -15l-7 6h-3l-14 13l-3 1l-16 14h-2l-53 -56l-22 -18h-4l-1 -2l-15 -1l-7 -3h-7l-2 -2l-7 1l-6 -2h-7l-3 -6l-8 -42l-2 -3l-5 -2l-8 -6l-6 -2v-16l-3 -1l-4 -17h-2l-5 -5v-3l-8 -6v-4l-4 41l-3 60l-2 9l-15 -38l-3 -1l-1 3h-7l-8 -3v-11l-3 -1l-3 -7l-1 -7l-9 -20l-3 -1v-13l-3 -1l-3 -15l-1 3l-1 -1l-1 -7z"/>
<path fill="#a2ff55" stroke="#a2ff55" d="M0 40v132l3 15l5 10l-4 9l-4 21v155h764v-7l4 -8l4 -15v-33l-7 -17l-1 -9l-2 -3h-5l-1 -2l-3 1l-2 -2l-3 5l-1 15l-1 1l-1 -1v-28l-2 -16l-1 -36l-2 -18l-6 -31l-10 26v12l-2 12l-11 45l-8 7l-1 -2l-14 13l-5 14l-4 26l-5 10l-8 -21l-1 5l-6 -6l-1 -6v-18l-6 -42v-21l-4 -33l-2 -37l-13 -10l-6 -1l-5 4l-13 6l-10 9l-1 -1l-8 1l-1 -3h-5l-4 -2l-1 4l-4 -2h-5l-1 -7l-5 -1l-7 -14l-1 -39l-6 -8l-19 -33l-2 1l-9 13l-9 17l-5 14l-3 14v133l-1 1h-47l-10 3l-22 4l-27 24l-22 -68l-22 24l-38 -12l-3 -2h-3l-6 5l-4 1l-12 11l-4 2l-16 14l-3 1l-30 -33l-24 -24l-21 -17h-4l-1 -2h-8l-14 -4h-6l-3 -3l-2 2l-16 -3l-2 1l-3 -6l-9 -44l-20 -12v-15l-3 -1l-3 -13l-16 -18l-3 27l-4 71l-2 9l-6 -11v-3l-8 -21l-4 -1l-1 2l-7 2l-1 -2h-4l-3 -4v-9l-3 -1l-3 -6v-4l-9 -21l-4 -2v-14l-3 -1l-3 -18l-1 3l-1 -1l-2 -11z"/>
<path fill="#bcff3b" stroke="#bcff3b" d="M756 294l-3 2l-1 -2l-5 32v55l1 1h4l1 -7l3 3l1 -3l5 4l1 -1l1 -10l5 -13l-1 -41l-4 -9l-1 -9l-1 -1l-5 1zM0 40v98l4 31l6 19v19l-3 7l-3 14l-4 37v117h745l-1 -108l-2 -17l-1 -38l-7 -40l-9 23l-2 29l-12 47l-4 2l-2 3h-2l-1 -2l-12 10l-6 15l-4 25l-4 10l-2 2l-8 -15v4l-4 3l-2 6l-2 -5v-17l-6 -31v-27l-5 -41l-3 -59l-12 -9h-6l-4 4l-11 5l-7 9l-1 -1l-4 5l-3 -2h-6l-1 -2h-4l-4 -2l-2 4l-4 -2h-4l-2 -2v-5h-3l-2 -2v-2l-5 -5l-1 -5l-2 -1v-42l-6 -8l-19 -33l-2 1l-9 13l-9 17l-5 14l-3 14v134l-1 1h-50l-5 2l-23 4l-28 24l-14 -40l-8 -28l-22 25l-40 -14h-5l-7 6l-1 -1l-35 29l-37 -40l-18 -17l-22 -18l-17 -2l-9 -3h-8l-1 -4l-3 3l-14 -3l-3 1l-2 -2l-10 -48l-20 -13v-14l-3 -1l-3 -13l-16 -16l-3 28l-4 69l-2 9l-6 -9l-4 -15l-5 -11h-3l-1 2l-11 2l-4 -6v-6l-3 -1l-9 -24l-4 -8l-3 -1v-15l-3 -1l-3 -19l-1 2l-1 -1l-1 -8z"/>
<path fill="#d5ff21" stroke="#d5ff21" d="M758 301l-1 2l-1 -1l-2 20l-1 1l-1 -3l-2 19l2 17l1 -3l1 1l2 10l1 -1l3 6l3 3l1 -11l3 -7l-1 -29l-1 -1l-1 -20l-2 -3zM0 41v91l4 9l3 26l3 9v43l-4 16l-2 24l-4 11v112h617v-40l2 -6l3 -27v-14l1 -1l1 1v87h120l-1 -113l-2 -18l-1 -38l-6 -33l-8 20l-3 40l-7 29l-2 2l-3 12l-7 4l-2 -2l-9 5l-3 4l-5 13l-2 14l-6 21l-3 4l-5 -9l-3 -2v6l-3 4l-3 17l-2 -4v-15l-6 -20v-24l-5 -26l-1 -32l-1 -1v-29l-2 -18v-17v3l-1 1l-1 -1v-18l-4 -5l-6 -4l-6 1l-5 5l-6 2l-5 6l-2 5l-3 3l-1 -1l-4 5l-5 -3h-4l-1 -2l-8 -2l-2 4l-6 -2l-4 -5v-3h-3l-2 -2v-2l-4 -3l-2 -6l-2 -1l-1 -4v-42l-24 -40l-2 1l-9 13l-9 17l-5 14l-3 14v134l-1 1h-48l-28 6l-8 5l-22 20l-22 -68l-22 24l-44 -14l-8 7l-1 -1l-35 29l-39 -42l-38 -33l-55 -9l-2 -2l-10 -47l-15 -11l-5 -2v-15l-3 -1l-4 -14l-10 -7l-5 -6l-7 97l-2 9l-8 -13v-3l-7 -18h-3l-1 2l-11 1l-5 -8l1 -3l-3 -1l-10 -23l-5 -8l-1 -14l-3 -1l-3 -21l-1 1l-1 -1v-4z"/>
<path fill="#effe08" stroke="#effe08" d="M761 306l-3 24l-1 1l-1 -1l-1 15l4 13l4 7l2 -12l-1 -44zM575 294l2 2v26l-1 1l-1 22l-2 6l-2 -15l-1 -37l2 -4zM734 181l-7 17l-4 51l-12 41l-2 2l-1 -3l-5 1l-2 -2l-10 7l-5 13l-6 30l-4 8l-2 2l-5 -6h-3v7l-4 14l-1 17l-1 1l-2 -1v-13l-6 -9v-21l-9 -26v54l-2 9v8h101v-17l1 -1l-1 -100l-2 -19l-1 -37zM0 42v88l6 14l3 14l1 30l2 4l8 8l-1 1l-4 -1l-5 7v23l-2 7v6l-8 28v111h603v-13l5 -8l1 4l3 -6l5 -19v-65l3 -30v-19l3 -11l1 1v166h4v-180l2 -4l1 1l5 25l1 -1l1 1l1 -2l1 -36l-1 -1l-1 -27l-8 -6l-6 2v2l-4 2l-2 3l-1 -2l-2 2l-9 16l-2 2l-1 -1l-4 4h-3l-5 -5l-1 1l-1 -3l-9 -1l-1 4l-6 -2l-4 -4v-5h-3l-2 -4l-4 -3l-2 -5l-2 -1l-2 -8v-43l-23 -38l-2 1l-9 13l-9 17l-5 14l-3 14v135l-1 1h-51l-4 2l-24 4l-20 19l-7 5l-13 -37l-9 -31l-22 25l-22 -8l-22 -6l-6 5l-5 2l-12 11l-3 1l-16 14l-3 1l-36 -40l-40 -34l-24 -4l-5 -2l-1 1l-18 -4h-7l-3 -6l-9 -43l-17 -13l-3 -1v-14l-3 -1l-4 -15l-6 -2l-1 -2l-6 -3l-2 -3l-7 96l-2 8l-7 -9l-8 -23h-3l-1 2h-11l-5 -7l-1 -3l1 -1l-4 -4l-16 -32l2 -2v-4l-3 -1l-3 -24l-1 2l-1 -1v-5z"/>
<path fill="#ffe100" stroke="#ffe100" d="M648 372l-2 10h6v-8zM762 324l-3 24l3 10h1l1 -2v-21l-1 -1v-10zM734 181l-5 13l-5 46v13l-6 21l-2 13l-1 1l-1 -1l-4 14l-2 -1l-1 -3l-1 2l-4 -8l-10 5l-5 13l-3 18l-4 14l-6 10l-4 -4l-4 2v9l-2 6l-2 18h79v-36l1 -1l-1 -86l-1 -1l-2 -55zM0 43v84l10 26v24l5 12l14 15l1 -2l10 8l-1 2h-4l-2 -2h-3l-1 -3l-14 -2l-5 12v22l-10 33v110h570l-1 -35l-1 -1v-48l3 -6l4 -3h3l2 2v91h9v-11l2 -2h7v-3l5 -7v-15l5 -14l1 1l2 -8l6 -44v-52l6 -21l1 1v113l3 -113l1 -1v-10l2 -3l4 12l2 1l2 -13l-1 -1l-1 -35l-5 -4l-7 2l-6 13l-1 -1v-3l-10 16l-8 6h-5l-4 -4l-1 -4l-9 -1l-1 4l-8 -3l-5 -6l1 -1l-2 -1l-1 -5l-8 -8l-2 -6l-1 -49l-22 -37l-2 1l-9 13l-9 17l-5 14l-3 14v135l-1 1h-48l-28 6l-5 2l-25 23l-22 -68l-22 24l-40 -13h-5l-7 6l-1 -1l-35 29l-39 -42l-36 -31l-5 -1l-1 -2h-7l-15 -4h-7l-22 -4l-2 -2l-10 -46l-15 -12l-5 -2v-15l-3 -1l-3 -13l-16 -9l-7 94l-2 9l-6 -7l-9 -23l-2 -1l-14 1l-24 -47l2 -4l-3 -1l-3 -24l-1 1l-1 -1l-2 -15z"/>
<path fill="#ffc300" stroke="#ffc300" d="M734 182l-5 16v13l-2 7l-3 44l-8 38l-1 1l-1 -2l-3 10l-2 1l-2 -3l-1 3l-4 -8v-7l-6 1l-4 3l-4 10l-4 23l-4 13l-6 8l-4 -2l-4 5v12l-2 7v7h75l1 -4v-45l1 -1l-1 -79l-1 -1v-20l-1 -1v-24zM0 44v81l10 24v17l5 16l5 7l9 9l1 -2l8 8h3l8 -6l2 1l-13 18l-8 -3l-3 -3l-12 -2l-5 18v13l-10 34v108h564l2 -85l3 -7l8 -7l3 1v42l3 29l6 8v-24l1 -1l4 7l4 3l5 -13v-16l2 -5l2 -15l2 -1l5 -41l1 -22l2 -6v-14l6 -17l1 1v15l1 -7l3 -7l1 -12l1 -1l4 6l1 -1l-1 -36l-4 -3l-6 3v10l-6 9l-1 -1v-4l-8 12l-5 5l-1 -1l-6 5h-5l-2 -2l-1 -8l-9 -1v3l-2 1l-10 -4l-4 -5v-8l-6 -6l-1 1l-4 -12v-48l-22 -37l-2 1l-9 13l-9 17l-5 14l-3 14v136l-1 1h-51l-5 2l-23 4l-27 24l-13 -37l-9 -31l-22 24l-10 -2l-3 -2l-31 -9l-8 7l-1 -1l-35 29l-38 -42l-39 -33l-20 -3l-9 -3l-1 1l-23 -5l-1 1l-3 -3l-10 -45l-17 -14l-3 -1v-15l-3 -1l-4 -14h-4l-5 -3h-3l-3 -3l-8 101l-1 1l-6 -5l-4 -8l-5 -15l-2 -1l-2 1l-10 -1l-1 1l-2 -2l-11 -24l-12 -21l-4 -29l-1 1l-1 -1l-2 -16z"/>
<path fill="#ffa600" stroke="#ffa600" d="M53 194l2 -2l4 1l-4 2zM734 183l-4 13l-1 28l-2 6l-1 19l-2 10v21l-7 30l-2 3l-1 -2l-3 8l-2 1l-2 -2l-1 3l-4 -7v-11l-2 -5l-8 3l-4 12l-4 24l-4 8v3l-6 8h-4l-2 2l-2 8l-1 16h43v-7l2 -6l4 13l1 -7l2 7h21l1 -134l-1 -1v-23l-1 -1v-24zM0 45v78l10 22v11l5 20l14 16l1 -2l9 9l7 -1l7 -4l1 1l-16 27l-8 -3l-1 -3l-8 -2l-2 1l-4 -1l-5 28l-10 33v107h562l1 -21l1 -1v-66l2 -6l12 -11l2 1v8l4 3l2 25l3 14v-21l1 -1l3 12l5 10l2 -4l3 -12v-18l3 -13l1 -13l2 -4l1 -17l7 -30v-13l6 -15l1 1v15l4 -12l1 -11l1 -1l3 2l-1 -2v-26l-4 -1l-4 2v20l-6 6l-1 -5l-13 15l-1 -2l-9 7l-5 -2v-7l-2 -4l-2 -1h-5l-1 4l-13 -3l-2 -2v-6l-2 -7l-4 -5l-1 1l-4 -9l-1 -56l-21 -35l-2 1l-9 13l-9 17l-5 14l-3 14v136l-1 1h-49l-31 7l-26 24l-22 -68l-22 24l-44 -13l-6 5l-5 2l-12 11l-4 2l-15 13l-3 1l-38 -42l-38 -32l-18 -3l-8 -3h-7l-16 -4h-6l-2 -2l-10 -45l-15 -13l-5 -2v-15l-3 -1l-3 -13l-4 -2l-8 -1l-4 -2l-8 99l-2 1l-4 -2l-5 -9l-5 -15l-15 -1l-2 -2l-8 -18l-15 -27l-4 -27l-1 3l-1 -1l-1 -14z"/>
<path fill="#ff8800" stroke="#ff8800" d="M734 184l-3 10l-2 43l-2 4l-2 20l-1 41l-5 17l-4 7l-1 -3l-4 6l-3 -1l-1 3l-4 -4v-11l-4 -13l-3 -1l-3 2l-3 9v7l-4 19l-5 10v3l-6 6l-4 2l-4 15v7h38l1 -27l1 -1l1 1v5l1 -20l2 -4l4 16v-9l1 -1l1 1l8 32v7h13l1 -141l-1 -1l-1 -45zM630 154v13l-1 1l-1 -1v-12l-2 1l-2 5v36l4 -10v-8l2 -3zM619 188l-1 1l-1 -1v-5l-13 13l-1 -1l-10 8l-4 -1v-6l-3 -4l-1 -6h-5l-1 4l-6 -2l-8 3l-1 -1v-5l-3 -2l-2 -16l-1 -1v6l-1 1l-1 -1v-5l-3 -5l-1 -5l-1 -58l-18 -31l-3 -3l-10 14l-9 17l-5 14l-3 14v137l-1 1h-51l-5 2l-23 4l-27 24l-12 -34l-10 -34l-22 24l-10 -2l-30 -10h-5l-7 6l-1 -1l-35 29l-38 -42l-5 -3l-32 -28l-5 -1l-1 -2h-7l-18 -5l-1 1l-25 -5l-2 -2l-10 -44l-17 -15l-3 -1v-15l-3 -1l-3 -13l-16 -3l-8 98l-5 1l-1 2l-10 4l-16 30l-7 -2l-2 -3l-14 -2l-5 19v5l-10 33v106h559l5 -100l4 -4l5 -1l6 -7l1 9h3l5 5l1 10v-14l1 -1l1 1l4 20l3 8l1 -1l4 -19v-19l4 -27l2 -3l3 -19l5 -15v-13zM0 46v74l10 21v10l4 11l1 7l9 12l5 5l1 -1l5 4l4 5l2 1h5l4 -2l1 1l5 -4l5 -1v-5l-7 -18l-11 -1l-6 -3l-23 -45l-4 -24v3l-1 1l-1 -1l-2 -22z"/>
<path fill="#ff6b00" stroke="#ff6b00" d="M695 305l-3 1l-1 3l-1 15l-4 18l-6 13l-8 8l-2 4l-3 15h35v-53l-5 -11zM734 184l-2 8v18l-1 1l-2 39l-2 3l-3 70l-3 6l3 13v23l3 17v-10l1 -1l2 11h5v-20l2 -15v-112l-1 -1zM628 165l-4 8v16l4 -8zM617 190l-13 10l-1 -1l-13 12l-1 -7l-3 -2l-2 -5l-1 -8h-3l-1 4l-8 -1l-6 6l-1 -5l-2 5l-3 -6l-1 -11v16l-1 1l-1 -1l-2 -24l-3 -13v-11l-1 -1v-51l-17 -29l-3 -3l-10 14l-9 17l-5 14l-3 14v137l-1 1h-49l-31 7l-22 21l-4 2l-22 -67l-22 24l-39 -12h-6l-7 6l-1 -1l-35 29l-39 -43l-37 -31h-4l-1 -2l-15 -2l-8 -3h-6l-23 -5l-7 -26l-3 -17l-16 -16l-5 -2v-15l-3 -1l-4 -15l-1 1h-13l-1 -1l-8 97l-7 4l-8 2l-13 26l-2 7l-2 2l-8 -3l-2 -3l-7 -1l-6 -3l-4 14l-1 9l-10 33v105h555l1 -35l1 -1l1 1v29l3 -90l3 -7v-10l1 -1l2 3l5 2l7 -9l1 8l5 -1l4 3l1 -9l4 6l3 14l2 3l4 -23v-22l2 -12zM0 46v72l10 19v10l5 16l14 18l1 -1l9 10l6 2l5 -1l1 1l7 -4l2 -3l-6 -15l-3 -2l-2 1l-12 -4l-12 -26l-11 -19l-4 -22l-1 5l-2 -6l-3 -33z"/>
<path fill="#ff4d00" stroke="#ff4d00" d="M692 308v12l-3 20l-6 14l-9 11l-4 8l-2 9h33v-41l-5 -9zM609 200zM581 192h-1v19l-1 1l-1 -1v-15l-2 -1h-4l-5 5l-2 12l-1 -10v6l-2 7l-2 -1l-2 -10v114l2 -76l2 -5l1 1l1 23v-27l1 -1l1 1l2 30l4 4l7 -11l1 8l6 -4l3 1v-10l3 -1l4 4l2 10l1 -1l4 -28v-20l4 -14l-3 3l-1 -2l-3 2l-10 13l-1 -5l-3 -1l-3 -5l-2 -8zM734 185l-2 42l-2 15v21l-1 1v41l-1 1l-1 -1v-12v16l-3 20l3 25v-12l1 -1l1 1l5 34l1 -52l1 -1v-68l1 -1l-2 -20zM0 278v104h553l2 -71l1 -1v-91l-2 -5l-2 -14l-2 -41v21l-1 1h-46v80l-1 1h-47l-14 4l-1 -1l-13 4h-4l-21 20l-6 4l-16 -46l-6 -22l-22 24l-11 -2l-31 -10l-3 1l-7 6l-1 -1l-15 13l-3 1l-16 14h-2l-37 -42l-3 -1l-36 -31h-3l-1 -2h-7l-18 -5l-1 1l-15 -4l-10 -1l-2 -2l-9 -41l-8 -9l-10 -9l-3 -1v-15l-3 -1l-3 -13l-1 -1l-15 1l-8 96l-7 4l-8 2l-14 33l-3 4l-23 -12l-5 18v5zM0 47v69l10 17v9l5 14l6 10l7 9l3 1l7 10h4l2 -2l3 5l5 1l6 -5l-4 -11l-3 -1l-1 4l-2 -3v-3l-9 -2l-2 -2l-10 -22l-13 -23l-4 -19v5l-1 1l-1 -1l-4 -23l-1 -24z"/>
<path fill="#ff3000" stroke="#ff3000" d="M692 333v7l-2 8l-6 10l-4 4v3l-6 4l-4 13h28l-2 -33l-3 -7zM603 207l-4 3l-9 16l-1 -5l-4 2l-3 -3l-2 -6v-6v51l3 -5l6 -5v-11l6 -6l3 1v-5zM576 198h-4l-3 4v15l-1 1l5 45l3 -10zM734 195l-1 35l-2 15v87l3 16v-35l1 -1zM54 178l-3 3l-1 5l1 2l5 -2v-4zM0 279v103h150v-23l1 -1h12l1 1v23h21v-79l1 -1l6 2v78h107v-8l8 -5l3 1v12h241l1 -49l1 -1v-54l-1 -1v-25l-2 -15v10l-1 1h-46v14l-1 1h-49l-9 3l-10 1l-7 3h-4l-11 11l-16 13l-16 -46l-6 -22l-22 24l-11 -2l-3 -2l-30 -8l-8 7l-1 -1l-34 28h-2l-38 -43h-2l-35 -31h-4l-1 -2h-5l-18 -5h-5l-21 -5l-1 1l-3 -3l-9 -40l-16 -17l-5 -2v-16l-3 -1l-4 -14l-6 2l-1 -1l-7 2l-1 -1l-1 4l-7 92l-10 5l-5 1l-14 33l-3 4l-23 -12l-1 7l-4 11l-1 9zM0 48v66l10 15v9l5 12l14 22l1 -1l9 12l3 -3l2 -8l-5 -1l-2 -2l-24 -47l-3 -14v6l-1 1l-2 -4l-4 -21z"/>
<path fill="#fe1200" stroke="#fe1200" d="M692 358l-5 6l-7 5l-2 4l-4 1l-2 8h23zM589 229l-5 8l-3 2l-1 -1v14l9 -16zM734 220v13l-1 1l1 71zM573 201l-1 1v18l1 1zM54 182l-2 4l3 -1zM0 280v102h150v-23l1 -1h12l1 1v23h21v-79l1 -1l22 4l4 2v74h71l4 -3l2 1v2h10v-8l2 -2l28 -12l2 1v21h8v-25l5 -3l2 1v27h32v-32l2 -2l9 1v33h8v-35l20 -9l13 3v41h72v-26l1 -1h46l1 -5v-39l1 -4l-2 -20h-46l-1 -1v-22h-50l-29 7l-27 24l-15 -43l-7 -25l-22 24l-44 -12l-8 7l-2 -1l-13 12l-3 1l-17 15h-2l-38 -43l-3 -1l-35 -31h-3l-1 -2h-7l-18 -5l-1 1l-15 -4l-10 -1l-2 -2l-9 -40l-18 -19l-3 -1v-15l-3 -1l-4 -15l-13 4l-2 -1l-1 4l-7 92l-15 6l-14 33l-3 4l-10 -6l-13 -5l-5 17l-1 9zM0 49v62l10 14v9l9 15l1 4l9 14l3 2l5 9l2 1l3 -5l-3 -1l-5 -7l-11 -24l-9 -15l-4 -13l-1 7l-5 -11l-4 -31z"/>
<path fill="#da0000" stroke="#da0000" d="M692 378l-8 -4l-1 2l-3 -1l-1 4l-4 -1l-2 4h19zM10 119l1 12l8 12l9 18l3 2l2 5l6 8l-21 -39zM0 281v101h150v-23l1 -1h12l1 1v23h21v-79l1 -1l22 4l4 2v74h70l25 -13l44 -18l46 -4l20 -9l21 5l10 -2l7 -3h47v-74h-47l-32 8l-27 24l-14 -40l-8 -28l-22 24l-44 -12l-7 6h-3l-13 12l-3 1l-16 14l-3 1l-30 -35l-46 -41l-51 -10l-6 -3l-10 -42l-17 -16l-3 -1v-16l-3 -1l-4 -14l-6 3l-2 -1l-6 3l-1 -1l-1 4l-7 91l-16 7l-9 23l-7 13l-23 -11l-5 17l-1 9z"/>
<path fill="#b60000" stroke="#b60000" d="M680 382zM29 158zM28 156zM23 147zM22 145zM21 143zM20 141zM10 124v1l2 2l-2 -2zM0 282v100h150v-23l1 -1h12l1 1v23h21v-79l1 -1l22 4l4 2v74h70l25 -13l44 -18l46 -4l20 -9l21 5l10 -2l7 -3h47v-73h-49l-30 8l-11 11l-16 13l-7 -22l-3 -5l-12 -41l-22 24l-10 -2l-20 -7l-2 1l-10 -4l-10 8l-2 -2l-34 28l-39 -43l-4 -2l-34 -31h-3l-1 -2h-7l-18 -5l-26 -4l-2 -2l-9 -40l-17 -18l-4 -1v-16l-3 -1l-4 -15l-5 4h-3l-5 3l-2 -1l-1 4l-7 90l-7 4l-7 1l-2 2l-9 23l-7 13l-23 -11l-5 22z"/>
<path fill="#920000" stroke="#920000" d="M0 282v100h150v-23l1 -1h12l1 1v23h21v-79l1 -1l22 4l4 2v74h70l25 -13l44 -18l46 -4l20 -9l21 5l10 -2l7 -3h47v-72h-50l-4 1l-1 2l-11 1l-4 3l-9 2l-25 23l-1 -1l-1 1l-18 -52l-4 -16l-22 25l-44 -13l-8 7l-2 -1l-14 14l-1 -1l-4 3l-6 7l-9 7l-10 -13l-18 -18l-3 -6l-8 -8l-1 1l-37 -34h-3l-1 -2l-20 -3l-2 -2h-8l-10 -3l-10 -1l-3 -2l-9 -40l-18 -19l-3 -1v-15l-3 -1l-4 -15l-13 8h-2l-1 4l-7 88l-6 4l-9 1l-14 34l-3 4l-23 -11z"/>
<path fill="#ffffff" stroke="#ffffff" d="M0 0v3h14l1 1v103h3v-103l1 -1h14l1 1v140h3v-71l1 -1h8l1 1v58h3v-127l1 -1h13l1 1v101h8v-48l1 -1h17l1 1v30h6l1 1v76h3v-69l1 -1h10v-10l1 -1h8v-10l1 -1h8v-15l1 -1h16l1 1v127h5v-131l1 -1h7l1 1v21h7l1 1v12h8l1 1v114h6v-118l1 -1h5l1 1v3h6l1 1v12h6v-43l1 -1h8v-32l1 -1h12l1 1v10h8v-19l1 -1h7l1 1v15h4l1 1v12h3l1 1v12h4v-12l1 -1h3v-15l1 -1h4l1 1v24h5l1 1v5h6l1 1v6h5l1 1v3h4v-12l1 -1h8v-52l1 -1h111l1 1v123h4v-123l1 -1h36l1 1v378h92v-245l1 -1h17l1 1v34h5v-26l1 -1h6v-16l1 -1h5v-12l1 -1h13v-10l1 -1h16v-8l1 -1h8v-13l1 -1h8l1 1v13h26l1 1v8h7v-19l1 -1h21l1 1v23h4v-26l1 -1h8v-3l1 -1h16v-10l1 -1h8l1 1v74h4v-87l1 -1h12v-17l1 -1h17v-14l1 -1h11v-19z"/>
</g></g>
<g transform="translate(615.40 270.44) scale(0.5)" clip-path="url(#cp)"><g filter="url(#bl)">
<path fill="#0000da" stroke="#0000da" d="M0 0v382h779v-382z"/>
<path fill="#0000fe" stroke="#0000fe" d="M676 10l24 38l12 16v68l-5 3l-1 5v44l-4 5l-1 -1v-112l-4 -4l-12 -22l-10 -35zM674 10l1 -1l1 1l-1 1zM224 6l8 11l2 6v169l-1 1l-5 -14l-1 -30l-2 -10v-18l-1 -1v-30l-1 -1v-82zM0 0v382h779v-382h-42l21 23v216l-1 1l-10 -16v-175l-16 -15l-48 -34h-123l-7 18l-10 18l-10 23l-16 24l-11 26l-3 14v59l-1 1h-52l-1 -1v-182h-5v187l-4 1v74l-1 1l-5 -1v-262h-17l-1 234l-6 1v4l-5 1v23l-1 1l-5 -1v-263h-14v184l-2 1l-4 -2v12l-1 1l-8 -7v-189h-3v205l-4 3l-1 -1v-207h-5v177l-1 1l-5 -1v-177h-4v176l-5 1l-1 3l-7 -1l-2 -2v-177h-23v212l-1 1l-9 -1v-159l-4 -4v155l-1 1l-4 -1v-139l-4 -7l-2 -9l2 -7l-1 -2l-7 3l-8 8v159l-1 1l-8 -1v-170l-4 -3l-2 -16l13 -21z"/>
<path fill="#0010ff" stroke="#0010ff" d="M652 75l3 2l11 14v8l-3 3v87l-1 1l-2 -3v-59l-1 -1l-1 -24l-4 -8v23l-1 1l-3 -10l-4 -7v-20zM687 56l8 27v21l-3 3v172l-3 12l-2 2l-1 -1v-235zM0 0v382h779v-103l-4 -8l-1 5l-3 -6l-1 2l-9 -16v-229l-3 -3v235l-1 1l-10 -18v-15l-3 -4v-71l-2 -14v11l-1 1l-4 -9v-102l-52 -38l-9 -1l56 59l3 6v66l-7 1l-1 3l-5 1l-3 -1v-63l-7 -7v89l-2 6l-1 16l-2 8l-1 55l-4 10l-1 -1v-172l-4 -4l-12 -22l-5 -18v249l-1 1l-4 -5v-99l-4 -1v-177h-39v117l-3 18v17l-1 1l-1 -1v-8v9l-3 2l-2 -1v-33l-4 -12l-5 -2v47l-2 1l-2 -2l-1 -5l-5 -8v-52l-12 -22l-39 -46l-11 22l43 55l11 11v8l-6 3v10l-3 1l-1 -4l-5 -5l-9 -6l-10 -4l-4 -4l-24 -40l-3 -3l-10 14l-9 17l-5 14l-3 14v138l-1 1h-52l-1 -1v-11h-5v12l-1 1l-7 1l-9 -1l-1 1l-1 -1v-67h-9v68l-1 1h-15l-8 -2v-53h-5l-2 -3v48l-1 1l-14 -35v-19l-3 2v20l-15 14l-1 -1v-46l-4 -1v37l-1 1l-2 -2l-19 -33l-8 36l-1 1l-1 -1v-22l-6 4v27l-1 1h-8l-1 -7h-4v6l-4 1l-1 -6l-4 -1v-5l-6 -1v-24h-6v33l-4 1l-1 3h-7l-1 -1v-35l-9 -1v-15h-4v46l-9 1l-2 -12l-3 -2l-1 4l-6 -4l-2 -19v-17l-2 -13v-166l-3 -5h-51l11 19l6 14l16 9l13 12v54l-1 1l-6 -8v24l-1 1l-9 -12v-37l-11 -14l-7 13l4 11v18l-1 1l-9 -1l-13 -8v-33l-9 -1v16l-1 1h-3l-7 -6v-44l-5 -17l-2 -13z"/>
<path fill="#0030ff" stroke="#0030ff" d="M0 0v382h779v-76l-4 -10l-1 4l-3 -6l-1 1l-9 -18v-25l-3 -5v31l-1 1l-10 -19v-15l-3 -5v-55l-2 -9v-9v3l-1 1l-1 -1v-7l-3 -10v-16l-4 2l-5 -1l-1 3l-7 4l-1 -5l-4 3l-3 6v26l-2 4l-2 11l-1 48l-5 14l-1 -2l-8 25l-1 15l-3 11v6l-2 2l-1 -1v-11l-6 -11v5l-1 1l-4 -7v-5l-12 -15v-2l-1 3l-2 -3l-1 -67l-1 -1l-2 -51l-2 -17v18l-1 1l-1 -1l-3 -22l-3 -7v-10l-2 -4l-4 4l-1 -5l-2 2l-5 13v34l-4 5l-3 2l-8 -1l-6 2h-7l-1 -2l-5 1l-3 -4l-1 5l-8 1l-2 -12v-22l-8 -7l-15 -7l-4 -4l-26 -43l-2 1l-9 13l-9 17l-5 14l-3 14v139l-1 1h-60l-1 1h-25l-12 2l-17 -2l-17 -43l-18 18l-27 -45l-7 34l-10 12l-38 -1l-1 2h-7l-1 -2l-9 -1l-13 1l-3 -3l-1 -8l-1 -1l-1 2l-6 -6l-4 -11v-54l-2 -7l-4 -5l-2 -19v29l-1 1l-6 -8l-1 2l-9 -12v-21l-7 -2l-1 -6h-6v27l-1 1h-8l-14 -11v-5l-6 -5l-7 -1l-6 4l-1 -1v-25l-3 -3l-8 -2v7l-7 1l-1 -3l-2 -1v-13l-13 -12l1 -7l3 -5v-43l9 -13z"/>
<path fill="#0050ff" stroke="#0050ff" d="M0 0v382h779v-70l-3 -5l-7 -6l-8 -12v-16l-3 -6v19l-1 1l-10 -15v-10l-3 -5l-1 -74l-1 -5l-2 -1l-2 -6l-1 -24l-3 -4l-1 4l-5 -3v2l-8 8l-1 -4l-6 13l-1 19l-2 4l-1 8l-1 44l-4 9l-1 7l-1 1l-1 -1l-8 29l-4 40l-2 3l-1 -1v-13l-6 -16v5l-1 1l-4 -8v-6l-4 -8l-8 -11l-3 -2l-1 -20l-1 -1l-1 -51l-1 -1l-2 -35v8l-1 1l-1 -1l-2 -21l-4 -17v-11l-3 -6l-3 7l-1 -5l-5 17l-2 21l-6 7l-4 -1l-10 2l-17 -1l-9 2l-3 -4l-1 -34l-11 -8l-10 -4l-4 -4l-26 -43l-2 1l-9 13l-9 17l-5 14l-3 14v139l-1 1h-50l-1 1l-4 -1l-8 2l-5 -1l-8 1l-1 -1l-25 3l-13 -2l-17 -43l-18 18l-27 -45l-8 37l-9 10l-9 -1l-8 1l-11 -2h-6l-5 2h-7l-1 -2l-22 1l-4 -4l-1 -4l-1 1l-6 -8l-4 -11v-23l-2 -17l-3 -12l-3 -4l-1 7l-6 -8l-1 2l-9 -11l-1 -10l-13 -1v8l-9 1l-11 -7l-3 -3v-4l-6 -5h-7l-6 3l-1 -6l-9 5l-2 -2v5l-2 1l-6 -4v-3l-3 -3l-1 -14l-3 -14v-21l-8 -7v-3l4 -9v-43l9 -13z"/>
<path fill="#0070ff" stroke="#0070ff" d="M0 0v382h779v-65l-12 -12l-5 -7l-1 -11l-3 -4v11l-1 1l-10 -14v-8l-3 -4l-1 -80l-1 -7l-5 -7v-17l-3 -7l-1 3l-5 -4v2l-8 11l-1 -4l-4 11v4l-3 5l-3 30v29l-3 5l-3 14l-1 1l-1 -1l-9 40v14l-3 20l-2 2l-7 -27v4l-1 1l-4 -9v-7l-4 -9l-11 -16l-3 -24l-3 -67v4l-1 1l-1 -1l-1 -16l-5 -24v-12l-3 -9l-3 9l-1 -4l-4 22l-3 3v3l-6 6h-13l-1 1l-17 -1l-4 2h-5l-4 -5l-1 -6v-30l-10 -7l-10 -4l-4 -4l-26 -43l-2 1l-9 13l-9 17l-5 14l-3 14v140l-1 1h-58l-8 2l-15 -1l-6 2l-28 -1l-17 -44l-18 19l-27 -45l-7 35l-10 12l-8 1l-1 -2h-4l-1 2l-20 -2l-5 2h-7l-1 -2l-22 1l-8 -7l-8 -18v-5l-2 -4l-2 -25l-4 -14l-1 6l-6 -9l-1 3l-9 -12l-1 -10l-13 -1v8l-9 1l-13 -7l-1 -6l-5 -3h-8l-6 3l-1 -7l-9 5l-5 6l-4 2l-4 -1l-6 -44l-1 2l-1 -1l-1 -15l-5 -5l-2 -10l4 -7l1 -7l3 -5v-43l9 -13z"/>
<path fill="#008fff" stroke="#008fff" d="M0 0v382h779v-59l-4 -5l-1 1l-13 -15l-1 -11l-2 -2v11l-1 1l-10 -13v-8l-3 -4l-2 -92l-5 -9v-8l-3 -10l-1 3l-5 -6l-8 16l-1 -3l-1 5l-6 10v14l-2 11v28l-5 11l-2 11l-2 1l-9 46l-1 20l-2 10l-2 2l-7 -21l-1 3l-4 -10v-7l-4 -11l-8 -15l-3 -3l-5 -41l-1 -35l-1 2l-1 -1l-1 -21l-3 -20l-2 -5v-10l-2 -9l-1 -1l-2 10l-1 1l-1 -3l-2 8l-4 4l-4 8l-4 3l-12 -1l-9 2l-1 -2h-6l-3 2h-9l-5 -7v-18h-5l-2 -2l-3 -11l-7 -10l-3 -7l-10 -13l-19 -33l-2 1l-9 13l-9 17l-5 14l-3 14v140l-1 1h-47l-15 2h-24l-4 2l-24 -1l-7 -14l-11 -30l-18 20l-27 -46l-8 38l-9 10l-13 -1l-4 2l-1 -2l-3 1l-1 -1h-12l-5 2h-7l-1 -2l-22 1l-5 -5l-1 1l-6 -9l-4 -12v-4l-4 -9l-4 -26l-1 4l-6 -8l-1 2l-9 -12l-1 -10l-13 -1l-1 9h-9l-11 -5l-2 -2v-4l-5 -3l-9 1l-5 3l-1 -7l-10 5l-2 4l-6 3l-4 -1l-6 -30l-2 -1l-1 -12l-3 -12v-17l-2 -2l-2 -10l4 -7l1 -7l3 -5v-43l9 -13z"/>
<path fill="#00afff" stroke="#00afff" d="M0 0v382h779v-53l-4 -5l-1 1l-13 -14v-9l-3 -4v12l-1 1l-10 -12v-8l-3 -3l-2 -96l-2 -9l-5 -10l-1 -7l-1 3l-5 -6l-5 11l-3 3l-1 -1l-6 10l-1 22l-1 1v28l-6 13l-2 12l-3 6l-8 47v13l-3 13l-2 2l-7 -18l-1 3l-3 -5l-1 -12l-4 -13l-11 -21l-6 -48v-12l-2 -2l-2 -35l-6 -36l-1 -1v2l-10 10l-1 4l-6 7l-7 -1l-7 2h-8l-2 -2l-16 3l-7 -9v-15l-6 -6l-3 -11l-7 -10l-3 -7l-10 -13l-19 -33l-2 1l-9 13l-9 17l-5 14l-3 14v141l-1 1h-57l-6 2l-6 -1l-27 3l-7 -1l-6 1l-5 -1l-2 -2l-16 -42l-18 20l-27 -46l-7 36l-10 12l-5 1l-33 -1l-1 2h-7l-1 -2h-22l-5 -4h-2l-4 -5l-5 -14v-5l-7 -16l-1 -11l-1 4l-6 -9l-1 2l-8 -10l-2 -12h-13v8l-8 1l-14 -5l-1 -5l-6 -3l-13 4l-1 -6l-11 5l-2 4l-4 2l-2 -1l-2 1l-7 -34l-6 -17v-19l-2 -6l-1 -18h-2l-4 4v16l-1 1l-10 -20v-45l12 -12l11 -7l10 -14z"/>
<path fill="#00cfff" stroke="#00cfff" d="M587 302l2 2l1 5l-1 8l-3 5l-2 -16l1 -3zM0 0v182l2 12v10l-2 1v177h779v-43l-4 -8l-1 6l-3 -6l-1 3l-5 -11l-4 -4v-9l-3 -4v19l-1 1l-5 -13l-5 -5v-8l-3 -3l-3 -106l-4 -13l-3 -4l-1 2l-5 -7l-2 5l-6 6l-1 -1l-5 9l-2 10l-1 42l-6 12l-2 13l-2 2l-5 27l-1 17l-3 14v11l-3 10l-2 1l-7 -15l-1 5l-4 -7v-8l-4 -10l-2 -13l-9 -18l-6 -54l-2 -4l-4 -52l-4 -23l-1 -1l-5 4l-6 8l-1 4l-5 5h-13l-1 1l-17 -1l-7 2l-4 -1l-5 -6l-1 -20l-5 -5l-3 -11l-7 -10l-3 -7l-10 -13l-19 -33l-2 1l-9 13l-9 17l-5 14l-3 14v142l-1 1h-58l-9 2l-1 -1l-6 1l-6 -1l-18 3l-16 -1l-3 -4l-15 -41l-3 5l-5 4l-10 12l-27 -46l-8 39l-9 10l-13 -1l-1 2l-24 -1l-1 2h-7l-1 -2l-9 -1l-13 1l-5 -5l-1 1l-5 -4l-5 -14v-5l-8 -21l-2 -1l-4 -7l-10 -12l-1 -4l-14 -1l-1 2h-6l-15 -4l-5 -3h-9l-6 5l-1 -3h-2l-8 4l-3 4l-4 2h-4l-7 -39l-2 -3l-1 -9l-3 -6l-3 -19l-4 -2v-7h-2v16l-2 1l-4 -2l-5 -7v-14l-6 -13l-1 10l-6 -14l-5 -1v-21l1 -2l29 -29l11 -7l10 -14h-77v11l-12 2l-2 -1v-12h-9v68l-1 1l-3 -1v-5h-2l-5 -7l-1 -56z"/>
<path fill="#08efef" stroke="#08efef" d="M586 292l9 9l1 7l-1 17l-6 11v6l-3 3l-4 -25v-16zM0 0v143l2 9l2 34l1 -1l1 1v13l1 1v9l-1 1l-6 -3v175h779v-12l-4 -6v6l-1 1l-3 -5l-1 4l-9 -17v-35l-3 -4v53l-1 1l-10 -21v-38l-3 -3l-2 -16l-1 -90l-1 -1v-11l-3 -6v-3l-3 -3l-2 1l-4 -2l-10 8l-3 6l-3 18v32l-7 15l-2 10v15l-1 1l-1 -1v-9l-4 40l-3 19l-2 5v10l-5 9l-1 -5l-6 -8l-1 5l-4 -5v-7l-4 -7v-4l-6 -19l-1 -11l-4 -8l-6 -49l-2 -3l-6 -72l-3 -11l-4 3l-7 9v3l-7 7l-3 -1l-10 1l-17 -1l-7 2l-5 -1l-4 -4v-5l-2 -4v-16l-4 -4l-1 -7l-12 -21l-10 -13l-19 -33l-2 1l-9 13l-9 17l-5 14l-3 14v142l-1 1h-50l-1 1l-2 -1l-10 2h-21l-4 2h-26l-5 -9l-13 -36l-18 21l-27 -46l-7 37l-10 12l-4 1l-9 -1l-2 2l-19 -2l-5 2h-7l-1 -2l-22 1l-4 -5l-8 -4l-4 -12v-5l-7 -19l-14 -19l-5 -9l-19 1l-16 -3l-6 -3h-8l-16 13l-6 7l-6 1l-6 -38l-4 -14v-10l-3 -3l-2 -12l-7 -2l-1 4h-8l-2 -2v-3l-3 -1l-3 -4v5l-1 1l-5 -4l-2 -6l-4 -4v-22l-6 -1v-77h-3v79l-1 1l-3 -5l-5 -3v-72h-8v63l-4 4h-6l-3 10l-1 -1v-18l-4 18l-5 -5l-1 1l-3 -1v-6l-4 -1l-8 -14v-38l-1 -1v-11z"/>
<path fill="#21ffd5" stroke="#21ffd5" d="M758 340v42h3v-35zM586 283l9 7v5l8 8v-10l1 -1l7 9l2 5l-2 26l-5 18l-2 3l-1 -1v-31l-3 12l-5 9v14l-6 5v6l-3 2l-3 -8l-2 -13l-1 -30l-1 -1l1 -16zM735 178l-5 -1l-4 1l-6 7l-1 -1l-4 11l-3 21v26l-6 12l-1 46l-1 1l-1 25l-1 1l-1 -1v-46l-2 34l-3 18l-4 12v21l-5 8l-1 -1v-12l-6 -7v25l-4 3l-1 -1v-29l-3 -4l-1 -10l-6 -10l-2 -8v6l-1 1l-1 -1l-3 -21l-1 -34l-3 -28v140h93v-28l-3 -6l-2 -55l-2 -5l2 -10l-1 -69l-1 -1l-1 -21l-2 -7zM0 38v103l8 20l2 45l1 1l-1 7l-10 -5v173h640l2 -4l4 -2v-44l4 -11v-10l1 -1v-83l-3 -24v-18l-4 -32l-1 -2l-11 12v3l-7 7l-9 -1l-12 2l-1 -2h-8l-1 2h-10l-4 -2l-1 -6l-4 -9l-1 -18l-2 -4v-4l-12 -21l-10 -13l-19 -33l-2 1l-9 13l-9 17l-5 14l-3 14v143l-1 1h-58l-14 2h-14l-10 2h-18l-5 -9l-13 -36l-18 21l-27 -46l-7 37l-10 13l-9 -1l-5 2l-20 -1l-5 2h-7l-1 -2l-22 1l-5 -6l-7 -5l-11 -34l-17 -24l-2 -5l-18 1l-17 -2l-2 -2h-12l-28 24l-3 -12l-3 -25l-4 -15v-16l-3 -3l-2 -9l-7 -1l-1 5l-8 2l-2 -1v-2h-6v5l-5 6l-5 -8v-5l-8 -15l-1 -105h-2v105l-1 1l-3 -6l-4 3l-1 -1v-102h-8v83l-5 8h-2l-1 -3h-2l-13 -14l-1 1l-3 -1v-6l-4 -2l-12 -21z"/>
<path fill="#3bffbc" stroke="#3bffbc" d="M758 381v1zM686 381l-1 1h-1h2zM603 369l-3 3l-5 2v8h8zM701 319v7l-3 12l-2 18l-4 12v14h9zM735 179h-8l-9 10l-5 26l-1 30l-5 10v17l1 9l2 4v10l-1 1v83l1 3h33l-1 -75l-2 -2v-14l-1 -1l3 -25l-1 -47l-1 -1l-1 -28zM0 46v93l13 34l1 8v35l-1 1l-13 -6v171h579v-90l2 -8l5 -10h2l1 3h5l1 6l8 4v-10l1 -1l7 1l2 2v9l5 8l2 7l2 58v-56l1 -1l1 1l1 25l1 5l1 -2v-98l1 -1l1 1l1 25l2 7v104l7 -14v-37l4 -2l3 -9v-140l-3 -16l-10 11l-3 7l-4 4h-13l-9 13l-1 -1v-13l-8 1v2l-6 5v13l-3 2l-5 -20l-2 -2v-4l-5 -7l-2 -33l-12 -21l-10 -13l-19 -33l-2 1l-9 13l-9 17l-5 14l-3 14v143l-1 1h-55l-8 2h-19l-17 3l-4 -1l-2 1l-8 -1l-1 1l-5 -9l-13 -36l-18 21l-19 -29l-8 -17v5l-8 35l-9 10l-5 1l-8 -1l-1 2l-24 -1l-1 2h-7l-1 -2h-22l-5 -6l-7 -5l-4 -8v-5l-8 -22l-2 -1l-16 -26l-33 -1l-3 -2l-13 1l-4 4l-6 3l-18 17l-10 -50v-21l-4 -3l-1 -6l-1 -1l-6 1v3l-6 2v2l-4 4l-1 -3l-2 1l-4 5v6l-6 5h-3l-9 -16v-37l-3 -6v43l-1 1l-4 -7l-1 -7l-3 -4v-32h-2v4l-3 1l-3 4l-1 7l-6 -3l-1 -4h-2l-13 -15l-1 1l-3 -1v-6h-2l-3 -3z"/>
<path fill="#55ffa2" stroke="#55ffa2" d="M734 180h-6l-6 6l-4 7l-4 21v24l-6 22l1 12l3 9v101h26v-21l1 -1l-1 -75l3 -16v-27l-1 -1l-1 -47l-2 -11zM643 155l-11 13v84l3 11l4 7v-72l2 -2l2 5v-9l2 -4v-10l1 -1zM0 48v90l16 43v37l-1 1l-15 -6v169h362v-21l4 -2l1 1v22h3v-23l4 -2l5 1v24h20v-28l12 -2l5 1v29h18v-29l1 -1l5 1v29h132l3 -14l1 1v13h2l-1 -78l2 -8v-19l3 -7l4 -5h2l1 2l5 -1l1 5h8v-53l-8 -1v29l-1 1l-5 -5v12l-1 1l-3 -4l-1 -30l-3 -15l-2 -3v-28l-3 -2l-1 2l-2 -5l-4 -3v-10l-4 -1l-4 -12v-32l-11 -15l-19 -33l-2 1l-9 13l-9 17l-5 14l-3 14v143l-1 1h-47l-62 6l-7 -2l-16 -44l-6 9l-12 13l-20 -28l-1 -4l-6 -9l-2 13l-6 22l-10 11l-8 -1l-5 2l-20 -1l-5 2h-7l-1 -2l-22 1l-2 -4l-10 -8l-4 -8l-7 -23l-14 -21l-5 -10l-45 -2l-1 2l-5 1l-4 4l-1 -1l-18 18l-3 1l-10 -46v-27l-5 -4l-1 -3h-3l-1 2l-8 1v9l-4 4l-1 -2l-11 12l-12 2l-1 -1v-30l-3 -6v39l-2 1l-3 -4l-1 -18l-3 -9v-17h-2l-1 -4h-2l-3 -3l-1 3l-4 -5l-3 -1v-3h-2l-13 -15l-1 1l-3 -1v-7l-4 -1z"/>
<path fill="#6fff88" stroke="#6fff88" d="M33 187l3 2l-2 2v5l-4 2l-1 -10zM734 181l-6 1l-5 5l-2 6l-2 1l-4 19v25l-3 8v5l-2 3v13l2 6v10l2 3v57l1 1v19l2 19h2v-18l1 -1l2 19h15v-68l1 -1l-1 -28l3 -11v-59l-1 -1l-1 -24l-1 -5zM643 157l-8 9l3 18h1v-15l1 -1l3 2l1 -2zM0 50v86l12 31l3 12l6 6l-1 1v34l-4 1l-16 -6v167h316v-20l1 -1l7 3l22 -1l1 1v18h4v-18l9 -3l5 -3l2 1l3 -1l1 -2l7 -1l9 1l13 -4l9 -1l7 1v30h9v-29l1 -1l13 -1l5 2l6 -1l5 1h47l1 -5h46l2 -4l1 1v25l9 -19v-5l5 -9l1 1v6l4 -7l2 -7l1 -32l2 -1v-6l3 -10v-20l2 -10v-21l1 -2l-3 -11v-15l-3 -4l-1 2l-6 -5l-2 -5v3l-1 1l-5 -10v-5l-8 -21l-1 -7v23l-1 1l-1 -2l-1 7h-46v87l-1 1h-57l-8 2l-3 -1l-1 1h-15l-5 2l-9 1h-17l-4 -8l-13 -37l-4 7l-14 15l-4 -7l-4 -3l-19 -26l-7 28l-10 13l-6 1l-7 -1l-1 2l-20 -1l-5 2h-7l-1 -2l-22 1l-3 -6l-9 -7l-4 -8l-8 -24l-19 -30l-8 -1l-5 1l-27 -1l-3 1l-1 -1l-4 2l-6 6l-1 -1l-16 16l-5 3l-10 -48v-28l-6 -5l-12 1v11l-4 4l-1 -1l-12 13l-5 1l-5 3l-2 -1v-11l-3 -5v22l-4 4l-3 -27l-2 -6v-18l-3 -1v-7h-2l-3 -3l-1 2l-4 -5h-2l-1 -5h-2l-13 -15l-4 -1v-6l-4 -2z"/>
<path fill="#88ff6f" stroke="#88ff6f" d="M734 182l-6 1l-2 2l-7 14l-4 21l1 17l-5 18l1 22l7 9v25v-26l1 -1l2 2l2 42l4 30v24h8v-12l1 -1v-87l3 -13v-41l-1 -1v-21l-2 -20zM0 51v83l14 37l2 9l6 4l19 4l2 2v6l-6 9l-3 8v6l-3 4l-2 -1v-3l-2 3l-7 -1l-7 1l-9 -4h-4v164h198l1 -6h8l1 4l6 2h101v-18l2 -4l8 3l8 -1l18 1l11 -4l4 -3l3 1l2 -2l13 -2l8 1l2 -2h5l4 -2l2 1l2 -1l9 1l23 -1l5 2l58 -1v-47l1 -1h46v-8l2 -4l1 1v25l9 -15v-6l5 -7l1 1v6l5 -8l2 -17l1 -1l1 1v3v-3l3 -6v-51l-3 -6l-1 1l-2 -3l-6 -1l-1 2l-10 -3l-4 -4v21l-2 7v8l-1 1h-46v30l-1 1h-50l-26 3l-3 -1l-21 4l-3 -1l-11 1l-5 -8l-13 -37l-5 9l-13 12l-27 -31l-7 24l-10 13l-3 1l-6 -1l-7 3l-2 -1h-20l-1 2h-7l-1 -2h-22l-3 -6l-9 -7l-7 -15l-5 -16l-15 -23l-2 -6l-5 -2l-21 -1l-8 2l-3 -1l-6 1l-3 -3l-1 4h-2l-7 7l-1 -1l-13 13l-8 6l-10 -49v-30l-6 -5l-12 1v13l-11 9v2l-5 6l-7 3l-5 5l-1 -9l-3 1v16l-2 5v13l-2 4l-4 1l-1 -8l3 -3l1 -13l-4 -28v-20l-3 -1v-9h-2l-3 -5l-1 2l-4 -6l-3 -1v-4h-2l-4 -4v-2l-9 -10l-1 1l-3 -1v-7l-4 -1z"/>
<path fill="#a2ff55" stroke="#a2ff55" d="M552 260v5l1 -2zM572 213l-4 1l-2 3l-4 2l-1 -1l-6 8l1 26l4 3l2 -3l4 1l1 4l6 -1l2 -6l1 2l2 -10l1 -15l-3 -10l-1 1zM733 183l-4 1l-4 4l-7 19l-2 11l1 19l-5 15v18l3 8l4 4l1 -1l7 5l1 47l3 14l3 7v17l1 -30l1 -1v-26l1 -1l-1 -27l3 -14l1 -13l-1 -1v-46l-1 -1l-1 -23l-2 -4zM0 220v162h193l5 -7v-10l1 -1l8 1l1 4l6 1l1 12h100v-20l2 -3l6 2l28 1l15 -7l2 1l5 -3l8 -1l9 1l3 -2h6l1 -2h14l1 -1l1 2l23 -1l5 2l58 -1v-81h-58l-9 2l-1 -1l-17 1l-12 3l-17 1l-5 -8l-13 -36l-3 6l-15 14l-27 -26l-8 21l-9 12l-6 1l-7 -1l-1 2l-20 -1l-5 2h-7l-1 -2l-22 1l-4 -8l-8 -6l-9 -19l-2 -8l-14 -23l-5 -11l-24 -2l-10 3l-2 -1l-7 1l-5 2l-6 6l-5 2l-16 16h-2l-2 -6l-5 -33l-3 -10v-32l-6 -5l-12 1v15l-11 10l-3 6l-4 4l-3 1l-7 8l-1 -8l-3 3v24l-3 6l-5 5l-1 -8h-2l-6 5v10l-5 12l-4 5l-6 -2h-10l-1 1l-13 -4zM0 53v80l11 28l5 17l4 4l22 5l1 2h4l4 2l2 -22l-2 -12v-24l-3 -4v-10h-2l-3 -5l-1 1l-3 -5l-4 -2v-5h-2l-4 -4v-2l-9 -10l-1 1l-3 -1v-7l-4 -2z"/>
<path fill="#bcff3b" stroke="#bcff3b" d="M573 221l-5 2l-3 5l2 9l5 5l2 -9l2 -1v-6l-2 -1zM733 184l-5 2l-2 3l-5 16l-2 2l-2 11v23l-5 14v8l5 14l10 6l2 3l2 22l3 13v19l1 -54l2 -4v-6l2 -7v-51l-2 -14v-14l-2 -5zM0 241v141h180l1 -2l1 2h5l6 -13l5 -5v-10l1 -1h8l1 5l6 1l2 23h99v-22l2 -3l7 3l27 1l14 -7l2 1l3 -1l1 -2l6 -1l9 1l14 -4h12l3 -1l1 2l23 -1l7 2l4 -1h52v-80h-55l-8 2h-17l-19 4l-15 1l-5 -8l-13 -34l-3 3v2l-15 13l-5 -6l-1 1l-21 -17l-8 17l-9 12l-3 1l-6 -1l-7 3l-2 -1l-5 1l-11 -1l-5 2h-7l-1 -2l-22 1l-4 -9l-9 -8l-10 -21l-1 -5l-14 -23l-3 -8l-2 -2l-23 -2l-11 4l-3 -1l-7 2l-10 8l-1 -1l-18 18l-3 1l-10 -51v-33l-6 -5l-12 1v17l-7 6l-8 13l-11 10l-2 4l-1 -7l-3 5v17l-3 7l-5 6l-1 -7l-4 4l-4 7l-1 8l-8 8l-5 -1l-10 1l-5 -1l-1 1l-9 -3zM0 54v77l14 37l2 9l5 4l13 4h8l1 2h6l2 -1v-44l-3 -10v-7l-3 -1l-2 -6l-1 2l-4 -8l-3 -1v-5h-2l-3 -3l-1 -3l-9 -11l-1 1l-3 -1v-7l-4 -2z"/>
<path fill="#d5ff21" stroke="#d5ff21" d="M734 185l-6 3l-9 24l-1 29l-4 12v13l5 10l1 -1l3 4l10 7l1 23v-23l3 -6v-7l2 -8l-1 -55l-1 -1v-15l-1 -6zM0 273v109h171l4 -5l6 -14l1 1v13l8 -16l8 -9v-10l1 -1l8 1l1 5h5l2 3v15l3 17h96v-18l3 -8l8 3l21 -1l1 2h4l1 -2l10 -3l4 -3l3 1l5 -3l9 -1l9 1l2 -2l21 -2l2 2l22 -1l9 2l2 -1h52v-79h-48l-12 2l-26 1l-14 4l-3 -1l-1 1h-11l-16 -35l-1 -5l-7 9l-1 -1l-10 9l-3 -4l-5 -2l-18 -13l-3 2l-5 11l-11 14l-6 1l-5 -1l-2 2h-24l-1 2h-7l-1 -2l-9 -1l-13 1l-4 -6l-1 -5l-4 -2l-5 -6l-10 -23l-10 -16l-7 -16l-4 -2l-11 -2h-9l-10 4l-11 2l-11 9l-1 -1l-16 16l-5 3l-10 -52v-35l-6 -5l-12 1v19l-9 9l-6 11l-9 8l-4 8l-1 -1v-5l-3 11v8l-3 7l-5 5l-1 -4l-4 8l-13 15l-4 -1l-19 1l-5 30l-1 1l-1 -1v-3zM0 56v73l10 26l6 20l6 5l12 4l9 1l5 -1l3 -3v-30l-3 -15l-2 -4l2 -2l-3 -1l-2 -6l-1 1l-4 -8l-3 -1v-6h-2l-3 -3l-1 -3l-9 -11l-1 1l-3 -1v-8l-4 -1z"/>
<path fill="#effe08" stroke="#effe08" d="M734 186l-6 4l-6 16l-1 7l-2 3v24l-4 14v10l4 9l1 -1l8 9l5 2l1 2l3 -8l1 -9v-52l-1 -1l-1 -24zM0 292v90h161v-9l14 -16l6 -11l1 1v14l8 -13l8 -7v-10l1 -1l8 1l1 4l5 1l2 3v15l4 28h95v-20l1 -5l2 -2l8 3l8 -1l18 1l14 -7l3 1l3 -3l9 -1l9 1l14 -4l2 1l10 -1l5 2l20 -1l9 2l1 -1h52v-77h-57l-6 2h-18l-21 5l-1 -1l-12 1l-15 -31l-2 -7l-3 2l-1 4l-3 2l-1 -1l-10 8l-5 -5l-1 1l-21 -13l-17 25l-5 1l-4 -1l-6 3l-3 -1l-3 1l-13 -1l-5 2h-7l-1 -2l-22 1l-6 -12l-8 -8l-27 -55l-15 -4h-10l-11 5l-1 -1l-8 3l-11 9h-2l-13 13l-7 5l-10 -53v-36l-6 -5l-12 1v21l-7 7l-5 9l-10 10l-6 13l-1 -1v-3v3l-3 6v6l-3 5l-23 23h-14l-3 2l-3 -1v20l-8 42l-1 1l-1 -1v-3v3zM0 58v70l13 34l3 12l5 4l12 5l8 -1l4 1l4 -3l2 -4v-5l-1 -1l-1 -23l-6 -20l-1 1l-4 -9l-3 -1v-6l-4 -2l-4 -7l-7 -8l-4 -1v-7l-4 -2z"/>
<path fill="#ffe100" stroke="#ffe100" d="M734 187l-5 4l-6 15l-3 12l1 19l-5 18l1 10l2 5l1 -1l3 5l11 9l3 -8l1 -10l-1 -62zM0 295v87h141v-6l2 -2l5 -2l3 -3l1 5l9 -11v-10l20 -24l1 1v14l9 -11l7 -4v-10l1 -1l7 1l2 2v3l5 1l2 3v15l6 39h93v-22l1 -5l2 -2l6 3l28 1l15 -7l1 1l3 -1l2 -2l8 -1l5 1l23 -4h7l8 2l3 -1l76 1v-76h-50l-11 2l-25 1l-2 2h-5l-5 2l-17 1l-11 -21l-6 -15l-3 2l-2 4l-2 1l-1 -1l-10 7l-4 -4h-3l-19 -10l-6 5l-9 14l-6 4l-5 1l-4 -1l-5 3l-1 -1h-16l-5 2h-7l-1 -2l-22 1l-4 -5l-3 -9l-8 -9l-26 -53l-3 -2l-18 -3l-22 8l-7 4l-25 22l-3 1l-10 -52v-38l-6 -5l-12 1v23l-23 28l-5 11l-1 -1l-3 6v5l-2 4l-6 6l-1 -1l-17 19l-10 -1l-6 2l-1 16l-3 13l-1 32l-8 6l-1 -1zM0 59v67l9 23l7 23l4 4l13 6l11 -1l5 -5v-10l-1 -1v-15l-5 -19l-1 1l-4 -9l-3 -1v-7l-4 -2l-11 -16l-1 1l-3 -1v-8l-4 -2z"/>
<path fill="#ffc300" stroke="#ffc300" d="M734 188l-6 7l-7 23v26l-3 8l1 15l1 -1l8 11l6 4l3 -9v-64zM0 298v84h119l3 -4v-4l7 -6l1 1v4l11 -7v-14l1 -1h6l3 -3l1 5l9 -11l1 -11l15 -17l4 -2l1 1v15l9 -8l7 -3l1 -10l8 1l1 5l5 1l2 3v14l5 29l2 22h91v-18l3 -11l8 3h28l23 -9l8 -1l3 1l23 -4l15 2l15 -1l7 2l4 -1l2 1h50v-75h-58l-6 2h-17l-18 5l-16 1l-17 -34l-3 1l-1 4l-3 1l-1 -1l-10 6l-5 -4l-2 1l-14 -7l-7 -1l-9 9l-7 10l-6 2l-4 -1l-5 3l-3 -1l-1 1h-19l-1 2h-7l-1 -2l-9 -1l-13 1l-7 -9l-1 -7l-7 -7l-27 -55l-9 -1l-5 -2h-9l-21 10l-11 9l-1 -1l-21 18l-10 -52v-40l-6 -5l-12 1v25l-21 25l-7 14l-1 -1l-3 11l-3 5l-5 4l-1 -1l-16 18l-2 1l-10 -1l-4 2l-2 54l-3 8v5l-8 3zM0 61v63l12 32l4 15l4 4l13 6h5l3 -2l2 1l4 -4l-1 -30l-3 -10l-2 -1l-3 -9l-3 -1v-7l-4 -2l-9 -14l-6 -3v-8l-4 -1z"/>
<path fill="#ffa600" stroke="#ffa600" d="M734 189v2l-6 7l-6 19v27l-1 7l-2 2v10l2 1l2 5l5 6l6 4l3 -10v-57zM0 302v80h30v-89l4 -4l2 1l2 92h13v-58l1 -1l4 22l4 3v34h3v-13l8 -5v-7l4 -2l6 2v11l1 1h5v-13l1 -1l9 1l1 1v25h9v-24l5 -8l1 1v7l6 -14l3 -2v-3l3 -2l5 1v5l11 -1v-13l1 -1l7 2l2 -3l1 6l9 -11v-10l15 -17l6 1v15l11 -5h5v-10l1 -1l3 1l12 15l7 44l2 24l1 -9l2 12h11l2 -8l2 8h72v-21l3 -9l10 4l7 -1l18 1l15 -7h3l2 -2l18 -1l21 -4l13 2l16 -1l5 2h58v-74h-51l-1 1l-1 -1l-9 2l-23 1l-3 2l-12 3l-15 1l-15 -26l-2 -6l-3 1l-1 3l-2 1l-2 -1l-9 5l-5 -3l-2 1l-13 -4l-2 -2l-7 -1l-10 9l-7 9l-7 2l-4 -1l-5 3l-1 -1l-3 1l-13 -1l-5 2h-7l-1 -2l-22 1l-7 -8l-1 -9l-7 -7l-3 -8l-19 -35l-4 -11l-15 -4h-9l-20 10l-18 13l-13 12l-3 1l-4 -16l-6 -36v-41l-6 -5l-12 1v28l-16 17l-12 22l-1 -1l-3 6l-2 17l-1 57l-1 1l-1 -1l-1 -9l-1 -54l-1 1l-1 -1l-16 17l-15 2v40l-1 1l-1 26l-4 4l-1 4zM0 63v60l8 20l8 26l5 5l12 6h4l5 -3l1 1l3 -3l-1 -25l-2 -10l-1 1l-4 -11l-3 -1v-8l-4 -2l-11 -17l-1 1l-3 -1v-8l-4 -2z"/>
<path fill="#ff8800" stroke="#ff8800" d="M14 308v74zM0 305v77h8v-74l-5 -3zM51 211l-15 16l-6 2h-7l-2 5l-1 148h2v-81l11 -13l3 -1l7 1v78l3 16h5zM734 193l-6 8l-5 16v28l-2 9l1 11l6 8l6 5l3 -11v-51zM60 201v181h3v-65l1 -1l7 10l1 -6l4 4h3l2 2v11l6 2v-13l1 -1l10 3v32h7l2 -3v-28l5 -10l1 7l7 -21l2 1l1 -3l5 2l2 2v6l11 5l1 -7l7 4l26 -30h5l2 2v7l7 1l9 -1l1 -3l15 19l5 19l4 35v-9l1 -1l1 1l2 27h4l1 -2v-11l1 -1l1 1v13l1 -13l4 -7l5 7l2 13h66l1 -24l3 -7l8 4h28l22 -9l18 -1l8 -3h10l1 -1l11 2l16 -1l6 2h58v-73h-47l-1 1h-10l-6 2h-16l-21 6l-14 1l-11 -19l-6 -7v-4h-2l-2 5l-4 -2l-9 4l-6 -3l-3 1l-11 -2l-2 -2h-8l-5 2l-10 13l-7 2l-3 -1l-3 1l-1 2l-4 -1l-1 1h-15l-5 2h-7l-1 -2l-22 1l-7 -6l-2 -7v-6l-7 -8v-2l-20 -37l-5 -13l-3 -2l-20 -3l-12 8l-11 5l-1 2l-8 6l-5 2l-18 15l-10 -49v-46l-6 -5l-12 1v32l-17 16l-11 21l-1 -1zM0 64v57l17 48l17 11l10 -5l-1 -30l-2 -1v-6l-2 -1l-1 -4l-3 -1v-8l-3 -1l-12 -18l-2 1l-2 -2v-8l-4 -2z"/>
<path fill="#ff6b00" stroke="#ff6b00" d="M0 308v74zM51 212l-15 15l-5 1l-1 2l-1 -1l-6 1v27l-1 1l-1 30l3 5l3 -1l6 -6l9 -2l1 3l1 -1l7 1zM734 196l-6 8l-4 12v29l-1 1v18l5 7l6 5l3 -12l-1 -53zM60 202v128l3 4v-52l1 -1l5 3l2 4l1 -4l4 8l5 2v12l6 3v-13l1 -1l10 5v31l6 2l3 -5v-28l3 -5l10 2l20 13l9 4l26 -30h5l2 2l14 2l6 5l13 18l8 38l1 -1l3 9l1 11l5 -15l1 1v7l1 -4l4 -4l5 5l4 7v16l1 1h63v-20l1 -7l3 -5l9 5l8 -1l18 1l20 -9l12 -2l3 1l25 -5l10 2l15 -1l13 3l1 -1l3 1h49v-72h-54l-8 2l-22 1l-17 6l-2 -1l-5 2l-2 -1l-5 1l-6 -9l-11 -9v-7l-3 -1v9l-2 1l-3 -2v-5l-4 -2l-5 2l-6 -2l-8 4l-6 1l-1 -3l-7 2l-2 -2l-1 1l-3 -4h-2l-9 12l-5 2h-7l-4 3l-2 -1l-20 1l-1 1l-17 -2l-14 1l-6 -3l-2 -5l-1 -13l-6 -6l-8 -17l-2 -1l-15 -34l-2 -2l-18 -3l-5 1l-11 8l-10 5l-1 2l-8 6l-5 2l-10 9l-8 5l-10 -46v-50l-6 -5l-12 1v36l-11 8l-2 3l-3 1l-12 23l-1 -1zM0 66v53l14 38l2 9l6 6l12 7l7 -4l1 -8l-1 -29l-6 -2v-9l-3 -1l-10 -16l-4 -3l-2 -3v-5l-4 -2z"/>
<path fill="#ff4d00" stroke="#ff4d00" d="M49 215l-12 12l-6 1l-1 2l-5 1v25l-1 1v30l1 1h3l14 -8l2 2l3 -3l3 -7l1 -7l-1 -1zM734 199l-6 8l-4 12l1 5l-1 39l4 6l6 5l2 -7v-52zM92 127v39l-4 4l-1 -1l-11 8l-10 20l-5 5l-1 67l1 10l2 5v-14l1 -1l2 6l4 4h7l9 6l2 -1l8 4l2 2v13l6 2l3 -6v-5l2 -1l11 3l20 13l9 4l27 -31l5 1l1 2l16 3l17 22l8 35l1 -2l3 7l1 -15l4 -17l1 -1l1 1v22l3 -15l2 -3l6 11l3 10v16l2 3l2 9l2 2v9h58v-25l1 -5l3 -3l8 5h28l20 -9l16 -1l5 -2h6l4 -2l9 -1l9 2l5 -1l13 1l7 2h56v-71h-47l-1 1h-10l-5 2h-12l-1 1l-3 -1l-7 1l-1 2l-10 2l-3 2l-3 -1l-4 2l-3 -1l-5 1l-6 -6l-10 -3l-2 -8h-2l-1 10l-4 -2v-4l-9 -1l-2 -2v-8l-3 -1l-1 1v10l-9 3h-5l-1 -3l-11 1l-6 -6v-4l-6 8l-1 7l-9 -4l-4 1l-1 2l-8 1l-12 -1l-5 2h-7l-1 -2l-23 1l-4 -2l-1 2l-4 -6l-1 -17l-5 -5l-8 -16l-2 -1l-16 -37l-14 -3h-9l-20 13l-12 10h-2l-18 15h-2l-10 -43v-54l-6 -5zM0 67v51l17 48l4 4l13 8l5 -3v-3l3 -5l-1 -29l-3 1l-3 -1v-8l-3 -1l-12 -19l-1 1l-3 -4v-6h-2l-3 -4z"/>
<path fill="#ff3000" stroke="#ff3000" d="M234 276v21l4 -8l8 2l2 2v22l3 6l1 8v-15l1 -1l1 1l4 32l1 36h2v-106h-13l-1 1zM270 277v76l-5 8v21h46l1 -29l3 -5l10 6l8 -1l18 1l20 -9l10 -2h10l4 -2l17 -3l8 2l6 -1l1 1h12l5 2h58v-69h-51l-1 1l-1 -1l-11 3l-4 -1l-1 1h-12l-19 7l-15 2l-2 -3l-2 1l-3 -2l-9 1l-1 -6h-3l-1 6l-9 -2l-1 2h-4l-1 -1v-11l-4 1v10l-1 1h-13l-1 -3h-9l-1 2l-4 -1l-2 1l-1 -8l-6 1v15l-9 10l-1 -1v-20l-3 -5l-1 1v29l-4 5l-1 -1v-32zM46 218l-8 9l-7 1l-1 3h-3l-1 53l2 1l3 -2h3l8 -7l1 2l5 -10l-1 -2v-45zM734 202l-1 3l-5 5l-3 9l1 45l8 8l2 -7v-46zM63 200v61l-1 1l1 8zM92 127v43l-17 10l-9 18v69l5 8l9 3l1 2l6 3l2 -1l8 4l2 4l6 3h2l1 -2l10 3l30 18l6 -5l22 -26l5 1l1 2l15 2l17 21l9 34l1 -2l1 1v-17l2 -16l-1 -56l-13 -19l-16 -38l-22 -4l-21 14l-27 22l-7 4l-10 -40v-59l-6 -5zM4 107l-2 11l2 10zM14 103v19l-1 1l-4 -2l-2 2l-2 7l8 21l3 12l4 5l9 6h2l3 3l4 -2l4 -8l-1 -29l-3 1l-3 -1v-5l-3 -1l-11 -18l-4 -3l-2 -4l1 -4z"/>
<path fill="#fe1200" stroke="#fe1200" d="M502 274h-56l-10 3l-2 -1l-18 2l-1 2l-22 6l-1 -1l-12 1l-9 -2l-1 -2h-3l-1 2l-15 -2l-37 2l-5 5v7l-9 12l-1 -1v-5l-3 3l-1 11l-4 7l-1 -1v-8l-2 4l-7 7l-1 -6l-6 9v24l-4 4v25l-1 1h42v-25l1 -8l2 -3l4 4l6 3h29l18 -9l13 -2l2 1l27 -6l7 2h19l5 2l10 1h48zM44 221l-6 6l-7 1v3l-2 1l-1 50l6 -1l3 -2l5 -7l1 2l2 -4l-1 -3zM734 206l-6 6l-2 6l1 45l7 8l1 -4zM92 127v47l-3 2l-2 -1l-10 5l-9 16v69l2 4l3 3l7 3l2 3l4 2l2 -1l9 5l2 4l6 3l5 -1l8 3l30 18l5 -4l22 -27l6 1l2 2l14 2l17 21l9 31v-41l1 -1l-1 -47l-11 -15l-15 -38l-7 -2h-6l-1 -2h-9l-10 8l-9 5l-31 26l-4 2l-10 -39v-62l-6 -5zM20 115v25l-3 2l-3 -2v16l3 7l5 5l12 8l4 -1l4 -8l-1 -29l-5 1l-1 -3l-3 -1z"/>
<path fill="#da0000" stroke="#da0000" d="M502 274h-50l-13 3l-19 1l-20 8l-2 -1l-10 3l-17 -2l-1 -2h-3l-1 2l-15 -2l-34 1l-2 1l-6 10v8l-6 8l-3 6l-1 -1v-5l-4 7v13l-4 12l-1 -1v-11l-4 19l-4 3l-2 -1l-6 5l-3 24h39l1 -32l2 -6l3 2l1 3l8 4h27l21 -10l15 -1l9 -2l3 -2h6l7 -2l6 2h13l1 1l5 -1l10 3l2 -1l1 1h51zM41 226l-10 2v51l7 -2l4 -13zM734 209l-6 6l-1 3l1 45l6 6l1 -4zM29 137l-2 8l-4 4l-3 1v15l14 10l1 -1l3 1l4 -8l-1 -29l-9 2l1 24l-3 4l-1 -1zM92 127v50l-3 2l-2 -1l-8 4h-3l-6 12v70l1 2l16 12l1 -1l8 4l3 5l6 3l4 -1l10 4l29 18l5 -4l22 -27l6 1l2 2l14 2l3 2l14 19l9 28v-84l-7 -8l-1 -3l-1 1l-2 -3l-15 -40l-22 -5l-23 16l-32 27l-10 -37v-66l-6 -5z"/>
<path fill="#b60000" stroke="#b60000" d="M502 274l-55 1l-10 3l-19 1l-18 8l-2 -1l-14 4l-11 -2l-3 -2l-7 2l-1 -1h-10l-1 -2h-4l-1 2h-13l-1 -1l-15 1l-8 16v8l-5 8l-4 11l-1 -1v-6l-4 11v15l-4 7l-1 -6l-2 5l-7 6l-1 -1l-5 11l-1 11h36v-28l1 -10l2 -4l4 8l7 4h29l18 -9l19 -2l3 -2h5l3 -2h6l6 -2l6 2h12l1 1l5 -1l9 3h56zM41 226l-10 2l1 47l2 3l2 -2l2 1l4 -13zM734 212l-6 6v22l1 1l1 22l4 4l1 -4zM41 138l-9 2l1 33l4 2l5 -8zM92 127v53l-2 2l-4 -1l-6 3h-4l-3 7v73l1 2l12 9h3l7 4l2 4l7 4l4 -1l14 7l16 11l10 5l26 -31h3l6 3l13 2l3 2l14 19l6 20l1 -57l-2 -19l-3 -6l-3 -1l-16 -44l-19 -5l-5 1l-21 15l-32 28l-10 -35v-70l-6 -5z"/>
<path fill="#920000" stroke="#920000" d="M502 275h-51l-20 4l-15 1l-2 2l-19 7l-11 2l-13 -3h-19l-1 -1l-34 2l-3 5l-5 19l-6 13l-2 16l-1 1l-1 -1v-3v4l-4 10v6l-4 4l-1 -2l-5 4l-2 3l-1 6l-1 1l-1 -1l-1 8h31v-40l2 -6l3 4l2 8l8 4h27l18 -9l16 -2l25 -6l19 1l23 4h49zM41 226l-10 2l1 47l5 2l2 -2l3 -11zM734 215l-4 4l2 44l2 2zM41 138l-9 2l1 33l4 2l5 -8zM92 127v56l-16 3l-2 5v72l1 2l12 8l9 4l2 4l8 4l2 -1l40 24l28 -31l8 3l13 2l18 23l2 9l1 -3l-1 -58l-2 -9l-1 1l-17 -47l-9 -3l-14 -2l-24 18l-30 27l-10 -34v-73l-6 -5z"/>
<path fill="#ffffff" stroke="#ffffff" d="M0 0v3h14l1 1v102h3v-102l1 -1h14l1 1v140h3v-72l1 -1h8l1 1v59h3v-127l1 -1h13l1 1v100h8v-48l1 -1h17l1 1v30h6l1 1v77h3v-70l1 -1h10v-10l1 -1h8v-10l1 -1h8v-15l1 -1h16l1 1v127h5v-131l1 -1h7l1 1v21h7l1 1v12h8l1 1v114h6v-118l1 -1h5l1 1v3h6l1 1v13h6v-44l1 -1h8v-32l1 -1h12l1 1v10h8v-18l1 -1h7l1 1v14h4l1 1v12h3l1 1v12h4v-12l1 -1h3v-14l1 -1h4l1 1v23h5l1 1v6h6l1 1v5h5l1 1v4h4v-13l1 -1h8v-51l1 -1h111l1 1v122h4v-122l1 -1h36l1 1v378h92v-246l1 -1h17l1 1v34h5v-25l1 -1h6v-17l1 -1h5v-12l1 -1h13v-10l1 -1h16v-8l1 -1h8v-12l1 -1h8l1 1v12h26l1 1v8h7v-19l1 -1h21l1 1v23h4v-25l1 -1h8v-4l1 -1h16v-10l1 -1h8l1 1v74h4v-87l1 -1h12v-17l1 -1h17v-14l1 -1h11v-18z"/>
</g></g>
<g transform="translate(615.40 500.78) scale(0.5)" clip-path="url(#cp)"><g filter="url(#bl)">
<path fill="#0000da" stroke="#0000da" d="M0 0v382h779v-382z"/>
<path fill="#0000fe" stroke="#0000fe" d="M358 184l1 1v46l-1 1l-6 -9l-4 -2v-30l1 -1l3 7zM334 163l9 23v32l-1 1l-9 -4v-51zM158 157l1 1v31l-1 1l-2 -12l1 -20zM297 123l1 1v77l-1 1l-4 -2l-3 -4v-12l-2 -9v-47zM382 95l1 1v166l-1 1l-4 -5v-146zM405 19l4 9l2 12v225l-6 2l-1 -1v-246zM679 17l31 47v44l-2 14v25l-1 1v71l-2 3l-1 -1v-141l-5 -5l-16 -35l-5 -20zM0 0v382h779v-163l-4 -1v-218z"/>
<path fill="#0010ff" stroke="#0010ff" d="M308 188l4 10l-1 3l-5 -3zM675 176l10 8v10l-1 1l-10 -12zM17 109l1 1v54l-1 1l-1 -1v-54zM297 93l1 1v31l3 -2l3 -6l1 1v85l-2 1l-5 -3v7l-2 1l-8 -4v-96l4 -5zM334 85l6 4l3 10v98l5 12v-102l1 -1l3 8l3 -18l2 -3l2 1v144l-1 1l-5 -8l-5 -3v-8l-5 -2l-1 8l-9 -4v-136zM679 17l31 47v154l-5 11l-1 -1v-148l-5 -5l-16 -35l-5 -20zM382 16l1 1v253l-1 1l-4 -6v-216zM0 0v382h779v-152l-4 -2v-228h-214l-4 7l-4 12l-21 40h-77l-2 -3v-56h-8v36l-1 1l-5 -15l-3 -15v-7h-25v269l-5 3l-2 -1v-271h-6v268l-7 4l-1 -1v-271h-229v260l-1 5l-2 2l-3 -3l-1 -10l-1 -58l-2 -14v-126l-9 -15l-6 -18l-5 -23z"/>
<path fill="#0030ff" stroke="#0030ff" d="M695 159l1 1v49l-1 1l-5 -6v-34l3 -4zM14 105l4 2v135l-1 1l-4 -7v-119l-1 -1zM23 98l2 7v90l-1 1v47l-1 1l-1 -1v-144zM297 74l1 1v18l1 -5l5 -9l1 1v19l1 -11l2 -2l4 2v119l-3 1l-4 -2l-1 6l-6 -3v7l-2 1l-8 -5v-123zM334 67l9 6v37l5 14v-49l1 -1l3 2l6 -5l1 1v98l3 -17l1 -1l1 1v86l-1 1l-4 -6v11l-1 1l-5 -8l-5 -3v-8l-5 -2l-1 8l-7 -2l-2 -2v-161zM758 25l5 5v8l-4 4l-2 -3v-13zM679 17l31 47v163l-5 9l-1 -1v-155l-5 -5l-14 -32v160l-1 1l-10 -12v-88l6 -17v-62l-2 -5zM390 0h-7v85l2 -34l1 -1v-17l2 -6l2 2zM0 0v382h779v-143l-4 -2v-129l-3 2l-3 -1v-109h-34l18 20v42l-1 1l-1 -1l-2 -10l-10 -10v28l-2 3l-3 -1l-1 -8l-5 -6v10l-1 1l-1 -1v-12l-55 -56h-110l-28 60l-16 24l-11 26l-3 14v58l-1 1h-47l-1 1l-1 -1v-183h-8v203l-6 16l-4 17l-1 -1v-235h-23v274l-5 3l-2 -1v-276h-6v274l-6 4l-2 -1v-7l-3 1l-4 -6v12l-1 1l-4 -5v-19l-2 -3l2 -8v-243h-217v269l-3 3l-7 -11v-205l-9 -15l-6 -18l-5 -23z"/>
<path fill="#0050ff" stroke="#0050ff" d="M660 183l1 1l-1 9l-1 -1zM267 125l1 4l2 -1l5 1v25l-1 1l-6 -7v14l-1 1l-4 -5l-2 -8v-21zM14 74l3 1v27h2l1 -9l1 -1l1 1v4v-20l1 -1l4 17v150l-4 4l-1 -3l-1 1l-3 -4v-133v138l-1 1l-7 -13l-1 -124zM691 73l4 11v22l1 1v109l-1 1l-5 -6v-137zM297 52l1 1v21l6 -12l1 1v10l3 -5l4 3v60l6 20v-45l1 -1l1 1l2 10l3 7v22l5 13v55l-1 1l-4 -2l-1 1l-5 -1l-1 -4l-6 -2v9l-2 1l-5 -2l-1 5l-6 -2l-1 8l-9 -5v-76l-4 -7v-5l4 -1v-58l2 -5l-1 -2l4 -1l3 -6zM398 0v53l5 18l1 13v-84zM0 0v382h779v-134l-4 -3v-19l-6 -1v-225h-34l9 11l19 19v192l-1 1h-3l-2 -2l-1 -5v-35l-1 -1l-2 -68v26l-1 1l-1 -1l-1 -25l-3 -24l-2 -6v-12l-4 -10l-2 1v33l-1 3l-3 1l-1 -2h-3l-3 12l-1 1l-1 -1v-34l-7 16v26l-4 21l-2 35l-1 1l-2 62l-5 6l-1 -1v-161l-5 -5l-14 -32v168l-1 1l-10 -11v-11l-5 -6v-59l5 -6v-114l-3 -5h-110l-30 64l-11 15l-9 17l-7 22l-1 6v132l-1 1h-48l-1 -1v-256h-8v260l-10 5l-1 -1v-98l-5 11l-3 16l-1 1l-1 -1v-193h-7v125l2 2v136l-8 4v12l-5 3l-2 -1v-15l-6 1v13l-6 5l-2 -1v-7l-3 2l-4 -6v12l-1 1l-4 -6v-19l-14 -21l-1 7l-4 -6v11l-1 1l-5 -8l-5 -3v-8l-5 -2l-1 8l-7 -2l-2 -2v-185l2 -1l8 6v19l5 3v-20l1 -1l3 1l6 -9l1 1v40l4 -4l1 1v84l5 -33l3 -34l6 -20v-84h-217v274l-3 2l-7 -9v-211l-9 -15l-6 -18l-5 -23z"/>
<path fill="#0070ff" stroke="#0070ff" d="M165 166l1 1v12l-1 1l-1 -1v-12zM37 144l1 1l-1 5l-1 -1zM660 117l1 1v95l-1 1l-4 -9v-32l1 -1v-18l1 -1v-17zM14 43l3 1v35h2v-5l2 -4l1 5v-21l1 -1l1 1l3 14v179l-4 3l-1 -3l-1 1l-3 -5l-1 7l-3 -3l-5 -10v-168zM0 0v382h779v-126l-4 -3v-19l-6 -2v-9l-6 -1v6l-1 1l-3 -1l-2 -2l-2 -8l-2 -19l-1 2l-1 -1l-2 -44l-4 -35v-15l-4 -21l-1 -1l-1 3v33l-1 4l-3 1v5l-4 1l-3 19l-1 1l-1 -1v-32l-7 42l-1 39l-8 23v22l-5 5l-1 -1v-168l-5 -5l-14 -32v70l5 -28v-11l1 -1l4 11l1 140l-1 1l-5 -6v-12l-5 -6v18l-1 1l-10 -10v-11l-5 -5v-11l-2 -2l1 -29l1 -1v-48l-4 -4l-1 -9l-12 -14l4 -76h-95l-8 19l-10 18l-12 27l-11 15l-9 17l-7 22l-1 6v137l-1 1h-48l-1 -1v-253l-1 -8h-7v265l-8 4l-3 -1v-5l-7 3l-3 -1v-85l-5 45v43l-8 3v13l-5 3l-2 -1v-15l-6 2v14l-7 5l-1 -8l-3 2l-4 -6v13l-1 1l-4 -6v-19l-14 -22l-1 7l-4 -6v11l-1 1l-5 -8l-5 -3v-8l-5 -2l-1 8l-9 -3v-29l-3 -1l-1 7l-2 -1l-3 1l-4 -1l-2 -2v-3l-6 -1v9l-1 1l-6 -2l-1 5l-6 -3v7l-2 1l-8 -4v-24l-10 -4l-2 -2l-1 -6l-1 9l-3 -1l-3 -4l-1 5l-4 -3l-2 -6v-32l-6 -24v-4l6 -6v-7l2 -2l4 -1l1 3l6 -3l1 5l9 -5l4 -4v-42l2 -3l-4 -8l-1 -12l3 -3l6 5h8l2 -4l1 1v10l3 -5l4 3v23l6 4l1 -8l5 3l1 4l5 4v69l3 8v-128l1 -1l9 6v19l5 3v-20l1 -1l3 2l6 -15l1 1v40l4 -8l1 1v30l3 -5l5 -15v-10l2 -6l4 -29v-25h-217v278l-3 3l-7 -9v-11l-2 -6v-28l-1 -1v-27l-1 -1v-27l-1 -1l-2 -126l-8 -21l-5 -23z"/>
<path fill="#008fff" stroke="#008fff" d="M179 80l4 5l1 4v94l-5 1l-1 9l-1 -1v-110zM36 78l3 1l2 36l1 1l-3 126l-2 3l-1 -1v-100l-1 -1v-64zM164 74l-1 1l1 58zM14 12l3 1v43h2v-4l2 -3l1 4v-21l1 -1l4 12v47l3 14l-1 138l-2 2v6l-4 3l-1 -3l-1 1l-3 -4l-1 7l-8 -11v-215zM374 0h-15v44l4 -12l1 1v28l8 -33zM0 0v382h779v-104l-4 -3v-33l-6 -3l-1 -10l-5 -1l-1 6l-5 -3l-4 -13v-4l-1 2l-1 -1l-4 -30l-2 -45l-4 -31l-1 -1l-1 3v34l-3 16l-1 1l-1 -1v-13l-5 34l-2 6l-1 -1v-25l-2 22l-5 19v7l-9 21v22l-5 3l-1 -1v-29l-8 -10v15l-1 1l-5 -5v-12l-5 -6v18l-1 1l-10 -10v-10l-5 -5v-11l-3 -1l-3 -5l5 -84l-3 -3v-7l-4 -6v148l-2 2l-3 -1l1 -153l-5 -6l4 -76h-95l-8 19l-10 18l-12 27l-11 15l-9 17l-7 22l-1 6v142l-1 1h-48l-1 -1v-99l-8 10v93l-10 4l-1 -6l-8 3l-2 -1v-4l-5 2v4l-8 4v12l-5 4l-2 -1v-15l-6 3v14l-7 6l-1 -7l-3 2l-4 -6v12l-1 1l-4 -6v-19l-14 -22l-1 7l-4 -6v11l-1 1l-5 -8l-5 -3l-1 -9l-4 -1l-1 8l-9 -3v-28l-3 -1l-1 6l-3 -1l-4 1l-4 -2v-3l-6 -2v9l-3 1l-4 -2l-1 6l-6 -3v7l-2 1l-8 -5v-23l-12 -6l-2 3l-6 -3l-1 2h-2l-4 -3v-5l-2 -3l-5 -26l-1 1l-1 -1l-7 -34v-6l8 -9l1 1l7 -7v-6l5 -4l3 2l5 -4l1 5l9 -9l4 -7v-23l2 -3l-4 -8l-1 -26l1 -1h16l2 -5l1 1v11l3 -6l4 3v24l6 3l1 -7l6 4v3l5 3v16l3 2v-68l2 -1l8 6v19l5 3v-20l1 -1l3 1l5 -15v-8h-195v57h22l1 1l-8 4l-7 6l1 118l-2 13l-3 61l-1 1l-1 -1v-68l-2 58l-1 1v32l-2 2l-8 -7v-11l-6 -12l-1 -42l-1 -1v-170l-7 -19l-5 -23z"/>
<path fill="#00afff" stroke="#00afff" d="M597 278l8 3v20l-10 5l-1 -1v-26zM225 116l1 1v63l-1 1l-3 -12l-2 -17l-4 -10v-13l4 -4zM208 102l1 1v91l-1 1l-9 -12v-77zM661 86v79l1 -35l3 -38zM369 0h-5v33l5 -25zM362 0h-3v21l3 -12zM350 0v5l2 1v-6zM343 0v22l5 3v-25zM0 0v382h779v-28l-4 -2v-102l-6 -4v-10l-6 -2v4l-2 1l-6 -6l-2 -7l-1 4l-2 -4l-5 -32l-1 -32l-4 -31l-1 4v50l-3 17l-1 1l-1 -1v-21v5l-6 25l-1 1l-1 -1v-17l-2 11l-5 13v7l-9 15v22l-1 1l-5 -1v-29l-8 -10v15l-1 1l-5 -5v-11l-5 -6v18l-1 1l-7 -6l-2 1l-1 -1v-13l-5 -5v-10l-2 1l-3 -1l-3 -5v84l-4 3l-1 -1v-55l-2 -4l-2 -18l3 -69l1 -1v-55l-4 -5v-10l1 -1l3 -65h-95l-8 19l-10 18l-12 27l-11 15l-9 17l-7 22l-1 6v146l-1 1h-47l-1 1l-1 -1v-21l-1 6l-7 4v14l-2 2l-8 2l-1 -6l-7 3l-3 -1v-3l-4 1l-2 6l-7 2v13l-6 5l-1 -1v-15l-6 3v14l-7 9l-1 -9l-3 3l-4 -7v14l-1 1l-4 -6v-20l-14 -23l-1 7l-4 -6v12l-1 1l-5 -9l-5 -3l-1 -9l-4 -1l-1 9l-9 -1v-31l-3 -1l-1 6l-4 -1l-4 1l-3 -2v-3l-6 -1l-1 10l-6 -2l-1 5l-6 -2v12l-1 1l-9 -9v-25l-11 -5h-2l-1 2l-5 -2l-3 2l-4 -2l-1 -6l-12 -9l-5 -20v-9l-8 -37l8 -12l9 -9l8 -5v-6l6 -5l1 2l2 -1l4 -5l1 5l8 -11l5 -10v-6l2 -3l-4 -8l-2 -38l-3 -7l1 -2h20l2 -4l1 1v12l3 -5l4 3v23l6 4l1 -8l6 4v3l5 4v16l3 2v-67h-164l18 35l-2 23l2 7l-8 15l4 5l1 4v110l-2 2l-3 37l-1 1l-1 -1v-155l-4 4v136l-2 13l-1 28l-5 7l-1 -5l-3 3v19l-1 1h-3l-6 -6v-11l-8 -14v-89l-1 -1l-1 -51l-1 -1l-2 -43l-2 -10v-43l-5 -20h-114v32h2l2 -4l1 3v-22l1 -1l4 11v46l4 18l2 20h2v-32l7 -7l1 1v18l1 1l1 31l1 1v34l-1 1v22l-1 1l-2 70l-5 8l-1 -1v-107l-2 2l-2 97l-5 5l-1 7l-3 1l-1 -3h-2l-2 -3l-1 8l-8 -8v-89l-1 -1l1 -160z"/>
<path fill="#00cfff" stroke="#00cfff" d="M630 280l4 2v15l-6 4l-1 -1v-19zM615 275l5 2v31l-4 3l-2 -1v-15l-2 1l-2 -1v-12l1 -1l3 1zM604 261l1 1v79l-10 3l-1 -1v-42l-7 -14l7 -7v-18zM661 86v14h4v-8zM107 69l12 10v110l-1 1l-9 -21l-1 -9l-5 -11v-34l3 -14v-14l-3 -7v-4zM193 68h14l2 3v57l7 -7v-15l3 -1l6 -7l1 1v119l-1 1l-2 -2l-4 -13l-3 -5v-36l-3 -5l-4 -15v87l-1 1l-9 -9v-59l-3 -15l-1 -18l4 -9v-19l4 -4v-9l-7 -15l-4 -4zM364 0v5zM343 0v5l5 3v-8zM312 0v25l6 4l1 -8l6 4v3l5 3v16l3 2v-49zM17 0v9h2l1 -2l2 2v-9zM0 0v382h775v-124l-6 -5v-10l-6 -4l-1 6l-4 -4h-3l-2 -2l-1 5l-4 -6l-3 -12v-15l-2 -10l-3 -47l-1 8v77l-4 6l-1 -1v-24l-2 8l-5 9l-1 -1v-18l-7 16l-1 7l-8 8v71l-1 1l-5 -3v-79l-8 -8v15l-1 1l-5 -5v-12l-5 -5v56l-10 15l-1 -1v-70l-2 -1l-2 3l-1 -1v-14l-5 4l-3 -1v126l-2 2l-3 -1v-70l-6 5l-1 -1v-94l1 -1l2 -58l2 -19v-26l-2 -2v-10l1 -1l3 -65h-95l-8 19l-10 18l-12 27l-11 15l-9 17l-7 22l-1 6v151l-1 1h-47l-1 1l-1 -1v-15l-8 3v15l-3 2l-7 2l-1 -6l-8 3l-2 -1v-4l-5 2v4l-8 4v13l-3 2l-3 6l-1 -1v-18l-6 4v17l-7 9l-1 -10l-3 2l-4 -6v16l-1 1l-4 -5v-24l-14 -23l-1 7l-4 -6v19l-1 1l-5 -9l-5 -2v-16l-5 -2v16l-1 1l-9 -1v-39l-3 -1l-1 7l-1 -1l-5 1l-4 -1l-1 -4l-6 -2v11l-4 1l-3 -2v10l-1 1l-6 -5v17l-2 1l-8 -6v-37l-13 -6l-1 3l-6 -3l-1 3l-5 -2l-1 -6l-12 -6l-9 -11l-6 -27v-51l16 -18l3 -2l1 1l7 -5v-6l6 -6l1 3l6 -10l1 6l9 -16v-4l3 -3l-2 -9l1 -9l-1 -1l-1 -21l-5 -12l-6 -9h-104l18 35l-2 23l2 7l-8 15l4 5l1 4v110l2 2v17l-3 17l-2 28l-3 7l-1 -1v-79l-4 41v35l-8 10l-1 -5l-3 3v18l-2 2h-2l-6 -5v-11l-8 -12v-10l-2 -4l-4 -117l-4 -37v-90l-2 -8h-104v39l3 10l3 22h2l7 -7l4 3v173l-3 13l-6 6l-1 -1v-55v39l-9 10l-1 6l-3 1l-1 -3l-4 -2l-1 7l-5 -2l-3 -3v-19l-3 -7l-1 -87l-1 -1l1 -38l4 -35v-69z"/>
<path fill="#08efef" stroke="#08efef" d="M647 267l1 -1l1 1l-1 1zM643 249l1 1v65l-10 7v23l-3 2h-3l-1 -1v-88l6 -1l1 1v11l5 1zM595 243l10 1v32l5 1v-13l4 -1v-7l1 -1l5 1v28l7 3l-7 5v60l-2 2l-4 -1v-16l-2 1l-2 -1v-29l-5 2v71l-1 1l-10 -1v-41l-10 -15v-57l10 -6v-18zM669 222l-8 12v148h43v-136l-8 -8v30l-5 8l-1 -1v-37l-5 -5v115l-10 13l-1 -1v-75l-4 6l-1 -1zM740 217l-1 5v106l-1 1l-4 -5v-64l-6 2l-2 -1v-20l-7 8v5l-9 5v123h65v-57l-6 -3v-72l-6 -5v51l-1 1l-5 -4l-4 -33v43l-1 1l-1 -1l-6 -45v-10l-3 -11zM61 122l4 6v12l-4 7l-1 -1v-23zM107 69l12 10v177l-1 1l-8 -3l-7 -7v-157l2 -3l-2 -11zM321 0v5l3 1l1 4l5 4v16l3 2v-32zM312 0v7l6 4v-11zM0 0v382h656v-51l-4 2l-3 -1v-65l-1 -1v-10l1 -1v-146l1 -1v-30l2 -2v-10l1 -1l3 -65h-95l-8 19l-10 18l-12 27l-11 15l-9 17l-7 22l-1 6v156l-1 1h-48l-1 -1v-14l-8 3v15l-10 4l-1 -7l-9 3l-2 -4l-4 2l-1 5l-7 3v21l-6 11l-1 -1v-29l-6 5v23l-7 7l-1 -1v-10l-3 2l-4 -6v17l-1 1l-4 -5v-26l-14 -23l-1 9l-4 -7v23l-1 1l-6 -8l-4 -1v-18h-5v16l-1 1l-9 -1v-47h-3l-1 6l-10 -1l-1 -4l-6 -1v18l-4 1l-3 -2v10l-1 1l-6 -3v18l-1 1l-9 -4v-49l-12 -6l-2 3l-6 -3l-1 2l-5 -1l-2 -7l-6 -2l-2 1l-6 -3l-12 -13v-41l-6 -28v-6l6 -8v-16l13 -13l14 -6v-11l3 -2l3 -5l1 3l6 -10l1 5l4 -7v-6l6 -6l1 -3l-2 -25l-5 -12l-6 -9h-104l18 36l12 6l10 8v47h7v-13l1 -1l3 1l5 -5l1 1v156l-3 1l-7 -4v-16l-7 -13v50l-2 1l-8 -5v-37l-6 -8v-117l6 -7l-3 -7l-9 -10l-8 16l4 5l1 4v110l2 2v55l-4 18l-4 6l-1 -1v-41l-2 27l-2 3v6l-8 8l-1 -5l-3 2v18l-1 1h-3l-6 -4v-10l-8 -10v-10l-7 -17l-1 -51l-1 -1v-25l-1 -1v-161l-2 -8h-104v14l5 16l1 9l10 1v24l6 7v59l2 2v42l-3 4l-1 7l-1 81l-1 1l-9 -1v-18l-9 7v5l-2 2h-2l-1 -3l-4 -2v7l-1 1l-6 -1l-2 -2v-18l-4 -8l-3 -11v-44l-1 -1v-44l-1 -1l2 -55l1 -1l2 -34l4 -21v-24z"/>
<path fill="#21ffd5" stroke="#21ffd5" d="M753 356v26h5l-4 -16zM606 350l-1 1v31h9v-2l-4 -1v-29zM627 334l-7 2v46h7zM649 323l-5 3v42l-4 2h-6v12h15zM739 297v85h9l-3 -15v-33l-2 -8l-2 -23zM763 286v96h6v-92zM669 277l-8 5v100h13v-32l-4 5l-1 -1zM726 264l-7 1v24l-3 1l-6 -2v94h24v-21l-8 -12zM689 245l-4 7v130h19v-129l-8 -8v93l-5 7l-1 -1v-98zM61 62l3 8l6 1v30l-5 5v20l5 6l-5 11v87l-4 6l-1 -1v-172zM656 0h-95l-28 60l-16 24l-11 26l-3 14v102h47l5 2v154h39v-4l-4 -2l-6 -6v-122l3 -2l7 -1v-18l9 -3l2 1v32h5v-13l4 -1v-8l1 -1l5 1v28l7 1v-29l3 -2h3l1 1v11l5 -1l3 -23v-15l1 -1l1 1v27l4 -90l1 -1v-63l3 -3v-10l1 -1zM330 0v12l3 2v-14zM169 0l18 36l12 6l10 8v15l3 5l4 4v-14l1 -1l3 4l5 -5l1 1v59l8 -10v-16l9 -6l4 -6l14 -7v-11l3 -2l3 -5l1 3l3 -5v-3l7 -7l7 -3v-11l-3 -14l-9 -15zM33 0v7l10 1v56l6 7v59l2 2v125l-5 7v43l-5 1l-5 -2v-52l-9 5l-1 6h-3l-1 -3l-4 -1v39l-1 1l-8 -7v-43l-6 -11l-3 -15v157h502v-96h-48l-1 -1v-14l-8 3v14l-2 2l-8 2l-1 -6l-9 3l-1 -5l-5 2v4l-2 2l-6 2v38l-6 7l-1 -1v-41l-6 8v27l-7 6l-1 -1v-11l-3 2l-4 -6v17l-1 1l-4 -5v-26l-5 -7l-9 -18v13l-1 1l-4 -6v23l-1 1l-6 -7l-4 -1v-18h-5v16l-1 1l-9 -1v-54l-3 -1v9l-5 1l-1 3l-6 -1v-6h-6v20l-4 1l-3 -2v11l-1 1l-6 -2v18l-1 1l-8 -1l-1 -1v-61l-11 -5h-2l-1 2l-6 -2l-2 2l-5 -3v-4l-7 -2l-1 1l-6 -1l-3 -3l-5 -1l-5 -3v-18l-4 -7l-4 -25v83l-5 1l-5 -3v-13l-7 -5v43l-2 1l-8 -2v-34l-6 -6v-51l-4 -4v-117l-2 -2l-8 16l4 5l1 4v110l2 2v78l-4 8l-4 4l-1 -1v-21l-4 7v5l-4 4l-4 2l-1 -5l-3 2v42l-3 2l-7 -3v-36l-8 -7v-10l-6 -10l-4 -12v-147l-2 -14l-4 -12v-9l-2 -2v50l-1 1l-3 -7l-2 -15v185l-8 3l-8 -1v-192l2 -3l-2 -11l4 -7l1 -7l3 -6v-41l11 -15zM1 0h-1v19z"/>
<path fill="#3bffbc" stroke="#3bffbc" d="M620 380v2h7v-2zM644 379v3h5v-3zM763 371v11h6v-10zM719 350v26l-1 1l-8 -10v15h16v-23zM669 340l-8 2v40h8zM690 312l-5 7v63h5zM696 253v129h8v-122zM540 44l-9 20l-14 20l-11 26l-3 14v45h46l4 -3l2 1v78l5 -2l2 1v33l1 -5l6 -9l2 1v61l-1 1l-2 -3l-6 -21v-4v67l-1 1l-3 -5l-3 -11v32h29v-58l-6 -12v-38l6 -6v-40l10 -1v-118l-11 -11l-36 -47zM561 0l-9 20l40 47l13 24v147h5v-14l4 -2v-52l5 -2l1 1v73l7 -1v-63l4 -3l3 1v44l5 -7l3 -86l1 -1l1 1v41l3 -87l5 -5l4 -76zM169 0l19 37l11 5l7 6h10v-15l1 -1l3 6l5 -3l1 1v65l8 -8v-18l10 -7l2 -4l6 -4l3 1l6 -4v-10l3 -2l1 -3l2 -2l1 3h11l6 -3l-1 -19l-5 -12l-6 -9zM43 0v64l6 7v59l2 2v171l-5 2v43l-3 1l-7 -3v-86l-9 2v35l-1 1l-4 -1v-33h-4v74l-3 1l-6 -4v-78l-7 -8l-2 -7v140h502v-75h-48l-1 -1v-30l-8 3v30l-7 3l-4 -1v-20l-9 2l-1 -4l-4 1l-1 5l-8 4v54l-4 2l-3 -1v-48l-6 10v28l-7 4l-1 -1v-11l-3 1l-4 -6v21l-1 1l-4 -4v-30l-5 -6l-1 -4l-8 -12v12l-1 1l-4 -5v45l-2 1l-9 -4v-41h-5v36l-1 1l-9 -1v-80h-3v13l-5 1l-1 3l-6 -1v-6h-6v19l-7 1v10l-1 1h-6v34l-9 1l-1 -1v-76l-4 -3l-9 -12v10l-1 1l-6 -9l-1 10l-3 -5l-3 -2v-11l-3 -1l-11 1l-3 -2l-9 -1l-1 -1v-14l-8 -8v64l-2 1l-8 -3v-13l-7 -3v68l-1 1l-9 -1v-56l-6 -3v-46l-4 -5v-152l-1 -1v116l-4 1v17l2 2v104l-8 4l-1 -1v-29l-4 5l-1 6l-7 3l-1 -5l-3 1v90l-9 1l-1 -1v-84l-8 -5v-9l-10 -16l-1 -117l-1 -1v-16l-6 -9v96l-1 1l-5 -14v123l-10 4l-1 -2l-4 1l-1 -1v-157l-3 -6v-6h-2l-2 -3v-39l2 -3h2v-20l3 -1v-5l2 -3l-2 -11l4 -7l1 -7l3 -6v-40l-12 8l-29 30v45h4l8 12v77l-10 19v16l-7 11v57l-4 3l-1 -1v-293z"/>
<path fill="#55ffa2" stroke="#55ffa2" d="M690 380l-1 1v1h1zM571 307v75h13v-12l-6 -6v-39zM704 301l-8 14v67h8zM502 337h-48l-1 -1v-55l-8 2v55l-9 3l-2 -1v-40l-9 3l-1 -10l-5 2v8l-2 2h-3l-3 9v64l-1 1l-6 -1v-57l-6 8v31l-5 2l-3 -1v-15h-3l-4 -5v33l-4 1l-1 -1v-44l-14 -21v13l-1 1l-4 -4v63h143zM0 259v123h36v-110h-9v63l-1 1l-4 -1v-44l-4 -2v88l-7 1l-2 -2v-112l-4 -1zM226 233v88l-1 1l-5 -4l-4 -1v-33h-7v98h139v-43h-5v42l-1 1l-9 -1v-104h-3v13l-5 1l-1 3l-6 -1v-6h-6v19l-7 1v26l-7 1v42l-9 1l-1 -1v-95l-13 -9v10l-1 1l-6 -4v9l-1 1l-6 -4v-23l-7 -2l-1 3l-7 -2l-2 -4l-9 -2l-1 -1v-18zM125 225v35l-1 1l-5 -1v122h32v-50l-8 -3v-40l-10 -9v-29zM189 207l-3 18v139l-2 2l-7 -1v-76l-4 3v4l-2 2l-6 1l-1 -6l-3 1v88h38v-68l-6 -1v-58l-4 -3zM555 105v87l7 2v42l4 -1l5 1v38l7 -8v-16l6 -3v-121l-8 -7l-15 -7zM605 92v119l2 -8l3 -5v-101zM656 0h-22v129l5 2l1 -42l12 -13zM561 0l-9 20l40 48l20 13l8 7v132h1l6 -10v-210zM269 0h-50l7 12v71l8 -7v-20l10 -6l1 -3l5 -2l3 -3l1 3h3v-14l-2 -9zM43 0v64l6 7v59l4 2l-2 3v209l-2 2h-3v36h62l-5 -1v-124l-7 -4v-169l7 -6l8 -22v-40l-12 8l-23 23v12l6 13v53l5 5l4 -4l1 1v20l-1 1l-4 -9l-5 12v124l-10 7v7l-7 5v41l-4 2l-1 -1v-336z"/>
<path fill="#6fff88" stroke="#6fff88" d="M343 378v4h5v-4zM704 375l-5 7h5zM571 371v11h7v-4zM404 337l-6 4v40l-1 1l-7 -1v-24l-3 1l-4 -4v28h21zM364 322v34l-1 1l-4 -2v27h19v-42zM36 311l-9 -1v63l-1 1l-4 -2v-43l-4 -2v55h18zM164 298l-3 1v83h16v-83l-4 1v33l-8 2l-1 -1zM0 293v89h9v-81zM333 292h-3v13l-5 1l-1 3l-6 -1v-6h-6v40l-7 1v29l-7 1v9h35zM419 303v27l-4 1l-4 5v46h91v-15h-48l-1 -1v-81l-8 3v80l-10 1l-1 -1v-40l-8 2l-2 -1v-28zM125 262v20l-6 2v98h24v-60l-10 -4v-50l-2 -5zM226 252v126l-5 1l-5 -2v-37h-7v42h79v-81l-13 -3v10l-7 1v13l-5 1l-2 -2v-26l-7 -5l-1 4l-9 -8v-3l-10 -5v-25zM189 241l-3 21v120h13v-7l-6 -1v-88l-4 -1zM60 205l-9 15v162h52v-90l-5 3l-2 -1v-65l-4 -10v30l-1 1l-4 -8l-5 9v70l-9 5l-1 7l-7 4v41l-3 2l-2 -1zM561 112l1 1v63l5 -2l3 -5l1 1v74l7 -1v-16l1 -1l5 1v-101l-8 -7zM111 16l-12 8l-17 17v46l5 9l3 -9l3 -1l1 1l-2 2v8l2 -11l9 -8l8 -22zM561 0l-9 20l40 48l20 13l12 11v3l3 6v-101zM269 0h-50l7 12v51l8 -6v-24l1 -1l3 2l6 -2l1 -6h5l5 -4zM43 0v56l9 1l8 25v-82z"/>
<path fill="#88ff6f" stroke="#88ff6f" d="M383 376v6h7v-5zM18 365v17h4v-16zM404 352l-6 2v28h6zM173 352v30h4v-30zM364 351v31h14v-20l-6 -3v-4zM27 348v34h9v-31zM0 338v44h9v-39zM164 333l-3 1v48h3zM424 328l-5 1v28l-8 2v23h23v-26l-3 1l-7 -1zM333 307h-3v31l-5 1v7l-1 1l-6 -1v-18h-6v53l-7 1h28zM453 301l-8 2v79h8zM131 282l-6 1v49l-6 3v47h24v-3h-8l-2 -2v-93zM96 282l-4 2v15l-10 6v61l-10 5v7l-7 4h38v-39l-6 2l-1 -1zM60 279l-9 5v98h9zM189 276l-3 9v97h7v-36l-4 -1zM226 274v108h62v-50l-13 -1v16l-7 1v13l-6 1l-1 -1v-27l-5 -3h-2l-1 4l-7 -3l-2 -2v-5l-10 -7v-41zM573 140l-3 4l1 65l7 8v-73zM88 35l-3 3v20l2 5zM226 13v27l8 -3l-2 -16z"/>
<path fill="#a2ff55" stroke="#a2ff55" d="M398 375v7h6v-7zM275 370v12h13v-11zM312 367v15h6v-15zM419 356v26h5v-26zM333 342h-3v35l-5 1v4h8zM133 333l-8 2v47h8zM453 331l-8 1v50h8zM96 329l-4 2v15l-10 4v32h14zM189 327l-3 1v54h3zM60 322l-9 4v56h9zM226 309v73h35l-1 -9h-6l-1 5l-8 -1l-2 -6h-6l-3 -2v-53z"/>
<path fill="#bcff3b" stroke="#bcff3b" d="M330 381v1h3v-1zM92 378v4h4v-4zM226 365v17h8v-15zM60 365l-9 3v14h9zM445 361v21h8v-21z"/>
<path fill="#ffffff" stroke="#ffffff" d="M0 0v4h14l1 1v103h3v-103l1 -1h14l1 1v140h3v-72l1 -1h8l1 1v59h3v-127l1 -1h13l1 1v100h8v-47l1 -1h17l1 1v30h6l1 1v76h3v-70l1 -1h10v-10l1 -1h8v-10l1 -1h8v-14l1 -1h16l1 1v127h5v-132l1 -1h7l1 1v21h7l1 1v13h8l1 1v113h6v-118l1 -1h5l1 1v4h6l1 1v12h6v-43l1 -1h8v-32l1 -1h12l1 1v10h8v-19l1 -1h7l1 1v14h4l1 1v13h3l1 1v12h4v-12l1 -1h3v-15l1 -1h4l1 1v23h5l1 1v6h6l1 1v6h5l1 1v3h4v-12l1 -1h8v-52l1 -1h111l1 1v122h4v-122l1 -1h36l1 1v377h92v-245l1 -1h17l1 1v35h5v-26l1 -1h6v-17l1 -1h5v-12l1 -1h13v-10l1 -1h16v-8l1 -1h8v-12l1 -1h8l1 1v12h26l1 1v8h7v-19l1 -1h21l1 1v24h4v-26l1 -1h8v-3l1 -1h16v-10l1 -1h8l1 1v74h4v-88l1 -1h12v-16l1 -1h17v-15l1 -1h11v-19z"/>
</g></g>
<g transform="translate(615.40 731.12) scale(0.5)" clip-path="url(#cp)"><g filter="url(#bl)">
<path fill="#0000da" stroke="#0000da" d="M0 0v382h779v-382z"/>
<path fill="#0000fe" stroke="#0000fe" d="M0 0v382h779v-382h-425v41l-1 1l-4 -6v-36z"/>
<path fill="#0010ff" stroke="#0010ff" d="M666 98l1 1v19l-2 1l-4 -2v-14zM178 80l1 1v40l-2 16l-1 51l-2 1l-1 -1v-103zM718 71l4 4v74l-1 1l-4 -3v-75zM257 37l1 1v16l-2 2v11l-5 5l-1 -1v-27zM84 38l-14 15v48l-2 2v50l-5 1v205l-1 1l-7 -1v-60h-8v83h47v-233l-10 -1zM676 11l32 49v70l-1 1l-9 -5v-26l-4 -1v-15l-5 -10l-6 -20l-4 -25l-4 -13zM674 11l1 -1l1 1l-1 1zM673 5l1 1v79l-1 1l-1 -1v-79zM354 0v382h13l1 -2l2 2h22v-97l4 -6l1 1v102h382l-1 -169l-7 -19v-84l-4 -4v-27l-6 -6v-45l-3 -3v208l-1 1l-6 -13v-203l-15 -18h-53l48 34l8 7v182l-1 1l-7 -12v-71l3 -3v-72l-3 -6l-57 -60h-15l-6 76l-2 2v92l-2 1l-9 -6v-55l-6 -1v7l-1 1l-3 -1v42l-1 1l-6 -3v28l-1 1l-5 -3l-2 3l-1 -1v-84l-11 -12l-8 -17l-43 -51l-12 23v4l42 49l14 14v45l-7 9v50l-4 7l-1 -1v-35l-9 17l-1 -1v-62l-4 4v26l-2 2v25l-7 13l-1 -1v-97l-9 -12v134l-2 4h-46v44l-1 1h-47l-5 -8v-204l-10 -9v-51l-9 -1l-1 -9h-8v90l-1 1l-4 -2v36l1 1v10l-1 1l-9 -10v-127h-11v191l-1 1l-4 -5v-187h-16v71l-1 1l-3 -1v28l-1 1l-4 -3v-97zM122 0l-10 14v43l-3 5l-1 7l-4 7l2 10l5 5v291h28v-302l1 -1l1 1l1 65h3l1 -98l1 -1l5 9v126l3 3v198h95v-153l3 -2l3 1v148l6 2l2 4h16v-26l5 -6l1 1v31h63v-382zM0 0v382h42v-382h-15v208l-1 1l-6 -1v-208z"/>
<path fill="#0030ff" stroke="#0030ff" d="M27 360v22h5v-22zM739 356v26h6zM155 354v28h3v-28zM722 318v64h9v-31zM189 318v64h8v-59zM165 263v119h8v-119zM354 184v78l9 -10v-58zM14 175v207h6v-207zM397 163v183l7 7v-127l2 -6l-2 -3v-45zM376 154v163l6 -2v-73l4 -7l5 -16l-9 -13v-46zM608 94v36l-6 6v56l-6 11v88l-7 11v12l-4 4l-1 -6l-9 10l-1 -1v-110l-6 14v104l-7 7l-1 -8v3l-9 11v5l-2 2h-46v33h214v-176l-9 -11v159l-1 1l-9 -26v-44l-6 -14v-164l-7 -1v117l-1 1l-6 -6v11l-1 1l-3 -4v14l-1 1l-6 -7v24l-1 1l-5 -5v-30l-3 -2l-1 6l-6 -6v99l-1 1l-10 -20v-72l-5 -5h-1l-1 7l-3 -3v47l-1 1l-2 -2l-4 -8v47l-1 1l-4 -8l-4 -3v-204zM422 90v292h8v-284zM747 84v298h4v-294zM140 27v30l-9 22l-20 20l5 5l15 -12l9 -13l1 1l1 65h3l1 -100l-2 -3zM306 0h-32l6 8l5 12l1 22l14 12v22l-1 1l-8 -7l-2 -7l-2 -2l-1 1v18l-2 1l-4 -4v-14l-7 -4l-1 -3l-8 10v13l-8 8v13l-5 4l-1 -1v-37l-6 7v12l-3 3l-2 -1v-14l-3 3l-1 -1v-43l-2 -1l-1 1v60l-4 4l-1 -8l-3 3v7l-18 14l-1 -6l-7 6l-1 -1v-12l-8 7v25l-1 1l1 3v112l8 5v-30l1 -1l7 10v-13l1 -1l10 12v3l8 3v13l3 -1v-14l1 -1l4 1v149h7v-65l-2 20l-1 1l-1 -1v-89l4 -2v-19l1 -1l4 1v11l6 -3v-33l1 -1l5 1v9l7 -2l1 1v8l8 -4l1 -2l7 -1v-6l2 -2l4 1v178h4v-171l9 -3l1 1v173h6v-178l9 -5l1 9l3 -2v-6l5 -5l1 1v48l5 -1v-45l5 -9l1 1v107l2 -1l2 1v74l9 -8v-280l-9 -24v33l-1 1l-3 -8v62l-1 1l-1 -1l-1 -16l-3 -8v-31l-5 -10v35l-1 1l-5 -10v-11l-3 -5v11l-1 1l-9 -13z"/>
<path fill="#0050ff" stroke="#0050ff" d="M685 267v115h7v-98zM614 179l-6 10v61l-6 14v37l-6 7v31l-1 1l-6 -1v10l-1 1l-4 -1v-7l-9 3l-1 -1v-20l-6 7v14l-7 5l-1 -7l-9 8v5l-2 2h-46v24h111zM250 97l-6 5v11l-4 3l-1 -1v-15l-3 2l-1 -5l-3 3v16l-4 3l-1 -9l-3 2v7l-5 3l-7 9l1 14l3 12v13l3 14l5 10v15l3 1v-14l1 -1l4 3v23h3v-6l4 -1v-18l1 -1l4 2v11h6zM287 61l-1 1v64l-1 1l-5 -7v-14l-8 -10l-8 6v13l-3 3l-5 2v66l7 1l1 8h4l11 -5l1 -8l5 -3l1 1v37h4v-32l8 -7l2 1v33l6 -1v-134l-6 -6v60l-1 1l-9 -14v-52zM140 27v30l-9 22l-20 20l5 5l15 -12l9 -13l1 1l1 65h3l1 -100l-2 -3z"/>
<path fill="#0070ff" stroke="#0070ff" d="M589 376v6h3zM584 373l-10 -7v-20l-6 2v14l-1 1h-6l-1 -7l-8 4l-2 6h-47v16h82zM614 295l-6 5v44l-1 1l-5 -6v25l-1 1l-5 -8v25h18zM250 128l-6 3v8l4 8l2 8zM300 126v55l5 -5l-2 -44zM232 124v48l3 7v-25l1 -1l3 7v-33l-3 1l-1 -5zM286 101v92l4 -2v-85zM140 27v30l-9 22l-20 20l5 5l15 -12l9 -13l1 1l1 65h3l1 -100l-2 -3z"/>
<path fill="#008fff" stroke="#008fff" d="M574 367l-6 -2v14l-1 1l-7 -4v-7h-7l-2 1l-1 4h-47v8h71zM140 27v30l-9 22l-20 20l5 5l15 -12l9 -13l1 1l1 65h3l1 -100l-2 -3z"/>
<path fill="#00afff" stroke="#00afff" d="M551 379v3h9zM140 27v30l-9 22l-20 20l5 5l15 -12l9 -13l1 1l1 65h3l1 -100l-2 -3z"/>
<path fill="#00cfff" stroke="#00cfff" d="M140 27v30l-9 22l-20 20l5 5l15 -12l9 -13l1 1l1 65h3l1 -100l-2 -3z"/>
<path fill="#08efef" stroke="#08efef" d="M140 27v30l-9 22l-20 20l5 5l15 -12l9 -13l1 1l1 65h3l1 -100l-2 -3z"/>
<path fill="#21ffd5" stroke="#21ffd5" d="M140 27v30l-9 22l-20 20l5 5l15 -12l9 -13l1 1l1 65h3l1 -100l-2 -3z"/>
<path fill="#3bffbc" stroke="#3bffbc" d="M140 27v30l-9 22l-20 20l5 5l18 -15l6 -10l1 1v12l5 -5v-42l-2 -3z"/>
<path fill="#55ffa2" stroke="#55ffa2" d="M140 27v30l-9 22l-20 20l5 5l18 -15l6 -10l1 1v12l5 -5v-42l-2 -3z"/>
<path fill="#6fff88" stroke="#6fff88" d="M140 27v30l-9 22l-20 20l5 5l18 -15l6 -10l1 1v12l5 -5v-42l-2 -3z"/>
<path fill="#88ff6f" stroke="#88ff6f" d="M140 27v30l-9 22l-20 20l5 5l18 -15l6 -10l1 1v12l5 -5v-42l-2 -3z"/>
<path fill="#a2ff55" stroke="#a2ff55" d="M140 27v30l-9 22l-20 20l5 5l18 -15l6 -10l1 1v12l5 -5v-42l-2 -3z"/>
<path fill="#bcff3b" stroke="#bcff3b" d="M140 27v30l-9 22l-20 20l5 5l18 -15l6 -10l1 1v12l5 -5v-42l-2 -3z"/>
<path fill="#d5ff21" stroke="#d5ff21" d="M140 27v30l-9 22l-20 20l5 5l18 -15l6 -10l1 1v12l5 -5v-42l-2 -3z"/>
<path fill="#effe08" stroke="#effe08" d="M142 34v23l-3 1l-9 22v12l4 -3l4 -6l2 -8l1 1v16l5 -5v-42z"/>
<path fill="#ffe100" stroke="#ffe100" d="M142 34v23l-2 1l1 34l5 -5v-42z"/>
<path fill="#ffc300" stroke="#ffc300" d="M142 34v23l-2 1l1 34l5 -5v-42z"/>
<path fill="#ffa600" stroke="#ffa600" d="M142 34v23l-2 1l1 34l5 -5v-42z"/>
<path fill="#ff8800" stroke="#ff8800" d="M142 34v23l-2 1l1 34l5 -5v-42z"/>
<path fill="#ff6b00" stroke="#ff6b00" d="M142 34v23l-2 1l1 34l5 -5v-42z"/>
<path fill="#ff4d00" stroke="#ff4d00" d="M142 34v23l-2 1l1 34l5 -5v-42z"/>
<path fill="#ff3000" stroke="#ff3000" d="M142 34v23l-2 1l1 34l5 -5v-42z"/>
<path fill="#fe1200" stroke="#fe1200" d="M142 34v23l-2 1l1 34l5 -5v-42z"/>
<path fill="#da0000" stroke="#da0000" d="M142 34v23l-2 1l1 34l5 -5v-42z"/>
<path fill="#ffffff" stroke="#ffffff" d="M0 0v3h14l1 1v103h3v-103l1 -1h14l1 1v140h3v-71l1 -1h8l1 1v58h3v-127l1 -1h13l1 1v101h8v-48l1 -1h17l1 1v30h6l1 1v76h3v-69l1 -1h10v-10l1 -1h8v-10l1 -1h8v-15l1 -1h16l1 1v127h5v-131l1 -1h7l1 1v21h7l1 1v12h8l1 1v114h6v-118l1 -1h5l1 1v3h6l1 1v12h6v-43l1 -1h8v-32l1 -1h12l1 1v10h8v-19l1 -1h7l1 1v15h4l1 1v12h3l1 1v12h4v-12l1 -1h3v-15l1 -1h4l1 1v24h5l1 1v5h6l1 1v6h5l1 1v3h4v-12l1 -1h8v-52l1 -1h111l1 1v123h4v-123l1 -1h36l1 1v378h92v-245l1 -1h17l1 1v34h5v-26l1 -1h6v-16l1 -1h5v-12l1 -1h13v-11l1 -1h16v-7l1 -1h8v-13l1 -1h8l1 1v13h26l1 1v7h7v-18l1 -1h21l1 1v23h4v-26l1 -1h8v-3l1 -1h16v-10l1 -1h8l1 1v74h4v-87l1 -1h12v-17l1 -1h17v-14l1 -1h11v-19z"/>
</g></g>
<g transform="translate(615.40 961.46) scale(0.5)" clip-path="url(#cp)"><g filter="url(#bl)">
<path fill="#008fff" stroke="#008fff" d="M0 0v382h779v-382z"/>
<path fill="#00afff" stroke="#00afff" d="M0 0v382h779v-382h-16l-10 34l-38 114l-20 28l-28 29h-56l-1 -1v-15l-6 -6l-4 -8l-4 -12l-8 -36l-18 -127h-200l-54 163l-14 29l-20 22v16l-1 1h-53l-27 -27l-2 -56l8 -15l13 -19l47 -53l44 -61z"/>
<path fill="#00cfff" stroke="#00cfff" d="M0 0v382h779v-382h-16l-10 34l-38 114l-20 28l-56 57v11l-1 1h-27l-1 -1v-55l-6 -6l-4 -8l-8 -28l-8 -44l-14 -103h-200l-56 168l-14 27l-18 19v23l-1 1h-46l-34 -34l-2 -56l8 -15l13 -19l47 -53l44 -61z"/>
<path fill="#08efef" stroke="#08efef" d="M476 242l12 17l10 20l7 26l1 24l-1 1h-105l-1 -1v-10zM0 0v382h779v-382h-16l-10 34l-38 114l-20 28l-56 57v30l-1 1h-27l-1 -1v-74l-6 -6l-4 -8l-8 -28l-8 -44l-14 -103h-200l-56 168l-14 27l-18 19v30l-1 1h-39l-41 -41l-2 -56l8 -15l13 -19l47 -53l44 -61z"/>
<path fill="#21ffd5" stroke="#21ffd5" d="M103 230h28l1 1v43l-1 1h-28l-1 -1v-43zM433 129l4 6l29 67l6 18l4 22l12 17l10 20l4 12l3 14v13l1 1v27l-1 1h-105l-1 -1v-27l45 -45h-82l-1 -1v-10l21 -22l11 -18zM0 0v109l22 32l27 28l7 12l3 14v8l-17 17v26l-1 1h-41v135h779v-382h-16l-10 34l-38 114l-20 28l-56 57v49l-1 1h-27l-1 -1v-37h-27l-1 -1v-50l-8 -8l-4 -8l-10 -34l-26 -144h-164l-56 168l-14 27l-18 19v51l-1 1h-37l-1 -1v-19l-42 -42l-2 -56l8 -15l13 -19l47 -53l44 -61z"/>
<path fill="#3bffbc" stroke="#3bffbc" d="M0 251v131h281v-66h-37l-1 -1v-28h-83v25l-1 1h-27l-1 -2h-28l-1 -8h-27v12l-1 1h-32l-1 -1v-64zM779 300h-27l-1 -1v-67l-13 -13l-7 -13l-11 -31l-6 -26l-19 27l-56 57v56l-1 1h-27l-1 5h-27l-1 -1v-27h-90l6 12l7 26v13l1 1v42l-1 1h-105l-1 -1v-42l21 -21h-58v12l-1 1h-40v71h458zM420 0h-50l-56 168l-14 27l-18 19v64h38v-31l41 -42l69 -86l-9 -118zM0 78l46 23l17 11l12 10l28 28v57h28l1 1v49h27v-10l42 -42l-2 -57l8 -15l17 -24l43 -48l44 -61h-311z"/>
<path fill="#55ffa2" stroke="#55ffa2" d="M0 255v127h243v-48h-83l-1 2h-27l-1 6h-28l-1 8h-27l-1 5h-32l-1 -1v-99zM199 150l-11 5l-21 14l-35 35v46h27v-3l42 -42zM779 306h-27l-1 -1v-73l-13 -13l-7 -13l-11 -31l-6 -26l-19 27l-56 57v61l-1 1h-27v36l-1 1h-27l-1 -1v-51h-84l7 25v13l1 1v57l-1 1h-105l-1 -1v-57l5 -5h-42v10l-1 1h-40v57h458zM420 0h-50l-56 168l-14 27l-18 19v55h38v-22l41 -42l69 -86l-9 -118z"/>
<path fill="#6fff88" stroke="#6fff88" d="M159 360h-27v11l-1 1h-28v10h56zM399 325h-37v12l-1 1h-40v44h78zM0 260v122h41v-122zM199 150l-11 5l-21 14l-35 35v23h47l22 -22zM714 149l-19 27l-56 57v66l-1 1h-27v69l-1 1h-27l-1 -1v-75h-80l3 11v13l1 1v63h273v-71h-27l-1 -1v-78l-13 -13l-7 -13l-11 -31zM420 0h-50l-56 168l-14 27l-18 19v27h44l35 -36l69 -86l-9 -118z"/>
<path fill="#88ff6f" stroke="#88ff6f" d="M399 335h-37v16l-1 1h-40v30h78zM505 308l1 74h76v-74zM0 264v99h41v-99zM714 149l-19 27l-56 57v71l-1 1h-27v77h168v-65h-27l-1 -1v-84l-13 -13l-7 -13l-11 -31z"/>
<path fill="#a2ff55" stroke="#a2ff55" d="M399 346h-37v24l-1 1h-40v11h78zM611 309v73h168v-60h-27l-1 -1v-41h-112v28l-1 1zM0 273v61h41v-61z"/>
<path fill="#bcff3b" stroke="#bcff3b" d="M362 365v17h37v-17zM752 328v54h27v-54zM611 314v40h27v-40zM0 281v22h41v-22z"/>
<path fill="#d5ff21" stroke="#d5ff21" d="M752 333v49h27v-49z"/>
<path fill="#ffffff" stroke="#ffffff" d="M0 0v194h41l1 1v24h32v-68l1 -1h27v-56l1 -1h28l1 1v109h27l1 1v42h83v-45l1 -1h37l1 1v12h38l1 1v32h40l1 1v15h37l1 1v55h55l1 1v59l-1 1h-455v3h779v-3h-224l-1 -1v-183l1 -1h27v-4l1 -1h27v-3l1 -1h27l1 1v46h112v-8l1 -1h27v-223z"/>
</g></g>
<g transform="translate(615.40 1191.80) scale(0.5)" clip-path="url(#cp)"><g filter="url(#bl)">
<path fill="#ff0000" stroke="#ff0000" d="M0 0v382h779v-382z"/>
<path fill="#ffa500" stroke="#ffa500" d="M130 0h-16v95l-10 6l10 7l16 -13z"/>
<path fill="#0000ff" stroke="#0000ff" d="M769 0v226l5 13l5 7v-246z"/>
<path fill="#ffffff" stroke="#ffffff" d="M0 0v196h41l1 1v23h32v-67l1 -1h27v-57l1 -1h28l1 1v110h27l1 1v41h83v-45l1 -1h37l1 1v12h38l1 1v32h40l1 1v15h37l1 1v55h55l1 1v55l-1 1h-455v6h779v-6h-224l-1 -1v-178l1 -1h27v-5l1 -1h27v-3l1 -1h27l1 1v46h112v-7l1 -1h27v-225z"/>
</g></g>
<g transform="translate(1105.00 40.10) scale(0.5)" clip-path="url(#cp)"><g filter="url(#bl)">
<path fill="#0000da" stroke="#0000da" d="M0 0v382h779v-382z"/>
<path fill="#0000fe" stroke="#0000fe" d="M326 47l16 44v7l-2 3v12l-5 5h-4l-6 -6v-64zM0 0v382h779v-382h-264v178l-1 1l-7 -5v-174h-384l-32 38l-36 24l-22 22l-2 10h-6l-2 -2v-38l11 -10l78 -44z"/>
<path fill="#0010ff" stroke="#0010ff" d="M629 73l20 28l9 9v88l-1 1l-1 -1l-1 -27l-3 -17l-2 -5h-2l1 1v11l-1 1l-4 -6l1 -30l-4 -6l-9 -9l-6 -26v-7zM251 74l2 -1l58 28l9 8v11l-1 1h-56l-4 -6zM326 47l16 44v7l-2 3v12l-7 7v24l-1 1l-7 -8v-89zM666 14l1 1v156l-1 1l-1 -1v-156zM0 0v382h779v-382h-102l-5 7l-6 5l-67 26l-12 6l-9 9l-1 8l-1 40l-1 1l-1 40l-1 1v29l-1 4l-3 1l-3 5l-1 -1v-52l-7 4v62l-11 17l-1 -1v-198l13 -13h-31v193l-1 1l-12 -14l-12 -7v-173h-13v153l-1 1l-2 -15l-4 -11v-21v30l-1 1l-6 -6l-1 -3v-10l-3 -20v-54l-5 -19l4 -4l1 -5l-6 -1v-16h-343l-32 38l-36 24l-17 17v25l-2 14l-5 8l-3 9v11l-4 2l-1 -1v-93l11 -10l78 -44z"/>
<path fill="#0030ff" stroke="#0030ff" d="M0 200v182h779v-382h-69l-18 97l-6 15v6l2 7l-3 10l-9 9l-5 51v16l-4 2l-2 -1l-7 2l-1 2l-3 1l-4 -2l-1 -14v10l-1 1l-1 -1v-5l-3 -11l-2 -35l-1 -1v-7l4 -5l-5 -1v-27l-8 -8l-6 -26l1 -9l-22 7l-12 6l-8 8h-2v12l-5 50v16l-10 5l-10 15l-3 7l-8 11l-1 -1v-162l-9 -6v107l-1 1l-4 -3v48l-1 1l-3 -3l-1 1l-12 -15l-1 1l-2 -3l-8 -4l-1 -2l-6 -3l-7 -2l-2 1l-4 -2l-1 -9v3l-1 1l-1 -1v-3l-5 -12l-4 -4v-3l-4 -2l-2 -3l-2 -134h-151l13 47l16 44v7l-2 3v12l-4 4v28l-1 1l-2 -2v-3l-1 5l-7 -5v-18l-5 -4v12l-1 1l-3 -4h-49l-3 -3l-5 -10l-8 -43l-25 -72h-103l-32 38l-32 21l-11 10v36l-1 1l-1 -1v-34l-5 5v21l-3 17v9l-2 4v18l-8 2l-4 5l-1 -5l-1 1l-1 28l-10 36l-1 1l-3 -1l-1 -9z"/>
<path fill="#0050ff" stroke="#0050ff" d="M0 209v173h779v-382h-69l-18 97l-6 15v6l2 7l-3 10l-8 8l-1 68l-10 4l-2 -1l-6 2l-1 2l-6 1l-3 2h-3l-2 -2l-1 -6v-11l-2 -13v-34l-2 -14v-24l-6 -6l-6 -26l1 -9l-22 7l-12 6l-9 9v75l-2 4l-13 3l-22 34l-6 -12l-10 -2l-3 -3l-1 1l-6 -7l-1 -3l-8 -8l-4 -1l-7 -6l-5 -2l-1 1l-3 -2l-3 1l-8 -2l-4 -3l-3 -10l-2 -2v-3l-6 -8l-2 -10l-1 -133h-150l13 47l16 44v7l-2 3v12l-2 2l-1 8v21l-2 3l-2 -1l-1 2l-7 -5v-4l-4 -4l-1 -3l-1 6l-3 -3h-45l-3 -2l-9 -18l-8 -43l-25 -72h-103l-30 36l-12 29l-15 28l-1 5l-12 10v12l-3 2l-6 -1l-6 2l-1 21l-2 3l-7 2l-4 6l-1 -3l-1 3l-1 24l-10 36l-3 2z"/>
<path fill="#0070ff" stroke="#0070ff" d="M0 217v165h779v-382h-69l-18 97l-6 15v6l2 7l-3 10l4 6v6l-2 2l-2 22l-1 1l-1 -1v-10l-5 33l-1 17l-4 3l-10 2l-5 2l-1 2l-11 4l-6 -7v-18l-3 -27l-2 -42l-9 -1l1 -7l5 -9l-1 -9l-5 -19l1 -9l-22 7l-12 6l-4 4v19l-1 1l-4 64l-3 2l-11 2l-23 35l-1 -3l-4 -2l-2 -5l-13 -7l-15 -18l-4 -1l-5 -5l-5 -2h-4l-3 -2l-2 1l-10 -1l-7 -5v-4l-6 -9l-3 -14v-48l-1 -1l-2 -90h-102v89l-3 4l-1 -1l-1 1h-11v5l-2 3v13l3 4v5l-5 4l-1 19l-2 3l-2 -2l-1 3l-6 -3l-1 -5l-5 -4l-1 4l-3 -2h-34l-14 -7l-9 -18l-8 -43l-25 -72h-103l-30 36l-12 29l-15 28l-1 8l2 9l-11 11l-12 1l-6 4l-1 20l-9 5v2l-4 5l-1 -2l-2 27l-10 36l-3 2l-1 -2z"/>
<path fill="#008fff" stroke="#008fff" d="M0 224v158h779v-382h-69l-18 97l-6 15v6l2 7l-3 10l4 6v5l3 3v4l-2 7l-5 48l-1 1l-1 -1v-9v6l-2 7h-3l-12 6l-1 -1l-7 3l-1 2l-11 4l-3 -2l-6 -9l-4 -61l-2 -2l-3 3l-1 4l-2 -4l1 -30l6 -12l-6 -31l-13 15l-12 6l-7 7v17l-5 48l-6 5l-14 3l-22 34l-10 -10l-5 -2l-4 -5l-1 1l-15 -19l-4 -1l-6 -5l-10 -3l-10 1l-8 -2l-6 -6l-5 -17v-13l-2 -14l-4 -122v44l-1 1l-8 -8l-12 -8l-20 -8l-38 -10l-10 -11h-5v92l-5 1l-3 5l-1 -1h-12l-2 4v13l3 4v5l-4 5l-2 20l-2 2l-2 -1l-1 3l-5 -2l-2 -2v-3l-4 -3l-2 4l-28 -1l-23 -12l-9 -18l-8 -43l-25 -72h-103l-30 36l-12 29l-15 28l-1 8l2 9l-12 12l-11 1l-4 2l-2 4v16l-4 5l-5 2l-4 7l-2 1l-2 27l-10 36l-2 2z"/>
<path fill="#00afff" stroke="#00afff" d="M0 232v150h779v-382h-69l-18 97l-6 15v6l2 6l11 9l-3 30l-2 3l-4 33l-5 11l-3 3l-6 1l-1 2l-11 3l-6 3l-1 2l-8 2l-2 2l-4 -2l-3 -6l-7 -8v-36l-5 -21v51l-1 1l-2 -3l-7 -24v-28l8 -8v-19l6 -12l-6 -31l-11 13l-6 15l-11 11l-1 29l-3 26l-10 4l-1 2l-13 2l-23 34l-1 -2l-8 -4l-6 -5l-4 -5l-1 1l-11 -16l-10 -7h-2l-2 -3l-11 -3l-9 2h-8l-2 -2h-3l-3 -3l-3 -11v-12l-3 -13l-3 -74v29l-1 1l-1 -1l-2 -48l-10 -9l-7 -4l-20 -8l-38 -10l-10 -11h-5v92l-8 10l-1 -1l-4 1v4l-3 4h-7v4l3 4v5l-2 2l-2 20l-4 7l-1 -1l-2 2l-6 -1l-1 -4l-3 -2h-2v3l-4 2h-17l-9 -7l-21 -10l-9 -16l-9 -46l-25 -72h-103l-30 36l-12 29l-15 28l-1 8l2 9l-9 9l-1 3l-9 2l-2 -1l-6 4l-2 4v15l-4 5l-6 4l-3 7l-2 1v14l-2 14l-10 36l-2 2l-2 -1z"/>
<path fill="#00cfff" stroke="#00cfff" d="M365 93l1 1l-1 5l-1 -1zM0 240v142h779v-382h-69l-1 10l-18 91l11 12v38l-5 35l-12 25l-3 3l-5 1l-11 6l-1 -1l-7 4l-1 2l-5 1l-7 4l-5 -7v-2l-7 -8v-2l-5 -4v-2l-1 3l-9 -8v-49l8 -8v-10h-8l-3 -9l-2 -2v-23l-4 10l-5 5l-7 63l-6 3h-5l-5 3l-12 2l-22 33l-1 -2l-9 -4l-9 -9l-1 1l-12 -18l-11 -6l-1 -2l-10 -3l-26 1l-2 -2l-2 -6v-10l-5 -24l-1 -31v18l-1 1l-1 -1l-3 -57l-2 -11v-15l-14 -10l-20 -8l-38 -10l-10 -11v91l-5 1v5l-8 10l-1 -2l-7 8h-7l3 5v5l-3 13v8l-3 7l-2 2l-2 -1l-1 3h-4l-3 -2v-3l-5 -1v4l-4 3h-11l-15 -12l-21 -10l-9 -16l-9 -46l-25 -72h-103l-30 36l-12 29l-15 28l-1 8l2 9l-8 8l-1 4l-11 3l-1 -1l-5 3l-2 4l-1 17l-10 8l-5 10v15l-2 14l-10 35l-3 4l-2 -1z"/>
<path fill="#08efef" stroke="#08efef" d="M0 247v135h779v-382h-69l-1 10l-18 91l14 15l-3 28v33l-18 37l-7 2l-3 3l-8 4l-1 -1l-6 3l-2 3l-7 2l-4 3l-2 -1l-5 -9l-6 -7v-2l-5 -4l-1 1l-9 -8v-22l-3 -10l-2 -2l-6 -21v11l-1 1l-1 -3l-1 2l-2 18l-6 6h-11l-5 3l-10 1l-23 34l-2 -3l-11 -5l-6 -7l-1 1l-10 -16l-6 -6l-7 -3l-1 -2l-12 -3l-9 2h-15l-3 -2l-5 -22l-2 -20v9l-1 1l-1 -1l-3 -46l-4 -21v-40l-12 -8l-20 -8l-38 -10l-7 -7v86l-3 13l-3 4l-1 -6l-1 3l-7 6h-3l-6 6h-5l1 14l-2 6v6l-6 13l-2 -1l-1 3h-6l-1 -4h-5v4l-3 3h-8l-19 -16l-21 -10l-9 -16l-9 -46l-25 -72h-103l-30 36l-12 29l-15 28l-1 8l2 9l-7 7l-1 5l-14 3l-5 6v14l-2 4l-10 8l-3 7v11l-2 4l-1 14l-11 41l-3 4l-1 -1l-4 4z"/>
<path fill="#21ffd5" stroke="#21ffd5" d="M373 106l1 -1l1 1l-1 1zM0 253v129h779v-382h-69v124l-2 11l-1 1l-1 -1v-3l-4 47l-18 36l-8 3l-9 6h-3l-8 6l-10 5l-3 -2l-4 -8l-6 -7v-2l-5 -4l-1 1l-8 -7l-1 -5l-19 -15l-5 1l-10 -2l-1 2l-14 2l-22 33l-2 -3l-12 -5l-8 -8l-9 -15l-5 -5l-6 -2l-3 -3l-9 -2l-4 1h-22l-2 -1l-6 -12l-2 -16v10l-1 1l-1 -1l-3 -38l-4 -18v-42h-15l-14 -8l-16 -6h-3l-23 -39l-4 -4v94l-1 5l-7 5l-1 -3l-5 4l-6 1l-6 7h-4l2 8l-2 4l-2 15l-4 8l-4 2l-1 3l-6 1l-1 -4l-5 1l-1 4l-8 1l-15 -14l-15 -9l-12 -5l-9 -16l-9 -46l-25 -72h-103l-30 36l-12 29l-15 28l-1 8l2 9l-5 5v6l-17 5l-4 4l-1 16l-4 7l-8 6l-3 7v15l-2 3l-1 13l-11 41l-6 5z"/>
<path fill="#3bffbc" stroke="#3bffbc" d="M0 260v122h779v-382h-67v129l-2 6l-2 18l-1 1l-1 -3l-2 25l-19 39l-2 2l-7 2l-1 2l-9 5l-1 -1l-18 12l-4 -2l-4 -8l-6 -7v-2l-5 -4l-1 1l-9 -9v-3l-14 -12l-11 -1l-8 -3l-2 2l-13 1l-6 7l-6 11l-11 15l-1 -2l-13 -5l-4 -4l-1 -3l-1 1l-11 -18l-5 -5l-7 -2l-2 -3l-11 -2l-9 2h-9l-9 -2l-4 -5l-3 -8l-1 4l-3 -6l-1 -17l-4 -19v-31l-3 -12l-1 -14l-13 -11l-17 -8l-14 -4l1 5l-11 39l-7 4l-7 7l-2 5l-2 -1l-7 4l-1 -2l-5 3l-6 1l-6 7h-4l2 3v7l-2 4l-2 13l-6 10l-2 -1l-1 4l-5 1l-2 -1v-3l-5 2v2l-3 2h-4l-4 -4l-1 8l-1 -10v9l-2 9v131l-1 1l-1 -1v-153l-13 -10l-21 -10l-9 -16l-9 -46l-25 -72h-103l-30 36l-12 29l-15 28l-1 8l2 9l4 7l-1 3l-2 2h-8l-13 5l-1 -1l-5 6v14l-4 7l-9 7l-2 5l-1 21l-2 2l-1 13l-3 7l-8 33l-7 8z"/>
<path fill="#55ffa2" stroke="#55ffa2" d="M297 192v190h6v-20l-3 -26l-1 -55l-1 -1l2 -85zM779 0h-64v123l-3 9v11l-2 6l-2 22l-1 1l-1 -1v5l-4 5v3l-17 32l-40 24l-12 -18v-2l-4 -4l-2 1l-9 -9v-3l-7 -7l-10 -6h-6l-10 -3l-5 2l-11 1l-22 33l-1 -3l-14 -5l-11 -14l-6 -11l-4 -4h-3l-4 -2l-1 -2l-6 -2l-2 1l-1 -1h-11l-1 1l-18 -1l-6 -6l-1 -4l-1 3l-6 -9l-2 -12v-31l-7 -35v-19l-10 -8l-12 -6l-16 -6h-3l1 5l-11 39l-7 4l-7 7v5l-2 2l-1 -1l-8 4l-1 -2l-8 4l-2 -1l-6 8l-3 1l1 4l-3 16l-6 13l-4 2l-1 3l-6 1l-1 -2l-5 1l-1 3l-7 3l-4 7l-1 -1l-1 7l-1 201h474zM123 0l-30 36l-12 29l-15 28l-1 8l2 9l4 7l-1 3l-2 2h-6l-16 5l-4 4v14l-4 8l-10 8l-2 5v16l-4 21l-2 3l-9 38l-2 4l-3 2l-6 16v116h287l1 -1v-27l3 -30l1 -61l1 -1l1 -37l1 -1v-34l-7 -5l-15 -6l-3 -3l-1 -4v-38l-10 -19l-8 -43l-25 -72z"/>
<path fill="#6fff88" stroke="#6fff88" d="M779 46l-6 14l-55 62l-6 22v12l-2 7l-1 13l-3 2l-4 6v3l-17 30l-27 16l-2 3l-7 3l-3 3l-6 -7v-2l-7 -9v-2l-5 -5l-1 2l-9 -9v-3l-11 -11l-4 -2l-11 -1l-6 -2l-16 2l-6 7l-10 18l-2 1l-5 8l-2 -4l-13 -5l-4 -6l-3 -2l-10 -17l-3 -3l-8 -3l-1 -2l-7 -2l-1 1l-1 -1l-29 1l-2 -3l-6 -4l-1 2l-4 -7l-4 -3v-22l-7 -35v-10l-3 -15l-9 -8l-18 -9l-11 -15l-10 38l-7 4l-7 7v7l-2 3l-1 -2l-8 4l-1 -2l-8 4l-2 -1l-3 3l-6 13l-2 14l-6 12l-4 2l-2 3l-5 1l-1 -3l-5 2l-1 3l-8 5l-2 9l-2 2l-1 199h473zM123 0l-30 36l-12 29l-15 28l-1 8l2 9l4 7l-2 5l-19 4l-7 5v14l-5 9l-4 2l-7 9l-2 32l-2 1v5l-3 5l-9 39l-6 9l-5 16v110h284l1 -69l3 -29v-27l3 -25v-16l-9 -8l-13 -7v-14l2 -9l-2 -6v-38l-10 -19l-8 -43l-25 -72z"/>
<path fill="#88ff6f" stroke="#88ff6f" d="M779 46l-6 14l-50 57v4l-4 7l-5 18l-3 29l-2 4l-7 7v3l-16 28l-4 4l-6 2l-1 2l-29 18l-5 -4l-1 -4l-7 -9v-2l-5 -5l-1 2l-9 -9v-4l-14 -12l-11 -1l-5 -2l-18 2l-8 10l-5 11l-10 14l-1 -5l-14 -6l-7 -8l-13 -20l-8 -3l-1 -2l-7 -2l-1 1l-1 -1h-10l-17 2l-3 -1l-7 -6l-1 2l-8 -7v-5l-2 -3v-6l-5 -24v-11l-7 -34v-8l-10 -7l-13 -6l-11 -15l-10 38l-7 4l-7 7l-1 11l-1 1l-1 -2l-7 4l-2 -2l-9 4l-1 -1l-3 3l-6 14v6l-3 10l-4 7l-3 3h-2l-1 3l-5 1l-2 -2l-4 1l-1 3l-8 6l-3 8v5l-2 5v190h472zM123 0l-30 36l-12 29l-15 28l-1 8l2 9l4 7l-2 5l-15 3l-8 4l-3 3v14l-3 6l-11 10l-2 5v17l-2 18l-2 1l-4 10l-8 38l-2 4l-2 1l-3 7l-4 16v103h284v-113l1 -5l-2 -2l-1 -8l-3 -3l-1 -5l9 -1l1 -32l-6 -5l-13 -7v-14l2 -9l-2 -6v-38l-10 -19l-8 -43l-25 -72z"/>
<path fill="#a2ff55" stroke="#a2ff55" d="M425 133l3 2v18l-1 1l-5 -13v-5zM779 46l-6 14l-47 53l-1 10l-6 14l-4 15l-3 17v8l-10 12v3l-16 26l-4 4l-6 2l-10 9l-1 -1l-19 12h-2l-3 -3l-3 -7l-5 -6v-2l-5 -5l-1 1l-9 -9v-3l-8 -8l-8 -5l-5 -1l-2 1l-11 -3l-1 2h-7l-7 2l-22 35l-1 -5l-4 -4l-9 -3l-7 -7l-14 -22l-8 -3l-1 -2l-9 -2l-29 2l-3 -3l-5 -2l-1 2l-5 -4h-2l-1 -6l-6 -7l-1 -18l-8 -41l-8 -1v-9l-2 -8l-7 -10l-4 -9l-12 -16l-10 38l-7 4l-6 6l-1 13l-2 2l-2 -1l-6 3l-2 -2l-9 4l-1 -1l-6 9l-3 9l-1 10l-4 9l-8 8l-6 1l-1 -2l-4 2l-9 10l-3 11v92l-1 1l-1 101h472zM123 0l-30 36l-12 29l-15 28l-1 8l2 9l4 7l-2 5l-2 2l-12 1l-11 7v14l-3 6l-13 13l-2 35l-1 4l-2 1l-3 6l-9 43l-7 13l-4 18v97h282l2 -119l-2 -9l-3 -3l-1 -7l-6 -8l-1 -15l-2 -5v-29l2 -9l-2 -6v-38l-10 -19l-8 -43l-25 -72z"/>
<path fill="#bcff3b" stroke="#bcff3b" d="M779 46l-6 14l-47 53l-1 17l-7 19l-6 31l-3 5l-7 6l-1 5l-14 22l-5 5l-9 5l-6 6l-7 2l-3 3l-12 6h-3l-2 -2v-3l-7 -10v-2l-5 -5l-1 1l-9 -9v-3l-14 -13l-12 -1l-6 -2l-10 2l-2 2h-4l-3 5l-3 2l-8 16l-9 12l-1 -5l-5 -5l-11 -5l-18 -27l-8 -3l-1 -2l-9 -2l-16 2h-14l-1 -2h-3l-3 -2l-1 3l-3 -2h-4l-1 -6l-3 -1l-4 -4v-3l-2 -3l-2 -18l-4 -13l-5 -1v43l-1 1l-7 -21v-21l5 -5l-1 -40l-12 -22l-12 -16l-10 38l-7 4l-6 6l-1 15l-2 2l-2 -1l-6 3l-2 -2l-9 4l-1 -1l-2 2l-6 14l-3 15l-4 7l-7 6l-6 2l-2 -2l-4 2v2l-8 10l-3 12v189h258l2 -2l1 2h209zM123 0l-30 36l-12 29l-15 28l-1 8l2 9l4 7l-2 5l-2 2l-14 2l-7 4l-2 18l-2 4l-6 6l-3 1l-5 7v20l-2 18l-6 9l-9 44l-6 11l-5 21v93h280l3 -124l-1 -4l-3 -3l-1 -7l-6 -8l-1 -15l-2 -5v-29l2 -9l-2 -6v-38l-10 -19l-8 -43l-25 -72z"/>
<path fill="#d5ff21" stroke="#d5ff21" d="M779 46l-25 58l-26 24h-2v5l-5 18l-2 3l-3 18l-4 9v3l-10 10l-2 6l-16 23l-7 3l-8 8l-11 4l-1 2l-14 7h-2l-3 -4l-5 -13l-5 -5l-1 1l-9 -9v-3l-13 -13l-5 -1l-4 1l-8 -3h-4l-1 3l-14 2l-9 13l-3 8l-10 14l-3 -8l-4 -4l-8 -3l-6 -7l-10 -17l-5 -5l-9 -5l-9 -2l-13 2h-11l-2 4l-4 -5l-6 -1l-1 2l-7 1l-1 -6h-6l-6 -7l-8 -30v59l-1 1l-7 -22v-47l5 -5v-35l-2 -8l-7 -10l-4 -9l-12 -16l-10 38l-7 4l-6 6l-1 17l-2 2l-2 -1l-6 3l-2 -2l-10 3l-5 8l-4 13v5l-4 9l-9 8l-5 2l-4 -1l-3 2v2l-6 7l-4 12v190h197l7 -8l1 8h6l6 -10l1 10h20l4 -5v-21l5 -5l1 1v23l7 -8v-26l4 -5l1 1l1 45h208zM123 0l-30 36l-12 29l-15 28l-1 8l2 9l4 7l-3 7l-13 2l-9 5v14l-2 5l-15 15l-2 38l-3 7l-1 -1l-3 6l-9 45l-5 9l-6 23v90h278l3 -118l2 -2l-1 -8l-3 -3l-1 -7l-6 -8l-1 -15l-2 -5v-29l2 -9l-2 -6v-38l-10 -19l-8 -43l-25 -72z"/>
<path fill="#effe08" stroke="#effe08" d="M779 46l-25 58l-24 22l-1 10l-1 -8l-2 13l-7 22l-2 13l-7 14l-8 6v3l-19 26l-7 3l-6 7l-12 4l-1 2l-12 5l-4 5l-6 -6l-2 -13l-5 -5l-1 1l-9 -9v-4l-14 -13l-8 1l-12 -1l-1 5l-14 -1l-11 16v3l-11 16l-1 -5l-5 -7l-11 -7l-2 -4l-3 -2l-9 -16l-5 -5l-9 -5l-9 -2l-21 4l-2 5l-2 15l-4 3l-1 -1v-20l-6 -5v57l-2 10l-2 92l-4 3l-1 -1v-160v4l-6 13l-1 -1v-7l-4 7l-9 -33v150l-1 1l-1 -1l-2 -89l-1 -1v-15l-3 -8v-51l-2 -4l-4 -24v-56l-1 -2v59l-1 1l-1 -1l-3 -23v-43l-8 -11l-10 38l-7 4l-5 5l-2 21l-2 2l-1 -2l-7 3l-2 -2l-10 3l-5 8l-4 14v5l-4 8l-6 5h-2l-2 3l-5 2l-1 -2l-4 2l-9 15l-1 4l-1 191h193v-2l4 -4v-19l7 -7l1 1v26l5 -6v-18l3 -6l3 -14l2 1v48l2 -8v-21l1 -1l1 1v29h14v-45l6 -6v-20l5 -5l1 1v24l7 -8v-26l4 -4l2 12l-1 23l1 1l1 53h207zM123 0l-30 36l-12 29l-15 28l-1 8l2 9l4 7l-3 7l-15 3l-7 5l-1 18l-8 9h-2l-4 4l-2 4v18l-1 1l-1 20l-3 6l-1 -1l-3 5l-9 47l-5 9l-6 23v87h275l1 -43l2 -5l1 -68l4 -4l-1 -8l-3 -3l-1 -7l-6 -8l-1 -15l-2 -5v-29l2 -9l-2 -6v-38l-10 -19l-8 -43l-25 -72z"/>
<path fill="#ffe100" stroke="#ffe100" d="M428 200v182h20v-42l-6 3l-1 -1v-41l-3 3l-1 3l-1 -1l-3 -86zM401 55l-2 3l-9 35l-7 4l-5 5l-2 23l-2 2l-1 -2l-6 3h-2l-1 -2l-7 3l-3 -1l-7 16l-2 13l-2 4l-6 6l-4 1l-2 3l-4 2l-2 -1l-3 1l-2 2v3l-5 5l-3 7l-1 192h110v-10l-1 -1v-187l-5 -17l-2 -14v18l-1 1l-7 -23v-88zM779 46l-25 58l-22 20l-2 23l-1 1l-1 -1v-12l-1 10l-8 26v4l-9 18l-8 6l-3 7l-16 20l-5 2l-6 7l-14 5l-1 2l-12 5l-3 6l-7 6l-2 -1l-1 -25l-4 -4v32l-1 1l-1 -1l-3 -15l-5 -14v-15l-14 -13l-18 2l-2 1l-1 7l-6 -4l-8 -2l-10 15l-3 8l-4 4l-5 9l-1 -5l-5 -5l-2 -5l-10 -7l-14 -22l-4 -4l-6 -2l-3 -3l-9 -2l-10 1l-7 3l-2 10l-2 2l-4 27l-4 8l-1 -1v-18l-3 5l-3 11v145h18l7 -11l1 1v10l6 -7l1 7h13v-27l4 -4v-18l7 -7l1 1v25l5 -10v-19l2 -4l6 3v15l3 -1l1 4h4l2 4l8 4v-54l6 -6v-16l5 -4l1 1v19l7 -7v-20l4 -3l5 40v12l-2 6l1 66h206zM123 0l-30 36l-12 29l-15 28l-1 8l2 9l4 7l-3 8l-14 2l-6 5v14l-2 1l-1 5l-6 6l-4 2l-5 6l-2 39l-4 9l-1 -1l-3 4l-9 48l-5 10l-4 19l-2 4v84h273l1 -37l1 -1v-35l1 -1v-35l2 -6l1 -20l-3 -7l-4 -4l-1 -15l-2 -5v-29l2 -9l-2 -6v-38l-10 -19l-8 -43l-25 -72z"/>
<path fill="#ffc300" stroke="#ffc300" d="M428 273v109h4l-1 -29l-1 -1v-25l-1 -1v-25l-1 -1zM493 190l-8 1l-6 3l-5 25l-2 3l-2 19l-5 22l-1 1l-1 -1v-15l-3 13l1 70l1 1l1 36v-101l1 -1l1 1v21l1 1v16l2 15v18l4 1v-12l1 -1l10 6v12l2 -1l5 1v18l5 -5l1 1v10l7 -7v-32l4 -2v-19l5 -2l2 -5l1 1v25l6 -19l7 1v15l3 -1l1 3l4 -3l1 2l3 -3l4 -7l2 -7v-53l6 -4v-13l-5 8l-1 -4l-7 -7l-2 -6l-4 -2l-8 -9l-10 -17l-4 -4l-6 -2l-3 -3zM413 189v193h7v-173zM389 94l-6 3l-5 5v12l-2 13l-2 2l-3 -1l-4 2l-6 -1l-8 2l-5 12l-4 19l-5 5l-6 2l-1 3l-6 3l-1 -2l-5 4v3l-4 4l-4 10v188h93v-266l-1 -3l-13 -12zM779 46l-25 58l-21 19v16l-3 19l-1 1l-1 -1v-13v4l-5 15l-2 11l-5 11l-4 5v3l-5 5l-1 -1l-4 3v3l-14 18l-5 5l-3 1l-6 7l-7 4l-9 2l-1 2l-12 5l-8 19l-3 17l-1 -5l-2 -2l-3 -16v38l-1 1l-9 -36v-45l-13 -13h-8l-6 6l-7 2l-1 7h-4l-3 -2l-1 2l-3 -3l-1 -7h-2l-6 8l-7 14l1 -1l1 1v19l7 -5v-20l4 -3l1 1l6 55l1 29l-4 12l1 61h172l1 -13l2 -1l1 -9l2 6l1 17h26zM123 0l-30 36l-12 29l-15 28l-1 8l2 9l4 7l-3 8l-12 2l-7 4l-1 17l-4 7l-8 5l-6 7v21l-2 20l-2 6l-6 4l-9 50l-4 7l-4 19l-3 6v82h101v-7l4 -7l2 3l1 11h164l3 -127l4 -4v-4l-3 -7l-4 -4l-1 -15l-2 -5v-29l2 -9l-2 -6v-38l-10 -19l-8 -43l-25 -72z"/>
<path fill="#ffa600" stroke="#ffa600" d="M419 322l-2 60h3zM490 191l-7 2l-8 33l-1 25l-2 1l-2 17l2 8v-3l1 -1l4 9l6 9v13l7 8v18l1 1l4 -3l1 1v11l7 -5v-31l4 -2v-16l1 -1h4l3 3v14l1 -2l4 3v-5l7 -2l1 1v14l3 -2l1 3l4 -7l1 2l7 -22l2 -14v-26l-3 -1l-4 -4l-4 -8v-3l-9 -8l-7 -13l-8 -10l-10 -5zM389 94l-6 3l-5 5v16l-2 12l-2 2l-1 -2l-5 2l-4 -1l-8 2l-2 -1l-5 11l-5 21l-5 4l-6 2l-1 3l-6 3l-2 -1l-3 3l-1 5l-4 3l-2 5l-1 191h86l1 -31l1 -1l1 -98l1 -1l-1 -140l-11 -10zM779 46l-29 68l-6 11l-10 11v11l-4 22l-1 1l-1 -1v-14l-1 7l-3 6l-3 12l-9 15v2l-5 5l-1 -1l-4 3v2l-6 8l-21 22l-8 4l-9 2l-13 7l-7 22l-4 36l-2 2l-4 -8l-1 3l-9 -16v-56l-8 -20l-3 -3l-1 2l-2 -3l-7 7l-1 5l-12 2v5l-5 3l-2 3l-2 10l1 1v14l5 50l-5 7l-2 8l1 59h169l3 -42l1 -1l1 3l1 -8l2 5l4 43h23zM123 0l-30 36l-12 29l-15 28l-1 8l2 9l4 7l-3 6v3l-14 2l-5 4l-1 19l-5 6l-9 5l-3 4l-1 32l-2 13l-2 5l-6 3l-9 51l-4 8l-3 16l-4 9v79h82l11 -16l1 1v12l7 -10v-15l4 -7l2 1l2 9l1 25h110v-4l7 -6v-3l7 -7l1 1v19h35l3 -125l6 -6v-4l-3 -7l-4 -4l-1 -15l-2 -5v-29l2 -9l-2 -6v-38l-10 -19l-8 -43l-25 -72z"/>
<path fill="#ff8800" stroke="#ff8800" d="M490 192l-5 3l-2 7v7l-5 18v20l1 1v13l4 10v6l7 7v15l6 2v11l7 -3v-26l1 -1l3 1l1 -7h3l4 3v11l3 2h2v-5l7 -4l1 1v14l3 -2l1 2l6 -12l1 -23l3 -16l-7 -5l-2 -13l-7 -7l-11 -19l-4 -4l-10 -5zM389 94l-6 3l-4 4l-1 21l-2 11l-1 1l-5 -1l-5 2l-1 -2l-8 2l-2 -1l-5 11l-1 10l-3 9l-5 5l-7 2v2l-5 3l-2 3l-1 -3l-5 6v3l-4 3l-2 5v189h75v-23l2 -9l2 -32l1 -1l2 -57l2 -10v-35l1 -1v-106l-8 -7zM779 46l-29 68l-6 11l-10 11v30l-5 14l-1 -1v-14l-7 20l-5 9l-4 4v3l-4 4l-2 -1l-4 2l-1 4l-27 28l-6 3h-5l-18 9l-6 22l-2 21l-4 18l-3 -2l-2 -4l-1 2l-9 -14v-30l-11 -34l-1 5l-2 -5l-7 -1l-1 4l-5 -1l-2 -2h-5v5l-5 6l3 43l2 10v16l-6 6l-3 10l1 57h167l2 -54l2 -16l1 -1l1 1v3l1 -6l2 4l4 29l3 40h20zM123 0l-30 36l-12 29l-15 28l-1 8l2 9l4 7l-3 6v3l-7 2h-6l-5 4v15l-2 7l-6 5l-7 3l-4 5v26l-3 22l-4 4l-1 -1l-3 2l-9 52l-5 12l-2 14l-4 8v76h77v-7l16 -26l1 1v12l7 -13v-13l4 -3l2 -5l3 6v21l2 9l1 18h17v-58l2 -9l1 1l5 66h75l1 -6l6 -6v-22l7 -8v-3l7 -9l1 1v35l4 -5l1 1l2 22h25l1 -21l1 -1l2 -99l1 -3l7 -7l-1 -7l-6 -8l-1 -15l-2 -5v-29l2 -9l-2 -6v-38l-10 -19l-8 -43l-25 -72z"/>
<path fill="#ff6b00" stroke="#ff6b00" d="M528 224v61l2 -2v-54zM490 193l-6 18l-1 11l-2 5l2 17v14l3 8l4 5v8l5 1l1 5h7v-11l1 -1l3 1v-6l2 -1l6 4v9l5 2v-6l5 -3l-1 -54l-9 -15l-4 -4h-3l-1 -2h-3l-3 -3zM389 94l-6 3l-4 4v14l-3 20l-2 2l-1 -2l-7 2l-2 -2l-9 2l-1 -1l-4 8l-1 11l-4 11l-4 4l-7 2l-8 10l-1 -3l-5 6v3l-5 5v189h73l1 -88l1 -1l2 -46l1 -1l2 -87l1 -1v-53l-5 -4zM779 46l-29 68l-6 11l-10 11v47l-2 4l-3 3l-1 -1v-14l-4 6l-3 9l-9 13v2l-5 4l-1 -2l-3 1l-7 12l-19 16l-2 3l-7 3l-10 2l-13 7l-5 21l-5 36l-3 6l-4 -6l-1 3l-9 -12v-12l-5 -9l-6 -25l-1 4l-2 -6l-7 -10l-1 7l-2 -6l-10 -6l-1 8l1 1l1 63l-1 3l-4 4l-4 10v57h152v-40l5 -8l1 1v47h6l2 -41l2 -14v-24l4 -20l1 6l1 -5l2 3l4 22l3 26v28l2 19h18zM123 0l-30 36l-7 18l-6 12v55l-5 1l-5 -3l-3 9l-13 1l-3 3v14l-2 8l-17 12l-2 43l-3 9l-7 3l-9 53l-5 14l-1 11l-5 11v72h69l2 -4l1 4h5v-25l6 -10l10 -9l1 6l2 -5l9 -9l4 -11l4 16l4 47h2l3 -21l1 1v19l7 -58v-49l2 -3l3 6l4 55l2 2l1 20l2 11v17h65l5 -36l6 -6v-23l3 -3l12 6v10l4 -5l1 1l6 56h19l1 -3v-30l1 -1v-31l2 -16l1 -64l2 -2l-1 -14l-2 -5v-29l2 -9l-2 -6v-38l-10 -19l-8 -43l-25 -72z"/>
<path fill="#ff4d00" stroke="#ff4d00" d="M491 194l-1 11l-7 23l2 16l5 14v8l1 2h3l2 2v4l7 1v-11l1 -1l3 1v-5l2 -1l6 4v9l3 1l2 -1v-58l-9 -12h-3l-1 -2h-3l-3 -3zM728 184l-4 4l-6 13l-6 7v2l-5 3l-1 -3l-4 1v13l-2 2l-16 8l-1 -1l-11 9l-6 2l-2 -1l-19 8l-9 54l-3 11l-5 -4l-1 3l-9 -11v-11l-11 -22l-1 1l-2 -4l-7 2v5l-6 12l-2 11v10l-5 4l-7 14v56h151zM389 94l-6 3l-4 4v21l-3 16l-1 1l-2 -2l-8 2l-1 -2l-10 1l-3 6l-2 16l-4 8l-3 3l-8 2l-8 13l-1 -1v-3l-5 5v3l-4 3v189h70l1 -49l1 -1l1 -103l2 -19l2 -80l1 -1v-4l-2 -2v-21zM779 46l-29 68l-6 11l-8 9l-1 21l-1 1v226h3l3 -61l4 -32v-21l4 -34l1 1v24v-9l1 -1l1 1l1 14l3 8l4 22v24l3 26l1 38v-17l1 -1l1 1v17h14zM123 0l-30 36l-11 25v59l-1 2l-4 2l-4 -4l-3 -1l-3 10l-14 1l-1 15l-3 11l-7 5l-6 2l-4 4l-1 42l-3 9l-3 3l-2 -1l-3 2l-9 55l-4 9v9l-2 9l-5 11v67h62l4 -15l5 -10l1 1v24h3l2 -5v-35l6 -3h4l6 -5l1 3l7 -5v-3l5 -4l7 -19l2 3l3 42v-27l3 -17v-8l1 -1l1 1v18l4 -40l3 -3v-3l2 -2l9 18l2 10l1 74l2 11h56l2 -7l1 7l5 -28l4 -37l5 -6l1 1l1 -3l12 6l2 2v3l2 2h3l4 4l4 45v-11l1 -1l1 1l1 22h13l3 -127l1 -1v-15l4 -4l-1 -14l-2 -5v-29l2 -9l-2 -6v-38l-10 -19l-8 -43l-25 -72z"/>
<path fill="#ff3000" stroke="#ff3000" d="M496 196v4l-5 4l-1 3v9l-4 12l4 16v10l1 2l5 2v5l7 2v-10l1 -1l3 1l1 -6l7 4v9h3l1 -7l-1 -1l-1 -44l-2 -3v33l-1 1l-1 -1l-1 -36l-4 13l-1 -1v-15l-2 -1l-1 3l-1 -5zM728 193l-4 1l-2 4l-1 8l-8 8l-1 20l-1 1l-5 -1v-12l-4 3v14l-1 1l-7 -4l-4 -1l-6 1l-1 -1l-10 8l-7 2l-2 -1l-19 8l-11 65l-2 2l-4 -4l-1 3l-9 -9v-10l-6 -9l-5 -11l-1 1l-2 -3l-7 8v6l-3 8l-1 9l-9 6l-6 13v55h122l1 -4l1 4h4l5 -23l1 1v22h6l1 -27l2 -9l2 -29l5 -4zM744 124l-5 7v6l-1 1l-1 -1v23l-3 18v169l3 -6v-47l2 -6v-11l2 -10l1 -45l2 -15zM389 94l-6 3l-4 4v28l-2 10l-3 3l-1 -2l-8 1l-1 -2l-3 1l-7 -1l-2 4l-2 19l-2 4l-5 6l-9 2l-1 5l-4 7l-3 3l-1 -4l-5 5l-1 3l1 189h64l1 -4v-37l1 -1v-36l1 -1v-35l1 -1v-71l1 -1v-26l1 -1v-23l1 -1v-20l1 -1v-21zM779 46l-8 17l-11 29l-11 23v64l1 -2l1 1l6 58l2 9v28l3 16l1 23v-21l1 -1l1 1l3 91h11zM123 0l-30 36l-10 23v62l-5 4l-5 -5l-3 -1l-3 10l-13 1l-2 2v18l-3 8l-2 2l-1 -1l-6 4l-5 1l-2 3v24l-1 1l-1 22l-4 7l-7 1l-9 57l-3 8l-1 15l-3 12l-4 7v61h34l1 -2h2l1 2h8v-5l5 -2l2 1v6h6l3 -8v-20l4 -9l4 -4l2 1v27l5 -10v-23l11 -2l5 -4l1 3l6 -4l1 -3l4 -3l12 -32l1 2v-8l4 -6l1 1l7 -9v-3l2 -2l12 24v26l8 66h1v-14l1 -1l4 15h37l3 -18l1 -1l1 1v11l3 -25l1 -1l1 1v12l6 -54l3 -3l6 2l1 -3l13 8l1 5l10 5l3 6v-3l1 -1l1 1l3 24l1 31l1 2h7l2 -85l1 -1v-17l-3 -3v-30l10 -11l-1 -14l-2 -5v-29l2 -9l-2 -6v-38l-10 -19l-8 -43l-25 -72z"/>
<path fill="#fe1200" stroke="#fe1200" d="M515 252v1zM712 251v56l4 -35v-11zM702 242v13l-1 1l-7 -13l-4 -3l-6 -1l-1 -2l-9 7l-7 2l-2 -1l-20 8l-1 14l-10 53l-2 2l-3 -3l-2 3l-9 -7v-11l-11 -16l-1 1l-2 -3l-7 14v8l-5 5l-8 4l-5 10v55h115l6 -78l1 -1l1 1v61l4 -17v-57l4 -27l-4 -7v-13zM503 199l-2 5l-5 5v5l-5 1l-2 14l2 15l5 3v5l7 3v-10l1 -1l3 2v-19l-3 2l-1 -1zM734 198v4l3 4v4v-12zM389 94l-6 3l-4 4v35l-2 6l-3 2l-1 -2l-8 1l-1 -2l-3 1l-7 -1l-2 4v12l-3 11l-6 6l-9 1l-1 9l-7 8l-1 -4l-5 4v190h5v-57l1 -1l1 1l1 57h45v-25l2 -4l1 1v12l3 8v8h4l4 -185l1 -1v-67l4 -6v-21zM779 46l-8 17l-11 29l-6 11v45l2 2l3 25v33l2 9l2 25v-25l1 -1l1 1l6 165h8zM123 0l-30 36l-9 21v65l-5 5l-2 -1l-2 -4v4l-7 1l-1 3l-14 1v18l-3 10l-2 2h-3l-12 6l-1 48l-6 8l-2 1l-1 -2l-3 1l-9 58l-2 5v17l-2 4l-2 13l-5 7v55h23v-16l4 -6l1 1v12l4 -7l5 -3l1 1v12l8 -2v-20l6 -6l1 1v21l2 -1l7 -20v-13l8 -3l2 1v15l2 -5l3 -2v-11l1 -1l7 -1l3 1l5 -4l1 3l5 -3l3 -5l3 -1l13 -36v-4l12 -12v-3l2 -2l12 23v6l4 8l5 45v-25l1 -1l1 1l4 30l5 18v14h28v-6l5 -24l1 -32l1 -1l1 1v32l3 -44l1 -1l1 1v18l1 -17l8 -9l6 3l1 -3l11 7l3 3v3l2 2l6 1l5 4l1 -2l4 4l2 12l3 48h2l2 -79l1 -1l-1 -56l10 -11l-1 -14l-2 -5v-29l2 -9l-2 -6v-38l-10 -19l-8 -43l-25 -72z"/>
<path fill="#da0000" stroke="#da0000" d="M702 259v31l3 -20v-7zM689 244l-7 -4l-6 3l-1 2l-17 3l-1 5l-7 2l-5 5l-2 18l-3 10l-5 30l-3 6l-4 -2v2l-2 1l-8 -5v-10l-10 -13l-4 -2l-7 17l-4 4l-9 4l-4 8v54h110l1 -26l3 -28v-25l1 -1l3 -41l-5 -12zM496 223l-1 6l-4 -3v6l5 4v4l7 6v-23l-3 1zM325 191l-3 3l1 125l1 1l1 62zM364 143l-2 1l-8 -1l-3 26l-9 7l-8 1l-1 11l-5 6l3 122l1 1v27l1 1v37h32l2 -77l2 -14l4 -10v-136h-8zM779 126l-2 5l-7 8l-1 9l-4 4l1 28l1 1v24l1 1l5 176h6zM389 94l-6 3l-4 4v42l-1 1l1 238h2v-25l1 -1l5 -251l4 -4zM763 83l-2 5v66l2 17zM226 0h-103l-30 36l-8 19v68l-3 4l-4 2l-1 -5v2l-3 2h-6l-1 2l-13 1l-1 1v23l-2 5l-3 3l-2 -1l-12 5l-1 49l-6 8l-2 1l-2 -2l-3 1l-10 60v45l-2 4l-1 -7v2l-4 4l-3 1v36l3 13h4v-16l1 -1l1 1v16h13l1 -3v-45l1 -1l4 3v13l7 -2l2 -2l1 1v12l8 -6v-18l5 -4l2 1v11l2 -4l4 -4l3 -1l1 -5l6 -1l3 1v10l5 -2v-10l1 -1h11l4 -3l1 3l7 -4v-2l4 -3l3 -10l2 -2l9 -30l3 -3l1 1l7 -7v-3l2 -2l12 21v6l7 17l2 2l1 -4l9 7l1 6v56l4 11h21l3 -14l2 -56l2 -8l3 -5l1 7l4 -6l1 4l9 -9l5 3l3 -2l13 10l1 5l11 3l2 -2l3 1l6 11l1 20l1 -35l1 -1v-31l1 -1v-30l10 -11l-1 -14l-2 -5v-29l2 -9l-2 -6v-38l-10 -19l-8 -43z"/>
<path fill="#b60000" stroke="#b60000" d="M607 304l-1 1l-2 -1l-2 6l-5 5l-1 3l-6 3l-6 1l-3 6v54h41v-54l-4 -3v-10zM683 242l-10 5l-7 7l-1 -4l-7 4v3l-2 2l-6 2l-5 5l-3 22l-2 4l-6 33l-2 2l-4 -2v57h56l9 -126l-3 -6zM364 145l-1 88l-1 10l-3 10l-4 4l-1 -1v-111l-1 27l-3 3l-5 1l-1 5l-7 -2l-2 1l-2 4l-1 9l1 189h31zM779 126l-2 5l-8 10l1 46l1 1v44l1 1v70l1 1v25l1 1v25l1 1v25l1 1h3zM384 110l-4 4l-1 7v257l2 -92l1 -1v-42l1 -1zM130 0l-19 95l-20 20l-2 11h-4l-5 4l-5 -2l-7 1l-2 2h-11l-1 1l-1 28l-5 5l-3 -1l-11 3v51l-1 3l-6 5l-7 -1l-7 42l1 47l2 17l4 14l3 -1v-65l1 -1l4 1v37l6 14l2 -1l1 -3l1 1v13l8 -8v-11l1 -1l6 1v7l8 -1l2 -6h8l1 10h4l2 -11l10 1l5 -3l2 3l5 -3l6 -7l2 -9l2 -2l8 -25v-4l11 -8l1 -4l2 -1l12 20v4l7 15l2 2l1 -5l10 5v24l4 32l2 6v-4l1 -1l7 19l1 -3l6 10l6 -29l1 -54l4 -7l3 -3l1 7l4 -4l1 5l9 -7l6 4l1 -3l14 12v4l3 2l10 -1l1 -3l4 1l6 -1v-20l1 -7l2 -2v-30l10 -11l-1 -14l-2 -5v-29l2 -9l-2 -6v-38l-10 -19l-8 -43l-25 -72z"/>
<path fill="#920000" stroke="#920000" d="M607 312l-1 2l-2 -1l-9 10l-8 1l-5 3v55h39v-54l-3 -2v-5zM683 244l-6 2l-2 6l-4 4l-4 2l-2 -1l-4 1l-4 4l-12 6l-3 21l-4 16v77h36l1 -4l1 4h3l1 -2v-6l3 -13v-46l1 -1l1 -27l3 -28v-8zM335 185l-3 8l1 150l1 1l1 38l2 -1l3 -29l2 -57l1 -1v-33l1 -1l1 1v121h6l-2 -191l-4 -6l-1 7l-3 -4zM779 126l-2 5l-8 10v7l3 3v18l1 1l1 110l1 1l3 101h1zM381 113l-1 1v23l-1 1v156l1 -3zM130 0l-19 95l-20 20l-2 12h-4l-6 4l-2 -2l-2 1l-7 -1l-2 2l-11 1v16l-2 14l-5 4l-2 -1l-11 2v52l-1 4l-4 3h-10l-4 23v15l4 32l3 2v-25l12 -8l3 12v39l2 2l6 1l1 -6l5 2l1 4h9l1 -2h4l5 2v6h5l1 -7l1 1h10l16 -8l13 -42l14 -11l13 21l6 13l11 3l3 5l5 4l1 -2l4 5l2 20v21l2 9l6 13l3 -15l1 -50l2 -8l4 -7l7 -5l3 1v3l10 -4l5 5l1 -3l14 13v3l3 3l1 -2l9 -1l3 -26l1 -1l1 1v7l1 -11l2 -6v-44l13 -11v-25l2 -9l-2 -6v-38l-10 -19l-8 -43l-25 -72z"/>
<path fill="#ffffff" stroke="#ffffff" d="M0 0v57h7v-13l1 -1h11l1 1v13h7l1 1v45h6v-14l1 -1h13l1 1v22h6l1 1v8h6l1 1v12h9v-7l1 -1h5v-20l1 -1h6l1 1v38h7v-23l1 -1h5l1 1v31h7l1 1v57h6v-42l1 -1h7v-39l1 -1h6v-12l1 -1h5l1 1v6h7l1 1v7h7l1 1v14h5l1 1v14h7v-14l1 -1h6l1 1v22h6l1 1v5h8v-13l1 -1h5v-6l1 -1h6v-15l1 -1h6l1 1v15h5l1 1v6h7l1 1v14h6v-6l1 -1h6l1 1v22h6l1 1v29h7l1 1v7h5l1 1v52h8v-30l1 -1h5l1 1v7h6l1 1v7h6v-45l1 -1h7v-22l1 -1h6v-29l1 -1h13v-52l1 -1h7v-16l1 -1h7l1 1v23h6l1 1v5h7v-20l1 -1h5v-16l1 -1h5l1 1v6h7v-6l1 -1h6l1 1v16h5l1 1v7h9l1 1v11h4v-11l1 -1h9v-15l1 -1h12l1 1v42h14v-52l1 -1h5v-11l1 -1h8v-30l1 -1h7v-30l1 -1h11l1 1v11h7v-5l1 -1h7v-17l1 -1h62l1 1v10h9l1 1v21h5v-13l1 -1h6l1 1v16h7l1 1v14h5l1 1v44h5l1 1v15h7l1 1v6h6l1 1v14h7v-14l1 -1h5l1 1v30h7l1 1v3h7v-26l1 -1h6l1 1v22h7v-37l1 -1h10v-7l1 -1h7l1 1v22h6l1 1v14h7l1 1v7h9v-15l1 -1h6v-14l1 -1h7v-6l1 -1h9l1 1v6h7l1 1v7h6l1 1v6h16l1 1v15h5v-15l1 -1h7l1 1v15h6v-7l1 -1h7v-143z"/>
</g></g>
<g transform="translate(1105.00 270.44) scale(0.5)" clip-path="url(#cp)"><g filter="url(#bl)">
<path fill="#0000da" stroke="#0000da" d="M0 0v382h779v-382z"/>
<path fill="#0000fe" stroke="#0000fe" d="M668 9l1 1l-34 50l-8 16v3l-13 16l-13 7l-7 7h-5l-6 16l-3 13l-1 -1v-87l8 -8l12 -6zM0 0v382h779v-382h-147l-48 24l-12 11v62l-1 1l-4 -1v-88l6 -9h-102l5 10l-3 4l-1 8l-3 3v108l-1 1l-6 -2l-1 -132z"/>
<path fill="#0010ff" stroke="#0010ff" d="M668 9l1 1l-2 2v164l-1 1l-1 -1l-1 -6l-5 -11v-48l-4 -4v48l-1 1l-9 -10v-21l-9 -11v23l-1 1l-9 -1v-10h-8l-5 -4l-5 -1v-14l6 -13l-13 7l-11 11v63l-10 2l-1 -1v-127l8 -8l12 -6zM0 0v382h779v-382h-63v127l-9 13l-1 -4l-9 15v4l-3 7l-7 7l-1 -1v-20l1 -1h-5v21l-5 8l-1 -1v-33l8 -8l3 -8l-2 -15l6 -15l18 -96h-77l-51 26l-9 9v143l-4 3l-1 -1v-52l-5 1l-3 -1v-109l10 -12l4 -7h-29v191l-7 4l-2 -1v-194h-5v197l-1 1l-2 -1l-1 -3v-21l-3 -18l-4 -8v-12l-5 -1l-1 5l-5 -2v-137h-7v132l-1 1l-4 -1v-132h-3v113l-1 1l-4 -2v-112h-17l5 10l-3 4l-1 8l-3 3v114l-1 1h-4l-3 -4l-1 -65l-1 -1v-70h-103v107l-3 5l-3 1l-2 -1v-12l-7 -5v-4l-9 -23l-7 -24v69l-1 1l-13 -13l-61 -31l-24 -70h-104l-33 40l-30 19l-15 14v26l-1 1l-5 -4l-6 1v2l3 3v47l-7 5l-9 -1v-96l15 -14l76 -43z"/>
<path fill="#0030ff" stroke="#0030ff" d="M13 157v16l-3 7v30l-10 31v141h779v-333l-4 8l-55 62v9l-4 6v9l-9 17l-1 -1v-3l-9 24l-2 12l-8 18l-1 -1v-19l-4 9v21l-5 6l-1 -1v-77l-5 2l-4 -9v87l-1 1l-7 -4v-52l-4 -9v49l-1 1l-5 -13v-48l-3 -2v-4l-2 2l-4 -1v14l-2 1l-2 -2l-1 9l-7 -6v-10l2 -2v-4l-4 -4l-3 3v12l-10 5l-1 -3l-3 3l-1 -1l-4 5l-4 9l-1 -1v-48l-6 5l-3 7v39l-10 2l-1 -5h-5l-2 1v4l-3 2l-2 -2l-17 8l-1 -1v-172l-5 -1v178l-8 5l-1 -2l-5 2l-1 3l-10 -4v-24l-5 -13l-1 4l-5 -7v-109l-7 -1v99l-1 1l-4 -2l-1 -6h-2v2l-3 1l-2 -2v-3l-4 -1v-136h-13l5 9l-4 8v4l4 4v108l-1 1l-6 -1v13l-1 1l-6 -2l-1 -8l-3 -5l-1 -33l-1 -1v-98h-93v91l-3 3v11l-4 6v4l-2 3l-5 3l-1 -8l-1 1l-8 -1v-13l2 -3v-6l-11 -31v59l-1 1l-4 -11v28l-1 1l-5 -9l-3 -10h-54l-2 -2l-10 -48l-24 -69h-104l-33 40l-30 19l-14 13l-1 72l-16 12h-4l-3 2l-2 -2l-4 5l-1 -7z"/>
<path fill="#0050ff" stroke="#0050ff" d="M45 72v73l-17 13h-3l-5 4l-1 -1l-2 3l-1 8l-2 3v25l-14 49v133h779v-333l-23 52l-22 20h-8l-1 6l-1 -1v-11l-1 1v5l-3 3v19l-4 7v9l-3 5l-6 16l-1 -3l-9 31v6l-3 6l-6 5l-2 -1v-2l-4 4v3l-4 3l-2 -1v-10l-2 7l-3 2l-4 -2l-1 5l-6 -3l-2 -5l-3 -1v2l-2 1l-4 -3v-22l-7 -15l-2 -2l-1 7l-3 -2l-2 2l-6 -3v-35l2 -2l-5 -1v-6l-2 2v40l-1 1l-20 -5l-4 -4l-8 -1l-1 5h-9l-1 -4h-6l-3 6l-2 1l-2 -2l-15 7l-3 -1l-4 2l-1 5l-6 3l-2 -2l-4 2l-2 4l-16 -6l-2 -3v-5l-3 -11v-32l-7 -4v17l-1 1l-4 -4v-5l-3 -2l-1 3l-3 -1l-1 -5l-4 -2v-11h-8l-1 7l-6 -1v13l-1 1l-6 -3l-1 -7l-5 -10v-134h-93l1 105l-8 14v3l-7 7l-1 -8l-5 1l-1 5l-5 6l-1 -6l-1 1l-5 -8v18l-1 1l-4 -6v17l-5 2l-3 4l-1 -1h-11l-15 -12l-22 -11l-2 -6l-7 -11l-9 -46l-24 -69h-104l-33 40l-30 19z"/>
<path fill="#0070ff" stroke="#0070ff" d="M46 71l-1 75l-10 7l-3 4l-8 4l-6 6l-4 22v18l-14 50v125h779v-333l-23 52l-28 26l-3 13l-1 -10l-4 9v18l-4 9v9l-3 6l-5 18l-1 1l-1 -2l-1 5l-11 23l-6 5l-2 -2l-8 7l-2 -1v-4l-5 3l-4 -2l-1 5l-5 -2l-2 -2v-3l-4 -2l-1 4l-4 -2l-1 -6l-6 -4l-3 -18l-1 3l-3 -6l-1 2l-7 -7v-15l-1 -1l-4 1v12l-1 1l-21 -6l-3 -4l-8 -2l-1 5l-9 1l-1 -5h-5l-2 1l-1 5l-3 1l-1 -2l-17 8l-1 -2l-5 3v3l-8 5l-2 -2l-4 2l-1 3l-21 -7v-33l-7 -8v16l-1 1l-4 -5v-6l-2 -2l-2 2l-4 -3v-4l-4 -3v-11l-8 -2l-1 8l-6 -2v13l-1 1l-7 -5v-5l-5 -9l-2 -99l-11 -10l-7 -4l-33 -12l-26 -6l-10 -11h-4v90l3 3l-1 19l-9 14v3l-7 7l-1 -7l-3 3l-7 13l-2 -1v-3l-2 2l-4 -5v10l-1 1l-4 -1v10l-5 10l-2 21l-2 2l-1 -1v-25l-9 -9v60l-2 8l-4 38l-1 -1l-1 -69l-10 -8l-15 -6l-3 -3l-1 -4v-38l-10 -18l-9 -46l-24 -69h-104l-33 40l-30 19z"/>
<path fill="#008fff" stroke="#008fff" d="M46 71v74l-5 6l-4 2l-3 4l-8 5l-7 7l-3 12v16l-2 8v8l-14 52v117h779v-333l-23 52l-25 23l-1 12l-2 4l-2 13l-1 1l-1 -1v-10l-4 10v19l-4 9v8l-16 29l-6 13l-6 5l-2 -2l-4 2l-1 3l-3 1l-2 -1v-4l-4 2l-5 -1v4l-2 1l-5 -2l-1 -4l-3 -2l-2 4l-5 -3v-4l-6 -4l-3 -6v-3l-1 1l-3 -9l-8 -9v-8l-5 -1l-1 6l-19 -7l-4 -4l-9 -3l-1 5h-9l-1 -4h-6l-3 6l-2 1l-2 -2l-16 8l-2 -2l-4 2l-1 5l-6 3l-2 -2l-4 2l-2 4l-9 -2l-2 -2l-7 -1l-3 -2l-2 -15l-3 -12l-2 -3v26l-1 1l-4 -7l-1 -17l-2 -2l-1 2l-4 -4v-4l-4 -3v-12l-8 -3l-1 8l-6 -3v12l-2 1l-5 -3l-1 -7l-5 -8v-15l-2 -4l-1 -26l-2 -11v-53v60l-1 1l-2 -9v-55l-5 -4l-16 -8l-24 -8l-26 -6l-7 -8v104l-5 9v5l-2 4l-7 8v3l-7 8l-1 -6l-4 6l-7 6l-1 -2h-6v5l-5 3v11l-3 7l-5 66l-1 1l-1 -1v-75l-9 -9v170l-6 52l-1 -1l-1 -92l-1 -1v-93l-9 -7l-15 -6l-3 -3l-1 -4v-38l-10 -18l-9 -46l-24 -69h-104l-33 40l-30 19z"/>
<path fill="#00afff" stroke="#00afff" d="M399 47l2 7l-11 38l-7 4l-8 8l-2 7l-8 15v5l-9 10v3l-7 6l-1 -5l-11 9l-1 -2l-6 1v6l-5 5v17l-1 1v13l-3 29l-1 59l-2 15l-1 45l-1 1l-1 -1v-155l-7 16l-2 8v170h473v-333l-15 36l-18 38l-5 6h-8l-2 18l-5 19l-1 1l-1 -1v-10l-4 11v17l-4 8v5l-8 15l-2 1l-12 24l-6 4l-2 -2l-3 1l-4 4l-3 -1v-4l-4 2l-5 -1v4l-2 1l-5 -2l-1 -4l-4 -1l-1 3l-4 -1l-1 -5l-7 -5l-2 -5l-1 1l-3 -8l-8 -13v-8l-5 -2v5l-2 1l-21 -9l-1 -3l-9 -3l-1 5h-9l-1 -5l-7 1l-1 5l-3 1l-1 -2l-16 8l-2 -2l-5 3v3l-8 5l-2 -2l-4 2l-1 3l-9 -1l-1 -2l-4 -1l-2 1l-4 -1l-1 -6l-7 -3l-1 5l-4 -3l-3 -6l-1 4l-4 -9v-10l-4 -6v-11l-8 -5l-1 7l-6 -3v12l-1 1l-7 -5v-5l-5 -7v-15l-4 -9l-1 -15v12l-1 1l-1 -1l-2 -25l-3 -14v-20l-13 -11l-12 -6zM122 0l-33 40l-30 19l-12 11l-1 76l-6 7l-17 14l-4 7l-3 12v19l-2 7v7l-14 54v109h297v-191l-9 -7l-15 -6l-3 -3l-1 -4v-38l-10 -18l-9 -46l-24 -69z"/>
<path fill="#00cfff" stroke="#00cfff" d="M315 236l-9 80v66h9zM399 47l2 7l-9 29l-1 7l-3 4l-5 2l-4 4v6l-3 10l-4 9l-7 10v5l-9 8v3l-7 5l-1 -5l-11 7l-1 -2l-6 2v6l-5 8l-1 95l-1 1v18l-2 5l-2 19v72h460v-333l-29 67l-4 7l-12 13v11l-4 21l-2 2v3l-3 6l-1 -9l-4 11v12l-4 7v4l-4 8l-9 13l-8 16l-3 3l-4 2l-3 -2l-3 1l-2 3l-4 -1v-4l-5 2l-4 -1v4l-2 1l-4 -1l-2 -4l-4 -2l-1 4l-4 -1l-1 -5l-5 -2l-4 -6l-1 2l-3 -7l-2 -1l-2 -9l-4 -6v-8l-2 -2l-3 -1l-1 6l-22 -11l-1 -3l-6 -3h-3v3l-3 2h-7l-1 -5h-6l-3 6l-2 1l-1 -2l-17 8l-2 -2l-4 2l-1 5l-6 3l-3 -1l-4 2v2l-2 1l-7 -1l-2 -2l-10 -1l-1 -5l-7 -3l-1 5l-4 -4l-6 -1l-2 -4l-2 -1l-2 -6v-20l-8 -6l-1 7l-6 -4v18l-1 1l-7 -11v-5l-5 -6v-15l-3 -5l-2 -8l-1 5l-3 -8l-2 -20l-2 -7l-1 -38l-11 -9l-12 -6zM122 0l-33 40l-30 19l-12 11v75l-2 5l-21 18l-5 9l-2 7v17l-3 25l-14 55v101h297v-191l-9 -7l-15 -6l-3 -3l-1 -4v-38l-10 -18l-9 -46l-24 -69z"/>
<path fill="#08efef" stroke="#08efef" d="M315 340l-4 42h4zM779 49l-29 67l-4 7l-10 11l-2 14v19l-2 9l-7 13l-1 -1v-7l-4 8v12l-4 7v4l-8 14l-3 2l-12 21l-5 2l-2 -2h-3l-2 3h-4l-1 -5l-2 1l-7 -1l-1 6l-6 -1l-1 -4l-4 -1l-1 4l-4 -1l-1 -5l-6 -2l-3 -3l-1 1l-3 -4l-1 1l-4 -10l-1 -9l-2 -3v-8l-3 -3h-2v4l-2 1l-20 -11l-2 -4l-9 -4l-1 5h-9l-1 -4h-7v4l-3 2l-3 -1l-15 7l-2 -2l-5 3l-1 5l-6 3l-2 -2l-4 2l-2 3h-7l-3 -2h-9l-2 -2v-4l-7 -2l-1 5l-3 -1l-1 -3l-3 -1l-3 1l-6 -6v-16l-4 -9l-4 -3v10l-1 1l-6 -9v25l-1 1l-7 -11v-10l-5 -8v-14l-5 -11v4l-1 1l-4 -10l-3 -14v-18l-2 -11l-2 -3v3l-1 1l-5 -11h-10l2 4l1 11l-1 1l-9 -1l-1 -26l-6 -11l-9 -12l-10 36l2 9l-10 11l-5 16l-4 8l-7 8l-1 6l-8 5l-1 3l-6 4l-2 -1v-4l-11 6l-1 -2l-3 1l-3 3v6l-3 5l-1 24l-1 1v89l-2 3l-2 10l-1 80h459zM122 0l-33 40l-30 19l-11 10l-1 77l-2 5l-20 18l-7 14l-1 27l-3 22l-14 58v92h297l-2 -193l-7 -5l-15 -6l-3 -3l-1 -4v-38l-10 -18l-9 -46l-24 -69z"/>
<path fill="#21ffd5" stroke="#21ffd5" d="M779 49l-29 67l-4 7l-7 8l-2 24l-3 13v15l-3 8l-6 8l-1 -9l-4 8v11l-4 6v5l-7 11l-5 5l-9 16l-3 3l-5 1l-1 -3l-9 4l-1 -6l-3 1l-6 -1v5l-2 1l-5 -1l-1 -4h-4v3l-2 1l-4 -2v-4l-6 -1l-2 -2l-2 2l-3 -2l-1 1l-3 -3l-3 -7l-1 -25l-5 -4l-1 6l-21 -13l-2 -4l-9 -4v40l-10 8l-1 -1v-47l-7 1v25l-2 2l-3 -1v-22l-17 8l-1 -2l-4 2l-3 6l-6 3l-2 -2l-4 2l-1 3h-5l-5 -2h-10l-2 -6l-6 -1l-1 5l-6 -4l-4 1l-3 -4h-2l-1 -8l-4 -4l-4 -10v12l-1 1l-6 -10v21l-1 1l-7 -6v-10l-5 -7v-22l-5 -9v4l-1 1l-5 -11l-2 -8v-13l-3 -14l-1 -1l-1 5l-5 -8h-7v20l-6 6l-1 7l-7 -12l-1 -26l-2 -6v-34l-9 -12l-10 36l2 9l-6 7v10l-2 8l-7 16l-12 12v4l-8 4l-2 4l-6 2l-1 -5l-11 4l-2 -2l-5 5l-1 33l-2 18l-1 62l-1 1v12l-3 10l-1 77h458zM122 0l-33 40l-30 19l-11 10v76l-3 7l-19 18l-7 13l-3 45l-16 71v83h295l-2 -165l-11 -10l-13 -7v-14l2 -9l-2 -6v-38l-10 -18l-9 -46l-24 -69z"/>
<path fill="#3bffbc" stroke="#3bffbc" d="M779 49l-29 67l-8 11l-2 31l-3 19l-3 8v12l-3 6l-6 5l-1 -9l-4 7v12l-4 5v5l-7 10l-4 3l-12 19l-6 1l-1 -3h-3l-6 3l-1 -6l-4 1l-5 -1l-1 6l-6 -1l-1 -3l-3 -1l-2 4h-4l-1 -5l-9 -1l-1 3l-3 -1l-1 3l-6 1l-1 -1v-41l-2 -3l-3 -1v36l-2 1l-7 -3l-2 -2v-4l-4 -3v-2l-9 -5v-30l-7 -5h-2v123l-4 9l-6 2l-1 -1v-133l-7 1v134l-1 1l-4 -6v-99l-5 1l-3 -1v-23l-8 4l-3 -1l-4 2v50l-1 1l-8 -1v-44l-5 3v41l-1 1l-10 -12v-21l-5 -8v14l-1 1l-5 -8v-12l-7 -1l-1 5l-3 -1l-1 -2l-5 1l-7 -5v-7l-8 -5l-1 7l-6 -5v43l-1 1l-7 -20v-16l-5 -4v-32l-5 -7l-1 6l-5 -9l-2 -6v-12l-2 -5v-5l-2 -2l-1 5l-5 -5l-8 -1l-5 5v49l-1 1l-8 -13v-20l-6 -11v-82l-5 -7l-10 36l2 9l-3 3v26l-7 20l-9 9l-8 4l-1 5l-8 2l-1 3l-6 1l-1 -6l-10 3l-2 -1v-2l-6 7v91l-1 1v19l-4 7v10l-2 6l-1 74h457zM122 0l-32 39l-8 21l-16 32l-1 6l-6 4l-10 10l-1 35l-3 6l-19 19l-7 13v16l-1 1l-2 34l-2 4v6l-14 62v74h292l-1 -167l-9 -8l-13 -7v-14l2 -9l-2 -6v-38l-10 -18l-9 -46l-24 -69z"/>
<path fill="#55ffa2" stroke="#55ffa2" d="M476 207l-1 8l-6 -3v170h98v-49l-8 -11v-32l-10 -6v-70l-5 2v119l-1 1l-8 -7v-65h-5v60l-2 1l-9 -6v-20l-5 -5v15l-1 1l-5 -4v-88h-7v62l-1 1l-4 -5v-42l-3 -6v27l-1 1l-4 -6v-31l-4 -1v-7zM393 102v21l-4 20v15l-8 9l-2 -1l-5 3l-9 2l-1 4h-4l-4 2v54l-3 3l-5 -3v-58l-11 1l-1 -3l-4 5v23l-1 1v22l-1 1v65l-5 9l-1 81l-1 4h138v-97l-5 -5v-88l-4 -8l-1 -6v19l-1 1l-4 -11l-1 -11l-2 -4v-10l-2 -7l-2 -2v5l-1 1l-8 -6v-3l-6 -6v17l-2 1l-2 -2v218l-1 1l-8 -20v-82l-6 -11v-147l-2 -8zM779 49l-29 67l-6 9l-2 47l-3 16l-5 12v11l-5 6l-2 -1l-2 2l-1 -9l-4 6v16l-4 6v45l-5 5l-1 -2l-3 3l-1 -1v-22l-9 11v8l-4 4l-1 -1v-12l-2 -7l-4 -3v-2h-4l-1 2l-4 -1l-1 -5h-9l-1 5h-6l-1 -3h-4l-1 4h-4l-1 -5h-7l-10 10l-3 9l-1 -1v-34l-2 -14l-3 -1v92l-1 1h-9l-1 -6h-3l-1 -3l-9 -2v-54l-8 -3l-1 1v76l-5 1l-5 3l-1 -1v-69l-6 8l-1 -1v110h207zM122 0l-32 39l-8 21l-16 32l-1 6l-6 4l-10 10v33l-4 10l-19 19l-7 14v24l-1 1l-2 32l-2 3v5l-4 14v5l-10 45v65h290l-1 -169l-7 -6l-13 -7v-14l2 -9l-2 -6v-38l-10 -18l-9 -46l-24 -69z"/>
<path fill="#6fff88" stroke="#6fff88" d="M514 369v13h5v-12zM530 328v54h5v-50zM544 292v90h14l-9 -16v-71zM476 215v45l-1 1l-3 -5l-3 -11v137h39v-114l-7 -10v111l-1 1l-4 -2v-41l-3 -2v29l-2 1l-3 -2v-40l-4 -5v-91zM424 172v108l-1 1l-3 -7v108h36v-171l-5 -5v70l-1 1l-7 -8l-1 -93l-1 -3h-2v31l-1 1l-8 -14v-17zM397 152v8l-2 7l-6 6v66l-9 8l-1 -1v-13l-8 7l-1 -5l-5 4v65l-9 5v53l-2 2l-2 -1l-1 -64l-3 -8v-60l-4 -1l-1 9l-7 -4v-60h-1l-3 110l-7 18v79h80v-178l-7 -11zM779 49l-15 36l-8 15l-1 5l-8 15l-1 39l-1 1l-1 22l-2 7v9l-2 7l-6 10v67l-4 24l-1 1l-1 -1v-15l-2 15l-1 1l-1 -1v-88l-4 5v106l-4 3v44l-5 1l-1 -2l-4 -1v-23l-9 3v7l-3 2l-2 -1l-1 -64l-2 -20l-4 -10l-8 -1l-1 -4h-9l-1 4h-6l-1 -2h-4l-1 2l-4 1l-1 -3l-9 1l-4 4l-4 9l-3 17l-1 -1v-20l-1 23l-4 1v32l-1 1l-32 -2l-2 4l-4 1l-4 4l-1 -7l-2 1l-2 5v10l-1 1v33h205zM122 0l-32 39l-8 21l-16 32l-1 6l-6 4l-9 9v33l-5 12l-20 21l-5 11v19l-1 1v15l-1 1l-2 32l-2 1l-14 69v56h265v-104l-3 -3v-30l10 -11l5 5l3 7v4l-5 5v127h8v-120l1 -1l1 1v120h2v-171l-18 -11v-14l2 -9l-2 -6v-38l-10 -18l-9 -46l-24 -69z"/>
<path fill="#88ff6f" stroke="#88ff6f" d="M365 378v4h5v-4zM544 369v13h5v-6zM439 355v27h4v-21l-3 -1zM424 346v36h6v-20zM501 345v37h7v-34zM395 323l-6 3v56h16l-7 -16v-41l-1 -2zM451 322v60h5v-57zM724 301l-4 4v77h4zM336 282l-1 4l-5 5v5l-4 9l-1 77h26l-1 -64l-1 -1l-1 -26l-3 -2l-8 -1zM686 275l-4 -4l-1 1l-4 -2l-1 -4l-5 -1l-4 1l-1 3h-6l-1 -2l-4 1l-1 2h-4l-1 -2l-8 1l-1 3l-4 4l-5 17l-1 32l-1 1l-1 -1v-26v30l-2 2h-3l-1 2l-32 -1v2l-5 3l-5 6l-1 -6l-3 8l-1 37h116l-2 -83l-1 -1v-15l-2 -4zM476 262v120h8v-104zM779 49l-17 39v98l-5 1l-6 -2v-35l2 -2v-40l-4 9l-1 73l-2 16l-4 11v40l-5 45l-3 14v66h45v-47l-3 -1v-169l-5 -1v-14l-3 -3v-7l11 -17zM122 0l-32 39l-8 21l-16 32l-1 6l-6 4l-9 9v35l-5 11l-10 10l-3 5l-6 5l-5 10v23l-2 11l-2 41l-2 5l-1 -2l-2 7l-2 15l-7 31v8l-3 15v41h253l2 -49l1 -1v-24l1 -1v-27l2 -2l1 1v103h5v-104l-3 -3v-30l10 -11l-1 -14l-2 -5v-29l2 -9l-2 -6v-38l-10 -18l-9 -46l-24 -69z"/>
<path fill="#a2ff55" stroke="#a2ff55" d="M762 358v24h9v-24zM751 351l-4 31h4zM334 289l-4 6v5l-3 6l-1 76h23l-1 -82l-5 -7zM262 276l-2 2v104h1v-26l1 -1zM675 268l-5 -1l-3 1l-1 3l-6 1l-1 -2h-4l-1 3h-4l-1 -2h-5l-4 3v2l-4 5l-4 16l-1 32l-2 3l-1 -1l-2 2h-3l-1 2h-22l-1 -2h-8l-1 3l-6 4l-4 7l-1 -5l-2 6l-1 34h113l-3 -101l-4 -6l-6 -3zM122 0l-32 39l-8 21l-16 32l-1 6l-14 12v34l-2 7l-3 6l-21 23l-3 6l-1 39l-2 9v29l-4 12l-1 -2l-7 33l-2 27l-5 25v24h249v-134l5 -24l15 -13v-25l2 -9l-2 -6v-38l-10 -18l-9 -46l-24 -69z"/>
<path fill="#bcff3b" stroke="#bcff3b" d="M335 291l-5 7v6l-2 3l-1 75h21l-1 -77l-2 -5zM676 271l-5 -2l-4 1v2l-3 2h-4l-1 -2l-4 1l-1 3h-4l-1 -2h-5l-4 4l-4 9l-3 13l-1 30l-3 4l-1 -1l-2 2h-3l-1 2l-32 -2v3l-7 6l-3 7l-1 -1v-4l-2 36h110l-2 -98l-2 -4l-7 -6zM226 0h-104l-32 39l-8 21l-16 32l-1 6l-13 11l-1 37l-3 9l-3 5l-19 20l-4 8v34l-1 1l1 45l-1 6l-1 1l-1 -1v-3l-4 12l-1 -3l-3 11l-3 48l-4 25l-4 12v6h110v-25l1 -1l2 2l5 1v23h72v-11l1 -1l4 3v9h39l9 -68l1 1v54l5 -50v-97l1 -10l8 -7l11 -5v-14l2 -9l-2 -6v-38l-10 -18l-9 -46z"/>
<path fill="#d5ff21" stroke="#d5ff21" d="M335 294l-5 8v10l-1 1l-1 69h19l-2 -76l-2 -4zM675 273l-4 -2l-4 1l-2 4l-5 1l-1 -2h-3l-4 4h-2l-1 -3l-5 1l-2 2l-6 13v5l-3 11v22l-4 6l-1 -2l-1 2h-4l-1 2h-22l-5 -2l-5 1v2l-5 5l-4 8v29l-1 1l-1 -1v-30v31h107l-3 -97l-7 -8zM226 0h-104l-32 39l-8 21l-16 32l-1 6l-12 10l-1 37l-2 7l-5 9l-19 20l-3 6l-1 62l2 10v15l-3 13v47l-1 1l-1 -1v-50l-3 54l-1 1l-1 -1v-35l-4 58l-5 21h56l4 -9l1 9h25v-52l1 -1h5l1 10l5 1v42h7v-84l1 -1l3 7l3 -3l1 1v40l6 -3l2 1v42h6v-47l1 -1l6 10v38h27l4 -4l1 2l5 -5l4 4v3h10v-48l1 -1l4 4v45h23v-8l3 -6l3 -15l1 1v28h1l4 -19l4 -31v-30l1 -1l4 -58l4 -7l1 1v16v-11l5 -11v-18l9 -8l11 -5v-14l2 -9l-2 -6v-38l-10 -18l-9 -46z"/>
<path fill="#effe08" stroke="#effe08" d="M14 373l-1 9h1zM335 296l-5 9l-1 77h16l-2 -75zM676 276l-5 -3l-4 1l-1 4l-6 1l-1 -2l-4 1v2l-4 2l-2 -1v-2l-5 1l-4 6v3l-4 9l-2 16v17l-5 7l-1 -2l-2 2h-3l-1 2h-13l-10 -2l-9 1v2l-6 7l-2 6v28h102l-2 -83l-2 -14l-4 -5zM122 0l-32 39l-8 21l-16 32l-1 6l-12 10v37l-2 3l-1 6l-8 12l-14 14l-5 9l1 2l-1 55l2 13l2 4l-1 28v-9l1 -1l1 1v8h2v-8l3 -2l2 1v76l9 -1l1 1v15h6v-98l2 -1l5 3l1 -8l3 -2l4 1v115l3 -1l4 -8v-35l9 -10v-13l6 -4h3v-49l1 -1l5 1l1 3l5 1v59l4 1l3 8v-80l7 -9l1 1v39l7 -8l1 1v59l1 -1l5 7v-72l1 -1l6 10v70l5 7v9l5 8v8h13v-44l8 -2l1 3l5 -1l4 4v25l6 6v9h4v-84l1 -1l4 4v59l8 6l5 -10l2 -2l1 1v27h5l2 -2v-48l2 -3l4 -24l1 1v33l7 -56l2 -42l9 -19l1 1v5l3 -8v-5l8 -8l14 -7v-14l2 -9l-2 -6v-38l-10 -18l-9 -46l-24 -69z"/>
<path fill="#ffe100" stroke="#ffe100" d="M335 299l-4 7v13l-1 1v62h13l-2 -75zM674 277l-3 -2l-4 1l-1 4l-6 2l-2 -2l-3 1l-1 3l-4 1l-1 -3l-5 1l-4 7l-4 13l-1 28l-6 9l-1 -2l-2 2h-3l-1 2l-32 -2v3l-6 8l-1 31h99v-16l-2 -9l-1 -65l-1 -7zM226 0h-104l-32 39l-8 21l-16 32l-1 6l-11 9l-1 40l-3 9l-5 8l-19 20l-2 4v57l3 13h2l5 -3l1 3l9 -5l3 6l4 2l1 -8l6 4l7 -2l1 1v26l7 -2v-18l9 -1l3 -3h6l1 -10l5 1l1 2l5 2v8h3l3 3l1 8v-42l2 -10l-1 -38l1 -1l4 1v10l2 6v30l4 -8l2 -2l2 1v55l2 -1l4 7v-63l1 -1l6 3v67l5 8v8l5 8v20l2 4l4 1v34l7 -7v-72l1 -1l7 5l1 4l9 7v26l6 5v24l4 4v-103l1 -1l4 4v59l8 7l7 -15l1 1v35l7 -13v-48l3 -10l2 -22l1 -1l1 1v32l4 -44l4 -8l1 -7l9 -23h11l15 -8v-14l2 -9l-2 -6v-38l-10 -18l-9 -46z"/>
<path fill="#ffc300" stroke="#ffc300" d="M335 301l-3 6l-2 75h11l-2 -74zM675 280l-4 -3l-3 1l-1 3l-6 3l-5 -1l-3 4l-3 1l-2 -3l-5 3l-6 17l-1 27l-3 6l-4 4l-1 -2l-5 1l-1 3l-1 -1h-18l-4 -2l-9 1v3l-5 6l-1 31h95l-2 -89zM122 0l-32 39l-8 21l-16 32l-1 6l-11 9l-1 43l-6 13l-22 24v56l1 6l2 4l5 -3l3 2l7 -4l8 4l1 -5l6 3l7 -2l1 8h6l3 -5l6 -1l3 -4l4 -2l3 1l1 -7h5l1 2l5 1v9h3l3 -2l1 -2v-40l1 -1v-42l5 -5l2 2v29l4 10l4 4v14l6 1v-15l1 -1l6 3v17l5 8v9l5 7v21l6 8v35l7 2v-70l1 -1l7 11l2 7l8 10v25l6 6v24l4 3v-92l1 -1l4 1v52l8 7v-3l7 -14l1 1v34l7 -16v-48l6 -8l1 4l6 -10l11 -39l1 -1h26v-8l2 -9l-2 -6v-38l-10 -18l-9 -46l-24 -69z"/>
<path fill="#ffa600" stroke="#ffa600" d="M335 304l-2 4l-1 74h7l-1 -56l-1 -1v-17zM671 279l-3 1l-3 5l-5 2l-2 -2l-3 1v2l-3 2l-4 -2l-5 3l-5 15l-1 26l-3 7l-5 5l-1 -2l-5 1l-1 2l-32 -2v3l-4 6l-1 30h92l-1 -98zM122 0l-32 39l-8 21l-16 32l-1 6l-10 8v22l-1 1l-1 24l-7 13l-19 19l-2 4l1 54l2 4l6 -3l2 3l8 -4l7 3l1 -4l7 1l6 -3l1 8h3l4 -2l1 -4l8 -3l1 -2l8 -1v-4l4 -2l7 1l1 8h3l4 -12l1 -64l5 -5l6 6v12l4 10v16l6 2v-14l1 -1l6 2v15l8 4l2 2v3l6 6v31l7 11v-40l1 -1l13 16l4 1v18l6 6v24l4 4v-61l1 -1l4 1v21l7 7l8 -20l1 1v34l7 -18v-15l6 -6l1 4l6 -12l3 -10v-6l7 -21v-5l9 -8l19 -8v-35l-10 -18l-9 -46l-24 -69z"/>
<path fill="#ff8800" stroke="#ff8800" d="M335 307l-2 75h5l-1 -31l-1 -1v-43zM671 281l-3 1l-1 3l-6 4l-4 -1l-5 5h-2l-1 -2l-5 2l-5 14l-1 26l-3 7l-6 6l-1 -2l-5 1l-1 2l-22 -1l-1 -2l-9 1v3l-3 4l-1 30h90v-83l-1 -1v-13zM122 0l-32 39l-8 21l-16 32l-1 6l-10 8v40l-2 10l-5 9l-22 23l1 52l1 2l6 -3l2 3l8 -4l7 2l1 -5h5l7 -4l2 1v8l7 -2l1 -4l8 -2l2 -2l7 -1v-4l2 -2l6 -1l3 -2l1 9l3 -1l3 -21l2 -2v-42l4 -5l-1 -12l-3 -5v-20l2 -6l3 -1l10 8v64l1 2l5 3v-15l1 -1l6 3v14l4 1l1 3l5 2v4h2l4 6v8l7 9v-13l1 -1l11 17l6 4v4l6 1v14l4 4v-31l1 -1l4 1v8l3 -1l10 1l3 2v4l7 2v-5l3 -2l3 -5l1 3l4 -8l8 -35l13 -12l19 -8v-35l-10 -18l-9 -46l-24 -69z"/>
<path fill="#ff6b00" stroke="#ff6b00" d="M335 326l-1 56h2zM671 283l-4 2l-1 4l-6 3l-1 -2l-3 1l-2 4l-4 1l-2 -2l-4 2l-4 10l-1 28l-3 8l-7 6l-1 -2l-2 1l-3 -1l-1 3l-15 -1l-8 -2l-9 1l-2 7l-1 28h89l-2 -83l-1 -1v-13zM226 0h-15l-6 21l-13 36l-53 60v61l10 6v4l4 3l2 4v9l7 11v-13l1 -1l13 22l4 2v4l6 1v4l4 -1v-15l1 -1l4 2v8l7 -1l8 2l1 5l2 1h5v-5l3 -2l3 -5l1 3l9 -32l1 -43l15 -26l9 -8v-5l-9 -42zM132 0h-10l-32 39l-8 21l-16 32l-1 9l2 8l-11 11l-1 30l-2 9l-2 1l-3 7l-21 21l1 48l6 -2l1 3l9 -4l6 1l2 -6l10 -5l4 1v8l7 -2l2 -4h4l6 -3l6 -1v-5l11 -8l1 8l3 -3v-5l5 -4v-42l4 -5l-1 -12l-3 -5v-20l3 -7l5 2l9 8v51l4 2z"/>
<path fill="#ff4d00" stroke="#ff4d00" d="M335 373v9zM671 285l-4 2v25l-1 1l-4 -20l-7 1v2l-4 3l-2 -2l-5 2l-3 7l-1 30l-4 9l-6 5l-2 -2h-5l-1 2l-22 -1l-3 -2l-7 1l-2 34h86zM226 0h-15l-6 21l-13 36l-53 60l1 23l4 12v6l5 8v7l4 4l2 5v9l7 14v-13l1 -1l9 18l4 6l4 3v4l5 1l2 5h3v-15l3 -1l2 2l1 8l14 1l1 5l7 1v-5l4 -4l1 -8l1 -1l1 1v6v-4l7 -25l1 -35l17 -30l9 -8v-5l-9 -42zM129 0h-7l-32 39l-8 21l-17 35l2 14l-11 11v27l-3 15l-2 1l-3 6l-21 20l1 18l7 4v17l2 2l12 -2l2 -2l1 -10h7l6 -2l1 10l7 -2l1 -3l16 -3l1 -7l7 -7l4 -6l1 1v8l3 -5v-7l5 -1v-29l4 -5v-7l-2 -8l-2 -2v-20l3 -7l-3 -11l-1 -11z"/>
<path fill="#ff3000" stroke="#ff3000" d="M667 297v74l-1 1l-1 -1l-2 -20l-4 -20v-36l-4 2l-1 5l-1 -1l-3 1l-2 -2l-3 1l-2 3l-1 26l-2 11l-6 9l-4 2l-2 -1v-2l-5 1l-1 2l-18 -1l-5 -2l-9 1l-1 32h83l-1 -51zM226 0h-15l-6 21l-14 39l-7 28l-35 35v27l3 5l3 10v14l7 15v-16l1 -1l1 1l2 10l9 18l5 4v5l4 1l2 2v3l4 1v-15l1 -1l4 3l1 8l12 1l3 2l1 4h6v-5l2 -3l3 -17l1 -1l1 1v6v-4l4 -13l1 -31l4 -4l16 -29l9 -8v-5l-9 -42zM129 0h-7l-32 39l-8 21l-16 32l-1 9l2 8l-10 10l-1 34l-3 12l-7 8l-11 9v17l10 8l1 4l5 2l1 -10l5 4l8 -2l1 10l7 -1l1 -3l14 -1l3 -3v-9l5 -8l3 -2l3 -6l1 1v9l3 -6v-13l5 -1v-9l4 -5l-1 -12l-3 -5v-20l3 -7l-3 -11l-1 -11z"/>
<path fill="#fe1200" stroke="#fe1200" d="M667 355v27h3zM649 303l-4 1l-2 4l-1 30l-2 9l-5 5l-1 7l-5 12l-1 -1v-19l-5 1v16l-1 1l-17 -17l-14 -2l-1 2v30h69v-45l-4 -23v39l-1 1l-1 -1l-4 -23zM226 0h-15l-6 21l-14 39l-7 26l-3 23l-14 19l-12 12v19l7 25v-29l1 -1l5 16l5 24l3 6l4 3v5l6 4v3l4 1v-14l2 -1l3 2l1 9l14 2l1 5h7v-15l2 -3l3 -17l1 -1l1 1v7l2 -12l-1 -16l8 -10l16 -29l9 -8v-5l-9 -42zM129 0h-7l-32 39l-8 21l-17 35l2 14l-10 10v31l-2 13l-3 7l-1 -1l-4 5l-5 3l3 4v6l4 10l2 2l1 -9l6 8l7 -2l1 1v10l7 -1l1 -3h6l3 -3h4l4 -5v-9l5 -9l2 -1l3 -13l1 -1l1 1v13l2 -6l1 -26l5 -5v-18l3 -7l-3 -11l-1 -11z"/>
<path fill="#da0000" stroke="#da0000" d="M655 366v16h2zM628 363l-1 3l-4 -2v18h5zM591 352l-1 30h25l-16 -16v-13zM645 308l-2 35l-3 6v7l-4 13v9l-2 4h16l-1 -2v-52zM162 154l-1 1l1 7zM226 0h-15l-6 21l-14 39l-7 26l-3 23l-12 16v28l7 29l4 9v10l5 3l1 5l4 2v-32l1 -1l4 20v8l7 3h8l1 5h5l2 -7v-19l3 -5l1 -10l2 -2l1 2l1 -10l8 -10l16 -29l9 -8v-5l-9 -42zM129 0h-7l-32 39l-8 21l-17 35l2 14l-9 9v24l-3 27l-3 6l-1 -2l-3 2l3 10l1 -8l6 11l7 -2l1 1v11l7 -1l1 -4l7 -1l3 -3h3l4 -5v-12l5 -18l2 -1v-4l1 -1l4 1v6l1 -9l7 -7v-18l3 -7l-3 -11l-1 -11z"/>
<path fill="#b60000" stroke="#b60000" d="M592 366l-1 16h8v-10zM644 352v5l-4 15v10h9zM226 0h-15l-6 21l-14 39l-7 26l-3 18v9l6 26l-6 15v4l3 4l1 6l-5 5v11l4 13l2 2v4l4 2v-35l1 -1l3 13l1 19l6 3l7 1l2 -10l1 1v13l2 -3l3 -13l2 -2l1 -38l17 -20l12 -7l11 -10v-5l-9 -42zM129 0h-7l-32 39l-8 21l-16 32l-1 9l6 17l-3 5l-1 5h-5l-2 2l-1 -2l-1 1v27l-2 10l1 11l1 1l7 -2l1 1v11l7 -1v-3l2 -2l7 -1l2 -3h3l2 -3l2 -7v-24l1 -3l-3 -3v-21l1 -3l20 -20z"/>
<path fill="#920000" stroke="#920000" d="M226 0h-15l-6 21l-14 39l-7 26l-3 18v9l6 23l-2 10l-4 8v4l3 4l2 7v26l4 4v-29l1 -1l3 13l1 15l7 4h4v-11l3 -19l1 -1l1 1v17l1 -6l6 -8v-20l18 -21l12 -7l11 -10v-5l-9 -42zM129 0h-7l-32 39l-8 21l-16 32l-1 9l6 17l-3 5v5l-2 2v6l-4 3h-4v21l-1 1l1 14l7 -1l1 4l7 -2v-3l3 -1l3 -9l5 -6l4 -1l3 -12v-4l-2 -2v-21l1 -3l20 -20z"/>
<path fill="#ffffff" stroke="#ffffff" d="M0 0v56h7v-13l1 -1h11l1 1v13h7l1 1v45h6v-13l1 -1h13l1 1v22h6l1 1v7h6l1 1v12h9v-6l1 -1h5v-21l1 -1h6l1 1v38h7v-23l1 -1h5l1 1v31h7l1 1v57h6v-42l1 -1h7v-38l1 -1h6v-13l1 -1h5l1 1v6h7l1 1v7h7l1 1v14h5l1 1v14h7v-14l1 -1h6l1 1v22h6l1 1v6h8v-14l1 -1h5v-6l1 -1h6v-14l1 -1h6l1 1v14h5l1 1v6h7l1 1v14h6v-6l1 -1h6l1 1v22h6l1 1v29h7l1 1v7h5l1 1v52h8v-30l1 -1h5l1 1v7h6l1 1v7h6v-45l1 -1h7v-22l1 -1h6v-29l1 -1h13v-52l1 -1h7v-15l1 -1h7l1 1v22h6l1 1v6h7v-21l1 -1h5v-15l1 -1h5l1 1v5h7v-5l1 -1h6l1 1v15h5l1 1v7h9l1 1v12h4v-12l1 -1h9v-14l1 -1h12l1 1v41h14v-52l1 -1h5v-11l1 -1h8v-29l1 -1h7v-31l1 -1h11l1 1v12h7v-6l1 -1h7v-16l1 -1h62l1 1v9h9l1 1v21h5v-12l1 -1h6l1 1v15h7l1 1v14h5l1 1v45h5l1 1v14h7l1 1v6h6l1 1v15h7v-15l1 -1h5l1 1v30h7l1 1v4h7v-27l1 -1h6l1 1v22h7v-37l1 -1h10v-7l1 -1h7l1 1v22h6l1 1v14h7l1 1v7h9v-14l1 -1h6v-15l1 -1h7v-6l1 -1h9l1 1v6h7l1 1v7h6l1 1v7h16l1 1v14h5v-14l1 -1h7l1 1v14h6v-7l1 -1h7v-142z"/>
</g></g>
<g transform="translate(1105.00 500.78) scale(0.5)" clip-path="url(#cp)"><g filter="url(#bl)">
<path fill="#0000b6" stroke="#0000b6" d="M0 0v382h779v-382z"/>
<path fill="#0000da" stroke="#0000da" d="M520 123l2 2v13l-2 3l-4 -8zM0 0v382h779v-382z"/>
<path fill="#0000fe" stroke="#0000fe" d="M490 96l1 1v45l-1 1l-9 -6v-26zM520 44l2 3l1 16l4 21v89l-2 12l-3 2h-3l-3 -2v-18l-4 -13l-5 -9v-42l9 -23v-22zM0 0v382h779v-382z"/>
<path fill="#0010ff" stroke="#0010ff" d="M490 55l1 1v61l8 -15l1 1v39l-1 1l-8 -6v20l-1 1l-9 -8v-85zM661 23l1 1v95l-4 7l-2 -17l-6 -6l-20 -33l4 -8zM10 0v60l-2 6l-1 15l-1 1l-1 -1v-25l-5 -5v331h779v-382h-254v9l2 10v168l-3 2h-7l-6 -3l-4 -12v-126l4 -10l5 -21v-17z"/>
<path fill="#0030ff" stroke="#0030ff" d="M490 30l1 1v34l8 -11l1 1v106l-1 1l-8 -10v20l-1 1l-9 -11v-19l-14 -8v-15l5 -7v-7l9 -15v-47zM664 19l1 1v92l-3 6v17l-4 5l-1 -1v-10l-4 -13v-10l-7 -9l-16 -27l4 -8zM15 0v77l-5 26l-3 45l-1 1l-1 -1v-92l-5 -5v331h779v-382h-252v63l4 23l2 5v63l-4 31l-2 1v3l-5 3h-3l-12 -5v-53l-1 -1l1 -3v-130h-385l-27 34l-7 7l-29 19l-9 8h-23l-3 -7v-7l10 -9l80 -45z"/>
<path fill="#0050ff" stroke="#0050ff" d="M549 89l3 4l-3 19l-1 -1v-21zM538 73l7 20v28l-7 46l-1 -1v-92zM491 0v40l8 -17l1 1v60l7 -19v-65zM15 0v111l-3 16l-1 19l-4 17v7l-1 1l-1 -1v-114l-5 -5v331h779v-382h-71l-17 101l-6 15l-8 5h-9l-6 13v16l-4 4l-1 -1v-10l-7 -26v-15l-18 -27l-2 -5l16 -26l31 -44h-149l1 16l4 22v78l1 1l-1 1v68l-2 2h-3l-1 4l-4 2h-6l-10 -4v-29l-7 -12v33l-1 1l-8 -16v19l-1 1l-9 -13v-19l-14 -11l-2 -11l1 -26l1 -1v-28l5 -8v-5l9 -9v-33l1 -4l2 -1l2 -4l1 -14h-365l-27 34l-7 7l-29 19l-12 11v23l-3 15l-2 -1l-5 -17v-10l-1 1v23l-1 1l-1 -3l-3 -2l-2 10l-5 -13v-11l-4 -11v-18l14 -13l80 -45z"/>
<path fill="#0070ff" stroke="#0070ff" d="M507 0h-7v43l7 -18zM492 0h-1v14zM5 80l-2 69l-1 1v39l-2 3v190h779v-382h-71l-17 101l-5 14l-7 4l-7 7v9l-4 8l-6 6v11l-3 3l-2 -1v-6l-4 -10l-3 -15l-5 -1l-1 -6l-13 -15l-6 -28l9 -19l43 -62h-144v64l4 18v-52l1 -1l7 27v19l3 7v-24l1 -1l8 17l2 10v12l-2 13v12l-7 52l-1 1l-1 -1v-45l-3 21v36l-7 3l-1 -1v-31l-4 33l-6 2v3l-6 3l-14 -4v-7l-2 -1v-3l-5 -12v18l-2 1l-6 -3l-1 -2l-1 7l-7 -3l-2 -2v-19l-14 -14v-5l-4 -14l4 -79l5 -5v-3l9 -12v-17l-6 -6l-6 -12h-347l-32 40l-8 21l-16 32l-1 9l2 9l-9 9l-4 24l-1 -1v-34l-5 5l-3 26l-1 1l-2 -1l-6 -24v19l-1 1l-1 -1l-4 -15v19l-1 1l-5 -14v-10l-4 -10v-23l-3 -7l-2 8v60l-5 16l-2 13v18l-2 4l-1 -1z"/>
<path fill="#008fff" stroke="#008fff" d="M533 0v12l4 24v-36zM500 0v7zM17 104l-2 12v39l-2 4l-3 15v17l-4 10l-1 -1v-47l-1 36l-4 7v186h481v-13l8 -3l2 1v15h25v-6l2 -2h4l4 2l1 6h252v-382h-71l-17 101l-5 12l2 14l-2 3l-1 6l-6 6h-4v2l-3 3v5l-10 8v9l-4 4l-1 -8l-5 -9l-2 -9l-5 -1v-20l-14 -17l-6 -28l9 -19l43 -62h-135v8l3 11l1 24l2 6v-23l1 -1l1 1l11 37v65l-3 26l-1 28l-2 4l-5 2l-2 -2l-8 4h-2l-1 -3l-4 1v3l-2 2h-3l-1 4l-4 2l-15 -2l-1 -8l-7 -2l-1 6l-8 -3l-1 6l-9 -4v-13l-9 -10v-2l-5 -4v-5l-6 -23l2 -61l2 -19l2 -7v-10l5 -6l1 -8l4 -2v-8l-8 -14h-347l-31 38l-9 23l-16 32l-1 9l2 9l-6 6v21l-4 24l-2 2l-2 -2v-47l-5 32l-1 1l-3 -4l-7 -2l-2 2l-5 -1v2l-2 1l-4 -2l-4 -10v-22z"/>
<path fill="#00afff" stroke="#00afff" d="M331 63l11 29v7l-2 3v12l-7 7l-3 -1v-56zM571 36l3 17l1 17l-1 1v19l-4 28l-1 -1v-79zM548 12v4zM17 132l-2 14v18l-3 11l-1 22l-5 10l-1 -1v-15l-5 9v182h288l1 -2l1 2h191v-52l1 -1l7 1l2 2v50l6 -3h2l1 3h7v-25l9 -2l1 -8h4l6 3v32h252v-382h-71l-17 101l-5 12l2 14l-2 3l-1 6l4 6v5l-2 2l-5 -1v-9l-6 6v10l-4 3v4l-10 7v10l-4 3l-1 -7l-7 -13l-3 -8v-5l-2 -2v-21l-14 -17l-6 -28l9 -19l43 -62h-131v8h5l2 -2l1 1v6l2 7l4 1v11l1 1v42l2 9v10l-2 12v78l-2 3l-10 4l-1 -2h-2l-8 4l-1 -3l-4 1l-1 4l-5 1v3l-6 3l-13 -2l-1 -8l-7 -2l-1 6l-8 -2l-1 6l-8 -1l-1 -10l-6 -5l-3 -7l-5 -5v-5l-4 -10l-4 -21l2 -71l6 -38l4 -4l1 -7l3 -4l-6 -12h-347l-31 38l-9 23l-16 32l-1 9l2 9l-6 6v52l-1 2l-3 1l-4 -3v-23v6l-2 3l-4 -3l-4 -6l-7 -1l-1 2h-5l-1 3h-4l-1 -2l-4 -1v-7z"/>
<path fill="#00cfff" stroke="#00cfff" d="M325 44l17 48v7l-2 3v12l-4 4v4l-5 4l-1 -3l-6 -3v-75zM576 31l1 1v73l-7 56l-1 -1v-122zM0 204v178h101v-32l1 -1l4 3v30h179v-20l4 -13l1 1v28l1 -4l4 5v-19l1 -1l6 7v16h120v-20l7 -2l4 1v21h9v-24l3 -2l7 -1l1 1v26h4l1 -2h9v-19l5 -2l1 -7l8 -1v-58l1 -1l9 5v50l1 -1l8 1v35h7v-55l1 -1l8 1l1 -7l10 3v42l6 4v13h4l1 -8l7 4v4h3v-13l1 -1l8 5l4 9h8v-15l1 -1l7 13v3h44v-30l4 -2l3 2l2 5v25h149v-382h-63v145l-2 2v5l-4 2l-1 -4l-2 1l-2 -1v-32l-15 -15l-4 10l2 14l-2 3l-1 6l4 6v4l3 3v4l-9 6l-1 -7l-6 5v7l-4 3v4l-10 8v10l-2 2l-3 -1v-6l-10 -18v-17l-2 -2v-5l-5 -1l-2 -10v-14l-7 -8l-6 -28l9 -19l43 -62h-102l-15 20l1 21l5 19l2 20v12l-7 67v29l-9 5h-3l-1 -2l-7 4h-3l-1 -3l-3 1l-1 3l-2 2h-3l-1 4l-4 2l-15 -1l-1 -8l-7 -1l-1 6l-8 -2l-1 7l-8 -1l-1 -9l-8 -4l-6 -9v-5l-4 -8l-3 -11l-3 -20l2 -79l3 -25l4 -17v-17h-344l-31 38l-9 23l-16 32l-1 9l2 9l-6 6v64l-2 1l-5 -5l-1 -15l-5 -5l-5 -9h-7l-1 2h-5l-2 4l-4 -1l-3 1l-1 -4h-3l-2 6l-1 38l-2 10l-6 9l-1 -1v-16l-2 5z"/>
<path fill="#08efef" stroke="#08efef" d="M753 108l1 1v40l-3 3v6l-9 4l-1 -1v-12l-3 2l-1 -1v-17l8 -9zM569 36h2l13 -12l49 -24h-58l-9 12v10l2 5zM0 208v174h53v-13l7 -18l1 1v30h24l1 -30l2 -1l3 2v9v-14l1 -1l9 5v-13l1 -1l4 3v8l7 5l1 28h14v-19l1 -1l10 16v4h11l1 -1l1 1h118l2 -14l1 1v13h3l4 -19l1 1v18h1l3 -13v-40l4 -11l1 1v29l1 -3l4 5v-19l1 -1l6 9v36l5 5v2h7l1 -9l9 8v-9l1 -1l5 5v-10l1 -1l8 10v7h64v-9l6 -15l1 1v23l7 -16v-10l2 -3h3v-24l1 -1l6 -1l4 1v38h9v-43l10 -6l1 1v44l4 -1v-21l10 -7v-18l1 -1l4 1l1 -7l8 4v-59l1 -1l4 3l5 8v48l9 4v55l7 -2v-70l2 -1l7 3l1 -8l10 5v41l6 3v38l4 2v-33l3 -1l5 3v12l3 2v-23l3 -1l3 1l7 9v32h8v-48l1 -1l7 11v33l3 5h4v-20l9 -1l1 -3l5 -1l3 1v24h19v-75l6 -2l3 2v64l3 11h3v-12l1 -1l3 13h139v-332l-12 24l-10 25l-25 25v27l-3 2l-2 -1v-2l-4 2l-1 5l-8 3v5l-4 2l-1 -5l-2 1l-2 -1v-14l-6 2l-1 2l-6 1v10l-1 1h-3l-5 4l-1 -6l-6 4v8l-4 3v7l-10 6v53l-4 3l-1 -1v-52l-3 -3l-7 -13v-16l-3 -7v-4v14l-1 1l-3 -6l-4 -18v-26l-5 -6l-6 -28l9 -19l24 -34l11 -18l-70 28l-12 6l-5 5v19l-5 33v42l-5 44l-2 2l-1 -1v-69l-4 53l-1 1v12l-3 3v3l-10 5h-2l-1 -2l-9 4l-2 -1v-2l-4 1l-1 4l-5 1v3l-6 3l-13 -1l-1 -7l-7 -2l-1 6h-8v10l-1 1h-8l-1 -1v-12l-6 -1l-8 -6v-6l-5 -9l-5 -20v-19l-1 -1l1 -89l3 -27l2 -7v-16h-149l13 48l16 44v7l-2 3v13l3 4v5l-11 6l-6 -3l-2 -4l-6 -4v-11l-7 -6l-61 -31l-24 -71h-104l-31 38l-9 23l-17 35l2 15l4 8l-4 7h-5l-1 6v60l-1 1l-6 -9l-1 -16l-5 -7l-4 -10h-8l-1 2l-5 1v2l-5 3l-2 -1l-2 2l-1 -4l-3 2l-2 7v42l-3 8l-5 4l-2 -1v-16z"/>
<path fill="#21ffd5" stroke="#21ffd5" d="M657 328l-2 54h2zM5 207l-5 5v170h5v-48l4 -8l3 -17l-3 -20l-4 -10zM500 201l-1 6h-8v72l9 5v54h7v-69l1 -1l8 5v-7l1 -1l6 3v-3l-3 -9l-3 5l-1 -1v-33l-9 -8v-17zM777 130l1 1l-1 38l-5 4l-5 1l-1 -1v-23l2 -2l1 -8zM452 120l1 1v18l-1 1l-1 -1v-18zM625 84l-9 11l-15 8l-8 8h-4l-4 7l-1 -1v-19l3 -3h-4l-6 44v47l-2 4l-5 5l-1 -1v-31l-1 22l-7 6l-1 5l-11 3l-1 -2h-2l-8 4l-1 -3h-3l-3 5l-4 1v108l6 2v38l4 2v-34l2 -1l6 3v12l3 1v-23l1 -1l5 1l7 8v37l8 14v-72l1 -1l7 11v33l5 9h2v-26l8 -3l3 -4l6 -2l1 1v65h7l2 -4h4l1 4h5v-104l8 -4l1 1v42l6 9v-27l1 -1l7 1v83h3v-93l3 -6l2 -12l1 -55l2 -6v-10l-8 -11v-16l-3 -8v13l-1 1l-3 -6l-4 -13l-1 -17l-9 -1v-17l6 -15zM779 50l-18 39v75l-10 5v121l-4 2l-6 -1v-120l-4 -1v-37l8 -9l11 -24l-24 24v44l-4 1l-1 -2h-4l-2 6h-7v56l-3 2l-2 -1v-56l-2 1l-2 -1v-14l-6 1l-2 2h-5v10l-7 3l-2 5l-1 -10l-6 5v16l-4 2v36l-10 6v146h117zM122 0l-31 38l-9 23l-17 35l2 15l4 8l-3 5v6l-2 2v6l-5 26v40l-1 1l-7 -17v-14l-10 -21h-6l-2 3l-5 1v7l-5 5l-1 -2l-2 2l-2 -1v-5l-3 3l-2 8v208h38v-46l4 -10l1 -18l2 -10l1 1v83h15v-28l2 -11l3 -3l10 3l1 -5l9 4v-13l1 -1l4 2v8l8 4v10l9 23v-24l1 -1l4 5v-12l2 -1l9 8v32h7v-22l1 -1l3 4l1 -7l4 5h3l2 2v19h12l1 -5l8 1l2 4h23l1 -5l9 2l1 -6l9 1l1 8h39v-33l5 -30l1 -1l1 1v40l4 -25l3 -9l1 1v26v-4l4 -13v-41l4 -9l1 1v32l1 -3l4 6v-19l1 -1l6 9v37l5 6v8l7 8v-21l1 -1l9 10v-9l1 -1l5 5v-10l1 -1l8 8v24l7 9h54l3 -7v-37l6 -14l1 1v25l7 -18v-6l5 -3v-16l10 -6l1 1v29l9 -1v-39l10 -12l1 1v44l4 -3v-21l10 -10v-16l1 -1l4 3l1 -5l8 5v-69h-8l-6 -2v-5l-6 -7l-4 -12v-17l-3 -21v-43l1 -1v-39l2 -17v-43h-144l13 48l16 44v7l-2 3v13l3 4v5l-4 4v2l-7 5l-6 -3l-3 -4l-7 -4h-52l-5 -8l-9 -46l-24 -70z"/>
<path fill="#3bffbc" stroke="#3bffbc" d="M5 213l-5 3v166h5zM24 208l-1 81l-1 1v22l2 15zM500 204v102l7 2v-103zM682 192l-6 4v186h6zM20 172l-3 2v25l-2 12v171h5zM705 171l-7 2h-6v209h13zM737 159l-5 2v203l-1 1l-4 -1v-63h-5v81h15zM766 158l-5 4v220h5zM629 154l1 1l-1 7l-1 -1zM453 155v131l4 -4v-24l10 -8v-15l5 -1l1 -8l8 -2v-4h-7l-2 -3h-4l-1 -5l-5 -1l-5 -4v-17l-3 -12zM41 155l-5 1v2l-2 1l-4 7v52l-2 20l-2 74l4 14v52l5 -4l1 8h14l3 -7v-196l-5 -10l-4 -13zM625 84l-8 10l-7 16l-8 8v20l-8 7l-1 -1l-8 9l-1 -1v-23l-1 1l-6 47v21l-5 3l-3 -1v-11l-6 5h-2l-1 5l-11 2l-1 -2l-8 4h-2l-2 -3l-3 1l-1 4l-5 1v79l6 2v38l4 1v-34l1 -1l7 2v13l3 1v-41l1 -1l3 1l5 5l4 9v46l8 12v-92l1 -1l2 4l2 15l3 5v37l6 8l1 -1v-25l3 -2h4l5 -4l6 1v79h7v-25l2 -2l4 -1l1 1v22l5 -1v-109l1 -1l4 1l3 -5l1 1v38l6 -6v-22l4 -10l3 -15l1 1v91l3 8v5v-120l4 -8l-4 -8v-12l-3 -7v13l-1 1l-7 -15v-10l-3 -12l-3 -3v-3l-4 -5v-19l6 -15zM453 43v36zM122 0l-31 38l-9 23l-17 35l2 15l4 7l-3 6v5l3 3v7l-5 25l-1 12l-4 6v200h1l8 -28l1 1v24l5 -24v-29l2 -2l4 1l5 7l4 2l1 -6l9 3v-13l1 -1l4 2v8l8 4v9l9 6v-9l1 -1l4 3v-11l1 -1l10 6v21l7 11v-27l1 -1l3 3l1 -6l3 3l6 2v38l5 1v-14l2 -1l5 2v-10l3 -1l8 3v19l10 1l1 5h12v-25l1 -1l9 3l1 -6l1 1l8 -1l1 1v25l5 1l1 -2l4 2l5 -1l7 3h7v-38l7 -8l2 -7l1 -42l5 -20l1 -1l1 1v44l6 -26l1 -1l1 1v29l4 -13v-37l-2 -2l-1 -7l5 -1l2 -4l1 1v34l1 -2l4 8v-21l1 -1l6 10v41l5 6v8l7 9v-21l1 -1l9 11l1 -10l5 6v-11l1 -1l8 7v24l12 13v19l2 3h14l1 -2l1 2h2l5 -13l1 1v12h2l6 -18l1 1v17h6l3 -9v-14l8 -20v-34l6 -8l1 1v19l7 -8v-4l5 -3v-16l10 -10l1 1v28l9 -6v-78l1 -1l5 -88l1 -1l1 -91l-7 -6l-16 -8l-24 -8l-25 -6l-11 -12h-54l13 48l16 44v5l9 7v16l-4 5l-4 -1v4l-4 3v5l-8 4l-1 -3h-5l-1 -3l-8 -3h-48l-2 -2v-2l-7 -11l-9 -46l-24 -70z"/>
<path fill="#55ffa2" stroke="#55ffa2" d="M699 348v34h6v-34zM283 263l-2 2v8l2 -5zM273 258v2zM457 221zM5 219l-5 1v162h5zM737 211l-5 2v169h5zM502 208l-2 1v66l7 4v-71zM534 203l-1 1v94l4 1v-96zM561 198l-1 4l-9 2l-4 -2l-4 3h-3l-1 2l6 15v33l3 2v-48l1 -1l6 13l6 6v63l8 15v-110zM584 163l-2 5l-1 24l-4 7v68l6 10h1zM43 157l-7 2v29l-2 12l-3 58l-1 1v59l6 14v33l8 -1l9 -22v-157zM625 84l-8 10l-7 16l-8 8v51l-6 6l-2 4l-1 -2l-2 16l-5 10l2 9l3 3l4 1l3 10l4 7v88l7 -2v-21l4 -2l3 1v16l5 -2v-95l1 -1l4 3l3 -3l1 1v32l6 -17v-15l7 -5l1 1v26l3 -22v-20l-3 -5l-1 8l-7 -6v-9l-3 -7l-3 -16v24l-1 1l-1 -1l-2 -10l-4 4l-1 -1v-29l5 -5v-19l6 -13zM122 0l-31 38l-10 24v58l-3 18l-1 1l-1 -1v-14l-1 -1l-4 23v24l-3 18l-4 7l-3 -1v154l8 -33l1 -1l1 1v17l1 -4l4 -4v-19l1 -1l3 3l9 17h2l1 -5l9 2v-15l2 -1l3 2v9l8 3v9l9 4v-8l1 -1l4 2v-10l3 -1l6 2l2 2v18l7 6v-22l1 -1l3 1l1 -5l9 4v34l5 2v-14l2 -1l5 2l1 -10l10 4v18l2 1l3 -1l6 3v16l4 1l1 -3l7 2v-35l2 -1l8 3l1 -6l5 1l4 -3l1 1v24h5l1 -3l7 -2l2 -3l6 -3l1 1v35h7v-85l4 -12v-7l2 -2v-29l10 -11v-8l-3 -13v-12l1 -1l12 6l8 7v36l1 -2l4 8v-65l1 -1l6 6v25l-2 10l2 4v54l5 8v8l7 10v-22l1 -1l9 13v-10l1 -1l5 7v-11l1 -1l8 6v25l12 10v19l7 9v23h9v-37l1 -1l2 3l5 -15l1 -1l1 1v18l8 -23l1 1v34l9 -25v-13l8 -18v-30l5 -5l2 1v20l3 -3l4 -1v-5l5 -3v-28l5 -41l4 -56l1 -1l1 1v124l9 -11v-198l-11 -9l-17 -8l-14 -4l-5 -6l-18 -32l-10 -11h-12l-1 119l-3 4v5l-6 6l-6 3v13l-8 36l-1 -1v-36l-4 1l-2 -1v-9l-2 -1h-43l-11 -6l-2 -6l-7 -11l-9 -46l-24 -70z"/>
<path fill="#6fff88" stroke="#6fff88" d="M2 263h-2v85l5 -2v-81zM537 205l-4 1l4 23zM561 201v38l5 9l3 13v-61zM644 199v12l3 -4v-4zM46 167l-1 4l-1 -4l-3 16l-5 46v94l7 12l3 -4l5 -15v-115l2 -5v-5zM105 146l1 1v17l-4 1l-1 -1v-14zM625 84l-9 12v43l-6 6l-2 -14h-4l-2 3v64l-7 6v2l7 5v75l7 -1v-19l1 -1l6 1v15l5 -1v-67l8 -1l1 4l5 -2l1 -3l6 -5v-2l-6 -6v-2l-4 -3l-2 -9v12l-1 1l-8 -1v-47l5 -5v-19l6 -13zM184 83l1 2l-5 29l-18 21v21l-2 2v22l-2 2h-7l-1 -1v-13l-4 -1v-41zM358 0v122l-7 9v6l-9 4l-3 11v104l-7 9l7 2v26l5 4l2 -1l5 4v20l7 7v28l9 14v-61l1 -1l2 2l6 -15l1 1v18l8 -25l1 1v37l9 -25v-13l8 -12v-30l5 -1v-17l1 -1l1 1v38l3 -1l4 1v-12l5 -39v-78l4 -3l7 7v37l5 -78l1 -1v-32l-8 -6l-12 -6l-16 -6h-3l-5 -6l-18 -32l-10 -11zM122 0l-31 38l-6 14v74l-7 43l-1 1l-1 -1v-22l-5 30l-1 34l-4 4l-3 -3l-2 -5v85v-4l3 -8l2 -2h3l2 2v20h3l2 2v-18l1 -1l8 20l3 11l3 1l1 -6l9 2v-30l1 -1l4 3v19l8 4v11l9 3v-9l1 -1l4 1v-15l1 -1l10 5v20l7 3v-21l1 -1l3 1l1 -5l7 2l2 2v30l5 1v-11l1 -1l6 2l1 -9l10 4v16l9 2l2 2v14l1 1h3l1 -2l7 2v-33l1 -1l9 3l1 -5l3 1l6 -5l1 1v23h1l12 -12v-2l8 -10l1 1v55l7 1v-146l13 -12v-23l2 -9l1 -1l16 7l14 12v57l3 11l2 2v9l7 12v-22l1 -1l9 14v-10l1 -1l5 8v-49l-4 11v4l-1 1l-1 -1v-43l-5 10l-1 -1l-3 8l-1 -1v-50l-18 -17l-15 -9l-12 -5l-9 -17l-14 13l-11 23l-8 11v21l-1 1l-6 -10l-3 2l-1 -1v-19h-3l-6 3l-1 -1v-144l-1 6l-17 48l-49 49v44l-10 1l-1 -1v-37l-15 -12l-3 -16v-5l19 -93z"/>
<path fill="#88ff6f" stroke="#88ff6f" d="M344 258l-2 7h2zM269 203l-11 5l-9 8v116l7 -9v-100l13 -12zM621 150l-5 3v15l-6 6l-1 -1v-15l-7 7v77l7 5v-26l1 -1l6 7v20l5 2v-39l8 -1l2 3l4 -2l3 -5l-2 -4l-5 -4l-2 4l-2 -2l-3 1l-3 -1zM410 70v87l1 -15l5 -22l9 -1l-1 -25zM206 16l-1 6l-17 47l-8 42l7 27l-2 9l-4 9v3l4 8l-2 4v33l-5 2l-6 -1v-24l-6 1l-1 -1v-22l-3 -3l-2 2v70l-1 1l-8 -1l-1 -1v-14l-4 -2v-56l-7 1v48l-3 1l-8 -3v-33l-5 -1v-31h-11v5l2 2l2 8v7l-4 5v7l-6 1v26l-3 1l-2 -2v-46l-9 2l-2 -12l-4 4l-8 55l-1 1l-1 -1v-22l-3 24v14l-2 8v43l5 12v-74l1 -1l1 1v25l1 1l1 24l5 25v7l3 11l3 2v-15l2 -1l8 5v-39l2 -1l3 3v25l8 5v20l9 4v-15l2 -1l3 2v-17l1 -1l10 6v24l7 2v-23l1 -1l3 1l1 -5l7 2l2 2v30l5 1v-11l1 -1l6 2l1 -8l8 2l2 2v15l4 2l1 -1l4 1l2 2v13l4 2l1 -2l7 2v-33l1 -1l9 3v-4l1 -1l3 1l6 -7l1 1v23l5 -5v-3l6 -7l6 -13v-32l1 -1l-5 -28v-12l-8 -24v-10l-5 -8v95l-1 1l-1 -1l-1 -9l-4 -13l-4 -1v-20l-10 -1zM363 0v93l-2 11l-1 16l-2 3v11l-7 6l-3 125l3 1v23l7 6v28l9 10v-74l1 -1l2 1l5 -22l1 -1l1 1v29l7 -24l1 -1l1 1v44l4 -13l5 -8v-13l5 -5l3 -1v-134l-12 -11l-2 -6l-6 3l-6 6v22l-1 1l-5 -13l-2 14l-1 1l-1 -1v-128z"/>
<path fill="#a2ff55" stroke="#a2ff55" d="M227 252v42l5 -7zM269 203l-11 5l-9 8v81l4 -10l1 -15l2 -8v-41l13 -12zM139 197v86l7 4v-88zM112 178v28l-1 1l-5 -1v35l8 6v32l9 5v-15l1 -1l4 2v-62l-5 -2v-27zM621 177l-5 7v11l-6 2l-1 -4l-1 2l-6 2v15l7 2l1 -2h3l3 3l5 1l1 -10l2 1l5 -1l1 3l5 -3l-5 -6l-1 4l-8 -1zM194 169v44l-6 1l-1 -2h-4v47l-1 1l-10 -3v-25l-7 -2v-31h-5v94l5 2v-11l3 -1l4 2l1 -9l8 2l2 2v16l3 1l2 -1l6 3v14l4 1l2 -2l6 2v-141l-7 3l-1 -8zM88 164l-7 46l5 50l2 11l3 2v-16l1 -1l9 8v-79h-6l-4 -2v-19zM377 162v47l5 -10zM367 104l-1 16l-5 12l-3 3v30l-3 9l1 27l2 11v78l9 7v-116l1 -1l1 1l1 8l3 -5l-3 -17l-1 6l-1 1l-1 -1zM391 101l-5 7v132l3 -6l6 -6v-89l-1 -1v-10l-2 -4v-22z"/>
<path fill="#bcff3b" stroke="#bcff3b" d="M146 256l-4 7v2l4 2zM160 247v27l5 2v-28zM194 228v43l-1 1l-5 -1l-1 -3l-4 -1v10l3 1l2 -1l6 3v14l4 1l2 -2l6 2v-59h-7l-1 -8zM114 214v22l4 1l5 5v-26zM630 204v2l1 -1zM621 196l-4 1l-2 4l-5 2l-1 -3l-7 5l6 4l3 -2l4 2l2 3h4zM88 195l-3 24l3 24l3 1v-18l9 -2l1 -5l-10 -4v-19zM367 140l-9 31l1 32l3 17l5 16z"/>
<path fill="#d5ff21" stroke="#d5ff21" d="M621 200l-5 2l-1 3l4 4h2z"/>
<path fill="#effe08" stroke="#effe08" d="M621 206v-2l-2 1z"/>
<path fill="#ffffff" stroke="#ffffff" d="M0 0v58h7v-13l1 -1h11l1 1v13h7l1 1v44h6v-13l1 -1h13l1 1v22h6l1 1v8h6l1 1v12h9v-7l1 -1h5v-21l1 -1h6l1 1v39h7v-24l1 -1h5l1 1v31h7l1 1v58h6v-43l1 -1h7v-38l1 -1h6v-13l1 -1h5l1 1v7h7l1 1v6h7l1 1v15h5l1 1v14h7v-14l1 -1h6l1 1v21h6l1 1v6h8v-13l1 -1h5v-7l1 -1h6v-14l1 -1h6l1 1v14h5l1 1v7h7l1 1v14h6v-7l1 -1h6l1 1v22h6l1 1v30h7l1 1v6h5l1 1v52h8v-29l1 -1h5l1 1v6h6l1 1v7h6v-44l1 -1h7v-22l1 -1h6v-30l1 -1h13v-52l1 -1h7v-15l1 -1h7l1 1v23h6l1 1v5h7v-20l1 -1h5v-16l1 -1h5l1 1v6h7v-6l1 -1h6l1 1v16h5l1 1v6h9l1 1v12h4v-12l1 -1h9v-14l1 -1h12l1 1v42h14v-52l1 -1h5v-12l1 -1h8v-29l1 -1h7v-30l1 -1h11l1 1v11h7v-5l1 -1h7v-17l1 -1h62l1 1v9h9l1 1v22h5v-13l1 -1h6l1 1v15h7l1 1v14h5l1 1v45h5l1 1v14h7l1 1v7h6l1 1v14h7v-14l1 -1h5l1 1v29h7l1 1v4h7v-27l1 -1h6l1 1v22h7v-37l1 -1h10v-6l1 -1h7l1 1v21h6l1 1v15h7l1 1v6h9v-14l1 -1h6v-14l1 -1h7v-7l1 -1h9l1 1v7h7l1 1v6h6l1 1v7h16l1 1v14h5v-14l1 -1h7l1 1v14h6v-6l1 -1h7v-144z"/>
</g></g>
<g transform="translate(1105.00 731.12) scale(0.5)" clip-path="url(#cp)"><g filter="url(#bl)">
<path fill="#0000da" stroke="#0000da" d="M0 0v382h779v-382z"/>
<path fill="#0000fe" stroke="#0000fe" d="M79 135l5 1v62l-1 1l-9 -1v-36l2 -9l1 -16zM161 134l1 1v20l-2 2v134l-1 1l-5 -7v-144zM392 101l1 1v21l2 11v64l-6 3l-1 -1v-96zM0 0v382h730v-95l4 -9l1 1v103h44v-382z"/>
<path fill="#0010ff" stroke="#0010ff" d="M269 212l3 9l1 14l-10 11v29l-5 6v15l-3 2l-1 -1v-72zM112 206l1 4l-2 5l-2 -3v-4zM27 161l1 1v81l-1 1l-1 -1v-81zM115 159l1 1v43l-4 1l-1 -1v-39zM404 136l5 9l5 5v21l-5 16l-1 10l-4 3l-1 -1v-62zM161 134l1 1v20l-2 2v138l-1 1l-5 -7v-148zM777 129l1 1v132l-5 1l-1 -1v-127zM83 126l1 9h5l3 6v13l-2 14v32l-1 1l-1 -2h-4l-1 6h-4l-4 2l-1 -5l-5 1l-2 -1v-66l7 -1zM179 112l2 2l6 26l-6 15v4l4 8l-2 3v146l-7 2l-9 -13v-178zM392 101l1 1v21l2 2v80l-6 3l-1 -1v-103zM0 0v382h695v-138l5 -3l1 1v140h5v-156l5 -9l1 1v164h18v-234l3 -3l2 1v2l4 -3l1 3l4 -7l1 1v240h7v-232l2 -2l3 3v231h22v-382h-569l-20 60l-7 30l-36 36v145l-1 1l-14 -17l-9 -24v-111l-10 -7l-3 -15v-5l19 -93z"/>
<path fill="#0030ff" stroke="#0030ff" d="M57 237l2 5v13l-1 1l-3 -1v-9zM27 157l1 1v89l-1 1l-3 -5v-68l1 -1v-13zM41 153l2 1v101l-1 1l-9 -7v-91zM235 135l1 1l-18 20v18l-1 1l-5 -13l-2 1l-1 -1v-11l9 -9l12 -6zM161 134l1 1v20l-2 2v142l-1 1l-5 -7v-152zM179 112l2 2l6 23l-3 11l10 9v164l-1 1l-6 -3h-4l-1 3l-4 -1l-2 1l-9 -13v-182zM400 107l6 1l2 9l6 12v24l1 1l-1 1v50l-10 4l-1 -1v-96l-4 -4zM392 101l1 1v21l2 2v19l4 10l-3 19l-1 40l-6 2l-1 -1v-11l-5 2l-1 -1v-73l3 -10v-13zM0 0v382h254v-75l-9 12v13l-1 1h-6l-1 -2l-5 1l-5 -1v-160l-1 -7l8 -10l15 -27l11 -10l3 3l7 14v38l2 5l-2 10v29l3 12v7l-10 11v29l2 2v11l-2 19l-3 75h405v-46l3 -10l6 -44v-22l5 -6l1 1v127h3v-130l6 -12l1 1v141h5v-175l5 -8l1 1v31l5 -5v-40l5 -10l1 1v205h9v-228l9 -5v-10l4 -4l1 2l1 -1v-3l8 -10l1 1v258h7v-165l-3 -3l-3 -60l2 -3l1 -7v-32l4 -8l1 1v43l3 3v231h6v-301l7 -18l9 -18v-45h-569l-20 60l-7 30l-36 36v148l-1 1l-14 -17l-9 -24v-114l-9 -6l-2 7v21l2 2l2 8v74l-2 3l-5 -3l-1 -12l-5 -8v-25l-5 -17v33l-2 11l-1 1l-3 -2l-1 1l-4 -5l-3 1v5l-9 6l-1 -5l-6 6l-1 -1v-86l1 -1l4 4h2v-2l6 -5l2 -4v-62l1 -1l1 1v65v-69l8 -19l30 -36z"/>
<path fill="#0050ff" stroke="#0050ff" d="M274 256l1 1v32l-1 1l-1 -1v-32zM401 110l2 12v-10zM401 54l9 13v31l4 10v25l3 4l4 1l-1 1v60l-6 4v11l-1 1l-9 1l-1 -1v-12l-8 3v13l-6 3l-1 -1v-10l-5 3l-1 -8l-5 3l-1 -1l-5 10l-1 24l-4 2l-2 -2v-89l1 -8l4 -3l2 1v3l5 -3v-3l5 -7l1 -22l9 -10l-2 -10l10 -36zM227 0l25 72l8 43l10 19v38l2 5l-2 10v29l2 5l1 14l-5 5v34l-5 1l4 4l-1 28l-1 1v74h386l1 -1v-15l8 -18v-13l5 -17v-59l9 -11v-6l5 -9l1 1v33v-4l3 -4v-32l6 -17l1 1v171h5v-194l5 -6l1 1v10l5 -6v-23l3 -10l2 -2l1 1v52l1 -7l3 -5l3 -13l2 -32l9 -7l1 -17l22 -20l9 -19l8 -22l9 -18v-45zM0 0v382h254l-2 -32l-3 -6l-3 -3l-3 1l-4 -2l-2 -3l-4 -1l-4 1l-2 -2v-3l-4 -2l-5 -10l-1 1l-5 -10l-3 -1l-4 4l-2 12v53l-1 1l-3 -1l-1 -41l-2 -8l-2 -3l-1 6l-6 -7l-4 -2l-1 4l-8 -4l-7 -11l-1 -10l-6 -9v9l-1 1l-5 -8v-11l-7 -10l-1 4l-9 -13l-5 -5l-9 -24v-9l-4 -12l-1 1l-1 -1l-1 -23v37l-5 9l-3 -3v-4l-5 -5v-12l-3 4l-2 -2l-1 1l-5 -7l-1 1l-3 -4l-4 1v5l-9 8l-1 -4l-5 9v28l-1 1l-1 -1v-51l-4 3l-2 6v44l-2 2l-11 -2l-1 2l-4 -1l-1 2l-9 -7v-5l-5 -4v8l-1 1l-5 -10v-59l1 -1v-20l4 -9l1 7l5 -3v-3l4 -3l5 -2l1 1l4 -1l1 2l6 -1v-4l2 -4v-7l4 -1l1 2l3 -2h3v-6l1 -1l6 1l1 -7l4 -1v-55l6 -12l7 -18l30 -36z"/>
<path fill="#0070ff" stroke="#0070ff" d="M436 147l3 2l1 -1l4 6l-2 17l-2 2l-1 -1l-4 7l-1 -1v-30zM401 54l13 19v40l3 6l9 1v13l-6 6v3l10 7v4l2 1l-2 2v17l-10 24v14l-2 2h-4v7l-3 2l-7 1l-1 -1v-10l-8 1v13l-6 3l-1 -1v-10l-5 6l-1 -8l-6 9l-3 11v5l-4 4l-3 1l-4 -4v-66l1 -1v-24l2 -17l5 -5l1 4l5 -8l2 -10l13 -14l-2 -10l10 -36zM227 0l25 72l8 43l10 19v38l2 5l-2 10v29l2 5l1 15l6 8l1 7l-3 3l-2 115l-1 1l-1 -1v-91l-6 104h55l1 -35l1 -1l1 1v35h4l1 -75l1 -1l1 -142l3 -2l1 1v219h303l3 -71l1 -1l1 1v71h3l5 -91l3 -9l3 -18l7 -7v-11l8 -13l1 -9l5 -12l1 1v29l3 -7v-33l6 -11l1 1v47l5 -2v-63l5 -9l1 1v11l5 -11v-16l5 -6l1 1v24l2 -14l7 -8v-6l9 -8v-8l23 -21l6 -12l11 -29l9 -18v-45zM0 0v382h249l-3 -30l-1 -1l-1 1l-8 -9l-6 -1l-3 -2v-4l-4 -2l-5 -10l-1 1l-6 -10l-1 1l-1 -1l-2 4l-3 16v45l-4 2l-5 -4l-1 -38v15l-1 1l-1 -1v-13l-4 -8l-5 -4l-1 3l-8 -5l-7 -11v-8l-7 -11v9l-1 1l-5 -8l-1 -13l-6 -8v3l-1 1l-16 -23l-7 -20v-9l-4 -11l-3 4v11l-4 8l-2 1l-10 -20l-2 -2l-1 1l-4 -6l-3 -1l-2 -4l-3 1l-1 6l-8 9v27l-1 1l-1 -1v-28l-1 1v28l-5 5l-1 -1v-41l-3 10l1 2v24l-7 8l-5 -2h-5l-1 2l-4 -1l-1 2l-9 -7v-5l-5 -4v8l-1 1l-3 -3l-4 -11v-42l-1 -1l2 -14l1 -25l2 -6l3 -5l1 7h2l3 -2v-3l7 -4l3 1l4 -2l1 2l5 -5l2 -9l4 -2l6 1v-3l3 -4l6 -1v-5l-4 -3l-4 -8l-2 -9l1 -8l15 -28l12 -29l30 -36z"/>
<path fill="#008fff" stroke="#008fff" d="M273 357l-1 25h1zM211 319l-3 4l-2 8v44l-2 7h39l-6 -32l-10 -6v-3l-4 -3l-5 -10l-1 1zM401 54l15 23l1 25l9 1v30l4 4v4l4 2l1 -7l6 3l7 15l-4 42l-3 12l-1 1l-1 -2l-4 4l-1 -1v-18l-4 8v6l-10 5v7l-6 2l-1 8l-9 2l-1 -1v-11l-8 2v13l-6 3l-1 -1v-9l-5 8l-1 -7l-6 15l-6 5l-4 1l-5 -6v-78l4 -40l5 -7l1 3l5 -12v-5l7 -7l6 -3l10 -38zM227 0l25 72l8 43l10 19v38l2 5l-2 10v29l2 5l1 15l4 4l3 7v4l3 3l1 7l-2 2h-3v40l-1 1v37l-1 1v37l-1 3h37l3 -83l1 -1l2 -60l1 -1l2 -73l2 -2l1 1v55l1 -54l6 -3h3l4 5v216h300v-112l2 -10l2 -3l1 1v105v-19l1 -1v-18l1 -1l3 -60l2 -4l14 -16v-12l8 -16l1 -10l5 -13l1 1v27l3 -10v-23l6 -8l1 1v27l5 -7v-41l5 -9l1 9l1 -5l4 -5v-10l5 -5l1 1v14l9 -9v-6l4 -3l2 -4l26 -24l6 -12l11 -29l9 -18v-45zM0 0v382h196l-1 -1l-2 1l-3 -3l-1 -35l-6 -9l-1 3l-8 -6l-7 -11v-8l-7 -11v8l-1 1l-5 -7l-1 -13l-6 -9l-1 4l-14 -19l-9 -24v-9l-4 -11l-3 5v11l-5 11l-3 -3v-3l-4 -5l-1 -6l-5 -6l-1 1l-5 -8l-1 1l-3 -4l-3 1l-1 7l-4 4v27l-5 8l-1 -4l-6 6l-1 -9l-6 5l-2 4l-11 -2l-1 2l-4 -1l-1 2l-9 -6v-5l-5 -4v8l-2 1l-4 -4l-3 -8v-70l1 -1v-13l3 -12l4 -7l1 8l5 -2l1 -5l7 -2l3 1l3 -2l1 1l4 -8l4 -4l8 -1l3 -3v-6l3 -6l-4 -7l-2 -9l1 -8l15 -28l12 -29l30 -36z"/>
<path fill="#00afff" stroke="#00afff" d="M211 324l-2 2l-2 8v45l-2 3h32v-13l-4 -16l-6 -4v-4l-4 -3l-5 -10l-1 1zM401 54l12 17l12 22l1 39h8l1 -7l7 6l8 17l-1 59l-1 4l-6 6l-7 1l-1 -5l-4 1l-1 3l-9 1v7l-6 2l-1 8l-9 1l-1 -1v-10l-8 2v13l-5 2l-1 4l-1 -1v-12l-5 10l-1 -6l-1 4l-4 4l-11 5l-6 -7v-83l5 -46l5 -9l1 2l2 -5h4l6 -6l6 -3l10 -38zM227 0l25 72l8 43l10 19v38l2 5l-2 10v29l2 5l1 15l4 4l3 7v4l3 3l1 4l-3 12l-2 112h29l1 -100l1 -1l1 1v24v-36l1 -1v-27l1 -1l3 -77l2 -2l10 -1l4 -2h3l4 4v219h299l1 -131l4 -7l1 1v24v-6l4 -8l10 -12l7 -12v-12l9 -26v-8l5 -9l1 1v23l3 -7v-19l6 -6l1 1v21l5 -5v-37l3 -3l2 -5l1 8l5 -7v-13l4 -3l2 1v16l9 -8v-6l5 -5h6l21 -19l9 -19l8 -22l9 -18v-45zM0 0v382h190l-3 -3l-1 -4l-1 -31l-2 -3l-1 2l-6 -5l-9 -13v-8l-7 -11v8l-1 1l-5 -7v-11l-7 -11v3l-1 1l-8 -13l-6 -7l-9 -24v-9l-4 -11l-3 6v11l-4 11l-2 1l-2 -3v-3l-5 -7v-4l-5 -7l-1 1l-4 -6l-3 -1l-2 -4l-4 3v34l-2 6l-7 8l-1 -5l-5 4l-2 -1v-8l-6 4l-1 3l-12 -1l-1 2l-4 -1l-1 2l-9 -6v-5l-5 -4l-1 9h-4l-4 -3v-100l3 -12l5 -7l1 7l5 -1l1 -5l7 -2l2 2l4 -4l1 1l7 -9l5 -2l5 1l2 -2v-6l3 -6l-4 -7l-2 -9l1 -8l15 -28l12 -29l30 -36z"/>
<path fill="#00cfff" stroke="#00cfff" d="M211 328l-2 4v10l-1 1v37l-1 2h27l-7 -23v-9l-4 -4l-5 -10l-1 1zM14 178l1 1v103l-1 1l-4 -30l-1 -28l-1 -1v-31l-1 -1l1 -9zM373 5l5 5l20 34l4 12l11 15l4 9l7 10l2 8v22l8 1l1 -6l7 6l8 17v10l2 4v34l-2 16v15l-9 7h-6l-1 -4h-3l-2 3l-9 2v6l-3 2h-3v7l-2 2h-4l-4 7l-1 -1v-16l-8 2v58l-5 7l-2 -1v-57l-2 5l-3 3l-1 -4l-12 6l-7 -1l-5 -7v-73l6 -61l6 -16l1 1l1 -3v-85zM281 382h25v-224l1 -1l4 4h6l5 -2l3 1l10 -3l4 4v3l2 3v215h286l3 -119l1 -1l1 1v77l2 -76l1 -1l1 1v55l1 -46l2 -11v-25l4 -5l1 1v19l3 -6l13 -17l5 -12v-22l4 -14l5 -10l1 -8l4 -4l1 1v24l3 -5v-18l6 -4l1 1v20l5 -6v-41l1 -1l5 4l5 -6v-10l-2 -2l1 -1l7 1v17l3 -3l5 -2l1 -6l2 -1v-5l49 -56l7 -15v-45h-552l25 72l8 43l10 19v38l2 5l-2 10v29l2 5l1 15l4 4l3 7v4l3 3l1 7l-2 2zM0 0v382h185l-2 -3v-13v14l-1 1l-1 -1l-2 -35l-2 -3l-1 1l-9 -14v-9l-7 -11v53l-1 1l-5 -3v-60l-7 -10l-1 3l-14 -20l-9 -23v-10l-4 -10l-3 6v11l-5 14l-3 -3v-4l-4 -5l-1 -6l-5 -7l-1 1l-9 -11l-4 3v47l-2 2l-7 1l-1 -5l-6 2l-1 -9l-5 2l-4 4l-10 -2l-1 2l-6 1l-7 -4l-1 -6l-5 -3v8l-6 4l-1 21l-1 1l-1 -1l-1 -97l1 -1v-42l2 -8l6 -7l1 8l5 -1l1 -5l4 -1l6 1l3 -4l1 1l4 -5l6 -4h9v-6l3 -6l-4 -7l-2 -9l1 -8l15 -28l12 -29l30 -36z"/>
<path fill="#08efef" stroke="#08efef" d="M211 332l-2 49l-1 1h20l-2 -27l-8 -15l-1 1zM160 313v69h18l-1 -18l-1 8l-9 -5v-43zM28 265v117h46v-101l-7 -1v-8l-6 1l-1 3l-12 -1l-1 2l-4 -1l-2 2l-7 -4l-1 -6zM119 233l-3 7v67l-5 8l-3 -2v-53l-5 -7v-5l-4 -6l-3 -1l-4 -7v13l-1 1l-3 -4v19l-1 7l-3 5v107h70v-78l-7 -11v26l-1 1l-9 -11v31l-1 1l-7 -6v-6l-6 -7v-78zM299 212l1 1v13l-1 1l-1 -1v-13zM459 180l2 15l-2 14l-1 -1v-27zM9 163l6 1v208l-1 1l-6 -7v-14l-2 -5l-3 -25l-1 -49l-1 -1l-1 -94l2 -6zM779 0h-67v123l9 -2v-3l51 -58l7 -15zM227 0l25 72l8 43l10 19v38l2 5l-2 10v29l2 5l1 15l4 4l3 7v4l3 3l1 7l-2 2v119h21v-134l1 -1l1 -90l1 -1l3 3h9l4 -2l3 1l10 -3l4 4v3l5 7v213h282v-128l5 -16l1 1v14l3 -8l1 9l3 -7v-25l3 -2l1 -5l1 1v24l9 -10l7 -13l2 -15l3 -10v-29l4 -8l5 -6v-5l5 -4l1 1v26l3 -3v-12l6 -6l1 1v20l5 -9v-28l-8 -6l-2 -6v-6l6 -15l18 -97h-340l9 10l20 34l4 12l11 15l4 9l7 10l2 8v11h7l1 2l1 -7l11 14l4 8v11l7 17v29l1 1l-1 26l-7 8v7l-8 5l-6 1l-2 -1v-4l-4 1l-1 3l-9 1v7l-6 2v61l-10 17l-1 -1v-78l-8 1v116l-5 7l-2 -2v-106h-5l-1 -5l-5 2l-1 -1l-11 2l-6 -5l-2 -4v-79l1 -1l3 -47l4 -23l-3 -3l5 -1v-90zM122 0h-122v382h19v-128l-2 -10v-30l-2 -12v-6l2 -2l2 -15v-36l2 -4l6 -4l1 8h4l2 -5l4 -1l6 1l3 -4l1 1l9 -7l3 -1l7 1v-5l3 -6l-4 -7l-2 -9l1 -8l15 -28l12 -29z"/>
<path fill="#21ffd5" stroke="#21ffd5" d="M212 339l-1 43h16v-4l-7 -20l-2 -12v18l-1 1l-1 -1l-4 -19zM160 317v65h7v-54zM147 297v85h7v-74zM67 276l-6 1l-1 2l-12 -1l-1 2h-4v102h24zM403 273l-8 15v94h8zM19 272v7l-2 8l-2 -7v-7v109h4zM28 269v113h5v-110zM98 266v71l-1 1l-5 -3v47h16v-8l-5 -2v-99zM119 236l-3 8v138h7v-135zM270 202v14l2 5l1 15l4 4l3 7v4l3 3l1 4l-1 22l-1 1v101h14l-1 -69l-1 -1v-30l-1 -1l-2 -65l-9 -8zM688 125l-3 10l-5 5v11l5 -1l4 -4l1 9l2 -5l3 -3v-17zM779 0h-67v114h13l47 -54l7 -15zM369 0l9 10l20 34l4 12l11 15l4 9l7 10l1 7l8 1l1 2l1 -7l4 7l8 9l3 6v11l7 15l1 5l1 -2l3 7l2 25v-14l1 -1l1 1l4 31v-4l1 -1l3 9l-2 20l-1 1l-1 -1v-7v4l-5 10l-1 -8l-5 7l-1 -3l-8 7v6l-2 2l-7 2h-6l-1 -4h-3l-4 4l-7 1v37l-6 12v86l-7 9h198v-80l4 -15l1 1v94h3l3 -13l1 1v12l2 -1v-68l1 -1l1 1v69h3l1 -82l1 -1v-78l5 -31l1 1v40l3 -5l1 1v10l3 -5v-98l2 -4l5 1v17l-2 2v78l9 -7l4 -30l3 -11v-8l5 -14v-27l14 -13l6 -3l2 -9l3 -5l19 -101zM227 0l25 72l8 43l9 18l21 10l17 14h11l4 -2l3 1l10 -3l4 4l6 12l1 -1l2 3v211h40v-63l-6 -6v-58l-20 -1l-5 -5l-2 -5v-72l3 -22l1 -29l3 -20v-101zM122 0h-122v147l2 -2l7 -1l1 1l4 -5l1 1v40l2 -1l2 -18v-35l1 -1l2 5l6 2v7l5 -1l1 -4l8 -1l1 2l12 -9l12 -1v-3l3 -6l-4 -7l-2 -9l1 -8l15 -28l12 -29z"/>
<path fill="#3bffbc" stroke="#3bffbc" d="M218 378v4h2zM147 374v8h7v-7zM160 367v15h7v-12zM19 356l-2 5l-2 -4v25h4zM403 341l-8 12v29h8zM48 282v100h6v-100zM61 281v101h6v-101zM28 273v109h5v-106zM119 267l-3 6v109h7v-107zM270 202v14l2 5l1 15l6 8l1 7l3 3l2 8l-3 120h10l-2 -61l-1 -1v-106l-7 -6zM486 184l6 3v84l-6 6l-1 -1v-91zM632 153v5zM610 133v11l1 -6zM369 0l9 10l20 34l4 12l9 13l13 6l9 6l1 8l1 -6l3 3l1 4l10 11l1 13l4 7l4 12l1 -2l5 15v-4l1 -1l4 12l1 12v-3l1 -1l1 1v5l4 15v81l-5 5l-1 -1v-28l-5 3l-1 -9l-5 3l-2 -4l-7 3v6l-10 11l-1 -3l-4 11l-1 -1v-20l-4 1v4l-10 22v85l-6 8v23h136v-164l-6 -4v-17l6 -1v-18l1 -1l10 1v11h8l1 -2l7 1v194h2l1 -53l1 -1l2 -55l1 -1l1 1v60l1 -29l4 -32v-96l5 -5l1 1v210h9v-239l3 -11v-23l6 -14l12 -14l7 28v4l-6 12v19l-6 6v150v-39l2 -17l3 -10v-78l4 -4v-3l-2 -3l1 -1l7 1v73l3 -18v-82l1 -1l6 8v22l-2 2v40l2 -11l7 -18l4 -20l3 -5v-6l5 -6v-109l11 -15zM227 0l25 72l8 43l9 18l21 10l15 12h13l5 -2l3 1l5 -2h5l9 13l1 -1l5 9v209h31v-63l-6 -7v-12l-5 -9v30l-1 1l-5 -7l-4 -30v-26l-1 -3l-4 -3l-2 -6v-78l3 -24l3 -51l2 -2v-92zM122 0h-122v90l8 -8v-6l6 -6l1 1v95h2v-6l2 -7v-95l2 -2l6 10h22l1 1l-18 19v13l-4 4v33h5l1 -4l10 1l3 -4l1 1l6 -4l6 -2l1 1l6 -1l3 -7l-4 -7l-2 -9l1 -8l15 -28l12 -29z"/>
<path fill="#55ffa2" stroke="#55ffa2" d="M371 380v2h5v-1zM485 241l-9 10v127l-1 1l-5 -1v-38l-4 2l-2 -1v-57l-4 4l-2 -1v-37l-3 3l-1 -3l-4 4v80l-2 2l-7 2l-1 2l-1 -4l-4 8l-1 -1v-58l-4 9v30l-10 18v40h65zM535 218v124l-1 1l-5 -15l-4 3l-1 -1v-23l-9 8l-1 -1v-85l-3 5v96l-5 3l-2 -1v-81l-7 8l-1 -1v-31l-4 5v150h52v-157zM288 213v38l-7 1l2 2l1 7l3 3l-2 118h4v-153l-1 -1zM595 108l1 1v18l-1 1l-2 -18zM32 100l-4 3v30h5v-32zM92 37l-37 25l-14 14v13l2 3v31h4l1 3l11 -3h8l3 -5l-4 -8l-2 -14l16 -31zM369 1l9 9l22 38l14 4l17 8l15 13v14l4 4v11l6 9l2 7v-3l1 -1l1 1l4 16v-7l1 -1l1 1l4 19l1 -2l1 1l4 18v27l2 2l7 1v-25l5 -1l2 2v26l4 1l1 -5l7 2v-11l2 -1l5 2v13h3v-10l1 -1l9 3v-2l2 -1l9 2v11h9v-19l6 -1v-18l10 -1l1 1v11h8l7 -3l1 1v11l5 -4l4 -1l4 -4v-25l5 -11l1 1v44l3 -3l6 -11v-28l3 -3v-23l5 -12l13 -16l1 -6l7 -14l34 -51l8 -10h-307zM227 0l25 72l8 43l9 18l21 10l13 10h15l5 -2l3 1l5 -2h5l3 2v2l6 7l1 -1l5 6l2 7l2 -17l2 -56l1 -4l4 -4v-92zM112 0h-97v151l1 1l1 -1v-10l2 -4v-79l15 -14z"/>
<path fill="#6fff88" stroke="#6fff88" d="M434 369l-4 7v6h4zM485 365l-9 1v16h9zM496 363l-4 1v18h4zM451 347l-1 1v34h8v-32h-3l-1 -3zM288 319l-1 63h2zM92 37l-33 22l-13 12v20l2 7v24l6 1l15 -3l1 -3l-4 -7l-2 -14l16 -31zM369 1l9 9l25 6l24 8l16 8l7 6v52l8 11v-3l1 -1l5 13v-9l1 -1l1 1l4 15v5v-6l1 -1l1 1l1 14l3 10v27l1 2l8 1v-25l4 -1l3 2v26l4 1l1 -5l7 2v-11l2 -1l5 2v13h3v-10l1 -1l6 2h3l1 -2l10 2v11h9v-19l6 -1v-18l10 -1l1 1v11l8 1l1 -2h3l3 -3l1 1v10l8 -9l5 -9v-23l5 -5l1 1v28l1 -16l3 -3l-4 -1v-10l4 -4h-11l-1 -10l5 -5l12 -6l21 -6l6 -11h-49l-3 -15l7 -7l12 -6l69 -27l8 -10h-40l-55 27l-4 4v51l-1 1l-2 -11l-5 -10v-9l-8 -14v43l-1 1l-10 -18v-56l9 -9h-190zM227 0l25 72l8 43l9 18l21 10l10 8h18l5 -2l4 1l9 -2l3 2l1 3l5 4l1 -2l7 7l1 -34l1 -1v-31l1 -1v-95zM15 83l2 -1l2 2v-26l12 -12l81 -46h-97z"/>
<path fill="#88ff6f" stroke="#88ff6f" d="M577 129v3zM561 120v6l3 1zM64 99l-12 10v11l1 1h5v-3l8 -8zM369 0l9 10l38 10l20 8l13 9h7l1 1l1 32v-42l1 -1l1 1v15l1 1l3 44v-47l1 -1l1 1v11l4 36v-21l1 -1l1 1l1 15l3 13v50l1 2l8 2v-50l1 -1l6 12v40l4 1l1 -5l7 2v-11l2 -1l5 2v12l3 1v-10l1 -1l6 2l7 -2l7 2v11h9v-19l6 -1v-62l-6 -10v-61h-9v17l-1 1l-6 -8l-3 -6v-4zM313 0l12 41v95l-6 3h-2l-1 -2h-39l13 6l8 6h20l5 -2l4 1l9 -2l3 2v2l6 3l1 -2l3 2l1 -1l2 1l1 -1v-61l1 -1v-90z"/>
<path fill="#a2ff55" stroke="#a2ff55" d="M343 123l-4 4v20l6 2v-24zM511 0v129l3 1v-10l1 -1l9 2l1 -3l10 3v11h9v-69l-9 -15v37l-1 1l-5 -8l-4 5l-1 -9l-4 4l-5 10l-1 -1v-87zM504 0h-12v129l1 1h3l1 -5l7 2zM470 0l6 10l-4 8v3l4 4v84l9 19v-128z"/>
<path fill="#bcff3b" stroke="#bcff3b" d="M485 0h-15l6 10l-3 5l-1 6l4 4l1 12l8 -16z"/>
<path fill="#ffffff" stroke="#ffffff" d="M0 0v57h7v-13l1 -1h11l1 1v13h7l1 1v44h6v-13l1 -1h13l1 1v22h6l1 1v8h6l1 1v12h9v-7l1 -1h5v-20l1 -1h6l1 1v38h7v-23l1 -1h5l1 1v31h7l1 1v57h6v-42l1 -1h7v-39l1 -1h6v-12l1 -1h5l1 1v6h7l1 1v7h7l1 1v14h5l1 1v14h7v-14l1 -1h6l1 1v22h6l1 1v5h8v-13l1 -1h5v-6l1 -1h6v-15l1 -1h6l1 1v15h5l1 1v6h7l1 1v14h6v-6l1 -1h6l1 1v22h6l1 1v29h7l1 1v7h5l1 1v51h8v-29l1 -1h5l1 1v7h6l1 1v6h6v-44l1 -1h7v-22l1 -1h6v-29l1 -1h13v-52l1 -1h7v-16l1 -1h7l1 1v23h6l1 1v5h7v-20l1 -1h5v-16l1 -1h5l1 1v6h7v-6l1 -1h6l1 1v16h5l1 1v7h9l1 1v11h4v-11l1 -1h9v-15l1 -1h12l1 1v42h14v-52l1 -1h5v-11l1 -1h8v-30l1 -1h7v-30l1 -1h11l1 1v11h7v-5l1 -1h7v-17l1 -1h62l1 1v10h9l1 1v21h5v-13l1 -1h6l1 1v16h7l1 1v14h5l1 1v44h5l1 1v15h7l1 1v6h6l1 1v14h7v-14l1 -1h5l1 1v30h7l1 1v3h7v-26l1 -1h6l1 1v22h7v-37l1 -1h10v-7l1 -1h7l1 1v22h6l1 1v14h7l1 1v7h9v-15l1 -1h6v-14l1 -1h7v-6l1 -1h9l1 1v6h7l1 1v7h6l1 1v6h16l1 1v15h5v-15l1 -1h7l1 1v15h6v-7l1 -1h7v-143z"/>
</g></g>
<g transform="translate(1105.00 961.46) scale(0.5)" clip-path="url(#cp)"><g filter="url(#bl)">
<path fill="#0070ff" stroke="#0070ff" d="M0 0v382h779v-382z"/>
<path fill="#008fff" stroke="#008fff" d="M0 0v382h143v-65l1 -1h43l1 1v65h591v-382z"/>
<path fill="#00afff" stroke="#00afff" d="M0 0v382h56v-67l1 -1h43l1 1v67h42v-70l1 -1h43l1 1v70h164v-76l1 -1h85l1 1v12h43l1 6h41l1 1v57h254v-382z"/>
<path fill="#00cfff" stroke="#00cfff" d="M0 0v298h56l1 7h43l1 -3h42l1 4h43l1 1v75h164v-90l1 -1h85l1 1v10h85l1 1v79h174v-53l1 -1h43l1 -8h35v-320z"/>
<path fill="#08efef" stroke="#08efef" d="M0 0v192l57 57v52h43l1 -10h42l1 10h43l1 1v21h164v-50l1 -1h85l1 1v15h85l1 1v34h174v-101l1 -1l44 44v18h35v-283h-502l13 65l13 49l10 30l7 17l13 23l20 20v43l-1 1h-164l-1 -1v-42l15 -15l9 -12l9 -17l7 -17l17 -55l13 -55l6 -34z"/>
<path fill="#21ffd5" stroke="#21ffd5" d="M0 0v192l57 57v47h43v-68l22 -22l22 21v69h43l1 1v12h164v-47l1 -1h42l1 -1h42l1 1v17h85l1 1v30h174v-87l1 -1l44 44v2h35v-267h-502l13 65l13 49l10 30l7 17l13 23l20 20v57l-1 1h-164l-1 -1v-56l15 -15l9 -12l9 -17l7 -17l17 -55l13 -55l6 -34z"/>
<path fill="#3bffbc" stroke="#3bffbc" d="M277 0l13 65l13 49l10 30l7 17l13 23l20 20v52h42l1 -2h42l1 1v16h85v-5l37 -38l16 -24l20 -42l17 -46v-3l2 -2l18 32l26 37l81 82h38v-262zM0 0v192l57 57v42h43v-63l22 -22l22 21v64h43v-86l15 -15l9 -12l9 -17l7 -17l17 -55l13 -55l6 -34z"/>
<path fill="#55ffa2" stroke="#55ffa2" d="M277 0l13 65l13 49l10 30l7 17l13 23l20 20v48h42l1 -4h42l1 1v16h86l36 -37l16 -24l20 -42l17 -46v-3l2 -2l18 32l26 37l75 76h44v-256zM0 0v192l57 57v38h43v-59l22 -22l22 21v60h43v-82l15 -15l9 -12l9 -17l7 -17l17 -55l13 -55l6 -34z"/>
<path fill="#6fff88" stroke="#6fff88" d="M604 49l-62 77l-19 52l-8 18l-11 18l-21 22v10h61l17 -18l10 -14l20 -38l10 -24l14 -40l-9 -57zM277 0l13 65l13 49l10 30l7 17l13 23l20 20v43h42v-58l-29 -29l-9 -13l-78 -147zM0 0v192l57 57v2h43v-23l23 -22l21 21v55h43v-77l15 -15l9 -12l9 -17l7 -17l17 -55l13 -55l6 -34z"/>
<path fill="#88ff6f" stroke="#88ff6f" d="M256 0h-256v192l53 53h47v-17l22 -22v-25l8 -19l5 -7l27 -27l19 -22z"/>
<path fill="#a2ff55" stroke="#a2ff55" d="M256 0h-256v192l48 48h52v-12l22 -22v-25l8 -19l5 -7l27 -27l19 -22z"/>
<path fill="#ffffff" stroke="#ffffff" d="M0 372v10h779v-10zM0 0v249h56v-121l1 -1h43l1 1v99h42v-37l1 -1h43l1 1v14h164v-14l1 -1h42v-22l1 -1h42l1 1v52h43l1 1v15h41l1 1v29h218v-67l1 -1h35v-197z"/>
</g></g>
<g transform="translate(1105.00 1191.80) scale(0.5)" clip-path="url(#cp)"><g filter="url(#bl)">
<path fill="#ffa500" stroke="#ffa500" d="M0 0v382h779v-382z"/>
<path fill="#ff0000" stroke="#ff0000" d="M268 292l1 1l-1 3l-1 -1zM339 178v23l-7 4l-7 44l3 29l-2 66l10 5l4 -114l1 -1l13 6l13 -36l-9 -11h-8l-7 -7zM433 0v170l2 8l1 14h29l27 -27l54 -46l58 -73l3 10l9 56l18 32l16 24l12 15v86l-21 102v11h105v-13l4 -35l9 -24l9 21l11 4v-335zM97 0v128l-39 13h-58v52l46 46v12l-2 1l9 13l14 -14l16 -29l7 12l8 -30h23l10 11v25l6 30l12 -5l2 1l15 26l19 12l9 23l11 13l11 -36l18 -15l13 20l4 27l8 16l11 10l-2 -63l1 -1l1 1l1 10h16v-46l-4 -5h-7l-3 -2v-8l-6 8v20l-1 1l-1 -1l-6 -21v-5l14 -13v-3h-16l-1 -7l4 -4l3 -1h-10l-1 -1v-8l6 -6l12 -7v-200z"/>
<path fill="#ffffff" stroke="#ffffff" d="M0 373v9h779v-9zM0 0v250h56v-122l1 -1h41l1 1v100h44v-37l1 -1h43l1 1v14h56l1 1v14h8l1 1v8h3l1 1v21h8l1 1v3h10l1 1v8h10v-34l1 -1h6v-23l1 -1h34v-4l1 -1h26v-9l1 -1h37v-23l1 -1h40l1 1v53h45l1 1v15h41l1 1v29h218v-67l1 -1h35v-198z"/>
</g></g>
</g>
<rect x="126.50" y="40.10" width="390.00" height="191.30" fill="none" stroke="#000" stroke-width="1.9"/>
<text x="110.10" y="52.10" text-anchor="end" font-size="29.3">4.1</text>
<text x="110.10" y="115.87" text-anchor="end" font-size="29.3">2.9</text>
<text x="110.10" y="179.63" text-anchor="end" font-size="29.3">1.7</text>
<text x="110.10" y="243.40" text-anchor="end" font-size="29.3">0.5</text>
<text x="455.10" y="76.40" font-size="29.3" font-weight="bold">(a)</text>
<rect x="126.50" y="270.44" width="390.00" height="191.30" fill="none" stroke="#000" stroke-width="1.9"/>
<text x="110.10" y="282.44" text-anchor="end" font-size="29.3">4.1</text>
<text x="110.10" y="346.21" text-anchor="end" font-size="29.3">2.9</text>
<text x="110.10" y="409.97" text-anchor="end" font-size="29.3">1.7</text>
<text x="110.10" y="473.74" text-anchor="end" font-size="29.3">0.5</text>
<text x="455.10" y="306.74" font-size="29.3" font-weight="bold">(b)</text>
<rect x="126.50" y="500.78" width="390.00" height="191.30" fill="none" stroke="#000" stroke-width="1.9"/>
<text x="110.10" y="512.78" text-anchor="end" font-size="29.3">4.1</text>
<text x="110.10" y="576.55" text-anchor="end" font-size="29.3">2.9</text>
<text x="110.10" y="640.31" text-anchor="end" font-size="29.3">1.7</text>
<text x="110.10" y="704.08" text-anchor="end" font-size="29.3">0.5</text>
<text x="455.10" y="537.08" font-size="29.3" font-weight="bold">(c)</text>
<rect x="126.50" y="731.12" width="390.00" height="191.30" fill="none" stroke="#000" stroke-width="1.9"/>
<text x="110.10" y="743.12" text-anchor="end" font-size="29.3">4.1</text>
<text x="110.10" y="806.89" text-anchor="end" font-size="29.3">2.9</text>
<text x="110.10" y="870.65" text-anchor="end" font-size="29.3">1.7</text>
<text x="110.10" y="934.42" text-anchor="end" font-size="29.3">0.5</text>
<text x="455.10" y="767.42" font-size="29.3" font-weight="bold">(d)</text>
<rect x="126.50" y="961.46" width="390.00" height="191.30" fill="none" stroke="#000" stroke-width="1.9"/>
<text x="110.10" y="973.46" text-anchor="end" font-size="29.3">4.1</text>
<text x="110.10" y="1037.23" text-anchor="end" font-size="29.3">2.9</text>
<text x="110.10" y="1100.99" text-anchor="end" font-size="29.3">1.7</text>
<text x="110.10" y="1164.76" text-anchor="end" font-size="29.3">0.5</text>
<text x="455.10" y="997.76" font-size="29.3" font-weight="bold">(e)</text>
<rect x="126.50" y="1191.80" width="390.00" height="191.30" fill="none" stroke="#000" stroke-width="1.9"/>
<text x="110.10" y="1203.80" text-anchor="end" font-size="29.3">4.1</text>
<text x="110.10" y="1267.57" text-anchor="end" font-size="29.3">2.9</text>
<text x="110.10" y="1331.33" text-anchor="end" font-size="29.3">1.7</text>
<text x="110.10" y="1395.10" text-anchor="end" font-size="29.3">0.5</text>
<text x="455.10" y="1228.10" font-size="29.3" font-weight="bold">(f)</text>
<text x="126.50" y="1421.10" text-anchor="middle" font-size="29.3">07:43</text>
<text x="126.50" y="1454.30" text-anchor="middle" font-size="29.3">03/31</text>
<text x="256.50" y="1421.10" text-anchor="middle" font-size="29.3">04:43</text>
<text x="256.50" y="1454.30" text-anchor="middle" font-size="29.3">04/01</text>
<text x="386.50" y="1421.10" text-anchor="middle" font-size="29.3">01:44</text>
<text x="386.50" y="1454.30" text-anchor="middle" font-size="29.3">04/02</text>
<text x="516.50" y="1421.10" text-anchor="middle" font-size="29.3">22:45</text>
<text x="516.50" y="1454.30" text-anchor="middle" font-size="29.3">04/02</text>
<rect x="615.40" y="40.10" width="390.00" height="191.30" fill="none" stroke="#000" stroke-width="1.9"/>
<text x="599.00" y="52.10" text-anchor="end" font-size="29.3">2.9</text>
<text x="599.00" y="115.87" text-anchor="end" font-size="29.3">2.1</text>
<text x="599.00" y="179.63" text-anchor="end" font-size="29.3">1.3</text>
<text x="599.00" y="243.40" text-anchor="end" font-size="29.3">0.5</text>
<text x="944.00" y="76.40" font-size="29.3" font-weight="bold">(g)</text>
<rect x="615.40" y="270.44" width="390.00" height="191.30" fill="none" stroke="#000" stroke-width="1.9"/>
<text x="599.00" y="282.44" text-anchor="end" font-size="29.3">2.9</text>
<text x="599.00" y="346.21" text-anchor="end" font-size="29.3">2.1</text>
<text x="599.00" y="409.97" text-anchor="end" font-size="29.3">1.3</text>
<text x="599.00" y="473.74" text-anchor="end" font-size="29.3">0.5</text>
<text x="944.00" y="306.74" font-size="29.3" font-weight="bold">(h)</text>
<rect x="615.40" y="500.78" width="390.00" height="191.30" fill="none" stroke="#000" stroke-width="1.9"/>
<text x="599.00" y="512.78" text-anchor="end" font-size="29.3">2.9</text>
<text x="599.00" y="576.55" text-anchor="end" font-size="29.3">2.1</text>
<text x="599.00" y="640.31" text-anchor="end" font-size="29.3">1.3</text>
<text x="599.00" y="704.08" text-anchor="end" font-size="29.3">0.5</text>
<text x="944.00" y="537.08" font-size="29.3" font-weight="bold">(i)</text>
<rect x="615.40" y="731.12" width="390.00" height="191.30" fill="none" stroke="#000" stroke-width="1.9"/>
<text x="599.00" y="743.12" text-anchor="end" font-size="29.3">2.9</text>
<text x="599.00" y="806.89" text-anchor="end" font-size="29.3">2.1</text>
<text x="599.00" y="870.65" text-anchor="end" font-size="29.3">1.3</text>
<text x="599.00" y="934.42" text-anchor="end" font-size="29.3">0.5</text>
<text x="944.00" y="767.42" font-size="29.3" font-weight="bold">(j)</text>
<rect x="615.40" y="961.46" width="390.00" height="191.30" fill="none" stroke="#000" stroke-width="1.9"/>
<text x="599.00" y="973.46" text-anchor="end" font-size="29.3">2.9</text>
<text x="599.00" y="1037.23" text-anchor="end" font-size="29.3">2.1</text>
<text x="599.00" y="1100.99" text-anchor="end" font-size="29.3">1.3</text>
<text x="599.00" y="1164.76" text-anchor="end" font-size="29.3">0.5</text>
<text x="944.00" y="997.76" font-size="29.3" font-weight="bold">(k)</text>
<rect x="615.40" y="1191.80" width="390.00" height="191.30" fill="none" stroke="#000" stroke-width="1.9"/>
<text x="599.00" y="1203.80" text-anchor="end" font-size="29.3">2.9</text>
<text x="599.00" y="1267.57" text-anchor="end" font-size="29.3">2.1</text>
<text x="599.00" y="1331.33" text-anchor="end" font-size="29.3">1.3</text>
<text x="599.00" y="1395.10" text-anchor="end" font-size="29.3">0.5</text>
<text x="944.00" y="1228.10" font-size="29.3" font-weight="bold">(l)</text>
<text x="615.40" y="1421.10" text-anchor="middle" font-size="29.3">14:48</text>
<text x="615.40" y="1454.30" text-anchor="middle" font-size="29.3">07/03</text>
<text x="745.40" y="1421.10" text-anchor="middle" font-size="29.3">17:26</text>
<text x="745.40" y="1454.30" text-anchor="middle" font-size="29.3">07/04</text>
<text x="875.40" y="1421.10" text-anchor="middle" font-size="29.3">20:05</text>
<text x="875.40" y="1454.30" text-anchor="middle" font-size="29.3">07/05</text>
<text x="1005.40" y="1421.10" text-anchor="middle" font-size="29.3">21:47</text>
<text x="1005.40" y="1454.30" text-anchor="middle" font-size="29.3">07/06</text>
<rect x="1105.00" y="40.10" width="390.00" height="191.30" fill="none" stroke="#000" stroke-width="1.9"/>
<text x="1088.60" y="52.10" text-anchor="end" font-size="29.3">2.0</text>
<text x="1088.60" y="115.87" text-anchor="end" font-size="29.3">1.5</text>
<text x="1088.60" y="179.63" text-anchor="end" font-size="29.3">1.0</text>
<text x="1088.60" y="243.40" text-anchor="end" font-size="29.3">0.5</text>
<text x="1433.60" y="76.40" font-size="29.3" font-weight="bold">(m)</text>
<rect x="1105.00" y="270.44" width="390.00" height="191.30" fill="none" stroke="#000" stroke-width="1.9"/>
<text x="1088.60" y="282.44" text-anchor="end" font-size="29.3">2.0</text>
<text x="1088.60" y="346.21" text-anchor="end" font-size="29.3">1.5</text>
<text x="1088.60" y="409.97" text-anchor="end" font-size="29.3">1.0</text>
<text x="1088.60" y="473.74" text-anchor="end" font-size="29.3">0.5</text>
<text x="1433.60" y="306.74" font-size="29.3" font-weight="bold">(n)</text>
<rect x="1105.00" y="500.78" width="390.00" height="191.30" fill="none" stroke="#000" stroke-width="1.9"/>
<text x="1088.60" y="512.78" text-anchor="end" font-size="29.3">2.0</text>
<text x="1088.60" y="576.55" text-anchor="end" font-size="29.3">1.5</text>
<text x="1088.60" y="640.31" text-anchor="end" font-size="29.3">1.0</text>
<text x="1088.60" y="704.08" text-anchor="end" font-size="29.3">0.5</text>
<text x="1433.60" y="537.08" font-size="29.3" font-weight="bold">(o)</text>
<rect x="1105.00" y="731.12" width="390.00" height="191.30" fill="none" stroke="#000" stroke-width="1.9"/>
<text x="1088.60" y="743.12" text-anchor="end" font-size="29.3">2.0</text>
<text x="1088.60" y="806.89" text-anchor="end" font-size="29.3">1.5</text>
<text x="1088.60" y="870.65" text-anchor="end" font-size="29.3">1.0</text>
<text x="1088.60" y="934.42" text-anchor="end" font-size="29.3">0.5</text>
<text x="1433.60" y="767.42" font-size="29.3" font-weight="bold">(p)</text>
<rect x="1105.00" y="961.46" width="390.00" height="191.30" fill="none" stroke="#000" stroke-width="1.9"/>
<text x="1088.60" y="973.46" text-anchor="end" font-size="29.3">2.0</text>
<text x="1088.60" y="1037.23" text-anchor="end" font-size="29.3">1.5</text>
<text x="1088.60" y="1100.99" text-anchor="end" font-size="29.3">1.0</text>
<text x="1088.60" y="1164.76" text-anchor="end" font-size="29.3">0.5</text>
<text x="1433.60" y="997.76" font-size="29.3" font-weight="bold">(q)</text>
<rect x="1105.00" y="1191.80" width="390.00" height="191.30" fill="none" stroke="#000" stroke-width="1.9"/>
<text x="1088.60" y="1203.80" text-anchor="end" font-size="29.3">2.0</text>
<text x="1088.60" y="1267.57" text-anchor="end" font-size="29.3">1.5</text>
<text x="1088.60" y="1331.33" text-anchor="end" font-size="29.3">1.0</text>
<text x="1088.60" y="1395.10" text-anchor="end" font-size="29.3">0.5</text>
<text x="1433.60" y="1228.10" font-size="29.3" font-weight="bold">(r)</text>
<text x="1105.00" y="1421.10" text-anchor="middle" font-size="29.3">17:04</text>
<text x="1105.00" y="1454.30" text-anchor="middle" font-size="29.3">11/01</text>
<text x="1235.00" y="1421.10" text-anchor="middle" font-size="29.3">11:15</text>
<text x="1235.00" y="1454.30" text-anchor="middle" font-size="29.3">11/02</text>
<text x="1365.00" y="1421.10" text-anchor="middle" font-size="29.3">05:26</text>
<text x="1365.00" y="1454.30" text-anchor="middle" font-size="29.3">11/03</text>
<text x="1495.00" y="1421.10" text-anchor="middle" font-size="29.3">23:38</text>
<text x="1495.00" y="1454.30" text-anchor="middle" font-size="29.3">11/03</text>
<path d="M126.50 40.10h-8.6M126.50 231.40v8.4M126.50 103.87h-8.6M256.50 231.40v8.4M126.50 167.63h-8.6M386.50 231.40v8.4M126.50 231.40h-8.6M516.50 231.40v8.4M126.50 270.44h-8.6M126.50 461.74v8.4M126.50 334.21h-8.6M256.50 461.74v8.4M126.50 397.97h-8.6M386.50 461.74v8.4M126.50 461.74h-8.6M516.50 461.74v8.4M126.50 500.78h-8.6M126.50 692.08v8.4M126.50 564.55h-8.6M256.50 692.08v8.4M126.50 628.31h-8.6M386.50 692.08v8.4M126.50 692.08h-8.6M516.50 692.08v8.4M126.50 731.12h-8.6M126.50 922.42v8.4M126.50 794.89h-8.6M256.50 922.42v8.4M126.50 858.65h-8.6M386.50 922.42v8.4M126.50 922.42h-8.6M516.50 922.42v8.4M126.50 961.46h-8.6M126.50 1152.76v8.4M126.50 1025.23h-8.6M256.50 1152.76v8.4M126.50 1088.99h-8.6M386.50 1152.76v8.4M126.50 1152.76h-8.6M516.50 1152.76v8.4M126.50 1191.80h-8.6M126.50 1383.10v8.4M126.50 1255.57h-8.6M256.50 1383.10v8.4M126.50 1319.33h-8.6M386.50 1383.10v8.4M126.50 1383.10h-8.6M516.50 1383.10v8.4M615.40 40.10h-8.6M615.40 231.40v8.4M615.40 103.87h-8.6M745.40 231.40v8.4M615.40 167.63h-8.6M875.40 231.40v8.4M615.40 231.40h-8.6M1005.40 231.40v8.4M615.40 270.44h-8.6M615.40 461.74v8.4M615.40 334.21h-8.6M745.40 461.74v8.4M615.40 397.97h-8.6M875.40 461.74v8.4M615.40 461.74h-8.6M1005.40 461.74v8.4M615.40 500.78h-8.6M615.40 692.08v8.4M615.40 564.55h-8.6M745.40 692.08v8.4M615.40 628.31h-8.6M875.40 692.08v8.4M615.40 692.08h-8.6M1005.40 692.08v8.4M615.40 731.12h-8.6M615.40 922.42v8.4M615.40 794.89h-8.6M745.40 922.42v8.4M615.40 858.65h-8.6M875.40 922.42v8.4M615.40 922.42h-8.6M1005.40 922.42v8.4M615.40 961.46h-8.6M615.40 1152.76v8.4M615.40 1025.23h-8.6M745.40 1152.76v8.4M615.40 1088.99h-8.6M875.40 1152.76v8.4M615.40 1152.76h-8.6M1005.40 1152.76v8.4M615.40 1191.80h-8.6M615.40 1383.10v8.4M615.40 1255.57h-8.6M745.40 1383.10v8.4M615.40 1319.33h-8.6M875.40 1383.10v8.4M615.40 1383.10h-8.6M1005.40 1383.10v8.4M1105.00 40.10h-8.6M1105.00 231.40v8.4M1105.00 103.87h-8.6M1235.00 231.40v8.4M1105.00 167.63h-8.6M1365.00 231.40v8.4M1105.00 231.40h-8.6M1495.00 231.40v8.4M1105.00 270.44h-8.6M1105.00 461.74v8.4M1105.00 334.21h-8.6M1235.00 461.74v8.4M1105.00 397.97h-8.6M1365.00 461.74v8.4M1105.00 461.74h-8.6M1495.00 461.74v8.4M1105.00 500.78h-8.6M1105.00 692.08v8.4M1105.00 564.55h-8.6M1235.00 692.08v8.4M1105.00 628.31h-8.6M1365.00 692.08v8.4M1105.00 692.08h-8.6M1495.00 692.08v8.4M1105.00 731.12h-8.6M1105.00 922.42v8.4M1105.00 794.89h-8.6M1235.00 922.42v8.4M1105.00 858.65h-8.6M1365.00 922.42v8.4M1105.00 922.42h-8.6M1495.00 922.42v8.4M1105.00 961.46h-8.6M1105.00 1152.76v8.4M1105.00 1025.23h-8.6M1235.00 1152.76v8.4M1105.00 1088.99h-8.6M1365.00 1152.76v8.4M1105.00 1152.76h-8.6M1495.00 1152.76v8.4M1105.00 1191.80h-8.6M1105.00 1383.10v8.4M1105.00 1255.57h-8.6M1235.00 1383.10v8.4M1105.00 1319.33h-8.6M1365.00 1383.10v8.4M1105.00 1383.10h-8.6M1495.00 1383.10v8.4" stroke="#000" stroke-width="1.7" fill="none"/>
<text transform="translate(50.2 135.75) rotate(-90)" text-anchor="middle" font-size="29.3">Height (km)</text>
<text transform="translate(50.2 366.09) rotate(-90)" text-anchor="middle" font-size="29.3">Height (km)</text>
<text transform="translate(50.2 596.43) rotate(-90)" text-anchor="middle" font-size="29.3">Height (km)</text>
<text transform="translate(50.2 826.77) rotate(-90)" text-anchor="middle" font-size="29.3">Height (km)</text>
<text transform="translate(50.2 1057.11) rotate(-90)" text-anchor="middle" font-size="29.3">Height (km)</text>
<text transform="translate(50.2 1287.45) rotate(-90)" text-anchor="middle" font-size="29.3">Height (km)</text>
<text x="810.5" y="1491.3" text-anchor="middle" font-size="29.3">Date (LTC)</text>
<rect x="1531.00" y="50.30" width="9.80" height="179.80" fill="url(#jet)" stroke="#000" stroke-width="0.8"/>
<text x="1555.6" y="241.70" font-size="29.3">0.0</text>
<text x="1555.6" y="181.77" font-size="29.3">0.5</text>
<text x="1555.6" y="121.83" font-size="29.3">1.0</text>
<text x="1555.6" y="61.90" font-size="29.3">1.5</text>
<text transform="translate(1637.00 140.20) rotate(-90) scale(1.018 1)" text-anchor="middle" font-size="29.3">EXT<tspan font-size="20.5" dy="4.5">355</tspan><tspan dy="-4.5"> (km</tspan><tspan font-size="20.5" dy="-10.5">−1</tspan><tspan dy="10.5">)</tspan></text>
<rect x="1531.00" y="281.30" width="9.80" height="179.80" fill="url(#jet)" stroke="#000" stroke-width="0.8"/>
<text x="1555.6" y="472.70" font-size="29.3">0.0</text>
<text x="1555.6" y="412.77" font-size="29.3">0.5</text>
<text x="1555.6" y="352.83" font-size="29.3">1.0</text>
<text x="1555.6" y="292.90" font-size="29.3">1.5</text>
<text transform="translate(1637.00 371.20) rotate(-90) scale(1.018 1)" text-anchor="middle" font-size="29.3">EXT<tspan font-size="20.5" dy="4.5">532</tspan><tspan dy="-4.5"> (km</tspan><tspan font-size="20.5" dy="-10.5">−1</tspan><tspan dy="10.5">)</tspan></text>
<rect x="1531.00" y="512.30" width="9.80" height="179.80" fill="url(#jet)" stroke="#000" stroke-width="0.8"/>
<text x="1555.6" y="703.70" font-size="29.3">0.6</text>
<text x="1555.6" y="643.77" font-size="29.3">1.4</text>
<text x="1555.6" y="583.83" font-size="29.3">2.2</text>
<text x="1555.6" y="523.90" font-size="29.3">3.0</text>
<text transform="translate(1632.10 602.20) rotate(-90) scale(1.024 1)" text-anchor="middle" font-size="29.3">ECR<tspan font-size="20.5" dy="4.5">355/532</tspan></text>
<rect x="1531.00" y="743.30" width="9.80" height="179.80" fill="url(#jet)" stroke="#000" stroke-width="0.8"/>
<text x="1555.6" y="934.70" font-size="29.3">0.0</text>
<text x="1555.6" y="874.77" font-size="29.3">0.1</text>
<text x="1555.6" y="814.83" font-size="29.3">0.2</text>
<text x="1555.6" y="754.90" font-size="29.3">0.3</text>
<text transform="translate(1632.10 833.20) rotate(-90) scale(1.020 1)" text-anchor="middle" font-size="29.3">PDR<tspan font-size="20.5" dy="4.5">532</tspan></text>
<rect x="1531.00" y="974.30" width="9.80" height="179.80" fill="url(#jet)" stroke="#000" stroke-width="0.8"/>
<text x="1555.6" y="1165.70" font-size="29.3">24</text>
<text x="1555.6" y="1105.77" font-size="29.3">48</text>
<text x="1555.6" y="1045.83" font-size="29.3">72</text>
<text x="1555.6" y="985.90" font-size="29.3">96</text>
<text transform="translate(1622.30 1064.20) rotate(-90) scale(1.000 1)" text-anchor="middle" font-size="29.3">LR<tspan font-size="20.5" dy="4.5">355</tspan></text>
<rect x="1531.00" y="1205.30" width="9.80" height="30.27" fill="#ff0000"/>
<text x="1556.2" y="1230.18" font-size="29" style="font-family:'Liberation Sans',Arial,sans-serif">Anthropogenic</text>
<rect x="1531.00" y="1235.27" width="9.80" height="30.27" fill="#ff9900"/>
<text x="1556.2" y="1260.15" font-size="29" style="font-family:'Liberation Sans',Arial,sans-serif">Polluted dust</text>
<rect x="1531.00" y="1265.23" width="9.80" height="30.27" fill="#ffff00"/>
<text x="1556.2" y="1290.12" font-size="29" style="font-family:'Liberation Sans',Arial,sans-serif">Dust</text>
<rect x="1531.00" y="1295.20" width="9.80" height="30.27" fill="#0000ff"/>
<text x="1556.2" y="1320.08" font-size="29" style="font-family:'Liberation Sans',Arial,sans-serif">Clean</text>
<rect x="1531.00" y="1325.17" width="9.80" height="30.27" fill="#808080"/>
<text x="1556.2" y="1350.05" font-size="29" style="font-family:'Liberation Sans',Arial,sans-serif">Unknown</text>
<rect x="1531.00" y="1355.13" width="9.80" height="30.27" fill="#ffffff"/>
<text x="1556.2" y="1380.02" font-size="29" style="font-family:'Liberation Sans',Arial,sans-serif">N/A</text>
<rect x="1531.00" y="1205.30" width="9.80" height="179.80" fill="none" stroke="#000" stroke-width="1.2"/>
<path d="M1540.80 230.10h6.5M1540.80 170.17h6.5M1540.80 110.23h6.5M1540.80 50.30h6.5M1540.80 461.10h6.5M1540.80 401.17h6.5M1540.80 341.23h6.5M1540.80 281.30h6.5M1540.80 692.10h6.5M1540.80 632.17h6.5M1540.80 572.23h6.5M1540.80 512.30h6.5M1540.80 923.10h6.5M1540.80 863.17h6.5M1540.80 803.23h6.5M1540.80 743.30h6.5M1540.80 1154.10h6.5M1540.80 1094.17h6.5M1540.80 1034.23h6.5M1540.80 974.30h6.5M1540.80 1220.28h6.5M1540.80 1250.25h6.5M1540.80 1280.22h6.5M1540.80 1310.18h6.5M1540.80 1340.15h6.5M1540.80 1370.12h6.5" stroke="#000" stroke-width="1.5" fill="none"/>
</svg></body></html>
